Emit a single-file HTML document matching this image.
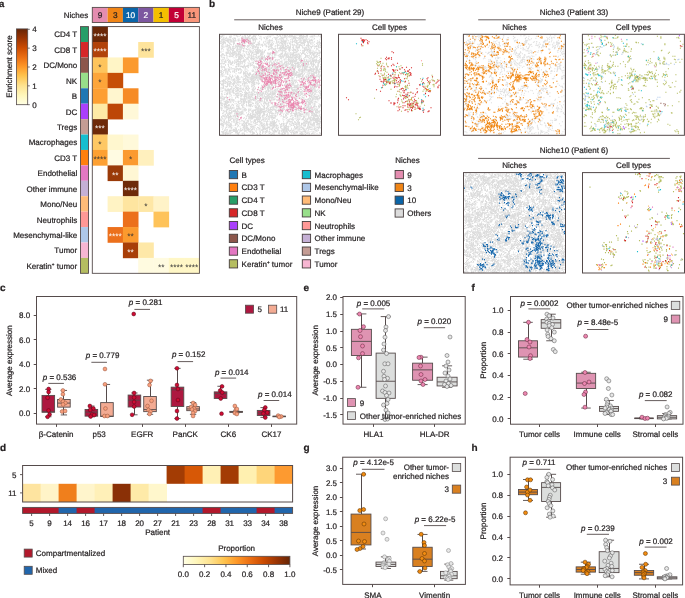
<!DOCTYPE html>
<html><head><meta charset="utf-8"><style>
html,body{margin:0;padding:0;background:#fff;}
svg{display:block;will-change:transform;}
text{font-family:"Liberation Sans", sans-serif;stroke-width:0.22px;text-rendering:geometricPrecision;}
</style></head><body>
<svg width="685" height="598" viewBox="0 0 685 598" font-size="8" fill="#231f20">
<rect width="685" height="598" fill="#fff"/>
<text x="-1" y="6.9" font-size="9.6" stroke="#231f20" font-weight="bold">a</text>
<defs><linearGradient id="gA" x1="0" y1="1" x2="0" y2="0"><stop offset="0" stop-color="#ffffe5"/><stop offset="0.12" stop-color="#fff7bc"/><stop offset="0.25" stop-color="#fee391"/><stop offset="0.38" stop-color="#fec44f"/><stop offset="0.5" stop-color="#fe9929"/><stop offset="0.62" stop-color="#ec7014"/><stop offset="0.75" stop-color="#cc4c02"/><stop offset="0.88" stop-color="#993404"/><stop offset="1" stop-color="#662506"/></linearGradient><linearGradient id="gD" x1="0" y1="0" x2="1" y2="0"><stop offset="0" stop-color="#ffffe5"/><stop offset="0.12" stop-color="#fff7bc"/><stop offset="0.25" stop-color="#fee391"/><stop offset="0.38" stop-color="#fec44f"/><stop offset="0.5" stop-color="#fe9929"/><stop offset="0.62" stop-color="#ec7014"/><stop offset="0.75" stop-color="#cc4c02"/><stop offset="0.88" stop-color="#993404"/><stop offset="1" stop-color="#662506"/></linearGradient></defs>
<rect x="16.4" y="28.9" width="11.3" height="75.8" fill="url(#gA)" stroke="#554b4b" stroke-width="0.8"/>
<line x1="27.8" y1="104.7" x2="29.8" y2="104.7" stroke="#554b4b" stroke-width="0.8"/>
<text x="32.2" y="107.6" stroke="#231f20">0</text>
<line x1="27.8" y1="85.85" x2="29.8" y2="85.85" stroke="#554b4b" stroke-width="0.8"/>
<text x="32.2" y="88.75" stroke="#231f20">1</text>
<line x1="27.8" y1="67" x2="29.8" y2="67" stroke="#554b4b" stroke-width="0.8"/>
<text x="32.2" y="69.9" stroke="#231f20">2</text>
<line x1="27.8" y1="48.15" x2="29.8" y2="48.15" stroke="#554b4b" stroke-width="0.8"/>
<text x="32.2" y="51.05" stroke="#231f20">3</text>
<line x1="27.8" y1="29.3" x2="29.8" y2="29.3" stroke="#554b4b" stroke-width="0.8"/>
<text x="32.2" y="32.2" stroke="#231f20">4</text>
<text stroke="#231f20" transform="translate(11.9,66.5) rotate(-90)" text-anchor="middle">Enrichment score</text>
<text x="88.2" y="17.9" text-anchor="end" stroke="#231f20">Niches</text>
<rect x="92.3" y="7.4" width="15.3" height="15.1" fill="#e48db0"/>
<text x="99.95" y="17.9" text-anchor="middle" stroke="#231f20" font-size="8.3">9</text>
<rect x="107.6" y="7.4" width="15.3" height="15.1" fill="#f08516"/>
<text x="115.25" y="17.9" text-anchor="middle" stroke="#231f20" font-size="8.3">3</text>
<rect x="122.9" y="7.4" width="15.3" height="15.1" fill="#0b65a8"/>
<text x="130.55" y="17.9" text-anchor="middle" fill="#fff" stroke="#fff" font-size="8.3">10</text>
<rect x="138.2" y="7.4" width="15.3" height="15.1" fill="#7d57a0"/>
<text x="145.85" y="17.9" text-anchor="middle" fill="#fff" stroke="#fff" font-size="8.3">2</text>
<rect x="153.5" y="7.4" width="15.3" height="15.1" fill="#f4c000"/>
<text x="161.15" y="17.9" text-anchor="middle" stroke="#231f20" font-size="8.3">1</text>
<rect x="168.8" y="7.4" width="15.3" height="15.1" fill="#c20036"/>
<text x="176.45" y="17.9" text-anchor="middle" fill="#fff" stroke="#fff" font-size="8.3">5</text>
<rect x="184.1" y="7.4" width="15.3" height="15.1" fill="#f9957a"/>
<text x="191.75" y="17.9" text-anchor="middle" stroke="#231f20" font-size="8.3">11</text>
<rect x="92.3" y="7.4" width="107.1" height="15.1" fill="none" stroke="#554b4b" stroke-width="0.9"/>
<text x="77.2" y="37.46" text-anchor="end" stroke="#231f20">CD4 T</text>
<rect x="80.5" y="26.6" width="8" height="15.42" fill="#279e68"/>
<text x="77.2" y="52.88" text-anchor="end" stroke="#231f20">CD8 T</text>
<rect x="80.5" y="42.02" width="8" height="15.42" fill="#d62728"/>
<text x="77.2" y="68.3" text-anchor="end" stroke="#231f20">DC/Mono</text>
<rect x="80.5" y="57.44" width="8" height="15.42" fill="#8c564b"/>
<text x="77.2" y="83.72" text-anchor="end" stroke="#231f20">NK</text>
<rect x="80.5" y="72.86" width="8" height="15.42" fill="#98df8a"/>
<text x="77.2" y="99.14" text-anchor="end" stroke="#231f20">B</text>
<rect x="80.5" y="88.28" width="8" height="15.42" fill="#1f77b4"/>
<text x="77.2" y="114.56" text-anchor="end" stroke="#231f20">DC</text>
<rect x="80.5" y="103.7" width="8" height="15.42" fill="#aa40fc"/>
<text x="77.2" y="129.98" text-anchor="end" stroke="#231f20">Tregs</text>
<rect x="80.5" y="119.12" width="8" height="15.42" fill="#c49c94"/>
<text x="77.2" y="145.4" text-anchor="end" stroke="#231f20">Macrophages</text>
<rect x="80.5" y="134.54" width="8" height="15.42" fill="#17becf"/>
<text x="77.2" y="160.82" text-anchor="end" stroke="#231f20">CD3 T</text>
<rect x="80.5" y="149.96" width="8" height="15.42" fill="#ff7f0e"/>
<text x="77.2" y="176.24" text-anchor="end" stroke="#231f20">Endothelial</text>
<rect x="80.5" y="165.38" width="8" height="15.42" fill="#e377c2"/>
<text x="77.2" y="191.66" text-anchor="end" stroke="#231f20">Other immune</text>
<rect x="80.5" y="180.8" width="8" height="15.42" fill="#c5b0d5"/>
<text x="77.2" y="207.08" text-anchor="end" stroke="#231f20">Mono/Neu</text>
<rect x="80.5" y="196.22" width="8" height="15.42" fill="#ffbb78"/>
<text x="77.2" y="222.5" text-anchor="end" stroke="#231f20">Neutrophils</text>
<rect x="80.5" y="211.64" width="8" height="15.42" fill="#ff9896"/>
<text x="77.2" y="237.92" text-anchor="end" stroke="#231f20">Mesenchymal-like</text>
<rect x="80.5" y="227.06" width="8" height="15.42" fill="#aec7e8"/>
<text x="77.2" y="253.34" text-anchor="end" stroke="#231f20">Tumor</text>
<rect x="80.5" y="242.48" width="8" height="15.42" fill="#f7b6d2"/>
<text x="77.2" y="268.76" text-anchor="end" stroke="#231f20">Keratin<tspan font-size="4.6" dy="-2.6">+</tspan><tspan dy="2.6"> tumor</tspan></text>
<rect x="80.5" y="257.9" width="8" height="15.42" fill="#b5bd61"/>
<rect x="80.5" y="26.6" width="8" height="246.72" fill="none" stroke="#554b4b" stroke-width="0.9"/>
<rect x="92.3" y="26.6" width="15.6" height="15.72" fill="#6a2808"/>
<rect x="92.3" y="42.02" width="15.6" height="15.72" fill="#b1420a"/>
<rect x="138.2" y="42.02" width="15.6" height="15.72" fill="#fee49c"/>
<rect x="92.3" y="57.44" width="15.6" height="15.72" fill="#fec45c"/>
<rect x="107.6" y="57.44" width="15.6" height="15.72" fill="#fff5c6"/>
<rect x="122.9" y="57.44" width="15.6" height="15.72" fill="#fb9a2e"/>
<rect x="92.3" y="72.86" width="15.6" height="15.72" fill="#fda53a"/>
<rect x="107.6" y="72.86" width="15.6" height="15.72" fill="#c64e06"/>
<rect x="92.3" y="88.28" width="15.6" height="15.72" fill="#fd9f33"/>
<rect x="107.6" y="88.28" width="15.6" height="15.72" fill="#fff6cf"/>
<rect x="122.9" y="88.28" width="15.6" height="15.72" fill="#f68b26"/>
<rect x="92.3" y="103.7" width="15.6" height="15.72" fill="#feeaa6"/>
<rect x="107.6" y="103.7" width="15.6" height="15.72" fill="#bd4607"/>
<rect x="122.9" y="103.7" width="15.6" height="15.72" fill="#fff8d8"/>
<rect x="92.3" y="119.12" width="15.6" height="15.72" fill="#6e2a0a"/>
<rect x="92.3" y="134.54" width="15.6" height="15.72" fill="#fec864"/>
<rect x="107.6" y="134.54" width="15.6" height="15.72" fill="#fff7cf"/>
<rect x="122.9" y="134.54" width="15.6" height="15.72" fill="#fff9da"/>
<rect x="92.3" y="149.96" width="15.6" height="15.72" fill="#fda033"/>
<rect x="107.6" y="149.96" width="15.6" height="15.72" fill="#fffbe2"/>
<rect x="122.9" y="149.96" width="15.6" height="15.72" fill="#fb9a30"/>
<rect x="138.2" y="149.96" width="15.6" height="15.72" fill="#fff0be"/>
<rect x="107.6" y="165.38" width="15.6" height="15.72" fill="#9a3a08"/>
<rect x="122.9" y="165.38" width="15.6" height="15.72" fill="#fff7d4"/>
<rect x="122.9" y="180.8" width="15.6" height="15.72" fill="#6e2a0a"/>
<rect x="107.6" y="196.22" width="15.6" height="15.72" fill="#fff3c4"/>
<rect x="122.9" y="196.22" width="15.6" height="15.72" fill="#fee5a0"/>
<rect x="138.2" y="196.22" width="15.6" height="15.72" fill="#fee7a6"/>
<rect x="153.5" y="196.22" width="15.6" height="15.72" fill="#fff3c8"/>
<rect x="122.9" y="211.64" width="15.6" height="15.72" fill="#ec701c"/>
<rect x="153.5" y="211.64" width="15.6" height="15.72" fill="#fec35a"/>
<rect x="107.6" y="227.06" width="15.6" height="15.72" fill="#ec701c"/>
<rect x="122.9" y="227.06" width="15.6" height="15.72" fill="#fb9a2e"/>
<rect x="122.9" y="242.48" width="15.6" height="15.72" fill="#a83e08"/>
<rect x="138.2" y="242.48" width="15.6" height="15.72" fill="#fee8a8"/>
<rect x="138.2" y="257.9" width="15.6" height="15.72" fill="#fffbe0"/>
<rect x="153.5" y="257.9" width="15.6" height="15.72" fill="#fffbe0"/>
<rect x="168.8" y="257.9" width="15.6" height="15.72" fill="#fff7c6"/>
<rect x="184.1" y="257.9" width="15.6" height="15.72" fill="#fff7c6"/>
<text x="99.95" y="38.91" text-anchor="middle" fill="#fff" stroke="#fff" font-size="8.4" style="stroke:none">****</text>
<text x="99.95" y="54.33" text-anchor="middle" fill="#fff" stroke="#fff" font-size="8.4" style="stroke:none">****</text>
<text x="145.85" y="54.33" text-anchor="middle" fill="#333" stroke="#333" font-size="8.4" style="stroke:none">***</text>
<text x="99.95" y="69.75" text-anchor="middle" fill="#333" stroke="#333" font-size="8.4" style="stroke:none">*</text>
<text x="99.95" y="85.17" text-anchor="middle" fill="#333" stroke="#333" font-size="8.4" style="stroke:none">*</text>
<text x="99.95" y="131.43" text-anchor="middle" fill="#fff" stroke="#fff" font-size="8.4" style="stroke:none">***</text>
<text x="99.95" y="146.85" text-anchor="middle" fill="#333" stroke="#333" font-size="8.4" style="stroke:none">*</text>
<text x="99.95" y="162.27" text-anchor="middle" fill="#333" stroke="#333" font-size="8.4" style="stroke:none">****</text>
<text x="130.55" y="162.27" text-anchor="middle" fill="#333" stroke="#333" font-size="8.4" style="stroke:none">*</text>
<text x="115.25" y="177.69" text-anchor="middle" fill="#fff" stroke="#fff" font-size="8.4" style="stroke:none">**</text>
<text x="130.55" y="193.11" text-anchor="middle" fill="#fff" stroke="#fff" font-size="8.4" style="stroke:none">****</text>
<text x="145.85" y="208.53" text-anchor="middle" fill="#333" stroke="#333" font-size="8.4" style="stroke:none">*</text>
<text x="115.25" y="239.37" text-anchor="middle" fill="#fff" stroke="#fff" font-size="8.4" style="stroke:none">****</text>
<text x="130.55" y="239.37" text-anchor="middle" fill="#333" stroke="#333" font-size="8.4" style="stroke:none">**</text>
<text x="130.55" y="254.79" text-anchor="middle" fill="#fff" stroke="#fff" font-size="8.4" style="stroke:none">**</text>
<text x="161.15" y="270.21" text-anchor="middle" fill="#333" stroke="#333" font-size="8.4" style="stroke:none">**</text>
<text x="176.45" y="270.21" text-anchor="middle" fill="#333" stroke="#333" font-size="8.4" style="stroke:none">****</text>
<text x="191.75" y="270.21" text-anchor="middle" fill="#333" stroke="#333" font-size="8.4" style="stroke:none">****</text>
<rect x="92.3" y="26.6" width="107.1" height="246.72" fill="none" stroke="#554b4b" stroke-width="0.9"/>
<text x="209" y="7.3" font-size="10" stroke="#231f20" font-weight="bold">b</text>
<text x="330" y="14.7" text-anchor="middle" stroke="#231f20">Niche9 (Patient 29)</text>
<line x1="234.2" y1="19.8" x2="425.7" y2="19.8" stroke="#554b4b" stroke-width="0.9"/>
<text x="574" y="14.7" text-anchor="middle" stroke="#231f20">Niche3 (Patient 33)</text>
<line x1="478.2" y1="19.8" x2="669.9" y2="19.8" stroke="#554b4b" stroke-width="0.9"/>
<text x="574" y="152.6" text-anchor="middle" stroke="#231f20">Niche10 (Patient 6)</text>
<line x1="478.1" y1="158.4" x2="669.9" y2="158.4" stroke="#554b4b" stroke-width="0.9"/>
<text x="270.5" y="29.8" text-anchor="middle" stroke="#231f20">Niches</text>
<text x="389.5" y="29.8" text-anchor="middle" stroke="#231f20">Cell types</text>
<text x="514.4" y="29.8" text-anchor="middle" stroke="#231f20">Niches</text>
<text x="633.4" y="29.8" text-anchor="middle" stroke="#231f20">Cell types</text>
<text x="514.5" y="168.1" text-anchor="middle" stroke="#231f20">Niches</text>
<text x="633.5" y="168.1" text-anchor="middle" stroke="#231f20">Cell types</text>
<g transform="translate(219.5,34.3) scale(0.5)">
<path stroke="#dbdbdb" stroke-width="2" stroke-linecap="square" d="M6 2h0M29 2h0M31 2h0M42 2h0M50 2h0M60 2h0M73 2h0M78 2h0M107 2h0M116 2h0M130 2h0M131 2h0M136 2h0M140 2h0M144 2h0M151 2h0M155 2h0M159 2h0M162 2h0M163 2h0M164 2h0M168 2h0M175 2h0M176 2h0M198 2h0M202 2h0M7 3h0M9 3h0M23 3h0M34 3h0M35 3h0M52 3h0M56 3h0M62 3h0M68 3h0M70 3h0M99 3h0M103 3h0M115 3h0M120 3h0M122 3h0M126 3h0M129 3h0M130 3h0M132 3h0M133 3h0M142 3h0M146 3h0M161 3h0M162 3h0M163 3h0M164 3h0M165 3h0M174 3h0M175 3h0M187 3h0M190 3h0M2 4h0M3 4h0M4 4h0M5 4h0M20 4h0M23 4h0M39 4h0M46 4h0M52 4h0M60 4h0M68 4h0M72 4h0M81 4h0M83 4h0M96 4h0M122 4h0M132 4h0M133 4h0M139 4h0M145 4h0M147 4h0M150 4h0M160 4h0M161 4h0M163 4h0M167 4h0M170 4h0M173 4h0M175 4h0M183 4h0M184 4h0M187 4h0M191 4h0M199 4h0M202 4h0M6 5h0M23 5h0M36 5h0M49 5h0M52 5h0M58 5h0M67 5h0M69 5h0M71 5h0M93 5h0M99 5h0M101 5h0M102 5h0M118 5h0M130 5h0M132 5h0M133 5h0M137 5h0M139 5h0M141 5h0M143 5h0M144 5h0M147 5h0M149 5h0M152 5h0M161 5h0M166 5h0M168 5h0M172 5h0M176 5h0M181 5h0M186 5h0M195 5h0M202 5h0M3 6h0M4 6h0M14 6h0M22 6h0M44 6h0M49 6h0M52 6h0M53 6h0M58 6h0M59 6h0M65 6h0M66 6h0M67 6h0M72 6h0M89 6h0M109 6h0M116 6h0M123 6h0M124 6h0M125 6h0M129 6h0M130 6h0M131 6h0M141 6h0M147 6h0M148 6h0M150 6h0M154 6h0M161 6h0M164 6h0M165 6h0M169 6h0M175 6h0M183 6h0M8 7h0M9 7h0M20 7h0M22 7h0M23 7h0M29 7h0M46 7h0M47 7h0M55 7h0M57 7h0M64 7h0M65 7h0M83 7h0M89 7h0M94 7h0M97 7h0M110 7h0M112 7h0M114 7h0M127 7h0M129 7h0M135 7h0M148 7h0M149 7h0M150 7h0M152 7h0M155 7h0M158 7h0M163 7h0M167 7h0M168 7h0M173 7h0M187 7h0M202 7h0M2 8h0M12 8h0M13 8h0M17 8h0M30 8h0M31 8h0M32 8h0M45 8h0M51 8h0M53 8h0M55 8h0M56 8h0M57 8h0M59 8h0M60 8h0M61 8h0M64 8h0M67 8h0M74 8h0M80 8h0M90 8h0M94 8h0M96 8h0M113 8h0M126 8h0M134 8h0M148 8h0M151 8h0M153 8h0M156 8h0M159 8h0M160 8h0M161 8h0M163 8h0M166 8h0M190 8h0M7 9h0M9 9h0M13 9h0M15 9h0M26 9h0M29 9h0M31 9h0M39 9h0M46 9h0M48 9h0M51 9h0M52 9h0M62 9h0M66 9h0M67 9h0M70 9h0M71 9h0M73 9h0M74 9h0M83 9h0M94 9h0M96 9h0M106 9h0M113 9h0M115 9h0M120 9h0M122 9h0M124 9h0M125 9h0M126 9h0M127 9h0M145 9h0M148 9h0M150 9h0M152 9h0M160 9h0M162 9h0M165 9h0M167 9h0M173 9h0M174 9h0M179 9h0M190 9h0M4 10h0M6 10h0M8 10h0M11 10h0M18 10h0M21 10h0M28 10h0M37 10h0M44 10h0M54 10h0M56 10h0M57 10h0M61 10h0M67 10h0M68 10h0M69 10h0M75 10h0M93 10h0M112 10h0M128 10h0M135 10h0M145 10h0M146 10h0M152 10h0M159 10h0M165 10h0M170 10h0M171 10h0M175 10h0M177 10h0M184 10h0M187 10h0M201 10h0M7 11h0M10 11h0M16 11h0M20 11h0M21 11h0M22 11h0M23 11h0M28 11h0M32 11h0M39 11h0M45 11h0M49 11h0M53 11h0M55 11h0M57 11h0M59 11h0M67 11h0M71 11h0M72 11h0M84 11h0M100 11h0M113 11h0M117 11h0M119 11h0M123 11h0M142 11h0M152 11h0M159 11h0M162 11h0M168 11h0M173 11h0M181 11h0M184 11h0M7 12h0M12 12h0M14 12h0M15 12h0M16 12h0M18 12h0M19 12h0M22 12h0M25 12h0M32 12h0M39 12h0M43 12h0M50 12h0M55 12h0M57 12h0M62 12h0M68 12h0M69 12h0M97 12h0M100 12h0M102 12h0M104 12h0M105 12h0M114 12h0M123 12h0M125 12h0M129 12h0M133 12h0M135 12h0M150 12h0M153 12h0M154 12h0M159 12h0M167 12h0M172 12h0M180 12h0M182 12h0M184 12h0M185 12h0M4 13h0M7 13h0M11 13h0M14 13h0M15 13h0M24 13h0M28 13h0M30 13h0M31 13h0M35 13h0M38 13h0M39 13h0M46 13h0M52 13h0M56 13h0M57 13h0M58 13h0M60 13h0M61 13h0M67 13h0M68 13h0M72 13h0M93 13h0M99 13h0M106 13h0M124 13h0M128 13h0M131 13h0M138 13h0M146 13h0M153 13h0M154 13h0M156 13h0M162 13h0M164 13h0M168 13h0M169 13h0M170 13h0M171 13h0M175 13h0M181 13h0M185 13h0M186 13h0M196 13h0M2 14h0M8 14h0M10 14h0M16 14h0M25 14h0M27 14h0M31 14h0M45 14h0M47 14h0M50 14h0M55 14h0M57 14h0M60 14h0M62 14h0M72 14h0M80 14h0M89 14h0M97 14h0M99 14h0M100 14h0M114 14h0M115 14h0M124 14h0M125 14h0M126 14h0M127 14h0M130 14h0M132 14h0M133 14h0M145 14h0M147 14h0M149 14h0M153 14h0M161 14h0M173 14h0M175 14h0M176 14h0M179 14h0M199 14h0M200 14h0M4 15h0M7 15h0M8 15h0M16 15h0M18 15h0M19 15h0M22 15h0M23 15h0M24 15h0M28 15h0M29 15h0M48 15h0M55 15h0M57 15h0M60 15h0M61 15h0M92 15h0M103 15h0M109 15h0M118 15h0M119 15h0M126 15h0M128 15h0M130 15h0M131 15h0M132 15h0M133 15h0M142 15h0M147 15h0M150 15h0M154 15h0M161 15h0M168 15h0M169 15h0M171 15h0M177 15h0M180 15h0M181 15h0M190 15h0M6 16h0M10 16h0M11 16h0M12 16h0M18 16h0M27 16h0M28 16h0M44 16h0M46 16h0M56 16h0M59 16h0M63 16h0M67 16h0M69 16h0M71 16h0M77 16h0M79 16h0M88 16h0M95 16h0M100 16h0M101 16h0M106 16h0M114 16h0M117 16h0M121 16h0M122 16h0M127 16h0M132 16h0M133 16h0M146 16h0M152 16h0M155 16h0M160 16h0M162 16h0M164 16h0M166 16h0M170 16h0M172 16h0M176 16h0M177 16h0M181 16h0M185 16h0M187 16h0M196 16h0M200 16h0M3 17h0M8 17h0M9 17h0M19 17h0M30 17h0M40 17h0M47 17h0M51 17h0M62 17h0M69 17h0M96 17h0M98 17h0M99 17h0M117 17h0M123 17h0M124 17h0M128 17h0M130 17h0M137 17h0M141 17h0M145 17h0M146 17h0M151 17h0M154 17h0M157 17h0M158 17h0M167 17h0M169 17h0M177 17h0M179 17h0M183 17h0M198 17h0M199 17h0M200 17h0M202 17h0M2 18h0M4 18h0M8 18h0M11 18h0M20 18h0M21 18h0M28 18h0M30 18h0M47 18h0M50 18h0M51 18h0M62 18h0M65 18h0M70 18h0M78 18h0M80 18h0M89 18h0M99 18h0M104 18h0M113 18h0M123 18h0M124 18h0M126 18h0M130 18h0M140 18h0M155 18h0M164 18h0M168 18h0M187 18h0M194 18h0M196 18h0M7 19h0M8 19h0M12 19h0M20 19h0M29 19h0M35 19h0M36 19h0M37 19h0M38 19h0M43 19h0M47 19h0M50 19h0M65 19h0M66 19h0M67 19h0M68 19h0M79 19h0M93 19h0M95 19h0M99 19h0M107 19h0M108 19h0M115 19h0M120 19h0M125 19h0M126 19h0M127 19h0M130 19h0M132 19h0M133 19h0M136 19h0M140 19h0M142 19h0M154 19h0M155 19h0M156 19h0M163 19h0M166 19h0M167 19h0M170 19h0M177 19h0M178 19h0M182 19h0M183 19h0M201 19h0M202 19h0M6 20h0M7 20h0M22 20h0M28 20h0M37 20h0M61 20h0M62 20h0M65 20h0M67 20h0M75 20h0M76 20h0M78 20h0M83 20h0M86 20h0M90 20h0M98 20h0M102 20h0M103 20h0M104 20h0M116 20h0M125 20h0M132 20h0M157 20h0M162 20h0M170 20h0M177 20h0M178 20h0M185 20h0M197 20h0M200 20h0M5 21h0M6 21h0M15 21h0M16 21h0M24 21h0M28 21h0M38 21h0M39 21h0M40 21h0M44 21h0M66 21h0M73 21h0M74 21h0M75 21h0M76 21h0M79 21h0M80 21h0M84 21h0M92 21h0M101 21h0M103 21h0M104 21h0M106 21h0M117 21h0M126 21h0M127 21h0M129 21h0M142 21h0M145 21h0M146 21h0M147 21h0M150 21h0M156 21h0M159 21h0M160 21h0M170 21h0M177 21h0M190 21h0M196 21h0M7 22h0M16 22h0M17 22h0M20 22h0M32 22h0M33 22h0M35 22h0M37 22h0M38 22h0M43 22h0M44 22h0M60 22h0M63 22h0M64 22h0M74 22h0M83 22h0M86 22h0M87 22h0M91 22h0M99 22h0M105 22h0M117 22h0M118 22h0M119 22h0M121 22h0M123 22h0M132 22h0M136 22h0M147 22h0M149 22h0M153 22h0M162 22h0M164 22h0M167 22h0M170 22h0M174 22h0M178 22h0M179 22h0M187 22h0M198 22h0M201 22h0M4 23h0M13 23h0M18 23h0M19 23h0M38 23h0M41 23h0M44 23h0M46 23h0M48 23h0M49 23h0M50 23h0M52 23h0M56 23h0M57 23h0M58 23h0M67 23h0M68 23h0M70 23h0M78 23h0M94 23h0M102 23h0M103 23h0M104 23h0M105 23h0M112 23h0M115 23h0M116 23h0M124 23h0M127 23h0M128 23h0M129 23h0M137 23h0M138 23h0M142 23h0M153 23h0M155 23h0M159 23h0M160 23h0M164 23h0M174 23h0M176 23h0M177 23h0M180 23h0M194 23h0M198 23h0M202 23h0M9 24h0M13 24h0M16 24h0M21 24h0M28 24h0M31 24h0M33 24h0M34 24h0M36 24h0M38 24h0M40 24h0M41 24h0M42 24h0M44 24h0M47 24h0M50 24h0M55 24h0M58 24h0M66 24h0M68 24h0M75 24h0M86 24h0M93 24h0M95 24h0M100 24h0M104 24h0M111 24h0M116 24h0M122 24h0M126 24h0M127 24h0M128 24h0M132 24h0M134 24h0M135 24h0M148 24h0M154 24h0M157 24h0M160 24h0M166 24h0M177 24h0M178 24h0M182 24h0M186 24h0M187 24h0M192 24h0M194 24h0M195 24h0M197 24h0M198 24h0M4 25h0M6 25h0M7 25h0M13 25h0M15 25h0M20 25h0M26 25h0M27 25h0M35 25h0M37 25h0M39 25h0M59 25h0M65 25h0M69 25h0M71 25h0M72 25h0M74 25h0M94 25h0M98 25h0M102 25h0M104 25h0M125 25h0M132 25h0M134 25h0M139 25h0M141 25h0M142 25h0M153 25h0M160 25h0M184 25h0M190 25h0M192 25h0M194 25h0M199 25h0M9 26h0M19 26h0M21 26h0M22 26h0M32 26h0M35 26h0M36 26h0M42 26h0M44 26h0M56 26h0M62 26h0M71 26h0M72 26h0M76 26h0M78 26h0M82 26h0M98 26h0M99 26h0M104 26h0M120 26h0M123 26h0M126 26h0M127 26h0M129 26h0M138 26h0M141 26h0M142 26h0M146 26h0M147 26h0M153 26h0M157 26h0M158 26h0M159 26h0M169 26h0M172 26h0M174 26h0M179 26h0M183 26h0M184 26h0M198 26h0M199 26h0M202 26h0M7 27h0M17 27h0M19 27h0M27 27h0M40 27h0M42 27h0M46 27h0M50 27h0M66 27h0M68 27h0M72 27h0M75 27h0M77 27h0M78 27h0M105 27h0M106 27h0M116 27h0M122 27h0M124 27h0M126 27h0M127 27h0M128 27h0M129 27h0M131 27h0M135 27h0M136 27h0M140 27h0M148 27h0M154 27h0M156 27h0M157 27h0M160 27h0M166 27h0M167 27h0M177 27h0M178 27h0M184 27h0M199 27h0M4 28h0M5 28h0M6 28h0M22 28h0M23 28h0M26 28h0M28 28h0M30 28h0M31 28h0M36 28h0M41 28h0M44 28h0M47 28h0M48 28h0M59 28h0M67 28h0M103 28h0M105 28h0M111 28h0M112 28h0M117 28h0M119 28h0M121 28h0M122 28h0M124 28h0M125 28h0M129 28h0M130 28h0M132 28h0M133 28h0M137 28h0M139 28h0M140 28h0M142 28h0M155 28h0M169 28h0M171 28h0M190 28h0M195 28h0M5 29h0M15 29h0M18 29h0M21 29h0M27 29h0M29 29h0M35 29h0M37 29h0M48 29h0M51 29h0M54 29h0M65 29h0M67 29h0M76 29h0M77 29h0M101 29h0M103 29h0M108 29h0M111 29h0M115 29h0M120 29h0M124 29h0M128 29h0M134 29h0M147 29h0M148 29h0M157 29h0M170 29h0M171 29h0M174 29h0M180 29h0M183 29h0M194 29h0M195 29h0M16 30h0M17 30h0M40 30h0M42 30h0M44 30h0M54 30h0M57 30h0M61 30h0M70 30h0M73 30h0M76 30h0M98 30h0M100 30h0M105 30h0M108 30h0M121 30h0M122 30h0M126 30h0M131 30h0M132 30h0M133 30h0M139 30h0M140 30h0M149 30h0M150 30h0M152 30h0M155 30h0M171 30h0M173 30h0M175 30h0M176 30h0M177 30h0M178 30h0M179 30h0M195 30h0M197 30h0M4 31h0M8 31h0M15 31h0M22 31h0M23 31h0M24 31h0M27 31h0M28 31h0M34 31h0M36 31h0M38 31h0M56 31h0M59 31h0M73 31h0M74 31h0M77 31h0M79 31h0M80 31h0M86 31h0M98 31h0M110 31h0M111 31h0M112 31h0M122 31h0M131 31h0M138 31h0M140 31h0M143 31h0M148 31h0M151 31h0M156 31h0M170 31h0M173 31h0M177 31h0M182 31h0M16 32h0M18 32h0M20 32h0M26 32h0M27 32h0M28 32h0M35 32h0M41 32h0M42 32h0M48 32h0M68 32h0M72 32h0M76 32h0M79 32h0M81 32h0M82 32h0M83 32h0M91 32h0M92 32h0M118 32h0M123 32h0M126 32h0M128 32h0M140 32h0M141 32h0M146 32h0M147 32h0M149 32h0M152 32h0M158 32h0M162 32h0M167 32h0M169 32h0M172 32h0M175 32h0M180 32h0M182 32h0M187 32h0M26 33h0M34 33h0M36 33h0M45 33h0M48 33h0M60 33h0M62 33h0M65 33h0M76 33h0M77 33h0M78 33h0M81 33h0M85 33h0M106 33h0M111 33h0M113 33h0M119 33h0M121 33h0M124 33h0M130 33h0M131 33h0M139 33h0M149 33h0M152 33h0M155 33h0M157 33h0M166 33h0M169 33h0M170 33h0M175 33h0M176 33h0M177 33h0M180 33h0M183 33h0M193 33h0M198 33h0M200 33h0M7 34h0M17 34h0M30 34h0M37 34h0M39 34h0M40 34h0M49 34h0M51 34h0M62 34h0M73 34h0M76 34h0M81 34h0M82 34h0M89 34h0M90 34h0M107 34h0M114 34h0M126 34h0M133 34h0M154 34h0M169 34h0M170 34h0M179 34h0M3 35h0M17 35h0M19 35h0M22 35h0M26 35h0M29 35h0M32 35h0M33 35h0M37 35h0M40 35h0M42 35h0M48 35h0M54 35h0M55 35h0M59 35h0M64 35h0M67 35h0M71 35h0M72 35h0M74 35h0M75 35h0M77 35h0M78 35h0M79 35h0M81 35h0M83 35h0M85 35h0M86 35h0M90 35h0M107 35h0M108 35h0M115 35h0M117 35h0M129 35h0M133 35h0M140 35h0M148 35h0M156 35h0M167 35h0M179 35h0M182 35h0M187 35h0M189 35h0M201 35h0M3 36h0M13 36h0M14 36h0M17 36h0M22 36h0M28 36h0M29 36h0M30 36h0M41 36h0M53 36h0M58 36h0M62 36h0M66 36h0M69 36h0M74 36h0M76 36h0M79 36h0M83 36h0M84 36h0M85 36h0M86 36h0M89 36h0M112 36h0M113 36h0M132 36h0M150 36h0M152 36h0M154 36h0M166 36h0M169 36h0M174 36h0M180 36h0M181 36h0M184 36h0M186 36h0M190 36h0M192 36h0M194 36h0M199 36h0M200 36h0M15 37h0M17 37h0M19 37h0M25 37h0M26 37h0M28 37h0M30 37h0M33 37h0M38 37h0M39 37h0M42 37h0M65 37h0M66 37h0M67 37h0M73 37h0M74 37h0M76 37h0M77 37h0M79 37h0M85 37h0M89 37h0M97 37h0M102 37h0M105 37h0M115 37h0M126 37h0M137 37h0M142 37h0M145 37h0M148 37h0M150 37h0M162 37h0M168 37h0M179 37h0M182 37h0M185 37h0M196 37h0M200 37h0M202 37h0M13 38h0M14 38h0M15 38h0M16 38h0M17 38h0M19 38h0M23 38h0M25 38h0M29 38h0M32 38h0M34 38h0M35 38h0M38 38h0M59 38h0M60 38h0M64 38h0M74 38h0M75 38h0M76 38h0M78 38h0M83 38h0M84 38h0M85 38h0M87 38h0M96 38h0M100 38h0M106 38h0M110 38h0M113 38h0M123 38h0M124 38h0M126 38h0M131 38h0M132 38h0M135 38h0M143 38h0M147 38h0M148 38h0M159 38h0M166 38h0M168 38h0M169 38h0M176 38h0M181 38h0M182 38h0M183 38h0M186 38h0M188 38h0M189 38h0M193 38h0M196 38h0M198 38h0M200 38h0M6 39h0M7 39h0M20 39h0M23 39h0M24 39h0M26 39h0M29 39h0M38 39h0M40 39h0M47 39h0M54 39h0M67 39h0M77 39h0M82 39h0M85 39h0M98 39h0M99 39h0M100 39h0M102 39h0M105 39h0M108 39h0M112 39h0M124 39h0M125 39h0M132 39h0M135 39h0M139 39h0M147 39h0M148 39h0M153 39h0M157 39h0M164 39h0M165 39h0M171 39h0M183 39h0M190 39h0M191 39h0M196 39h0M200 39h0M4 40h0M7 40h0M8 40h0M22 40h0M26 40h0M29 40h0M38 40h0M39 40h0M42 40h0M43 40h0M50 40h0M56 40h0M58 40h0M60 40h0M64 40h0M70 40h0M71 40h0M72 40h0M74 40h0M83 40h0M84 40h0M87 40h0M97 40h0M101 40h0M111 40h0M113 40h0M122 40h0M130 40h0M139 40h0M142 40h0M144 40h0M146 40h0M148 40h0M153 40h0M158 40h0M170 40h0M172 40h0M181 40h0M182 40h0M187 40h0M188 40h0M196 40h0M6 41h0M14 41h0M20 41h0M27 41h0M29 41h0M31 41h0M33 41h0M34 41h0M36 41h0M37 41h0M39 41h0M41 41h0M42 41h0M60 41h0M68 41h0M82 41h0M84 41h0M86 41h0M101 41h0M106 41h0M110 41h0M111 41h0M120 41h0M124 41h0M127 41h0M131 41h0M133 41h0M134 41h0M135 41h0M136 41h0M145 41h0M146 41h0M151 41h0M153 41h0M154 41h0M156 41h0M160 41h0M164 41h0M186 41h0M189 41h0M194 41h0M10 42h0M11 42h0M14 42h0M15 42h0M27 42h0M28 42h0M34 42h0M37 42h0M42 42h0M43 42h0M44 42h0M45 42h0M47 42h0M51 42h0M61 42h0M63 42h0M64 42h0M74 42h0M82 42h0M100 42h0M111 42h0M115 42h0M118 42h0M121 42h0M126 42h0M130 42h0M133 42h0M135 42h0M142 42h0M143 42h0M147 42h0M149 42h0M150 42h0M159 42h0M161 42h0M174 42h0M176 42h0M184 42h0M188 42h0M198 42h0M200 42h0M2 43h0M4 43h0M5 43h0M9 43h0M22 43h0M25 43h0M33 43h0M39 43h0M42 43h0M43 43h0M44 43h0M50 43h0M57 43h0M67 43h0M81 43h0M85 43h0M90 43h0M97 43h0M105 43h0M111 43h0M122 43h0M129 43h0M133 43h0M138 43h0M142 43h0M147 43h0M149 43h0M152 43h0M153 43h0M156 43h0M160 43h0M162 43h0M172 43h0M173 43h0M178 43h0M180 43h0M189 43h0M191 43h0M194 43h0M17 44h0M20 44h0M21 44h0M24 44h0M26 44h0M35 44h0M40 44h0M43 44h0M45 44h0M46 44h0M50 44h0M58 44h0M61 44h0M65 44h0M68 44h0M71 44h0M73 44h0M77 44h0M78 44h0M80 44h0M84 44h0M85 44h0M86 44h0M89 44h0M90 44h0M94 44h0M123 44h0M126 44h0M128 44h0M129 44h0M135 44h0M137 44h0M138 44h0M139 44h0M141 44h0M146 44h0M151 44h0M154 44h0M160 44h0M173 44h0M175 44h0M191 44h0M192 44h0M193 44h0M196 44h0M4 45h0M15 45h0M21 45h0M27 45h0M32 45h0M38 45h0M40 45h0M46 45h0M64 45h0M67 45h0M78 45h0M83 45h0M84 45h0M85 45h0M96 45h0M97 45h0M100 45h0M106 45h0M119 45h0M120 45h0M122 45h0M123 45h0M124 45h0M133 45h0M134 45h0M143 45h0M148 45h0M154 45h0M155 45h0M158 45h0M161 45h0M163 45h0M172 45h0M176 45h0M181 45h0M184 45h0M189 45h0M191 45h0M194 45h0M5 46h0M9 46h0M34 46h0M38 46h0M40 46h0M42 46h0M43 46h0M45 46h0M48 46h0M52 46h0M57 46h0M60 46h0M64 46h0M69 46h0M74 46h0M75 46h0M78 46h0M83 46h0M85 46h0M86 46h0M87 46h0M89 46h0M97 46h0M101 46h0M105 46h0M108 46h0M109 46h0M110 46h0M111 46h0M127 46h0M135 46h0M136 46h0M140 46h0M142 46h0M143 46h0M145 46h0M151 46h0M152 46h0M155 46h0M156 46h0M159 46h0M160 46h0M161 46h0M172 46h0M177 46h0M184 46h0M190 46h0M191 46h0M200 46h0M7 47h0M9 47h0M10 47h0M15 47h0M29 47h0M40 47h0M55 47h0M58 47h0M63 47h0M64 47h0M65 47h0M72 47h0M74 47h0M79 47h0M83 47h0M84 47h0M86 47h0M89 47h0M91 47h0M92 47h0M96 47h0M98 47h0M101 47h0M103 47h0M123 47h0M125 47h0M128 47h0M133 47h0M138 47h0M139 47h0M142 47h0M144 47h0M145 47h0M146 47h0M149 47h0M150 47h0M152 47h0M153 47h0M160 47h0M170 47h0M173 47h0M178 47h0M182 47h0M187 47h0M190 47h0M195 47h0M10 48h0M38 48h0M39 48h0M40 48h0M41 48h0M44 48h0M47 48h0M56 48h0M57 48h0M64 48h0M67 48h0M76 48h0M80 48h0M81 48h0M92 48h0M106 48h0M122 48h0M133 48h0M139 48h0M153 48h0M158 48h0M159 48h0M164 48h0M180 48h0M187 48h0M188 48h0M202 48h0M15 49h0M43 49h0M47 49h0M54 49h0M56 49h0M62 49h0M63 49h0M65 49h0M66 49h0M68 49h0M69 49h0M70 49h0M75 49h0M79 49h0M80 49h0M82 49h0M84 49h0M86 49h0M89 49h0M95 49h0M101 49h0M104 49h0M124 49h0M131 49h0M138 49h0M143 49h0M147 49h0M151 49h0M152 49h0M159 49h0M160 49h0M161 49h0M164 49h0M168 49h0M183 49h0M186 49h0M202 49h0M3 50h0M6 50h0M18 50h0M33 50h0M38 50h0M40 50h0M42 50h0M43 50h0M50 50h0M55 50h0M64 50h0M68 50h0M81 50h0M83 50h0M84 50h0M86 50h0M93 50h0M106 50h0M138 50h0M141 50h0M148 50h0M153 50h0M154 50h0M155 50h0M161 50h0M170 50h0M183 50h0M187 50h0M193 50h0M194 50h0M201 50h0M8 51h0M11 51h0M35 51h0M36 51h0M38 51h0M42 51h0M52 51h0M58 51h0M68 51h0M73 51h0M81 51h0M83 51h0M89 51h0M99 51h0M103 51h0M112 51h0M113 51h0M115 51h0M118 51h0M120 51h0M129 51h0M130 51h0M133 51h0M137 51h0M138 51h0M139 51h0M140 51h0M144 51h0M147 51h0M148 51h0M154 51h0M157 51h0M162 51h0M163 51h0M164 51h0M173 51h0M175 51h0M179 51h0M186 51h0M189 51h0M191 51h0M200 51h0M5 52h0M12 52h0M15 52h0M16 52h0M19 52h0M21 52h0M30 52h0M33 52h0M35 52h0M37 52h0M48 52h0M49 52h0M51 52h0M53 52h0M65 52h0M70 52h0M77 52h0M81 52h0M82 52h0M84 52h0M88 52h0M92 52h0M105 52h0M111 52h0M112 52h0M116 52h0M125 52h0M138 52h0M142 52h0M146 52h0M151 52h0M153 52h0M154 52h0M160 52h0M161 52h0M166 52h0M169 52h0M174 52h0M182 52h0M189 52h0M191 52h0M194 52h0M201 52h0M4 53h0M20 53h0M42 53h0M49 53h0M50 53h0M59 53h0M74 53h0M91 53h0M96 53h0M102 53h0M138 53h0M141 53h0M143 53h0M144 53h0M146 53h0M147 53h0M149 53h0M150 53h0M153 53h0M170 53h0M174 53h0M179 53h0M185 53h0M186 53h0M187 53h0M188 53h0M189 53h0M191 53h0M192 53h0M195 53h0M197 53h0M198 53h0M7 54h0M11 54h0M19 54h0M21 54h0M26 54h0M36 54h0M37 54h0M38 54h0M45 54h0M47 54h0M49 54h0M51 54h0M72 54h0M90 54h0M101 54h0M103 54h0M108 54h0M111 54h0M121 54h0M131 54h0M134 54h0M140 54h0M143 54h0M144 54h0M145 54h0M146 54h0M149 54h0M151 54h0M152 54h0M163 54h0M170 54h0M174 54h0M176 54h0M177 54h0M180 54h0M186 54h0M187 54h0M188 54h0M191 54h0M194 54h0M200 54h0M201 54h0M5 55h0M10 55h0M12 55h0M13 55h0M18 55h0M22 55h0M29 55h0M31 55h0M33 55h0M35 55h0M37 55h0M39 55h0M40 55h0M42 55h0M44 55h0M45 55h0M48 55h0M51 55h0M60 55h0M69 55h0M75 55h0M85 55h0M94 55h0M115 55h0M122 55h0M124 55h0M125 55h0M133 55h0M136 55h0M139 55h0M142 55h0M143 55h0M148 55h0M150 55h0M152 55h0M154 55h0M164 55h0M168 55h0M172 55h0M177 55h0M178 55h0M182 55h0M184 55h0M188 55h0M189 55h0M199 55h0M200 55h0M201 55h0M11 56h0M13 56h0M18 56h0M21 56h0M23 56h0M26 56h0M33 56h0M34 56h0M39 56h0M42 56h0M46 56h0M50 56h0M65 56h0M67 56h0M68 56h0M81 56h0M82 56h0M86 56h0M95 56h0M99 56h0M100 56h0M101 56h0M104 56h0M107 56h0M109 56h0M110 56h0M119 56h0M125 56h0M131 56h0M132 56h0M133 56h0M134 56h0M142 56h0M143 56h0M146 56h0M147 56h0M156 56h0M157 56h0M158 56h0M161 56h0M163 56h0M164 56h0M167 56h0M171 56h0M175 56h0M177 56h0M184 56h0M188 56h0M192 56h0M193 56h0M195 56h0M197 56h0M199 56h0M200 56h0M5 57h0M19 57h0M22 57h0M25 57h0M26 57h0M29 57h0M33 57h0M57 57h0M67 57h0M114 57h0M116 57h0M130 57h0M138 57h0M143 57h0M146 57h0M151 57h0M157 57h0M161 57h0M162 57h0M163 57h0M165 57h0M169 57h0M177 57h0M178 57h0M182 57h0M185 57h0M192 57h0M198 57h0M200 57h0M7 58h0M10 58h0M21 58h0M25 58h0M26 58h0M30 58h0M35 58h0M38 58h0M43 58h0M51 58h0M59 58h0M62 58h0M63 58h0M68 58h0M72 58h0M74 58h0M85 58h0M94 58h0M100 58h0M105 58h0M106 58h0M107 58h0M111 58h0M115 58h0M116 58h0M125 58h0M130 58h0M135 58h0M137 58h0M141 58h0M142 58h0M150 58h0M152 58h0M154 58h0M156 58h0M161 58h0M166 58h0M169 58h0M171 58h0M172 58h0M183 58h0M184 58h0M187 58h0M188 58h0M198 58h0M2 59h0M4 59h0M5 59h0M8 59h0M9 59h0M24 59h0M37 59h0M38 59h0M39 59h0M41 59h0M43 59h0M46 59h0M59 59h0M75 59h0M78 59h0M84 59h0M100 59h0M104 59h0M111 59h0M113 59h0M121 59h0M129 59h0M131 59h0M134 59h0M138 59h0M142 59h0M143 59h0M146 59h0M151 59h0M154 59h0M155 59h0M156 59h0M157 59h0M158 59h0M171 59h0M177 59h0M178 59h0M182 59h0M183 59h0M187 59h0M197 59h0M198 59h0M17 60h0M18 60h0M22 60h0M24 60h0M34 60h0M38 60h0M62 60h0M66 60h0M75 60h0M76 60h0M82 60h0M85 60h0M95 60h0M104 60h0M105 60h0M106 60h0M111 60h0M116 60h0M121 60h0M125 60h0M126 60h0M128 60h0M129 60h0M133 60h0M134 60h0M137 60h0M140 60h0M145 60h0M152 60h0M159 60h0M166 60h0M167 60h0M169 60h0M171 60h0M173 60h0M178 60h0M184 60h0M188 60h0M190 60h0M197 60h0M202 60h0M12 61h0M23 61h0M34 61h0M36 61h0M39 61h0M41 61h0M50 61h0M59 61h0M63 61h0M79 61h0M80 61h0M81 61h0M96 61h0M97 61h0M102 61h0M103 61h0M104 61h0M108 61h0M109 61h0M117 61h0M120 61h0M133 61h0M135 61h0M144 61h0M145 61h0M146 61h0M148 61h0M158 61h0M160 61h0M164 61h0M168 61h0M169 61h0M171 61h0M174 61h0M176 61h0M179 61h0M186 61h0M188 61h0M189 61h0M197 61h0M12 62h0M18 62h0M27 62h0M49 62h0M50 62h0M56 62h0M58 62h0M64 62h0M67 62h0M79 62h0M81 62h0M83 62h0M100 62h0M105 62h0M120 62h0M124 62h0M129 62h0M132 62h0M134 62h0M137 62h0M144 62h0M146 62h0M148 62h0M152 62h0M156 62h0M157 62h0M158 62h0M163 62h0M166 62h0M167 62h0M169 62h0M172 62h0M184 62h0M188 62h0M191 62h0M198 62h0M4 63h0M38 63h0M39 63h0M55 63h0M58 63h0M61 63h0M62 63h0M67 63h0M69 63h0M78 63h0M80 63h0M81 63h0M82 63h0M84 63h0M85 63h0M86 63h0M87 63h0M97 63h0M99 63h0M102 63h0M105 63h0M108 63h0M120 63h0M122 63h0M127 63h0M134 63h0M135 63h0M143 63h0M147 63h0M150 63h0M153 63h0M161 63h0M166 63h0M169 63h0M171 63h0M172 63h0M177 63h0M188 63h0M196 63h0M5 64h0M18 64h0M34 64h0M37 64h0M38 64h0M39 64h0M42 64h0M43 64h0M44 64h0M45 64h0M48 64h0M50 64h0M52 64h0M54 64h0M55 64h0M56 64h0M57 64h0M70 64h0M79 64h0M81 64h0M82 64h0M84 64h0M86 64h0M99 64h0M106 64h0M109 64h0M111 64h0M113 64h0M132 64h0M134 64h0M146 64h0M148 64h0M149 64h0M152 64h0M156 64h0M158 64h0M160 64h0M168 64h0M170 64h0M172 64h0M173 64h0M175 64h0M176 64h0M185 64h0M192 64h0M202 64h0M3 65h0M5 65h0M8 65h0M10 65h0M32 65h0M34 65h0M45 65h0M46 65h0M47 65h0M69 65h0M73 65h0M74 65h0M78 65h0M79 65h0M80 65h0M81 65h0M83 65h0M86 65h0M98 65h0M110 65h0M112 65h0M113 65h0M118 65h0M120 65h0M127 65h0M132 65h0M133 65h0M143 65h0M148 65h0M155 65h0M158 65h0M161 65h0M162 65h0M165 65h0M166 65h0M167 65h0M174 65h0M175 65h0M176 65h0M181 65h0M186 65h0M188 65h0M194 65h0M196 65h0M198 65h0M7 66h0M10 66h0M20 66h0M21 66h0M46 66h0M49 66h0M52 66h0M58 66h0M68 66h0M71 66h0M73 66h0M75 66h0M79 66h0M80 66h0M81 66h0M82 66h0M87 66h0M88 66h0M96 66h0M105 66h0M113 66h0M119 66h0M123 66h0M124 66h0M125 66h0M126 66h0M129 66h0M130 66h0M138 66h0M139 66h0M140 66h0M143 66h0M152 66h0M156 66h0M157 66h0M169 66h0M170 66h0M179 66h0M182 66h0M192 66h0M193 66h0M195 66h0M4 67h0M5 67h0M10 67h0M24 67h0M33 67h0M48 67h0M52 67h0M57 67h0M69 67h0M70 67h0M74 67h0M76 67h0M80 67h0M82 67h0M83 67h0M84 67h0M86 67h0M94 67h0M100 67h0M103 67h0M105 67h0M109 67h0M111 67h0M117 67h0M118 67h0M126 67h0M127 67h0M129 67h0M139 67h0M140 67h0M141 67h0M143 67h0M149 67h0M151 67h0M158 67h0M161 67h0M166 67h0M171 67h0M172 67h0M174 67h0M175 67h0M180 67h0M187 67h0M193 67h0M195 67h0M202 67h0M11 68h0M19 68h0M35 68h0M41 68h0M42 68h0M77 68h0M78 68h0M80 68h0M84 68h0M85 68h0M87 68h0M90 68h0M92 68h0M94 68h0M95 68h0M103 68h0M104 68h0M109 68h0M112 68h0M115 68h0M116 68h0M128 68h0M140 68h0M141 68h0M143 68h0M145 68h0M150 68h0M151 68h0M170 68h0M171 68h0M172 68h0M193 68h0M194 68h0M195 68h0M15 69h0M23 69h0M26 69h0M28 69h0M30 69h0M33 69h0M36 69h0M37 69h0M40 69h0M51 69h0M53 69h0M71 69h0M80 69h0M82 69h0M85 69h0M86 69h0M87 69h0M91 69h0M95 69h0M98 69h0M100 69h0M101 69h0M112 69h0M114 69h0M116 69h0M128 69h0M135 69h0M147 69h0M148 69h0M150 69h0M151 69h0M160 69h0M166 69h0M169 69h0M170 69h0M173 69h0M182 69h0M183 69h0M184 69h0M185 69h0M188 69h0M190 69h0M195 69h0M196 69h0M201 69h0M6 70h0M11 70h0M12 70h0M13 70h0M18 70h0M20 70h0M23 70h0M34 70h0M38 70h0M39 70h0M67 70h0M80 70h0M82 70h0M85 70h0M89 70h0M95 70h0M106 70h0M111 70h0M118 70h0M121 70h0M128 70h0M129 70h0M131 70h0M136 70h0M138 70h0M140 70h0M145 70h0M158 70h0M161 70h0M164 70h0M166 70h0M172 70h0M173 70h0M175 70h0M182 70h0M185 70h0M187 70h0M188 70h0M191 70h0M194 70h0M196 70h0M200 70h0M202 70h0M11 71h0M13 71h0M18 71h0M19 71h0M20 71h0M30 71h0M32 71h0M37 71h0M38 71h0M41 71h0M42 71h0M44 71h0M51 71h0M55 71h0M72 71h0M82 71h0M87 71h0M88 71h0M101 71h0M114 71h0M116 71h0M121 71h0M127 71h0M130 71h0M150 71h0M163 71h0M167 71h0M169 71h0M170 71h0M173 71h0M174 71h0M177 71h0M179 71h0M180 71h0M181 71h0M183 71h0M185 71h0M190 71h0M193 71h0M197 71h0M4 72h0M10 72h0M15 72h0M18 72h0M30 72h0M34 72h0M38 72h0M45 72h0M78 72h0M81 72h0M87 72h0M88 72h0M89 72h0M90 72h0M91 72h0M97 72h0M98 72h0M101 72h0M103 72h0M106 72h0M107 72h0M110 72h0M112 72h0M116 72h0M118 72h0M119 72h0M124 72h0M133 72h0M144 72h0M149 72h0M150 72h0M159 72h0M160 72h0M163 72h0M166 72h0M167 72h0M169 72h0M170 72h0M171 72h0M175 72h0M178 72h0M179 72h0M181 72h0M188 72h0M194 72h0M195 72h0M196 72h0M199 72h0M2 73h0M4 73h0M8 73h0M11 73h0M13 73h0M19 73h0M27 73h0M51 73h0M57 73h0M65 73h0M67 73h0M68 73h0M81 73h0M84 73h0M91 73h0M93 73h0M94 73h0M104 73h0M105 73h0M106 73h0M107 73h0M113 73h0M115 73h0M117 73h0M123 73h0M128 73h0M130 73h0M131 73h0M140 73h0M147 73h0M149 73h0M151 73h0M158 73h0M163 73h0M166 73h0M175 73h0M179 73h0M180 73h0M181 73h0M182 73h0M184 73h0M185 73h0M193 73h0M198 73h0M5 74h0M13 74h0M19 74h0M21 74h0M29 74h0M34 74h0M66 74h0M69 74h0M74 74h0M86 74h0M87 74h0M89 74h0M90 74h0M96 74h0M103 74h0M108 74h0M109 74h0M112 74h0M115 74h0M118 74h0M122 74h0M136 74h0M138 74h0M139 74h0M148 74h0M149 74h0M150 74h0M166 74h0M169 74h0M178 74h0M179 74h0M186 74h0M188 74h0M193 74h0M194 74h0M198 74h0M4 75h0M5 75h0M13 75h0M16 75h0M26 75h0M29 75h0M31 75h0M43 75h0M44 75h0M48 75h0M52 75h0M53 75h0M54 75h0M73 75h0M75 75h0M76 75h0M79 75h0M81 75h0M86 75h0M87 75h0M95 75h0M97 75h0M98 75h0M99 75h0M103 75h0M104 75h0M108 75h0M111 75h0M113 75h0M115 75h0M118 75h0M121 75h0M122 75h0M130 75h0M134 75h0M144 75h0M146 75h0M149 75h0M150 75h0M154 75h0M155 75h0M160 75h0M163 75h0M164 75h0M166 75h0M167 75h0M171 75h0M177 75h0M184 75h0M187 75h0M193 75h0M195 75h0M198 75h0M199 75h0M200 75h0M201 75h0M2 76h0M3 76h0M4 76h0M8 76h0M15 76h0M22 76h0M30 76h0M51 76h0M56 76h0M71 76h0M72 76h0M73 76h0M75 76h0M77 76h0M80 76h0M84 76h0M97 76h0M98 76h0M100 76h0M101 76h0M105 76h0M113 76h0M116 76h0M121 76h0M124 76h0M132 76h0M134 76h0M141 76h0M143 76h0M144 76h0M147 76h0M148 76h0M150 76h0M156 76h0M167 76h0M173 76h0M177 76h0M189 76h0M190 76h0M193 76h0M194 76h0M195 76h0M12 77h0M17 77h0M38 77h0M41 77h0M42 77h0M43 77h0M48 77h0M50 77h0M61 77h0M73 77h0M74 77h0M76 77h0M80 77h0M82 77h0M83 77h0M84 77h0M86 77h0M87 77h0M89 77h0M91 77h0M101 77h0M102 77h0M112 77h0M114 77h0M115 77h0M123 77h0M126 77h0M132 77h0M133 77h0M137 77h0M143 77h0M148 77h0M150 77h0M153 77h0M154 77h0M157 77h0M159 77h0M166 77h0M180 77h0M183 77h0M189 77h0M190 77h0M192 77h0M193 77h0M194 77h0M198 77h0M200 77h0M7 78h0M16 78h0M41 78h0M48 78h0M49 78h0M50 78h0M52 78h0M60 78h0M62 78h0M78 78h0M81 78h0M85 78h0M86 78h0M87 78h0M97 78h0M102 78h0M104 78h0M106 78h0M113 78h0M121 78h0M133 78h0M136 78h0M139 78h0M141 78h0M142 78h0M146 78h0M148 78h0M151 78h0M152 78h0M161 78h0M164 78h0M165 78h0M170 78h0M177 78h0M183 78h0M186 78h0M191 78h0M194 78h0M4 79h0M5 79h0M6 79h0M13 79h0M33 79h0M49 79h0M53 79h0M55 79h0M56 79h0M57 79h0M60 79h0M61 79h0M69 79h0M80 79h0M84 79h0M109 79h0M113 79h0M117 79h0M131 79h0M136 79h0M143 79h0M146 79h0M148 79h0M149 79h0M152 79h0M153 79h0M154 79h0M163 79h0M164 79h0M166 79h0M179 79h0M180 79h0M184 79h0M187 79h0M188 79h0M189 79h0M198 79h0M3 80h0M4 80h0M5 80h0M16 80h0M17 80h0M21 80h0M57 80h0M58 80h0M62 80h0M68 80h0M69 80h0M72 80h0M74 80h0M75 80h0M78 80h0M80 80h0M83 80h0M87 80h0M88 80h0M91 80h0M95 80h0M96 80h0M108 80h0M110 80h0M111 80h0M115 80h0M119 80h0M138 80h0M148 80h0M150 80h0M151 80h0M155 80h0M158 80h0M159 80h0M160 80h0M162 80h0M163 80h0M169 80h0M175 80h0M177 80h0M184 80h0M185 80h0M188 80h0M195 80h0M198 80h0M201 80h0M9 81h0M48 81h0M51 81h0M52 81h0M58 81h0M59 81h0M61 81h0M65 81h0M66 81h0M73 81h0M75 81h0M82 81h0M83 81h0M85 81h0M87 81h0M88 81h0M97 81h0M100 81h0M113 81h0M124 81h0M128 81h0M134 81h0M139 81h0M144 81h0M146 81h0M148 81h0M151 81h0M152 81h0M153 81h0M157 81h0M158 81h0M160 81h0M161 81h0M162 81h0M163 81h0M167 81h0M185 81h0M187 81h0M190 81h0M3 82h0M5 82h0M7 82h0M26 82h0M53 82h0M54 82h0M60 82h0M65 82h0M71 82h0M73 82h0M74 82h0M75 82h0M76 82h0M79 82h0M80 82h0M81 82h0M83 82h0M85 82h0M91 82h0M93 82h0M97 82h0M98 82h0M99 82h0M102 82h0M103 82h0M115 82h0M116 82h0M123 82h0M129 82h0M137 82h0M140 82h0M142 82h0M146 82h0M147 82h0M149 82h0M151 82h0M152 82h0M155 82h0M161 82h0M166 82h0M167 82h0M178 82h0M179 82h0M182 82h0M186 82h0M195 82h0M199 82h0M20 83h0M31 83h0M36 83h0M51 83h0M52 83h0M53 83h0M54 83h0M58 83h0M60 83h0M66 83h0M67 83h0M69 83h0M73 83h0M75 83h0M78 83h0M79 83h0M82 83h0M83 83h0M87 83h0M94 83h0M96 83h0M98 83h0M104 83h0M106 83h0M111 83h0M123 83h0M130 83h0M131 83h0M138 83h0M139 83h0M141 83h0M142 83h0M154 83h0M156 83h0M157 83h0M158 83h0M160 83h0M161 83h0M166 83h0M167 83h0M173 83h0M177 83h0M178 83h0M182 83h0M186 83h0M187 83h0M190 83h0M193 83h0M195 83h0M201 83h0M202 83h0M6 84h0M9 84h0M21 84h0M22 84h0M26 84h0M36 84h0M38 84h0M49 84h0M51 84h0M54 84h0M55 84h0M56 84h0M64 84h0M65 84h0M67 84h0M70 84h0M73 84h0M74 84h0M77 84h0M80 84h0M103 84h0M104 84h0M107 84h0M108 84h0M109 84h0M111 84h0M112 84h0M116 84h0M118 84h0M137 84h0M142 84h0M144 84h0M157 84h0M158 84h0M161 84h0M162 84h0M166 84h0M173 84h0M183 84h0M184 84h0M186 84h0M197 84h0M198 84h0M200 84h0M3 85h0M12 85h0M14 85h0M27 85h0M33 85h0M36 85h0M44 85h0M64 85h0M65 85h0M66 85h0M67 85h0M68 85h0M73 85h0M75 85h0M80 85h0M82 85h0M83 85h0M92 85h0M98 85h0M100 85h0M104 85h0M106 85h0M107 85h0M112 85h0M113 85h0M114 85h0M116 85h0M121 85h0M124 85h0M128 85h0M150 85h0M160 85h0M164 85h0M166 85h0M167 85h0M173 85h0M175 85h0M178 85h0M180 85h0M181 85h0M182 85h0M187 85h0M194 85h0M197 85h0M15 86h0M18 86h0M24 86h0M25 86h0M34 86h0M36 86h0M38 86h0M45 86h0M52 86h0M55 86h0M56 86h0M59 86h0M61 86h0M63 86h0M65 86h0M70 86h0M71 86h0M72 86h0M74 86h0M75 86h0M77 86h0M78 86h0M80 86h0M85 86h0M89 86h0M94 86h0M96 86h0M97 86h0M104 86h0M106 86h0M113 86h0M115 86h0M121 86h0M123 86h0M126 86h0M127 86h0M137 86h0M145 86h0M147 86h0M154 86h0M157 86h0M159 86h0M166 86h0M170 86h0M174 86h0M175 86h0M178 86h0M181 86h0M182 86h0M190 86h0M200 86h0M19 87h0M23 87h0M24 87h0M33 87h0M36 87h0M41 87h0M47 87h0M57 87h0M58 87h0M63 87h0M67 87h0M68 87h0M70 87h0M73 87h0M74 87h0M75 87h0M81 87h0M82 87h0M88 87h0M102 87h0M111 87h0M113 87h0M114 87h0M123 87h0M125 87h0M137 87h0M138 87h0M145 87h0M154 87h0M174 87h0M183 87h0M184 87h0M186 87h0M199 87h0M200 87h0M15 88h0M19 88h0M20 88h0M34 88h0M37 88h0M38 88h0M52 88h0M53 88h0M55 88h0M61 88h0M64 88h0M65 88h0M66 88h0M67 88h0M69 88h0M71 88h0M73 88h0M74 88h0M77 88h0M79 88h0M80 88h0M81 88h0M82 88h0M84 88h0M92 88h0M126 88h0M146 88h0M147 88h0M163 88h0M168 88h0M170 88h0M182 88h0M188 88h0M192 88h0M13 89h0M17 89h0M19 89h0M24 89h0M30 89h0M35 89h0M49 89h0M51 89h0M61 89h0M63 89h0M67 89h0M68 89h0M75 89h0M80 89h0M82 89h0M89 89h0M111 89h0M113 89h0M135 89h0M137 89h0M143 89h0M145 89h0M146 89h0M161 89h0M167 89h0M169 89h0M170 89h0M188 89h0M189 89h0M190 89h0M200 89h0M12 90h0M15 90h0M19 90h0M23 90h0M27 90h0M28 90h0M29 90h0M35 90h0M36 90h0M38 90h0M39 90h0M40 90h0M41 90h0M47 90h0M48 90h0M50 90h0M51 90h0M57 90h0M63 90h0M64 90h0M65 90h0M66 90h0M67 90h0M71 90h0M72 90h0M79 90h0M81 90h0M85 90h0M87 90h0M100 90h0M110 90h0M133 90h0M149 90h0M163 90h0M167 90h0M171 90h0M172 90h0M173 90h0M175 90h0M177 90h0M178 90h0M179 90h0M187 90h0M188 90h0M192 90h0M195 90h0M8 91h0M9 91h0M19 91h0M27 91h0M30 91h0M31 91h0M48 91h0M54 91h0M55 91h0M56 91h0M57 91h0M61 91h0M63 91h0M71 91h0M76 91h0M86 91h0M90 91h0M114 91h0M117 91h0M118 91h0M131 91h0M153 91h0M171 91h0M175 91h0M176 91h0M181 91h0M186 91h0M188 91h0M193 91h0M9 92h0M25 92h0M28 92h0M48 92h0M52 92h0M64 92h0M67 92h0M68 92h0M70 92h0M76 92h0M78 92h0M83 92h0M86 92h0M92 92h0M109 92h0M119 92h0M123 92h0M131 92h0M144 92h0M145 92h0M146 92h0M149 92h0M155 92h0M165 92h0M168 92h0M175 92h0M180 92h0M187 92h0M188 92h0M192 92h0M5 93h0M6 93h0M7 93h0M8 93h0M10 93h0M11 93h0M16 93h0M31 93h0M34 93h0M36 93h0M38 93h0M56 93h0M58 93h0M64 93h0M67 93h0M73 93h0M132 93h0M133 93h0M135 93h0M141 93h0M150 93h0M151 93h0M152 93h0M165 93h0M171 93h0M178 93h0M181 93h0M193 93h0M3 94h0M7 94h0M12 94h0M18 94h0M22 94h0M27 94h0M30 94h0M31 94h0M38 94h0M40 94h0M45 94h0M48 94h0M55 94h0M57 94h0M58 94h0M59 94h0M62 94h0M66 94h0M67 94h0M68 94h0M78 94h0M102 94h0M105 94h0M106 94h0M108 94h0M113 94h0M118 94h0M124 94h0M136 94h0M143 94h0M147 94h0M154 94h0M163 94h0M164 94h0M179 94h0M191 94h0M193 94h0M197 94h0M198 94h0M199 94h0M2 95h0M6 95h0M8 95h0M11 95h0M13 95h0M18 95h0M19 95h0M20 95h0M31 95h0M36 95h0M42 95h0M50 95h0M58 95h0M59 95h0M60 95h0M63 95h0M68 95h0M69 95h0M86 95h0M97 95h0M104 95h0M109 95h0M110 95h0M113 95h0M146 95h0M149 95h0M163 95h0M188 95h0M8 96h0M14 96h0M16 96h0M22 96h0M35 96h0M39 96h0M41 96h0M49 96h0M52 96h0M54 96h0M58 96h0M64 96h0M66 96h0M69 96h0M70 96h0M77 96h0M90 96h0M100 96h0M104 96h0M105 96h0M121 96h0M123 96h0M132 96h0M134 96h0M145 96h0M148 96h0M152 96h0M153 96h0M177 96h0M194 96h0M196 96h0M11 97h0M23 97h0M24 97h0M28 97h0M30 97h0M32 97h0M35 97h0M37 97h0M38 97h0M41 97h0M43 97h0M49 97h0M60 97h0M61 97h0M65 97h0M67 97h0M70 97h0M73 97h0M74 97h0M105 97h0M107 97h0M108 97h0M118 97h0M122 97h0M124 97h0M134 97h0M144 97h0M148 97h0M156 97h0M162 97h0M180 97h0M185 97h0M191 97h0M192 97h0M2 98h0M5 98h0M8 98h0M9 98h0M11 98h0M12 98h0M17 98h0M20 98h0M22 98h0M28 98h0M29 98h0M30 98h0M46 98h0M49 98h0M50 98h0M51 98h0M55 98h0M65 98h0M67 98h0M77 98h0M78 98h0M80 98h0M90 98h0M103 98h0M119 98h0M132 98h0M135 98h0M136 98h0M137 98h0M139 98h0M140 98h0M146 98h0M148 98h0M200 98h0M7 99h0M15 99h0M16 99h0M19 99h0M20 99h0M26 99h0M29 99h0M34 99h0M49 99h0M52 99h0M55 99h0M67 99h0M68 99h0M70 99h0M75 99h0M106 99h0M109 99h0M111 99h0M115 99h0M146 99h0M147 99h0M148 99h0M151 99h0M177 99h0M182 99h0M183 99h0M188 99h0M190 99h0M193 99h0M4 100h0M6 100h0M7 100h0M16 100h0M19 100h0M21 100h0M23 100h0M27 100h0M29 100h0M36 100h0M46 100h0M50 100h0M67 100h0M69 100h0M70 100h0M71 100h0M78 100h0M88 100h0M90 100h0M99 100h0M101 100h0M102 100h0M112 100h0M119 100h0M124 100h0M131 100h0M135 100h0M139 100h0M141 100h0M143 100h0M144 100h0M157 100h0M165 100h0M167 100h0M184 100h0M185 100h0M191 100h0M195 100h0M200 100h0M4 101h0M5 101h0M8 101h0M16 101h0M19 101h0M27 101h0M39 101h0M64 101h0M70 101h0M97 101h0M103 101h0M123 101h0M130 101h0M133 101h0M134 101h0M137 101h0M143 101h0M145 101h0M147 101h0M149 101h0M157 101h0M166 101h0M167 101h0M169 101h0M173 101h0M186 101h0M187 101h0M189 101h0M196 101h0M197 101h0M7 102h0M17 102h0M28 102h0M32 102h0M38 102h0M47 102h0M55 102h0M65 102h0M68 102h0M84 102h0M93 102h0M96 102h0M97 102h0M98 102h0M100 102h0M104 102h0M106 102h0M111 102h0M112 102h0M119 102h0M120 102h0M121 102h0M122 102h0M136 102h0M137 102h0M139 102h0M141 102h0M147 102h0M155 102h0M156 102h0M159 102h0M165 102h0M182 102h0M186 102h0M187 102h0M188 102h0M191 102h0M195 102h0M197 102h0M199 102h0M202 102h0M7 103h0M9 103h0M16 103h0M20 103h0M21 103h0M28 103h0M33 103h0M35 103h0M42 103h0M43 103h0M50 103h0M51 103h0M57 103h0M66 103h0M91 103h0M94 103h0M97 103h0M105 103h0M127 103h0M134 103h0M136 103h0M139 103h0M142 103h0M143 103h0M150 103h0M151 103h0M152 103h0M154 103h0M161 103h0M166 103h0M168 103h0M170 103h0M184 103h0M186 103h0M187 103h0M189 103h0M193 103h0M8 104h0M12 104h0M15 104h0M16 104h0M20 104h0M23 104h0M31 104h0M41 104h0M53 104h0M57 104h0M65 104h0M69 104h0M70 104h0M85 104h0M90 104h0M92 104h0M97 104h0M100 104h0M107 104h0M108 104h0M117 104h0M150 104h0M154 104h0M167 104h0M168 104h0M171 104h0M173 104h0M186 104h0M187 104h0M190 104h0M193 104h0M196 104h0M8 105h0M13 105h0M14 105h0M15 105h0M24 105h0M25 105h0M33 105h0M49 105h0M57 105h0M64 105h0M89 105h0M92 105h0M98 105h0M100 105h0M103 105h0M132 105h0M136 105h0M139 105h0M144 105h0M152 105h0M156 105h0M157 105h0M172 105h0M182 105h0M190 105h0M194 105h0M5 106h0M8 106h0M32 106h0M33 106h0M53 106h0M54 106h0M58 106h0M71 106h0M87 106h0M93 106h0M97 106h0M99 106h0M100 106h0M102 106h0M105 106h0M108 106h0M135 106h0M136 106h0M138 106h0M141 106h0M142 106h0M144 106h0M148 106h0M150 106h0M153 106h0M154 106h0M156 106h0M158 106h0M162 106h0M163 106h0M164 106h0M169 106h0M182 106h0M184 106h0M186 106h0M191 106h0M194 106h0M3 107h0M7 107h0M8 107h0M25 107h0M33 107h0M35 107h0M36 107h0M38 107h0M43 107h0M54 107h0M67 107h0M68 107h0M78 107h0M83 107h0M84 107h0M90 107h0M91 107h0M96 107h0M98 107h0M99 107h0M105 107h0M106 107h0M108 107h0M111 107h0M123 107h0M132 107h0M136 107h0M137 107h0M139 107h0M146 107h0M150 107h0M152 107h0M155 107h0M157 107h0M166 107h0M172 107h0M173 107h0M178 107h0M183 107h0M188 107h0M190 107h0M199 107h0M3 108h0M6 108h0M8 108h0M24 108h0M28 108h0M30 108h0M34 108h0M35 108h0M36 108h0M39 108h0M41 108h0M42 108h0M45 108h0M48 108h0M52 108h0M55 108h0M60 108h0M72 108h0M83 108h0M96 108h0M99 108h0M102 108h0M117 108h0M133 108h0M134 108h0M143 108h0M144 108h0M156 108h0M158 108h0M172 108h0M187 108h0M11 109h0M17 109h0M22 109h0M29 109h0M41 109h0M55 109h0M57 109h0M59 109h0M67 109h0M69 109h0M72 109h0M82 109h0M83 109h0M86 109h0M91 109h0M92 109h0M99 109h0M102 109h0M115 109h0M119 109h0M122 109h0M125 109h0M145 109h0M168 109h0M188 109h0M189 109h0M191 109h0M11 110h0M13 110h0M17 110h0M18 110h0M19 110h0M22 110h0M23 110h0M25 110h0M35 110h0M43 110h0M46 110h0M51 110h0M54 110h0M65 110h0M66 110h0M69 110h0M77 110h0M78 110h0M85 110h0M86 110h0M88 110h0M97 110h0M98 110h0M102 110h0M113 110h0M116 110h0M124 110h0M135 110h0M139 110h0M147 110h0M149 110h0M153 110h0M154 110h0M158 110h0M161 110h0M162 110h0M163 110h0M164 110h0M169 110h0M170 110h0M171 110h0M173 110h0M182 110h0M186 110h0M191 110h0M3 111h0M12 111h0M16 111h0M18 111h0M20 111h0M21 111h0M28 111h0M32 111h0M36 111h0M37 111h0M38 111h0M41 111h0M47 111h0M48 111h0M58 111h0M67 111h0M70 111h0M79 111h0M84 111h0M86 111h0M96 111h0M111 111h0M112 111h0M120 111h0M127 111h0M135 111h0M144 111h0M146 111h0M149 111h0M150 111h0M151 111h0M154 111h0M155 111h0M156 111h0M170 111h0M171 111h0M178 111h0M183 111h0M184 111h0M186 111h0M189 111h0M197 111h0M7 112h0M11 112h0M14 112h0M16 112h0M18 112h0M20 112h0M23 112h0M26 112h0M28 112h0M29 112h0M36 112h0M38 112h0M49 112h0M56 112h0M58 112h0M66 112h0M68 112h0M97 112h0M107 112h0M110 112h0M115 112h0M123 112h0M125 112h0M130 112h0M136 112h0M139 112h0M146 112h0M147 112h0M149 112h0M152 112h0M173 112h0M182 112h0M191 112h0M195 112h0M201 112h0M12 113h0M14 113h0M18 113h0M20 113h0M34 113h0M36 113h0M43 113h0M52 113h0M68 113h0M81 113h0M94 113h0M98 113h0M99 113h0M101 113h0M103 113h0M111 113h0M113 113h0M117 113h0M124 113h0M137 113h0M139 113h0M146 113h0M149 113h0M155 113h0M160 113h0M166 113h0M173 113h0M179 113h0M182 113h0M186 113h0M187 113h0M191 113h0M193 113h0M200 113h0M3 114h0M5 114h0M15 114h0M21 114h0M26 114h0M28 114h0M32 114h0M34 114h0M40 114h0M42 114h0M43 114h0M44 114h0M59 114h0M65 114h0M69 114h0M92 114h0M97 114h0M105 114h0M107 114h0M121 114h0M131 114h0M141 114h0M148 114h0M151 114h0M152 114h0M153 114h0M154 114h0M158 114h0M160 114h0M163 114h0M164 114h0M190 114h0M192 114h0M202 114h0M6 115h0M17 115h0M21 115h0M25 115h0M37 115h0M40 115h0M52 115h0M67 115h0M71 115h0M76 115h0M89 115h0M94 115h0M98 115h0M101 115h0M106 115h0M109 115h0M111 115h0M112 115h0M115 115h0M119 115h0M121 115h0M123 115h0M124 115h0M126 115h0M127 115h0M132 115h0M155 115h0M157 115h0M162 115h0M167 115h0M180 115h0M184 115h0M186 115h0M193 115h0M198 115h0M11 116h0M17 116h0M20 116h0M21 116h0M23 116h0M27 116h0M37 116h0M46 116h0M50 116h0M51 116h0M54 116h0M60 116h0M61 116h0M64 116h0M70 116h0M71 116h0M74 116h0M83 116h0M85 116h0M92 116h0M95 116h0M102 116h0M105 116h0M107 116h0M113 116h0M120 116h0M121 116h0M122 116h0M130 116h0M135 116h0M138 116h0M141 116h0M142 116h0M144 116h0M150 116h0M156 116h0M157 116h0M162 116h0M163 116h0M177 116h0M178 116h0M182 116h0M188 116h0M193 116h0M195 116h0M201 116h0M16 117h0M27 117h0M28 117h0M29 117h0M53 117h0M54 117h0M55 117h0M58 117h0M65 117h0M74 117h0M76 117h0M79 117h0M81 117h0M82 117h0M85 117h0M88 117h0M95 117h0M103 117h0M107 117h0M110 117h0M118 117h0M120 117h0M122 117h0M124 117h0M134 117h0M147 117h0M148 117h0M153 117h0M154 117h0M156 117h0M163 117h0M165 117h0M178 117h0M186 117h0M189 117h0M200 117h0M4 118h0M14 118h0M16 118h0M20 118h0M21 118h0M29 118h0M31 118h0M33 118h0M34 118h0M35 118h0M36 118h0M39 118h0M43 118h0M52 118h0M54 118h0M55 118h0M56 118h0M61 118h0M65 118h0M67 118h0M75 118h0M77 118h0M79 118h0M85 118h0M86 118h0M88 118h0M92 118h0M97 118h0M105 118h0M106 118h0M107 118h0M108 118h0M109 118h0M110 118h0M112 118h0M121 118h0M123 118h0M124 118h0M125 118h0M126 118h0M131 118h0M145 118h0M147 118h0M148 118h0M149 118h0M150 118h0M159 118h0M161 118h0M163 118h0M166 118h0M167 118h0M181 118h0M182 118h0M183 118h0M186 118h0M202 118h0M5 119h0M15 119h0M16 119h0M19 119h0M21 119h0M38 119h0M42 119h0M43 119h0M51 119h0M52 119h0M57 119h0M67 119h0M76 119h0M81 119h0M82 119h0M89 119h0M92 119h0M96 119h0M100 119h0M102 119h0M103 119h0M106 119h0M108 119h0M110 119h0M111 119h0M119 119h0M122 119h0M130 119h0M144 119h0M148 119h0M149 119h0M151 119h0M152 119h0M153 119h0M157 119h0M158 119h0M164 119h0M181 119h0M189 119h0M192 119h0M201 119h0M5 120h0M10 120h0M11 120h0M16 120h0M23 120h0M32 120h0M33 120h0M51 120h0M53 120h0M54 120h0M59 120h0M63 120h0M64 120h0M65 120h0M66 120h0M69 120h0M70 120h0M73 120h0M76 120h0M77 120h0M80 120h0M83 120h0M84 120h0M86 120h0M91 120h0M94 120h0M98 120h0M102 120h0M103 120h0M105 120h0M106 120h0M108 120h0M109 120h0M111 120h0M116 120h0M118 120h0M120 120h0M126 120h0M131 120h0M141 120h0M142 120h0M143 120h0M145 120h0M146 120h0M153 120h0M154 120h0M163 120h0M164 120h0M176 120h0M179 120h0M184 120h0M186 120h0M190 120h0M191 120h0M202 120h0M5 121h0M14 121h0M21 121h0M35 121h0M39 121h0M43 121h0M45 121h0M46 121h0M49 121h0M51 121h0M52 121h0M53 121h0M57 121h0M59 121h0M62 121h0M66 121h0M72 121h0M76 121h0M77 121h0M84 121h0M85 121h0M87 121h0M97 121h0M99 121h0M100 121h0M101 121h0M107 121h0M110 121h0M117 121h0M118 121h0M120 121h0M121 121h0M126 121h0M132 121h0M147 121h0M149 121h0M154 121h0M155 121h0M158 121h0M161 121h0M166 121h0M170 121h0M183 121h0M195 121h0M29 122h0M33 122h0M35 122h0M36 122h0M38 122h0M39 122h0M43 122h0M44 122h0M50 122h0M53 122h0M58 122h0M61 122h0M67 122h0M71 122h0M76 122h0M81 122h0M82 122h0M85 122h0M90 122h0M97 122h0M119 122h0M124 122h0M130 122h0M133 122h0M158 122h0M159 122h0M161 122h0M162 122h0M168 122h0M173 122h0M178 122h0M185 122h0M189 122h0M198 122h0M202 122h0M5 123h0M24 123h0M34 123h0M38 123h0M43 123h0M45 123h0M50 123h0M55 123h0M64 123h0M66 123h0M77 123h0M83 123h0M86 123h0M95 123h0M96 123h0M98 123h0M104 123h0M105 123h0M107 123h0M112 123h0M126 123h0M130 123h0M146 123h0M154 123h0M171 123h0M182 123h0M184 123h0M188 123h0M199 123h0M3 124h0M14 124h0M21 124h0M36 124h0M49 124h0M51 124h0M52 124h0M53 124h0M54 124h0M60 124h0M64 124h0M75 124h0M80 124h0M85 124h0M89 124h0M95 124h0M101 124h0M105 124h0M113 124h0M121 124h0M122 124h0M123 124h0M125 124h0M130 124h0M144 124h0M146 124h0M147 124h0M156 124h0M157 124h0M159 124h0M165 124h0M182 124h0M184 124h0M185 124h0M190 124h0M192 124h0M194 124h0M197 124h0M6 125h0M7 125h0M35 125h0M36 125h0M42 125h0M44 125h0M49 125h0M50 125h0M53 125h0M57 125h0M58 125h0M60 125h0M62 125h0M64 125h0M72 125h0M73 125h0M76 125h0M79 125h0M90 125h0M92 125h0M93 125h0M95 125h0M97 125h0M99 125h0M100 125h0M101 125h0M105 125h0M110 125h0M111 125h0M114 125h0M116 125h0M119 125h0M120 125h0M123 125h0M128 125h0M140 125h0M142 125h0M181 125h0M185 125h0M189 125h0M190 125h0M196 125h0M197 125h0M201 125h0M2 126h0M4 126h0M9 126h0M11 126h0M12 126h0M14 126h0M19 126h0M32 126h0M35 126h0M36 126h0M59 126h0M61 126h0M65 126h0M69 126h0M72 126h0M73 126h0M76 126h0M82 126h0M86 126h0M95 126h0M98 126h0M101 126h0M102 126h0M107 126h0M117 126h0M119 126h0M120 126h0M125 126h0M129 126h0M130 126h0M132 126h0M140 126h0M144 126h0M151 126h0M157 126h0M161 126h0M166 126h0M169 126h0M184 126h0M185 126h0M189 126h0M192 126h0M193 126h0M194 126h0M195 126h0M201 126h0M10 127h0M25 127h0M38 127h0M50 127h0M54 127h0M55 127h0M57 127h0M58 127h0M62 127h0M66 127h0M71 127h0M75 127h0M87 127h0M88 127h0M92 127h0M93 127h0M97 127h0M99 127h0M104 127h0M105 127h0M106 127h0M108 127h0M120 127h0M123 127h0M125 127h0M128 127h0M131 127h0M139 127h0M144 127h0M151 127h0M166 127h0M168 127h0M180 127h0M187 127h0M195 127h0M200 127h0M201 127h0M2 128h0M4 128h0M7 128h0M9 128h0M10 128h0M15 128h0M32 128h0M49 128h0M50 128h0M51 128h0M53 128h0M59 128h0M61 128h0M73 128h0M76 128h0M78 128h0M81 128h0M91 128h0M94 128h0M96 128h0M98 128h0M111 128h0M129 128h0M130 128h0M131 128h0M146 128h0M163 128h0M164 128h0M182 128h0M185 128h0M186 128h0M188 128h0M193 128h0M196 128h0M197 128h0M201 128h0M5 129h0M6 129h0M9 129h0M10 129h0M21 129h0M42 129h0M43 129h0M45 129h0M49 129h0M55 129h0M59 129h0M61 129h0M68 129h0M70 129h0M81 129h0M82 129h0M84 129h0M86 129h0M90 129h0M91 129h0M96 129h0M99 129h0M101 129h0M104 129h0M107 129h0M121 129h0M124 129h0M131 129h0M132 129h0M136 129h0M144 129h0M147 129h0M154 129h0M157 129h0M169 129h0M178 129h0M180 129h0M182 129h0M190 129h0M193 129h0M194 129h0M196 129h0M198 129h0M200 129h0M9 130h0M21 130h0M24 130h0M26 130h0M44 130h0M45 130h0M46 130h0M49 130h0M52 130h0M55 130h0M62 130h0M64 130h0M66 130h0M68 130h0M74 130h0M80 130h0M81 130h0M90 130h0M93 130h0M95 130h0M100 130h0M105 130h0M109 130h0M110 130h0M111 130h0M117 130h0M120 130h0M121 130h0M122 130h0M123 130h0M124 130h0M127 130h0M130 130h0M131 130h0M138 130h0M153 130h0M154 130h0M163 130h0M172 130h0M176 130h0M178 130h0M187 130h0M192 130h0M195 130h0M196 130h0M197 130h0M5 131h0M8 131h0M9 131h0M16 131h0M18 131h0M20 131h0M25 131h0M28 131h0M29 131h0M43 131h0M44 131h0M48 131h0M50 131h0M61 131h0M66 131h0M69 131h0M71 131h0M72 131h0M83 131h0M84 131h0M90 131h0M94 131h0M95 131h0M100 131h0M103 131h0M107 131h0M108 131h0M110 131h0M114 131h0M120 131h0M128 131h0M137 131h0M146 131h0M153 131h0M166 131h0M169 131h0M171 131h0M174 131h0M177 131h0M181 131h0M182 131h0M185 131h0M186 131h0M187 131h0M189 131h0M3 132h0M5 132h0M14 132h0M23 132h0M27 132h0M29 132h0M42 132h0M48 132h0M52 132h0M58 132h0M61 132h0M68 132h0M69 132h0M77 132h0M82 132h0M90 132h0M94 132h0M96 132h0M116 132h0M122 132h0M125 132h0M128 132h0M133 132h0M135 132h0M138 132h0M144 132h0M184 132h0M186 132h0M3 133h0M15 133h0M21 133h0M25 133h0M27 133h0M47 133h0M49 133h0M51 133h0M57 133h0M60 133h0M61 133h0M64 133h0M71 133h0M77 133h0M79 133h0M82 133h0M84 133h0M86 133h0M94 133h0M96 133h0M103 133h0M105 133h0M115 133h0M123 133h0M127 133h0M130 133h0M143 133h0M165 133h0M170 133h0M175 133h0M179 133h0M180 133h0M181 133h0M197 133h0M11 134h0M12 134h0M13 134h0M16 134h0M23 134h0M27 134h0M31 134h0M37 134h0M38 134h0M39 134h0M41 134h0M44 134h0M47 134h0M49 134h0M53 134h0M73 134h0M75 134h0M77 134h0M81 134h0M83 134h0M90 134h0M102 134h0M122 134h0M123 134h0M127 134h0M158 134h0M173 134h0M175 134h0M176 134h0M177 134h0M179 134h0M183 134h0M184 134h0M185 134h0M192 134h0M193 134h0M3 135h0M9 135h0M11 135h0M13 135h0M15 135h0M16 135h0M18 135h0M19 135h0M22 135h0M33 135h0M43 135h0M48 135h0M49 135h0M50 135h0M53 135h0M54 135h0M57 135h0M58 135h0M59 135h0M60 135h0M62 135h0M85 135h0M89 135h0M95 135h0M120 135h0M127 135h0M128 135h0M131 135h0M133 135h0M150 135h0M159 135h0M166 135h0M172 135h0M182 135h0M183 135h0M189 135h0M191 135h0M3 136h0M12 136h0M15 136h0M16 136h0M17 136h0M18 136h0M21 136h0M28 136h0M37 136h0M38 136h0M44 136h0M47 136h0M49 136h0M53 136h0M54 136h0M57 136h0M61 136h0M65 136h0M73 136h0M75 136h0M77 136h0M80 136h0M81 136h0M90 136h0M91 136h0M92 136h0M98 136h0M99 136h0M102 136h0M109 136h0M129 136h0M158 136h0M160 136h0M164 136h0M166 136h0M174 136h0M178 136h0M179 136h0M186 136h0M193 136h0M195 136h0M2 137h0M3 137h0M12 137h0M13 137h0M14 137h0M23 137h0M38 137h0M49 137h0M54 137h0M58 137h0M60 137h0M63 137h0M73 137h0M89 137h0M99 137h0M111 137h0M120 137h0M125 137h0M144 137h0M154 137h0M162 137h0M175 137h0M178 137h0M179 137h0M180 137h0M182 137h0M184 137h0M185 137h0M4 138h0M6 138h0M11 138h0M13 138h0M16 138h0M39 138h0M42 138h0M48 138h0M50 138h0M58 138h0M66 138h0M68 138h0M72 138h0M92 138h0M94 138h0M97 138h0M98 138h0M105 138h0M122 138h0M125 138h0M133 138h0M156 138h0M161 138h0M171 138h0M179 138h0M180 138h0M181 138h0M187 138h0M190 138h0M191 138h0M2 139h0M3 139h0M9 139h0M12 139h0M13 139h0M31 139h0M34 139h0M40 139h0M45 139h0M58 139h0M67 139h0M75 139h0M76 139h0M78 139h0M83 139h0M88 139h0M89 139h0M91 139h0M93 139h0M97 139h0M103 139h0M112 139h0M113 139h0M116 139h0M124 139h0M126 139h0M134 139h0M157 139h0M158 139h0M174 139h0M179 139h0M182 139h0M199 139h0M4 140h0M7 140h0M10 140h0M11 140h0M12 140h0M13 140h0M19 140h0M26 140h0M37 140h0M45 140h0M48 140h0M54 140h0M59 140h0M62 140h0M63 140h0M75 140h0M97 140h0M116 140h0M122 140h0M123 140h0M124 140h0M129 140h0M155 140h0M175 140h0M179 140h0M180 140h0M182 140h0M191 140h0M11 141h0M14 141h0M19 141h0M25 141h0M27 141h0M36 141h0M47 141h0M54 141h0M59 141h0M61 141h0M62 141h0M63 141h0M64 141h0M77 141h0M84 141h0M94 141h0M98 141h0M106 141h0M112 141h0M119 141h0M123 141h0M126 141h0M158 141h0M169 141h0M170 141h0M175 141h0M178 141h0M181 141h0M187 141h0M190 141h0M200 141h0M202 141h0M4 142h0M6 142h0M10 142h0M15 142h0M17 142h0M18 142h0M19 142h0M28 142h0M39 142h0M44 142h0M45 142h0M49 142h0M60 142h0M61 142h0M63 142h0M69 142h0M72 142h0M75 142h0M80 142h0M90 142h0M97 142h0M99 142h0M110 142h0M116 142h0M124 142h0M129 142h0M135 142h0M137 142h0M152 142h0M155 142h0M177 142h0M190 142h0M191 142h0M202 142h0M3 143h0M5 143h0M6 143h0M10 143h0M14 143h0M16 143h0M18 143h0M19 143h0M24 143h0M28 143h0M34 143h0M35 143h0M46 143h0M54 143h0M55 143h0M58 143h0M59 143h0M60 143h0M62 143h0M77 143h0M79 143h0M86 143h0M90 143h0M109 143h0M113 143h0M114 143h0M122 143h0M124 143h0M146 143h0M173 143h0M178 143h0M179 143h0M183 143h0M198 143h0M201 143h0M11 144h0M12 144h0M14 144h0M22 144h0M37 144h0M38 144h0M39 144h0M47 144h0M61 144h0M65 144h0M66 144h0M88 144h0M89 144h0M96 144h0M97 144h0M107 144h0M110 144h0M114 144h0M118 144h0M120 144h0M123 144h0M128 144h0M130 144h0M133 144h0M139 144h0M142 144h0M144 144h0M150 144h0M160 144h0M171 144h0M175 144h0M177 144h0M183 144h0M184 144h0M188 144h0M190 144h0M191 144h0M198 144h0M199 144h0M201 144h0M9 145h0M13 145h0M15 145h0M35 145h0M37 145h0M46 145h0M62 145h0M71 145h0M73 145h0M74 145h0M78 145h0M79 145h0M80 145h0M81 145h0M97 145h0M105 145h0M107 145h0M108 145h0M110 145h0M111 145h0M112 145h0M119 145h0M120 145h0M152 145h0M156 145h0M171 145h0M178 145h0M179 145h0M188 145h0M189 145h0M190 145h0M193 145h0M194 145h0M198 145h0M200 145h0M3 146h0M5 146h0M12 146h0M14 146h0M15 146h0M17 146h0M21 146h0M22 146h0M26 146h0M29 146h0M38 146h0M49 146h0M72 146h0M78 146h0M89 146h0M90 146h0M101 146h0M104 146h0M122 146h0M140 146h0M142 146h0M144 146h0M147 146h0M148 146h0M150 146h0M152 146h0M153 146h0M163 146h0M171 146h0M175 146h0M176 146h0M181 146h0M182 146h0M188 146h0M200 146h0M3 147h0M10 147h0M15 147h0M17 147h0M22 147h0M25 147h0M27 147h0M40 147h0M46 147h0M48 147h0M72 147h0M73 147h0M74 147h0M76 147h0M82 147h0M89 147h0M94 147h0M96 147h0M102 147h0M106 147h0M108 147h0M113 147h0M114 147h0M115 147h0M124 147h0M135 147h0M142 147h0M146 147h0M147 147h0M152 147h0M159 147h0M163 147h0M174 147h0M176 147h0M178 147h0M182 147h0M199 147h0M4 148h0M13 148h0M18 148h0M21 148h0M22 148h0M23 148h0M25 148h0M29 148h0M34 148h0M35 148h0M37 148h0M38 148h0M39 148h0M43 148h0M51 148h0M59 148h0M75 148h0M78 148h0M93 148h0M94 148h0M97 148h0M102 148h0M123 148h0M140 148h0M141 148h0M144 148h0M145 148h0M157 148h0M160 148h0M163 148h0M165 148h0M166 148h0M168 148h0M169 148h0M174 148h0M179 148h0M180 148h0M182 148h0M185 148h0M191 148h0M197 148h0M3 149h0M6 149h0M17 149h0M19 149h0M20 149h0M24 149h0M27 149h0M35 149h0M36 149h0M40 149h0M41 149h0M51 149h0M52 149h0M63 149h0M75 149h0M77 149h0M80 149h0M82 149h0M84 149h0M85 149h0M89 149h0M90 149h0M98 149h0M102 149h0M107 149h0M109 149h0M121 149h0M126 149h0M127 149h0M128 149h0M137 149h0M143 149h0M148 149h0M157 149h0M163 149h0M166 149h0M168 149h0M178 149h0M180 149h0M182 149h0M189 149h0M193 149h0M14 150h0M16 150h0M33 150h0M37 150h0M42 150h0M43 150h0M49 150h0M50 150h0M53 150h0M76 150h0M78 150h0M81 150h0M82 150h0M83 150h0M84 150h0M86 150h0M87 150h0M88 150h0M99 150h0M101 150h0M102 150h0M103 150h0M105 150h0M118 150h0M126 150h0M127 150h0M130 150h0M135 150h0M136 150h0M141 150h0M145 150h0M150 150h0M158 150h0M162 150h0M169 150h0M170 150h0M175 150h0M177 150h0M180 150h0M184 150h0M186 150h0M195 150h0M4 151h0M16 151h0M17 151h0M24 151h0M31 151h0M35 151h0M39 151h0M47 151h0M51 151h0M54 151h0M58 151h0M59 151h0M61 151h0M62 151h0M69 151h0M72 151h0M73 151h0M74 151h0M81 151h0M87 151h0M90 151h0M95 151h0M97 151h0M101 151h0M104 151h0M105 151h0M108 151h0M110 151h0M111 151h0M113 151h0M119 151h0M121 151h0M124 151h0M126 151h0M142 151h0M146 151h0M148 151h0M151 151h0M152 151h0M153 151h0M158 151h0M162 151h0M170 151h0M176 151h0M177 151h0M178 151h0M179 151h0M180 151h0M185 151h0M187 151h0M190 151h0M191 151h0M194 151h0M195 151h0M196 151h0M4 152h0M9 152h0M20 152h0M21 152h0M22 152h0M31 152h0M32 152h0M36 152h0M47 152h0M53 152h0M59 152h0M63 152h0M66 152h0M69 152h0M70 152h0M71 152h0M77 152h0M81 152h0M82 152h0M83 152h0M84 152h0M85 152h0M93 152h0M94 152h0M98 152h0M101 152h0M106 152h0M112 152h0M116 152h0M120 152h0M121 152h0M123 152h0M128 152h0M136 152h0M154 152h0M155 152h0M158 152h0M160 152h0M175 152h0M178 152h0M179 152h0M180 152h0M182 152h0M183 152h0M187 152h0M193 152h0M195 152h0M7 153h0M8 153h0M13 153h0M14 153h0M25 153h0M28 153h0M30 153h0M31 153h0M36 153h0M50 153h0M52 153h0M59 153h0M68 153h0M72 153h0M76 153h0M78 153h0M81 153h0M82 153h0M83 153h0M99 153h0M101 153h0M114 153h0M118 153h0M119 153h0M122 153h0M136 153h0M142 153h0M143 153h0M146 153h0M154 153h0M162 153h0M163 153h0M173 153h0M180 153h0M184 153h0M187 153h0M192 153h0M196 153h0M201 153h0M11 154h0M14 154h0M19 154h0M27 154h0M28 154h0M29 154h0M30 154h0M32 154h0M33 154h0M37 154h0M44 154h0M46 154h0M58 154h0M65 154h0M67 154h0M73 154h0M76 154h0M78 154h0M79 154h0M80 154h0M82 154h0M86 154h0M87 154h0M88 154h0M90 154h0M92 154h0M95 154h0M97 154h0M103 154h0M112 154h0M113 154h0M119 154h0M123 154h0M132 154h0M136 154h0M137 154h0M139 154h0M140 154h0M142 154h0M145 154h0M153 154h0M162 154h0M180 154h0M184 154h0M185 154h0M192 154h0M193 154h0M197 154h0M198 154h0M200 154h0M10 155h0M13 155h0M14 155h0M24 155h0M25 155h0M32 155h0M34 155h0M35 155h0M37 155h0M39 155h0M43 155h0M47 155h0M65 155h0M68 155h0M73 155h0M76 155h0M77 155h0M80 155h0M82 155h0M84 155h0M87 155h0M88 155h0M90 155h0M91 155h0M97 155h0M102 155h0M104 155h0M112 155h0M114 155h0M118 155h0M119 155h0M121 155h0M123 155h0M124 155h0M125 155h0M135 155h0M137 155h0M140 155h0M144 155h0M152 155h0M161 155h0M164 155h0M165 155h0M181 155h0M182 155h0M187 155h0M193 155h0M198 155h0M14 156h0M17 156h0M20 156h0M41 156h0M42 156h0M44 156h0M45 156h0M47 156h0M59 156h0M66 156h0M72 156h0M79 156h0M80 156h0M81 156h0M84 156h0M87 156h0M93 156h0M98 156h0M100 156h0M113 156h0M115 156h0M122 156h0M123 156h0M124 156h0M133 156h0M138 156h0M140 156h0M145 156h0M153 156h0M155 156h0M158 156h0M168 156h0M172 156h0M182 156h0M184 156h0M186 156h0M187 156h0M192 156h0M194 156h0M195 156h0M196 156h0M200 156h0M8 157h0M20 157h0M21 157h0M22 157h0M24 157h0M25 157h0M31 157h0M33 157h0M34 157h0M35 157h0M37 157h0M40 157h0M42 157h0M45 157h0M54 157h0M67 157h0M72 157h0M73 157h0M74 157h0M76 157h0M78 157h0M79 157h0M81 157h0M83 157h0M84 157h0M87 157h0M89 157h0M102 157h0M105 157h0M116 157h0M117 157h0M124 157h0M126 157h0M137 157h0M139 157h0M144 157h0M154 157h0M160 157h0M170 157h0M171 157h0M174 157h0M176 157h0M177 157h0M187 157h0M193 157h0M196 157h0M197 157h0M6 158h0M14 158h0M17 158h0M30 158h0M33 158h0M37 158h0M40 158h0M43 158h0M44 158h0M45 158h0M46 158h0M63 158h0M69 158h0M74 158h0M75 158h0M76 158h0M78 158h0M80 158h0M82 158h0M88 158h0M89 158h0M90 158h0M96 158h0M100 158h0M103 158h0M104 158h0M106 158h0M109 158h0M112 158h0M115 158h0M117 158h0M122 158h0M123 158h0M129 158h0M134 158h0M135 158h0M148 158h0M150 158h0M153 158h0M159 158h0M171 158h0M174 158h0M175 158h0M179 158h0M184 158h0M186 158h0M188 158h0M189 158h0M7 159h0M18 159h0M20 159h0M22 159h0M23 159h0M38 159h0M39 159h0M44 159h0M46 159h0M47 159h0M58 159h0M62 159h0M66 159h0M79 159h0M81 159h0M105 159h0M108 159h0M137 159h0M142 159h0M144 159h0M145 159h0M151 159h0M152 159h0M153 159h0M154 159h0M155 159h0M157 159h0M161 159h0M162 159h0M163 159h0M167 159h0M170 159h0M174 159h0M175 159h0M184 159h0M190 159h0M191 159h0M194 159h0M199 159h0M11 160h0M12 160h0M16 160h0M17 160h0M20 160h0M31 160h0M35 160h0M36 160h0M37 160h0M38 160h0M41 160h0M42 160h0M43 160h0M44 160h0M49 160h0M58 160h0M59 160h0M62 160h0M67 160h0M68 160h0M72 160h0M75 160h0M76 160h0M82 160h0M88 160h0M90 160h0M95 160h0M100 160h0M105 160h0M116 160h0M132 160h0M135 160h0M137 160h0M150 160h0M153 160h0M154 160h0M160 160h0M162 160h0M164 160h0M166 160h0M173 160h0M177 160h0M179 160h0M185 160h0M187 160h0M190 160h0M34 161h0M35 161h0M37 161h0M39 161h0M43 161h0M56 161h0M61 161h0M62 161h0M67 161h0M69 161h0M70 161h0M75 161h0M77 161h0M80 161h0M90 161h0M91 161h0M94 161h0M96 161h0M111 161h0M121 161h0M128 161h0M152 161h0M153 161h0M157 161h0M164 161h0M167 161h0M175 161h0M187 161h0M190 161h0M192 161h0M193 161h0M194 161h0M201 161h0M9 162h0M17 162h0M18 162h0M22 162h0M27 162h0M30 162h0M31 162h0M34 162h0M35 162h0M41 162h0M56 162h0M57 162h0M61 162h0M62 162h0M63 162h0M65 162h0M66 162h0M72 162h0M81 162h0M86 162h0M87 162h0M95 162h0M106 162h0M109 162h0M115 162h0M124 162h0M132 162h0M134 162h0M144 162h0M152 162h0M155 162h0M157 162h0M162 162h0M173 162h0M177 162h0M179 162h0M186 162h0M189 162h0M192 162h0M193 162h0M196 162h0M200 162h0M6 163h0M8 163h0M12 163h0M15 163h0M16 163h0M22 163h0M29 163h0M33 163h0M36 163h0M39 163h0M53 163h0M63 163h0M64 163h0M71 163h0M73 163h0M77 163h0M78 163h0M80 163h0M81 163h0M86 163h0M88 163h0M89 163h0M96 163h0M100 163h0M102 163h0M103 163h0M104 163h0M109 163h0M111 163h0M112 163h0M133 163h0M146 163h0M149 163h0M151 163h0M156 163h0M159 163h0M160 163h0M162 163h0M169 163h0M184 163h0M185 163h0M188 163h0M190 163h0M192 163h0M194 163h0M196 163h0M197 163h0M8 164h0M10 164h0M14 164h0M18 164h0M20 164h0M22 164h0M24 164h0M28 164h0M31 164h0M32 164h0M38 164h0M57 164h0M60 164h0M62 164h0M64 164h0M66 164h0M67 164h0M68 164h0M70 164h0M71 164h0M76 164h0M80 164h0M94 164h0M98 164h0M99 164h0M113 164h0M123 164h0M127 164h0M128 164h0M133 164h0M142 164h0M143 164h0M151 164h0M152 164h0M155 164h0M157 164h0M163 164h0M164 164h0M167 164h0M170 164h0M178 164h0M189 164h0M192 164h0M194 164h0M196 164h0M199 164h0M201 164h0M4 165h0M5 165h0M11 165h0M14 165h0M19 165h0M21 165h0M22 165h0M23 165h0M25 165h0M33 165h0M54 165h0M58 165h0M64 165h0M65 165h0M67 165h0M71 165h0M73 165h0M79 165h0M80 165h0M85 165h0M86 165h0M94 165h0M98 165h0M101 165h0M104 165h0M106 165h0M112 165h0M131 165h0M152 165h0M156 165h0M168 165h0M173 165h0M181 165h0M188 165h0M191 165h0M4 166h0M5 166h0M11 166h0M17 166h0M19 166h0M20 166h0M21 166h0M23 166h0M29 166h0M37 166h0M59 166h0M60 166h0M61 166h0M64 166h0M65 166h0M66 166h0M69 166h0M71 166h0M73 166h0M74 166h0M76 166h0M77 166h0M81 166h0M82 166h0M87 166h0M89 166h0M97 166h0M103 166h0M105 166h0M106 166h0M107 166h0M109 166h0M110 166h0M128 166h0M130 166h0M133 166h0M136 166h0M161 166h0M168 166h0M170 166h0M182 166h0M188 166h0M197 166h0M198 166h0M202 166h0M14 167h0M17 167h0M18 167h0M32 167h0M38 167h0M50 167h0M62 167h0M63 167h0M64 167h0M68 167h0M71 167h0M78 167h0M81 167h0M82 167h0M92 167h0M100 167h0M103 167h0M104 167h0M108 167h0M111 167h0M146 167h0M148 167h0M155 167h0M157 167h0M169 167h0M178 167h0M180 167h0M184 167h0M185 167h0M187 167h0M190 167h0M197 167h0M26 168h0M35 168h0M48 168h0M54 168h0M58 168h0M60 168h0M65 168h0M66 168h0M74 168h0M75 168h0M77 168h0M81 168h0M87 168h0M91 168h0M99 168h0M105 168h0M108 168h0M109 168h0M111 168h0M127 168h0M134 168h0M143 168h0M157 168h0M168 168h0M172 168h0M177 168h0M179 168h0M181 168h0M189 168h0M190 168h0M193 168h0M194 168h0M196 168h0M197 168h0M198 168h0M201 168h0M3 169h0M6 169h0M7 169h0M11 169h0M12 169h0M18 169h0M19 169h0M21 169h0M24 169h0M27 169h0M31 169h0M34 169h0M36 169h0M53 169h0M62 169h0M64 169h0M66 169h0M77 169h0M81 169h0M89 169h0M94 169h0M95 169h0M99 169h0M133 169h0M141 169h0M146 169h0M151 169h0M153 169h0M161 169h0M166 169h0M168 169h0M175 169h0M181 169h0M182 169h0M186 169h0M188 169h0M189 169h0M191 169h0M193 169h0M195 169h0M197 169h0M201 169h0M3 170h0M18 170h0M22 170h0M23 170h0M28 170h0M29 170h0M36 170h0M37 170h0M63 170h0M74 170h0M75 170h0M76 170h0M78 170h0M79 170h0M80 170h0M81 170h0M86 170h0M88 170h0M95 170h0M98 170h0M106 170h0M116 170h0M137 170h0M140 170h0M143 170h0M144 170h0M147 170h0M159 170h0M160 170h0M165 170h0M166 170h0M176 170h0M177 170h0M182 170h0M186 170h0M188 170h0M191 170h0M192 170h0M193 170h0M195 170h0M196 170h0M197 170h0M199 170h0M201 170h0M2 171h0M9 171h0M31 171h0M33 171h0M38 171h0M52 171h0M59 171h0M70 171h0M72 171h0M74 171h0M78 171h0M85 171h0M88 171h0M91 171h0M92 171h0M100 171h0M105 171h0M114 171h0M127 171h0M129 171h0M137 171h0M146 171h0M148 171h0M156 171h0M157 171h0M165 171h0M168 171h0M172 171h0M175 171h0M176 171h0M181 171h0M182 171h0M183 171h0M185 171h0M188 171h0M189 171h0M192 171h0M193 171h0M195 171h0M196 171h0M201 171h0M3 172h0M4 172h0M9 172h0M10 172h0M18 172h0M20 172h0M22 172h0M28 172h0M29 172h0M56 172h0M69 172h0M70 172h0M72 172h0M76 172h0M85 172h0M109 172h0M138 172h0M139 172h0M147 172h0M154 172h0M158 172h0M170 172h0M171 172h0M174 172h0M182 172h0M184 172h0M185 172h0M190 172h0M192 172h0M194 172h0M196 172h0M197 172h0M199 172h0M3 173h0M10 173h0M19 173h0M29 173h0M34 173h0M36 173h0M44 173h0M46 173h0M49 173h0M55 173h0M58 173h0M62 173h0M71 173h0M80 173h0M84 173h0M89 173h0M96 173h0M110 173h0M117 173h0M119 173h0M135 173h0M138 173h0M187 173h0M189 173h0M193 173h0M195 173h0M198 173h0M199 173h0M5 174h0M7 174h0M10 174h0M14 174h0M15 174h0M31 174h0M34 174h0M41 174h0M70 174h0M77 174h0M78 174h0M80 174h0M82 174h0M91 174h0M93 174h0M97 174h0M105 174h0M106 174h0M107 174h0M109 174h0M139 174h0M140 174h0M143 174h0M145 174h0M174 174h0M176 174h0M177 174h0M180 174h0M183 174h0M192 174h0M197 174h0M199 174h0M200 174h0M202 174h0M18 175h0M24 175h0M27 175h0M29 175h0M48 175h0M49 175h0M50 175h0M56 175h0M58 175h0M63 175h0M65 175h0M69 175h0M71 175h0M72 175h0M76 175h0M79 175h0M81 175h0M89 175h0M94 175h0M96 175h0M101 175h0M103 175h0M109 175h0M110 175h0M114 175h0M119 175h0M128 175h0M136 175h0M138 175h0M140 175h0M142 175h0M145 175h0M150 175h0M151 175h0M156 175h0M158 175h0M169 175h0M171 175h0M172 175h0M173 175h0M174 175h0M181 175h0M193 175h0M194 175h0M196 175h0M197 175h0M201 175h0M202 175h0M8 176h0M13 176h0M20 176h0M29 176h0M34 176h0M35 176h0M36 176h0M39 176h0M50 176h0M51 176h0M54 176h0M55 176h0M68 176h0M76 176h0M81 176h0M85 176h0M102 176h0M106 176h0M108 176h0M109 176h0M111 176h0M135 176h0M151 176h0M155 176h0M157 176h0M160 176h0M173 176h0M178 176h0M183 176h0M188 176h0M191 176h0M193 176h0M194 176h0M196 176h0M9 177h0M10 177h0M14 177h0M16 177h0M18 177h0M31 177h0M36 177h0M37 177h0M55 177h0M63 177h0M72 177h0M74 177h0M81 177h0M84 177h0M94 177h0M104 177h0M109 177h0M111 177h0M112 177h0M113 177h0M135 177h0M136 177h0M143 177h0M146 177h0M152 177h0M158 177h0M160 177h0M168 177h0M169 177h0M170 177h0M176 177h0M178 177h0M179 177h0M180 177h0M181 177h0M190 177h0M194 177h0M196 177h0M201 177h0M3 178h0M4 178h0M5 178h0M7 178h0M12 178h0M23 178h0M34 178h0M43 178h0M47 178h0M48 178h0M52 178h0M53 178h0M55 178h0M58 178h0M71 178h0M82 178h0M84 178h0M85 178h0M94 178h0M95 178h0M103 178h0M104 178h0M105 178h0M107 178h0M108 178h0M109 178h0M110 178h0M128 178h0M131 178h0M135 178h0M145 178h0M147 178h0M149 178h0M160 178h0M164 178h0M167 178h0M171 178h0M173 178h0M174 178h0M178 178h0M188 178h0M196 178h0M198 178h0M200 178h0M5 179h0M6 179h0M14 179h0M19 179h0M22 179h0M32 179h0M34 179h0M40 179h0M49 179h0M51 179h0M54 179h0M60 179h0M69 179h0M72 179h0M87 179h0M90 179h0M95 179h0M101 179h0M102 179h0M105 179h0M107 179h0M108 179h0M109 179h0M111 179h0M120 179h0M124 179h0M125 179h0M127 179h0M129 179h0M134 179h0M140 179h0M147 179h0M148 179h0M154 179h0M155 179h0M157 179h0M158 179h0M164 179h0M165 179h0M166 179h0M169 179h0M177 179h0M182 179h0M185 179h0M189 179h0M190 179h0M197 179h0M198 179h0M199 179h0M201 179h0M2 180h0M4 180h0M8 180h0M11 180h0M16 180h0M21 180h0M22 180h0M24 180h0M36 180h0M46 180h0M53 180h0M54 180h0M59 180h0M61 180h0M62 180h0M65 180h0M74 180h0M76 180h0M85 180h0M88 180h0M96 180h0M99 180h0M101 180h0M105 180h0M107 180h0M108 180h0M111 180h0M124 180h0M128 180h0M129 180h0M134 180h0M141 180h0M143 180h0M151 180h0M152 180h0M153 180h0M155 180h0M159 180h0M164 180h0M172 180h0M178 180h0M182 180h0M183 180h0M184 180h0M186 180h0M188 180h0M194 180h0M196 180h0M200 180h0M3 181h0M4 181h0M6 181h0M14 181h0M17 181h0M32 181h0M33 181h0M45 181h0M47 181h0M50 181h0M54 181h0M58 181h0M64 181h0M81 181h0M83 181h0M89 181h0M93 181h0M94 181h0M95 181h0M101 181h0M107 181h0M108 181h0M109 181h0M110 181h0M114 181h0M122 181h0M123 181h0M149 181h0M157 181h0M160 181h0M164 181h0M165 181h0M169 181h0M177 181h0M178 181h0M179 181h0M190 181h0M197 181h0M6 182h0M7 182h0M8 182h0M17 182h0M18 182h0M20 182h0M24 182h0M31 182h0M32 182h0M38 182h0M45 182h0M46 182h0M48 182h0M50 182h0M53 182h0M54 182h0M61 182h0M72 182h0M79 182h0M84 182h0M85 182h0M86 182h0M102 182h0M104 182h0M105 182h0M111 182h0M114 182h0M116 182h0M128 182h0M131 182h0M133 182h0M134 182h0M143 182h0M144 182h0M147 182h0M148 182h0M161 182h0M168 182h0M169 182h0M170 182h0M172 182h0M183 182h0M185 182h0M186 182h0M199 182h0M5 183h0M8 183h0M14 183h0M22 183h0M23 183h0M27 183h0M37 183h0M38 183h0M50 183h0M51 183h0M55 183h0M56 183h0M65 183h0M69 183h0M71 183h0M84 183h0M86 183h0M89 183h0M90 183h0M91 183h0M95 183h0M96 183h0M101 183h0M103 183h0M105 183h0M107 183h0M108 183h0M109 183h0M110 183h0M111 183h0M112 183h0M117 183h0M123 183h0M127 183h0M132 183h0M134 183h0M154 183h0M155 183h0M159 183h0M163 183h0M172 183h0M177 183h0M178 183h0M188 183h0M190 183h0M195 183h0M201 183h0M7 184h0M20 184h0M21 184h0M22 184h0M53 184h0M65 184h0M69 184h0M81 184h0M87 184h0M88 184h0M105 184h0M110 184h0M123 184h0M124 184h0M125 184h0M130 184h0M134 184h0M138 184h0M141 184h0M150 184h0M161 184h0M171 184h0M180 184h0M187 184h0M191 184h0M199 184h0M200 184h0M8 185h0M17 185h0M22 185h0M23 185h0M36 185h0M41 185h0M48 185h0M49 185h0M50 185h0M51 185h0M54 185h0M62 185h0M63 185h0M65 185h0M66 185h0M68 185h0M85 185h0M88 185h0M91 185h0M97 185h0M101 185h0M107 185h0M109 185h0M114 185h0M115 185h0M122 185h0M129 185h0M131 185h0M133 185h0M135 185h0M136 185h0M150 185h0M151 185h0M156 185h0M157 185h0M159 185h0M164 185h0M169 185h0M176 185h0M179 185h0M183 185h0M200 185h0M5 186h0M13 186h0M14 186h0M19 186h0M23 186h0M24 186h0M47 186h0M49 186h0M53 186h0M54 186h0M56 186h0M64 186h0M67 186h0M76 186h0M87 186h0M89 186h0M98 186h0M99 186h0M100 186h0M108 186h0M109 186h0M113 186h0M118 186h0M122 186h0M123 186h0M129 186h0M130 186h0M131 186h0M132 186h0M138 186h0M150 186h0M153 186h0M154 186h0M155 186h0M156 186h0M164 186h0M166 186h0M176 186h0M180 186h0M182 186h0M183 186h0M185 186h0M193 186h0M195 186h0M196 186h0M197 186h0M199 186h0M200 186h0M19 187h0M25 187h0M31 187h0M33 187h0M48 187h0M49 187h0M53 187h0M56 187h0M69 187h0M71 187h0M77 187h0M78 187h0M81 187h0M86 187h0M90 187h0M91 187h0M95 187h0M96 187h0M97 187h0M99 187h0M100 187h0M106 187h0M107 187h0M113 187h0M122 187h0M132 187h0M133 187h0M134 187h0M154 187h0M159 187h0M162 187h0M167 187h0M178 187h0M180 187h0M190 187h0M197 187h0M198 187h0M202 187h0M7 188h0M12 188h0M42 188h0M49 188h0M51 188h0M54 188h0M58 188h0M69 188h0M88 188h0M91 188h0M94 188h0M103 188h0M105 188h0M106 188h0M107 188h0M114 188h0M116 188h0M117 188h0M129 188h0M131 188h0M136 188h0M144 188h0M152 188h0M154 188h0M155 188h0M160 188h0M166 188h0M168 188h0M174 188h0M176 188h0M177 188h0M187 188h0M193 188h0M198 188h0M199 188h0M23 189h0M24 189h0M32 189h0M34 189h0M43 189h0M50 189h0M53 189h0M54 189h0M56 189h0M58 189h0M62 189h0M66 189h0M67 189h0M74 189h0M79 189h0M80 189h0M81 189h0M87 189h0M89 189h0M90 189h0M91 189h0M93 189h0M95 189h0M96 189h0M101 189h0M106 189h0M113 189h0M124 189h0M125 189h0M127 189h0M130 189h0M131 189h0M132 189h0M133 189h0M134 189h0M135 189h0M138 189h0M149 189h0M152 189h0M157 189h0M168 189h0M171 189h0M179 189h0M190 189h0M192 189h0M6 190h0M15 190h0M28 190h0M29 190h0M33 190h0M34 190h0M46 190h0M49 190h0M51 190h0M56 190h0M58 190h0M59 190h0M60 190h0M64 190h0M66 190h0M85 190h0M88 190h0M92 190h0M101 190h0M105 190h0M110 190h0M116 190h0M128 190h0M130 190h0M131 190h0M133 190h0M134 190h0M136 190h0M138 190h0M149 190h0M157 190h0M159 190h0M161 190h0M164 190h0M170 190h0M181 190h0M182 190h0M184 190h0M185 190h0M189 190h0M190 190h0M195 190h0M11 191h0M13 191h0M16 191h0M27 191h0M28 191h0M29 191h0M30 191h0M31 191h0M34 191h0M38 191h0M39 191h0M42 191h0M46 191h0M50 191h0M55 191h0M56 191h0M58 191h0M64 191h0M67 191h0M70 191h0M75 191h0M79 191h0M83 191h0M86 191h0M88 191h0M91 191h0M100 191h0M104 191h0M118 191h0M126 191h0M127 191h0M129 191h0M130 191h0M134 191h0M138 191h0M144 191h0M153 191h0M161 191h0M167 191h0M168 191h0M171 191h0M174 191h0M178 191h0M185 191h0M189 191h0M190 191h0M197 191h0M10 192h0M11 192h0M15 192h0M20 192h0M21 192h0M22 192h0M25 192h0M31 192h0M44 192h0M47 192h0M55 192h0M59 192h0M63 192h0M84 192h0M86 192h0M94 192h0M95 192h0M96 192h0M106 192h0M109 192h0M110 192h0M112 192h0M116 192h0M125 192h0M128 192h0M134 192h0M138 192h0M141 192h0M143 192h0M146 192h0M149 192h0M157 192h0M159 192h0M170 192h0M177 192h0M192 192h0M193 192h0M198 192h0M11 193h0M20 193h0M21 193h0M22 193h0M23 193h0M25 193h0M28 193h0M29 193h0M31 193h0M32 193h0M33 193h0M34 193h0M36 193h0M41 193h0M42 193h0M44 193h0M50 193h0M52 193h0M53 193h0M58 193h0M63 193h0M73 193h0M81 193h0M112 193h0M113 193h0M119 193h0M120 193h0M123 193h0M125 193h0M128 193h0M130 193h0M132 193h0M133 193h0M134 193h0M135 193h0M137 193h0M141 193h0M142 193h0M148 193h0M172 193h0M194 193h0M195 193h0M7 194h0M8 194h0M14 194h0M17 194h0M21 194h0M28 194h0M30 194h0M31 194h0M32 194h0M34 194h0M36 194h0M41 194h0M53 194h0M59 194h0M61 194h0M62 194h0M65 194h0M66 194h0M73 194h0M81 194h0M88 194h0M91 194h0M94 194h0M100 194h0M107 194h0M108 194h0M112 194h0M113 194h0M114 194h0M127 194h0M129 194h0M131 194h0M133 194h0M134 194h0M140 194h0M153 194h0M157 194h0M161 194h0M165 194h0M169 194h0M170 194h0M185 194h0M195 194h0M4 195h0M5 195h0M7 195h0M9 195h0M20 195h0M34 195h0M36 195h0M50 195h0M60 195h0M62 195h0M82 195h0M86 195h0M92 195h0M93 195h0M96 195h0M99 195h0M109 195h0M110 195h0M112 195h0M113 195h0M114 195h0M117 195h0M120 195h0M124 195h0M128 195h0M133 195h0M136 195h0M145 195h0M146 195h0M150 195h0M153 195h0M154 195h0M155 195h0M161 195h0M167 195h0M169 195h0M172 195h0M173 195h0M177 195h0M181 195h0M188 195h0M191 195h0M7 196h0M9 196h0M12 196h0M15 196h0M21 196h0M23 196h0M26 196h0M33 196h0M34 196h0M39 196h0M47 196h0M55 196h0M65 196h0M68 196h0M69 196h0M74 196h0M81 196h0M87 196h0M94 196h0M99 196h0M102 196h0M109 196h0M120 196h0M128 196h0M131 196h0M135 196h0M142 196h0M144 196h0M148 196h0M149 196h0M154 196h0M156 196h0M164 196h0M165 196h0M172 196h0M175 196h0M187 196h0M6 197h0M7 197h0M8 197h0M12 197h0M14 197h0M17 197h0M24 197h0M32 197h0M33 197h0M36 197h0M37 197h0M40 197h0M62 197h0M66 197h0M67 197h0M69 197h0M82 197h0M87 197h0M91 197h0M105 197h0M109 197h0M118 197h0M126 197h0M130 197h0M131 197h0M137 197h0M147 197h0M148 197h0M152 197h0M153 197h0M154 197h0M155 197h0M156 197h0M163 197h0M165 197h0M171 197h0M177 197h0M179 197h0M191 197h0M200 197h0M7 198h0M8 198h0M11 198h0M15 198h0M18 198h0M21 198h0M37 198h0M45 198h0M49 198h0M68 198h0M70 198h0M76 198h0M86 198h0M92 198h0M100 198h0M101 198h0M107 198h0M118 198h0M120 198h0M130 198h0M131 198h0M137 198h0M150 198h0M161 198h0M163 198h0M166 198h0M174 198h0M176 198h0M185 198h0M186 198h0M187 198h0M195 198h0M201 198h0M202 198h0M9 199h0M12 199h0M13 199h0M15 199h0M16 199h0M19 199h0M22 199h0M35 199h0M36 199h0M38 199h0M46 199h0M49 199h0M66 199h0M68 199h0M80 199h0M99 199h0M106 199h0M109 199h0M120 199h0M123 199h0M125 199h0M126 199h0M130 199h0M132 199h0M144 199h0M148 199h0M149 199h0M151 199h0M161 199h0M162 199h0M165 199h0M169 199h0M179 199h0M180 199h0M184 199h0M189 199h0M3 200h0M7 200h0M12 200h0M38 200h0M50 200h0M65 200h0M75 200h0M76 200h0M82 200h0M103 200h0M104 200h0M109 200h0M125 200h0M127 200h0M129 200h0M137 200h0M164 200h0M165 200h0M167 200h0M172 200h0"/>
</g>
<g transform="translate(219.5,34.3) scale(0.5)">
<path stroke="#ea88b0" stroke-width="2.2" stroke-linecap="square" d="M45 8h0M45 9h0M55 10h0M47 11h0M49 11h0M51 11h0M55 11h0M45 13h0M46 13h0M47 13h0M49 13h0M52 13h0M58 13h0M51 14h0M47 15h0M48 15h0M50 15h0M54 15h0M61 15h0M44 16h0M50 16h0M50 17h0M58 17h0M63 18h0M36 19h0M39 19h0M59 19h0M41 20h0M46 20h0M47 23h0M49 23h0M107 35h0M108 35h0M107 36h0M108 37h0M110 37h0M106 38h0M98 44h0M96 46h0M101 47h0M106 47h0M85 48h0M94 49h0M99 49h0M101 49h0M107 49h0M92 50h0M96 50h0M106 50h0M96 51h0M81 52h0M164 52h0M166 53h0M73 54h0M77 54h0M82 54h0M163 54h0M82 55h0M84 55h0M78 56h0M81 56h0M78 57h0M79 57h0M84 58h0M89 58h0M92 58h0M96 58h0M118 58h0M119 58h0M76 59h0M83 59h0M111 59h0M168 59h0M174 59h0M93 60h0M95 60h0M109 60h0M78 61h0M82 61h0M95 61h0M96 61h0M114 61h0M81 62h0M87 62h0M100 62h0M111 62h0M168 62h0M79 63h0M81 63h0M106 63h0M119 63h0M125 63h0M86 64h0M87 64h0M98 64h0M122 64h0M85 65h0M91 65h0M99 65h0M116 65h0M121 65h0M80 66h0M88 66h0M115 66h0M136 66h0M85 67h0M127 67h0M128 67h0M146 67h0M78 68h0M85 68h0M93 68h0M91 69h0M122 69h0M123 69h0M123 70h0M134 70h0M149 70h0M76 71h0M86 71h0M89 71h0M91 71h0M94 71h0M99 71h0M108 71h0M110 71h0M115 71h0M132 71h0M142 71h0M90 72h0M91 72h0M113 72h0M118 72h0M137 72h0M78 73h0M85 73h0M109 73h0M110 73h0M114 73h0M139 73h0M77 74h0M94 74h0M133 74h0M134 74h0M138 74h0M140 74h0M79 75h0M111 75h0M97 76h0M113 76h0M132 76h0M133 76h0M100 77h0M108 77h0M114 77h0M122 77h0M126 77h0M127 77h0M129 77h0M131 77h0M142 77h0M144 77h0M74 78h0M80 78h0M91 78h0M92 78h0M108 78h0M109 78h0M115 78h0M129 78h0M136 78h0M140 78h0M85 79h0M125 79h0M138 79h0M141 79h0M145 79h0M73 80h0M100 80h0M108 80h0M109 80h0M130 80h0M133 80h0M137 80h0M139 80h0M92 81h0M99 81h0M113 81h0M120 81h0M122 81h0M129 81h0M134 81h0M137 81h0M139 81h0M144 81h0M87 82h0M89 82h0M104 82h0M122 82h0M139 82h0M142 82h0M145 82h0M187 82h0M81 83h0M88 83h0M96 83h0M103 83h0M105 83h0M120 83h0M133 83h0M139 83h0M142 83h0M183 83h0M85 84h0M105 84h0M106 84h0M111 84h0M125 84h0M83 85h0M100 85h0M138 85h0M188 85h0M85 86h0M92 86h0M93 86h0M95 86h0M111 86h0M113 86h0M117 86h0M120 86h0M124 86h0M190 86h0M192 86h0M89 87h0M95 87h0M99 87h0M100 87h0M109 87h0M115 87h0M116 87h0M117 87h0M122 87h0M139 87h0M179 87h0M188 87h0M87 88h0M90 88h0M94 88h0M102 88h0M105 88h0M122 88h0M135 88h0M169 88h0M90 89h0M91 89h0M99 89h0M103 89h0M111 89h0M117 89h0M130 89h0M132 89h0M137 89h0M164 89h0M177 89h0M190 89h0M83 90h0M93 90h0M94 90h0M95 90h0M96 90h0M97 90h0M100 90h0M101 90h0M112 90h0M114 90h0M119 90h0M121 90h0M91 91h0M94 91h0M102 91h0M106 91h0M124 91h0M168 91h0M187 91h0M192 91h0M198 91h0M85 92h0M91 92h0M99 92h0M102 92h0M111 92h0M112 92h0M123 92h0M124 92h0M140 92h0M159 92h0M178 92h0M185 92h0M187 92h0M190 92h0M201 92h0M96 93h0M97 93h0M102 93h0M109 93h0M110 93h0M112 93h0M113 93h0M116 93h0M126 93h0M139 93h0M140 93h0M183 93h0M187 93h0M189 93h0M192 93h0M195 93h0M85 94h0M91 94h0M93 94h0M94 94h0M98 94h0M99 94h0M100 94h0M107 94h0M109 94h0M129 94h0M134 94h0M166 94h0M176 94h0M192 94h0M199 94h0M87 95h0M88 95h0M96 95h0M101 95h0M104 95h0M112 95h0M120 95h0M124 95h0M133 95h0M161 95h0M165 95h0M172 95h0M180 95h0M90 96h0M97 96h0M98 96h0M101 96h0M102 96h0M128 96h0M133 96h0M167 96h0M182 96h0M183 96h0M192 96h0M197 96h0M200 96h0M91 97h0M94 97h0M97 97h0M99 97h0M104 97h0M107 97h0M108 97h0M111 97h0M112 97h0M117 97h0M123 97h0M165 97h0M170 97h0M179 97h0M90 98h0M96 98h0M102 98h0M104 98h0M109 98h0M113 98h0M123 98h0M141 98h0M168 98h0M182 98h0M195 98h0M93 99h0M94 99h0M96 99h0M103 99h0M112 99h0M113 99h0M169 99h0M172 99h0M96 100h0M118 100h0M121 100h0M164 100h0M181 100h0M182 100h0M191 100h0M92 101h0M93 101h0M105 101h0M122 101h0M136 101h0M140 101h0M162 101h0M168 101h0M184 101h0M189 101h0M89 102h0M94 102h0M126 102h0M138 102h0M139 102h0M142 102h0M163 102h0M179 102h0M187 102h0M191 102h0M201 102h0M120 103h0M122 103h0M131 103h0M134 103h0M138 103h0M179 103h0M86 104h0M90 104h0M113 104h0M119 104h0M121 104h0M135 104h0M143 104h0M169 104h0M173 104h0M177 104h0M178 104h0M117 105h0M133 105h0M174 105h0M178 105h0M191 105h0M199 105h0M78 106h0M88 106h0M108 106h0M112 106h0M132 106h0M134 106h0M137 106h0M161 106h0M171 106h0M176 106h0M178 106h0M86 107h0M87 107h0M108 107h0M140 107h0M174 107h0M199 107h0M106 108h0M128 108h0M135 108h0M139 108h0M172 108h0M173 108h0M174 108h0M125 109h0M126 109h0M130 109h0M157 109h0M175 109h0M183 109h0M86 110h0M105 110h0M125 110h0M136 110h0M180 110h0M76 111h0M122 111h0M132 111h0M134 111h0M136 111h0M171 111h0M176 111h0M177 111h0M178 111h0M179 111h0M177 112h0M81 113h0M129 113h0M132 113h0M177 113h0M182 113h0M183 113h0M184 113h0M84 114h0M118 114h0M120 114h0M169 114h0M171 114h0M175 114h0M180 114h0M183 114h0M122 115h0M124 115h0M158 115h0M179 115h0M183 115h0M131 116h0M134 116h0M144 116h0M145 116h0M78 117h0M121 117h0M125 117h0M131 117h0M138 117h0M139 117h0M143 117h0M157 117h0M149 118h0M171 118h0M174 118h0M143 119h0M174 119h0M116 120h0M135 120h0M138 120h0M154 120h0M121 121h0M123 121h0M171 121h0M121 122h0M128 122h0M134 122h0M137 122h0M139 122h0M152 122h0M124 123h0M130 123h0M132 123h0M142 123h0M180 123h0M125 124h0M134 124h0M136 124h0M139 124h0M153 124h0M72 125h0M115 125h0M139 125h0M154 125h0M174 125h0M132 126h0M138 126h0M144 126h0M149 126h0M16 127h0M133 127h0M136 127h0M146 127h0M72 128h0M83 128h0M120 128h0M130 128h0M134 128h0M160 128h0M82 129h0M146 129h0M151 129h0M119 130h0M130 130h0M133 130h0M140 130h0M152 130h0M20 131h0M126 131h0M139 131h0M141 131h0M144 131h0M146 131h0M165 131h0M166 131h0M81 132h0M143 132h0M167 132h0M101 133h0M119 133h0M139 133h0M148 133h0M153 133h0M155 133h0M156 133h0M170 133h0M127 134h0M137 134h0M142 134h0M167 134h0M126 135h0M134 135h0M140 135h0M151 135h0M165 135h0M170 135h0M139 136h0M142 136h0M148 136h0M156 136h0M157 136h0M166 136h0M167 136h0M105 137h0M111 137h0M118 137h0M128 137h0M131 137h0M140 137h0M141 137h0M153 137h0M156 137h0M164 137h0M168 137h0M105 138h0M113 138h0M136 138h0M138 138h0M147 138h0M148 138h0M150 138h0M151 138h0M158 138h0M159 138h0M172 138h0M111 139h0M135 139h0M138 139h0M139 139h0M143 139h0M144 139h0M145 139h0M148 139h0M153 139h0M157 139h0M158 139h0M166 139h0M122 140h0M138 140h0M146 140h0M148 140h0M154 140h0M157 140h0M111 141h0M117 141h0M138 141h0M141 141h0M144 141h0M145 141h0M151 141h0M156 141h0M113 142h0M139 142h0M142 142h0M143 142h0M147 142h0M149 142h0M155 142h0M172 142h0M129 143h0M133 143h0M142 143h0M144 143h0M146 143h0M149 143h0M158 143h0M120 144h0M138 144h0M139 144h0M143 144h0M148 144h0M159 144h0M163 144h0M164 144h0M117 145h0M123 145h0M124 145h0M125 145h0M127 145h0M150 145h0M123 146h0M139 146h0M143 146h0M146 146h0M148 146h0M149 146h0M153 146h0M121 147h0M122 147h0M129 147h0M143 147h0M144 147h0M158 147h0M161 147h0M185 147h0M146 148h0M148 148h0M159 148h0M161 148h0M162 148h0M163 148h0M164 148h0M168 148h0M169 148h0M155 149h0M141 150h0M153 150h0M162 150h0M164 150h0M173 150h0M122 151h0M135 151h0M138 151h0M142 151h0M145 151h0M146 151h0M171 151h0M125 152h0M133 152h0M169 152h0M119 153h0M123 153h0M136 153h0M146 153h0M148 153h0M169 153h0M181 153h0M126 154h0M181 154h0M139 155h0M179 155h0M185 155h0M170 156h0M35 159h0M121 160h0M36 164h0M44 166h0M42 167h0M43 169h0M40 171h0"/>
</g>
<g transform="translate(338.5,34.3) scale(0.5)">
<path stroke="#d62728" stroke-width="2.2" stroke-linecap="square" d="M45 8h0M47 11h0M49 11h0M51 11h0M55 11h0M47 13h0M49 13h0M52 13h0M58 13h0M51 14h0M48 15h0M50 15h0M61 15h0M50 17h0M58 17h0M59 19h0M46 20h0M47 23h0M107 35h0M110 37h0M96 46h0M101 47h0M106 47h0M94 49h0M99 49h0M101 49h0M106 50h0M96 51h0M84 55h0M118 58h0M109 60h0M111 62h0M79 63h0M106 63h0M86 64h0M91 65h0M99 65h0M136 66h0M127 67h0M128 67h0M146 67h0M85 68h0M123 70h0M108 71h0M110 71h0M132 71h0M142 71h0M113 72h0M118 72h0M78 73h0M85 73h0M110 73h0M139 73h0M134 74h0M138 74h0M140 74h0M79 75h0M111 75h0M142 77h0M144 77h0M74 78h0M80 78h0M129 78h0M125 79h0M145 79h0M73 80h0M100 80h0M108 80h0M134 81h0M144 81h0M89 82h0M104 82h0M145 82h0M105 83h0M120 83h0M142 83h0M105 84h0M83 85h0M138 85h0M188 85h0M113 86h0M120 86h0M99 87h0M109 87h0M115 87h0M116 87h0M117 87h0M122 87h0M179 87h0M90 88h0M90 89h0M111 89h0M117 89h0M132 89h0M177 89h0M83 90h0M93 90h0M94 90h0M91 91h0M94 91h0M124 91h0M168 91h0M91 92h0M123 92h0M178 92h0M201 92h0M112 93h0M116 93h0M189 93h0M85 94h0M91 94h0M99 94h0M134 94h0M199 94h0M87 95h0M96 95h0M120 95h0M124 95h0M133 95h0M180 95h0M90 96h0M97 96h0M101 96h0M183 96h0M197 96h0M104 97h0M111 97h0M117 97h0M123 97h0M170 97h0M96 98h0M102 98h0M113 98h0M141 98h0M168 98h0M182 98h0M195 98h0M103 99h0M112 99h0M121 100h0M162 101h0M89 102h0M138 102h0M163 102h0M201 102h0M113 104h0M169 104h0M117 105h0M199 105h0M88 106h0M112 106h0M171 106h0M199 107h0M128 108h0M174 108h0M126 109h0M130 109h0M157 109h0M175 109h0M125 110h0M76 111h0M134 111h0M176 111h0M129 113h0M132 113h0M182 113h0M184 113h0M84 114h0M180 114h0M158 115h0M183 115h0M131 116h0M145 116h0M131 117h0M139 117h0M157 117h0M149 118h0M174 118h0M174 119h0M135 120h0M138 120h0M154 120h0M128 122h0M130 123h0M132 123h0M142 123h0M180 123h0M134 124h0M136 124h0M153 124h0M138 126h0M149 126h0M16 127h0M133 127h0M120 128h0M130 128h0M119 130h0M152 130h0M20 131h0M141 131h0M167 132h0M101 133h0M119 133h0M153 133h0M155 133h0M137 134h0M142 134h0M167 134h0M134 135h0M151 135h0M170 135h0M166 136h0M105 137h0M111 137h0M118 137h0M131 137h0M156 137h0M105 138h0M113 138h0M147 138h0M150 138h0M111 139h0M139 139h0M143 139h0M144 139h0M148 139h0M157 139h0M158 139h0M154 140h0M157 140h0M111 141h0M138 141h0M141 141h0M145 141h0M142 142h0M143 142h0M155 142h0M129 143h0M133 143h0M149 143h0M158 143h0M143 144h0M159 144h0M150 145h0M139 146h0M146 146h0M148 146h0M153 146h0M121 147h0M129 147h0M144 147h0M161 147h0M185 147h0M148 148h0M159 148h0M161 148h0M162 148h0M163 148h0M153 150h0M162 150h0M164 150h0M122 151h0M135 151h0M146 151h0M171 151h0M133 152h0M119 153h0M146 153h0M169 153h0M181 153h0M181 154h0M139 155h0M179 155h0M170 156h0"/>
</g>
<g transform="translate(338.5,34.3) scale(0.5)">
<path stroke="#b5bd61" stroke-width="2.2" stroke-linecap="square" d="M49 23h0M85 48h0M77 54h0M82 55h0M78 56h0M81 56h0M79 57h0M84 58h0M89 58h0M96 58h0M76 59h0M168 59h0M78 61h0M82 61h0M96 61h0M81 62h0M87 62h0M168 62h0M81 63h0M125 63h0M98 64h0M85 65h0M116 65h0M121 65h0M78 68h0M93 68h0M91 69h0M122 69h0M123 69h0M86 71h0M91 71h0M94 71h0M115 71h0M90 72h0M91 72h0M77 74h0M94 74h0M97 76h0M113 76h0M133 76h0M114 77h0M122 77h0M127 77h0M131 77h0M92 78h0M140 78h0M85 79h0M138 79h0M109 80h0M130 80h0M137 80h0M139 80h0M92 81h0M113 81h0M120 81h0M137 81h0M87 82h0M142 82h0M187 82h0M81 83h0M88 83h0M96 83h0M139 83h0M111 84h0M100 85h0M138 85h0M92 86h0M93 86h0M89 87h0M95 87h0M188 87h0M90 88h0M94 88h0M105 88h0M135 88h0M91 89h0M103 89h0M137 89h0M164 89h0M96 90h0M100 90h0M112 90h0M114 90h0M187 91h0M198 91h0M111 92h0M112 92h0M190 92h0M96 93h0M109 93h0M113 93h0M140 93h0M183 93h0M192 93h0M94 94h0M100 94h0M107 94h0M166 94h0M192 94h0M101 95h0M104 95h0M112 95h0M98 96h0M133 96h0M182 96h0M99 97h0M108 97h0M179 97h0M104 98h0M109 98h0M123 98h0M93 99h0M96 99h0M172 99h0M96 100h0M118 100h0M182 100h0M191 100h0M93 101h0M122 101h0M189 101h0M94 102h0M142 102h0M179 102h0M191 102h0M122 103h0M134 103h0M138 103h0M179 103h0M121 104h0M135 104h0M173 104h0M177 104h0M133 105h0M178 105h0M191 105h0M134 106h0M137 106h0M178 106h0M87 107h0M135 108h0M139 108h0M173 108h0M130 109h0M105 110h0M180 110h0M122 111h0M171 111h0M178 111h0M177 112h0M177 113h0M184 113h0M118 114h0M169 114h0M175 114h0M122 115h0M144 116h0M125 117h0M143 117h0M116 120h0M123 121h0M139 122h0M124 123h0M125 124h0M115 125h0M139 125h0M132 126h0M136 127h0M146 127h0M72 128h0M134 128h0M160 128h0M146 129h0M140 130h0M126 131h0M144 131h0M139 133h0M148 133h0M156 133h0M170 133h0M127 134h0M137 134h0M142 136h0M156 136h0M157 136h0M128 137h0M153 137h0M168 137h0M138 138h0M147 138h0M159 138h0M138 139h0M166 139h0M122 140h0M148 140h0M151 141h0M172 142h0M144 143h0M146 143h0M138 144h0M148 144h0M163 144h0M117 145h0M123 145h0M125 145h0M149 146h0M143 147h0M158 147h0M155 149h0M141 150h0M138 151h0M142 151h0M148 153h0M126 154h0M35 159h0M44 166h0M42 167h0M40 171h0"/>
</g>
<g transform="translate(338.5,34.3) scale(0.5)">
<path stroke="#17becf" stroke-width="2.2" stroke-linecap="square" d="M48 15h0M36 19h0M116 65h0M132 76h0M129 77h0M108 78h0M136 78h0M103 83h0M169 88h0M101 90h0M102 91h0M99 92h0M126 93h0M129 94h0M90 98h0M113 99h0M169 99h0M164 100h0M92 101h0M168 101h0M86 107h0M183 109h0M136 111h0M171 121h0M137 122h0M174 125h0M166 131h0M167 136h0M169 148h0M169 152h0"/>
</g>
<g transform="translate(338.5,34.3) scale(0.5)">
<path stroke="#e377c2" stroke-width="2.2" stroke-linecap="square" d="M130 130h0"/>
</g>
<g transform="translate(338.5,34.3) scale(0.5)">
<path stroke="#ff7f0e" stroke-width="2.2" stroke-linecap="square" d="M177 111h0M179 111h0M183 113h0M146 131h0"/>
</g>
<g transform="translate(338.5,34.3) scale(0.5)">
<path stroke="#aec7e8" stroke-width="2.2" stroke-linecap="square" d="M108 78h0M109 78h0M96 99h0"/>
</g>
<g transform="translate(338.5,34.3) scale(0.5)">
<path stroke="#ff9896" stroke-width="2.2" stroke-linecap="square" d="M166 53h0M113 81h0M120 114h0M146 140h0M139 142h0M120 144h0M123 146h0M122 147h0"/>
</g>
<g transform="translate(463.4,34.3) scale(0.5)">
<path stroke="#dbdbdb" stroke-width="2" stroke-linecap="square" d="M9 2h0M123 2h0M7 3h0M22 3h0M31 3h0M34 3h0M35 3h0M80 3h0M81 3h0M115 3h0M121 3h0M155 3h0M174 3h0M183 3h0M18 4h0M28 4h0M29 4h0M33 4h0M65 4h0M67 4h0M100 4h0M131 4h0M146 4h0M149 4h0M37 5h0M67 5h0M18 6h0M20 6h0M31 6h0M36 6h0M103 6h0M126 6h0M154 6h0M158 6h0M167 6h0M172 6h0M177 6h0M180 6h0M69 7h0M80 7h0M89 7h0M90 7h0M102 7h0M176 7h0M182 7h0M21 8h0M46 8h0M72 8h0M74 8h0M124 8h0M130 8h0M145 8h0M169 8h0M176 8h0M25 9h0M35 9h0M100 9h0M124 9h0M136 9h0M169 9h0M177 9h0M23 10h0M30 10h0M38 10h0M86 10h0M172 10h0M22 11h0M34 11h0M108 11h0M131 11h0M133 11h0M168 11h0M9 12h0M11 12h0M87 12h0M104 12h0M125 12h0M128 12h0M163 12h0M165 12h0M177 12h0M190 12h0M23 13h0M67 13h0M102 13h0M107 13h0M125 13h0M126 13h0M168 13h0M61 14h0M162 14h0M165 14h0M187 14h0M6 15h0M11 15h0M13 15h0M14 15h0M18 15h0M22 15h0M34 15h0M64 15h0M103 15h0M123 15h0M125 15h0M127 15h0M142 15h0M146 15h0M147 15h0M160 15h0M162 15h0M172 15h0M176 15h0M5 16h0M35 16h0M71 16h0M72 16h0M86 16h0M125 16h0M140 16h0M171 16h0M181 16h0M186 16h0M188 16h0M191 16h0M6 17h0M12 17h0M14 17h0M84 17h0M126 17h0M152 17h0M160 17h0M163 17h0M187 17h0M191 17h0M8 18h0M13 18h0M21 18h0M36 18h0M63 18h0M72 18h0M87 18h0M113 18h0M116 18h0M119 18h0M123 18h0M190 18h0M192 18h0M6 19h0M16 19h0M17 19h0M58 19h0M66 19h0M81 19h0M85 19h0M110 19h0M118 19h0M130 19h0M146 19h0M167 19h0M181 19h0M187 19h0M189 19h0M191 19h0M29 20h0M32 20h0M124 20h0M131 20h0M136 20h0M151 20h0M154 20h0M178 20h0M186 20h0M12 21h0M18 21h0M69 21h0M72 21h0M79 21h0M120 21h0M134 21h0M159 21h0M169 21h0M173 21h0M189 21h0M202 21h0M36 22h0M57 22h0M118 22h0M122 22h0M133 22h0M145 22h0M147 22h0M149 22h0M159 22h0M160 22h0M196 22h0M31 23h0M52 23h0M73 23h0M74 23h0M110 23h0M114 23h0M149 23h0M159 23h0M179 23h0M183 23h0M184 23h0M189 23h0M197 23h0M19 24h0M58 24h0M69 24h0M82 24h0M89 24h0M108 24h0M137 24h0M152 24h0M159 24h0M162 24h0M180 24h0M193 24h0M15 25h0M19 25h0M126 25h0M132 25h0M152 25h0M160 25h0M165 25h0M188 25h0M200 25h0M50 26h0M60 26h0M61 26h0M104 26h0M110 26h0M131 26h0M157 26h0M178 26h0M182 26h0M184 26h0M192 26h0M200 26h0M56 27h0M83 27h0M95 27h0M109 27h0M119 27h0M151 27h0M156 27h0M28 28h0M115 28h0M120 28h0M130 28h0M183 28h0M193 28h0M199 28h0M19 29h0M29 29h0M35 29h0M59 29h0M98 29h0M106 29h0M128 29h0M130 29h0M171 29h0M182 29h0M29 30h0M34 30h0M123 30h0M171 30h0M173 30h0M26 31h0M29 31h0M56 31h0M87 31h0M104 31h0M119 31h0M121 31h0M158 31h0M172 31h0M195 31h0M196 31h0M200 31h0M25 32h0M101 32h0M103 32h0M135 32h0M190 32h0M56 33h0M87 33h0M95 33h0M104 33h0M125 33h0M127 33h0M128 33h0M131 33h0M150 33h0M154 33h0M188 33h0M24 34h0M34 34h0M61 34h0M137 34h0M194 34h0M55 35h0M56 35h0M59 35h0M60 35h0M62 35h0M83 35h0M102 35h0M114 35h0M131 35h0M145 35h0M198 35h0M200 35h0M45 36h0M50 36h0M52 36h0M58 36h0M85 36h0M103 36h0M106 36h0M114 36h0M135 36h0M137 36h0M149 36h0M189 36h0M35 37h0M38 37h0M51 37h0M115 37h0M156 37h0M196 37h0M7 38h0M11 38h0M50 38h0M57 38h0M61 38h0M91 38h0M106 38h0M130 38h0M132 38h0M137 38h0M48 39h0M65 39h0M101 39h0M105 39h0M109 39h0M112 39h0M113 39h0M118 39h0M197 39h0M200 39h0M202 39h0M5 40h0M6 40h0M31 40h0M39 40h0M57 40h0M61 40h0M95 40h0M112 40h0M198 40h0M8 41h0M32 41h0M53 41h0M59 41h0M64 41h0M104 41h0M111 41h0M122 41h0M123 41h0M145 41h0M10 42h0M21 42h0M33 42h0M60 42h0M62 42h0M194 42h0M17 43h0M59 43h0M68 43h0M107 43h0M109 43h0M110 43h0M114 43h0M123 43h0M137 43h0M8 44h0M58 44h0M113 44h0M121 44h0M130 44h0M133 44h0M141 44h0M190 44h0M200 44h0M4 45h0M12 45h0M57 45h0M112 45h0M127 45h0M129 45h0M138 45h0M24 46h0M31 46h0M42 46h0M69 46h0M108 46h0M122 46h0M189 46h0M7 47h0M65 47h0M70 47h0M73 47h0M111 47h0M114 47h0M118 47h0M119 47h0M121 47h0M127 47h0M132 47h0M134 47h0M20 48h0M25 48h0M43 48h0M69 48h0M70 48h0M152 48h0M8 49h0M21 49h0M40 49h0M64 49h0M82 49h0M98 49h0M134 49h0M139 49h0M156 49h0M12 50h0M97 50h0M118 50h0M119 50h0M120 50h0M133 50h0M141 50h0M154 50h0M24 51h0M51 51h0M54 51h0M94 51h0M100 51h0M108 51h0M117 51h0M122 51h0M123 51h0M130 51h0M66 52h0M68 52h0M103 52h0M115 52h0M117 52h0M127 52h0M151 52h0M153 52h0M12 53h0M14 53h0M54 53h0M67 53h0M75 53h0M118 53h0M128 53h0M129 53h0M26 54h0M51 54h0M59 54h0M94 54h0M96 54h0M119 54h0M51 55h0M66 55h0M101 55h0M104 55h0M114 55h0M122 55h0M132 55h0M152 55h0M154 55h0M24 56h0M56 56h0M61 56h0M67 56h0M69 56h0M78 56h0M85 56h0M93 56h0M94 56h0M97 56h0M116 56h0M117 56h0M128 56h0M141 56h0M66 57h0M72 57h0M74 57h0M83 57h0M91 57h0M106 57h0M112 57h0M117 57h0M55 58h0M68 58h0M81 58h0M92 58h0M95 58h0M102 58h0M103 58h0M109 58h0M113 58h0M141 58h0M25 59h0M69 59h0M83 59h0M87 59h0M96 59h0M108 59h0M124 59h0M130 59h0M141 59h0M191 59h0M192 59h0M194 59h0M24 60h0M64 60h0M66 60h0M74 60h0M86 60h0M97 60h0M111 60h0M187 60h0M191 60h0M86 61h0M87 61h0M88 61h0M103 61h0M105 61h0M126 61h0M144 61h0M23 62h0M26 62h0M59 62h0M61 62h0M62 62h0M63 62h0M65 62h0M69 62h0M78 62h0M95 62h0M112 62h0M127 62h0M128 62h0M138 62h0M150 62h0M183 62h0M193 62h0M194 62h0M195 62h0M24 63h0M30 63h0M66 63h0M71 63h0M75 63h0M76 63h0M107 63h0M115 63h0M185 63h0M30 64h0M65 64h0M77 64h0M83 64h0M121 64h0M174 64h0M188 64h0M192 64h0M193 64h0M42 65h0M44 65h0M54 65h0M65 65h0M77 65h0M190 65h0M23 66h0M38 66h0M41 66h0M43 66h0M47 66h0M74 66h0M78 66h0M87 66h0M91 66h0M94 66h0M95 66h0M100 66h0M109 66h0M118 66h0M132 66h0M135 66h0M136 66h0M174 66h0M193 66h0M200 66h0M36 67h0M76 67h0M78 67h0M112 67h0M129 67h0M149 67h0M152 67h0M175 67h0M188 67h0M44 68h0M57 68h0M80 68h0M82 68h0M95 68h0M96 68h0M98 68h0M133 68h0M139 68h0M188 68h0M193 68h0M42 69h0M98 69h0M99 69h0M130 69h0M183 69h0M191 69h0M194 69h0M46 70h0M47 70h0M70 70h0M98 70h0M134 70h0M136 70h0M188 70h0M195 70h0M57 71h0M76 71h0M82 71h0M98 71h0M151 71h0M156 71h0M188 71h0M165 72h0M201 72h0M63 73h0M82 73h0M165 73h0M176 73h0M177 73h0M188 73h0M197 73h0M199 73h0M67 74h0M77 74h0M89 74h0M93 74h0M94 74h0M152 74h0M175 74h0M177 74h0M182 74h0M187 74h0M62 75h0M65 75h0M87 75h0M160 75h0M161 75h0M164 75h0M49 76h0M75 76h0M148 76h0M36 77h0M56 77h0M74 77h0M99 77h0M152 77h0M159 77h0M162 77h0M199 77h0M43 78h0M162 78h0M175 78h0M56 80h0M73 80h0M78 80h0M83 80h0M100 80h0M105 80h0M107 80h0M158 80h0M105 81h0M54 82h0M200 82h0M54 83h0M55 83h0M148 83h0M202 83h0M53 84h0M55 84h0M158 84h0M182 84h0M197 84h0M199 84h0M85 85h0M107 85h0M52 86h0M149 86h0M197 86h0M40 87h0M57 87h0M59 87h0M201 87h0M154 88h0M181 88h0M198 88h0M59 89h0M178 89h0M180 89h0M196 89h0M197 89h0M198 89h0M15 90h0M82 90h0M157 90h0M158 90h0M56 91h0M84 91h0M142 91h0M147 91h0M156 91h0M8 92h0M83 92h0M142 92h0M155 92h0M158 92h0M15 93h0M58 93h0M67 93h0M6 94h0M59 94h0M109 94h0M146 94h0M151 94h0M153 94h0M155 94h0M156 94h0M57 95h0M27 96h0M86 96h0M151 96h0M153 96h0M51 97h0M88 97h0M149 97h0M155 97h0M22 98h0M31 98h0M51 98h0M149 98h0M88 99h0M122 99h0M189 99h0M201 99h0M85 100h0M87 100h0M22 101h0M27 101h0M49 101h0M52 101h0M64 101h0M88 101h0M123 101h0M125 101h0M127 101h0M146 101h0M13 102h0M85 102h0M121 102h0M124 102h0M192 102h0M27 103h0M6 104h0M88 104h0M116 104h0M118 104h0M121 104h0M151 104h0M166 104h0M186 104h0M195 104h0M197 104h0M198 104h0M21 105h0M130 105h0M152 105h0M153 105h0M160 105h0M172 105h0M120 106h0M123 106h0M198 106h0M10 107h0M24 107h0M128 107h0M199 107h0M18 108h0M35 108h0M38 108h0M45 108h0M115 108h0M118 108h0M119 108h0M128 108h0M156 108h0M158 108h0M162 108h0M164 108h0M167 108h0M26 109h0M46 109h0M58 109h0M80 109h0M86 109h0M110 109h0M160 109h0M166 109h0M3 110h0M25 110h0M67 110h0M74 110h0M83 110h0M115 110h0M146 110h0M155 110h0M157 110h0M164 110h0M3 111h0M8 111h0M23 111h0M27 111h0M67 111h0M78 111h0M86 111h0M160 111h0M202 111h0M19 112h0M40 112h0M57 112h0M68 112h0M70 112h0M82 112h0M84 112h0M92 112h0M110 112h0M123 112h0M135 112h0M158 112h0M61 113h0M138 113h0M167 113h0M168 113h0M71 114h0M74 114h0M76 114h0M78 114h0M82 114h0M118 114h0M125 114h0M151 114h0M153 114h0M161 114h0M196 114h0M198 114h0M20 115h0M42 115h0M50 115h0M55 115h0M75 115h0M83 115h0M87 115h0M91 115h0M130 115h0M197 115h0M24 116h0M58 116h0M66 116h0M80 116h0M92 116h0M41 117h0M47 117h0M52 117h0M58 117h0M81 117h0M82 117h0M87 117h0M108 117h0M110 117h0M117 117h0M150 117h0M153 117h0M156 117h0M167 117h0M173 117h0M44 118h0M45 118h0M56 118h0M60 118h0M74 118h0M90 118h0M94 118h0M105 118h0M122 118h0M140 118h0M156 118h0M168 118h0M169 118h0M55 119h0M62 119h0M106 119h0M149 119h0M76 120h0M88 120h0M152 120h0M168 120h0M170 120h0M11 121h0M52 121h0M84 121h0M88 121h0M97 121h0M103 121h0M116 121h0M8 122h0M72 122h0M80 122h0M85 122h0M91 122h0M94 122h0M121 122h0M72 123h0M84 123h0M149 123h0M201 123h0M53 124h0M55 124h0M173 124h0M59 125h0M84 125h0M92 125h0M104 125h0M106 125h0M112 125h0M155 125h0M156 125h0M197 125h0M56 126h0M155 126h0M191 126h0M8 127h0M79 127h0M114 127h0M152 127h0M154 127h0M161 127h0M54 128h0M146 128h0M115 129h0M6 130h0M55 130h0M78 130h0M154 130h0M155 130h0M184 130h0M9 131h0M53 131h0M84 131h0M115 131h0M117 131h0M125 131h0M151 131h0M42 132h0M52 132h0M112 132h0M114 132h0M128 132h0M183 132h0M5 133h0M48 133h0M149 133h0M153 133h0M202 133h0M42 134h0M95 134h0M128 134h0M4 135h0M7 135h0M83 135h0M107 135h0M201 135h0M5 136h0M130 136h0M17 137h0M39 137h0M56 137h0M86 137h0M94 137h0M188 137h0M30 138h0M79 138h0M89 138h0M112 138h0M124 138h0M126 138h0M177 138h0M5 139h0M7 139h0M29 139h0M86 139h0M87 139h0M106 139h0M107 139h0M180 139h0M182 139h0M5 140h0M86 140h0M91 140h0M94 140h0M95 140h0M162 140h0M174 140h0M176 140h0M178 140h0M180 140h0M193 140h0M3 141h0M89 141h0M200 141h0M28 142h0M86 143h0M180 143h0M188 143h0M196 143h0M75 144h0M142 144h0M161 144h0M163 144h0M180 144h0M70 145h0M197 145h0M86 146h0M142 146h0M162 146h0M187 146h0M84 147h0M165 147h0M178 147h0M190 147h0M198 147h0M23 148h0M31 148h0M142 148h0M186 148h0M189 148h0M29 149h0M138 149h0M190 149h0M193 149h0M188 150h0M196 150h0M88 151h0M167 151h0M27 152h0M152 152h0M140 153h0M188 153h0M135 154h0M187 154h0M197 154h0M27 155h0M99 155h0M151 155h0M153 155h0M189 155h0M195 155h0M15 156h0M148 156h0M11 157h0M43 157h0M136 157h0M171 157h0M200 157h0M26 158h0M45 158h0M200 158h0M11 159h0M27 159h0M102 159h0M13 160h0M19 160h0M37 160h0M38 160h0M99 160h0M106 160h0M202 160h0M10 161h0M25 161h0M33 161h0M144 161h0M47 162h0M86 162h0M92 162h0M161 162h0M10 163h0M11 163h0M13 163h0M19 163h0M33 163h0M39 163h0M85 163h0M91 163h0M100 163h0M103 163h0M104 163h0M128 163h0M188 163h0M17 164h0M36 164h0M95 164h0M104 164h0M18 165h0M28 165h0M37 165h0M38 165h0M42 165h0M84 165h0M88 165h0M90 165h0M101 165h0M104 165h0M148 165h0M193 165h0M29 166h0M35 166h0M37 166h0M85 166h0M87 166h0M157 166h0M37 167h0M105 167h0M44 168h0M79 168h0M88 168h0M95 168h0M141 168h0M142 168h0M149 168h0M151 168h0M17 169h0M62 169h0M65 169h0M86 169h0M90 169h0M92 169h0M159 169h0M183 169h0M89 170h0M186 170h0M82 171h0M89 171h0M92 171h0M100 171h0M136 171h0M150 171h0M185 171h0M186 171h0M20 172h0M135 172h0M138 172h0M141 172h0M152 172h0M175 172h0M182 172h0M184 172h0M185 172h0M16 173h0M27 173h0M103 173h0M133 173h0M157 173h0M178 173h0M36 174h0M37 174h0M106 174h0M109 174h0M134 174h0M138 174h0M154 174h0M142 175h0M198 175h0M56 176h0M109 176h0M129 176h0M133 176h0M24 177h0M31 177h0M34 177h0M43 177h0M106 177h0M144 177h0M153 177h0M162 177h0M169 177h0M178 177h0M29 178h0M31 178h0M163 178h0M174 178h0M28 179h0M30 179h0M54 179h0M55 179h0M134 179h0M136 179h0M192 179h0M24 180h0M25 180h0M59 180h0M136 180h0M154 180h0M28 181h0M30 181h0M56 181h0M103 181h0M129 181h0M157 181h0M25 182h0M96 182h0M134 182h0M148 182h0M164 182h0M165 182h0M4 183h0M133 183h0M173 183h0M176 183h0M177 183h0M195 183h0M5 184h0M105 184h0M128 184h0M129 184h0M29 185h0M37 185h0M104 185h0M128 185h0M129 185h0M132 185h0M137 185h0M138 185h0M148 185h0M165 185h0M178 185h0M37 186h0M129 186h0M131 186h0M149 186h0M172 186h0M134 187h0M135 187h0M137 187h0M140 187h0M169 187h0M123 188h0M129 188h0M133 188h0M178 188h0M14 189h0M123 189h0M128 189h0M132 189h0M133 189h0M139 189h0M149 189h0M171 189h0M21 190h0M29 190h0M150 190h0M174 190h0M202 190h0M19 191h0M132 191h0M135 191h0M136 191h0M171 191h0M13 192h0M18 192h0M20 192h0M35 192h0M155 192h0M177 192h0M115 193h0M134 193h0M157 193h0M169 193h0M181 193h0M83 194h0M109 194h0M124 194h0M127 194h0M134 194h0M171 194h0M3 195h0M5 195h0M16 195h0M21 195h0M29 195h0M115 195h0M132 195h0M155 195h0M156 195h0M157 195h0M161 195h0M199 195h0M123 196h0M150 196h0M158 196h0M165 196h0M167 196h0M7 197h0M72 197h0M76 197h0M80 197h0M129 197h0M145 197h0M155 197h0M167 197h0M189 197h0M76 198h0M131 198h0M136 198h0M139 198h0M142 198h0M163 198h0M76 199h0M150 199h0M154 199h0M170 199h0M197 199h0M67 200h0M72 200h0"/>
</g>
<g transform="translate(463.4,34.3) scale(0.5)">
<path stroke="#f0850f" stroke-width="2.2" stroke-linecap="square" d="M66 2h0M12 3h0M37 3h0M194 3h0M11 4h0M19 4h0M45 4h0M150 4h0M25 5h0M38 5h0M39 5h0M43 5h0M47 5h0M49 5h0M58 5h0M71 5h0M157 5h0M38 6h0M46 6h0M71 6h0M157 6h0M192 6h0M37 7h0M48 7h0M50 7h0M61 7h0M62 7h0M69 7h0M70 7h0M154 7h0M189 7h0M19 8h0M34 8h0M51 8h0M63 8h0M67 8h0M157 8h0M193 8h0M50 9h0M14 10h0M35 10h0M78 10h0M23 11h0M35 11h0M37 11h0M46 11h0M89 11h0M45 12h0M33 13h0M38 13h0M37 14h0M52 14h0M79 14h0M196 14h0M38 16h0M52 16h0M107 16h0M108 16h0M2 17h0M52 17h0M56 17h0M90 17h0M108 17h0M112 17h0M18 18h0M19 18h0M40 18h0M59 18h0M82 18h0M87 18h0M13 19h0M35 19h0M83 19h0M89 19h0M118 19h0M165 19h0M169 19h0M9 20h0M10 20h0M38 20h0M40 20h0M48 20h0M121 20h0M168 20h0M201 20h0M5 21h0M58 21h0M62 21h0M89 21h0M121 21h0M165 21h0M47 22h0M120 22h0M8 23h0M15 23h0M43 23h0M61 23h0M196 23h0M57 24h0M64 24h0M83 24h0M86 24h0M88 24h0M199 24h0M13 25h0M31 25h0M35 25h0M36 25h0M44 25h0M93 25h0M166 25h0M197 25h0M10 26h0M20 26h0M22 26h0M28 26h0M39 26h0M57 26h0M63 26h0M71 26h0M9 27h0M14 27h0M24 27h0M60 27h0M63 27h0M68 27h0M71 27h0M58 28h0M196 28h0M10 29h0M13 29h0M34 29h0M55 29h0M70 29h0M73 29h0M84 29h0M98 29h0M191 29h0M62 30h0M75 30h0M93 30h0M98 30h0M4 31h0M31 31h0M80 31h0M9 32h0M28 32h0M72 32h0M83 32h0M85 32h0M159 32h0M75 33h0M83 33h0M156 33h0M158 33h0M12 34h0M62 34h0M83 34h0M97 34h0M31 35h0M62 35h0M68 35h0M69 35h0M79 35h0M86 35h0M87 35h0M88 35h0M143 35h0M29 36h0M67 36h0M81 36h0M91 36h0M174 36h0M3 37h0M11 37h0M17 37h0M29 37h0M69 37h0M70 37h0M81 37h0M140 37h0M20 38h0M28 38h0M36 38h0M172 38h0M17 39h0M23 39h0M16 40h0M20 40h0M25 40h0M29 40h0M70 40h0M79 40h0M2 41h0M26 41h0M31 41h0M56 41h0M67 41h0M23 42h0M24 42h0M55 42h0M61 42h0M63 42h0M66 42h0M7 43h0M32 43h0M33 43h0M57 43h0M4 44h0M6 44h0M8 44h0M19 44h0M21 44h0M43 44h0M92 44h0M96 44h0M181 44h0M185 44h0M16 45h0M58 45h0M91 45h0M173 45h0M19 46h0M25 46h0M91 46h0M93 46h0M152 46h0M163 46h0M94 47h0M154 48h0M165 48h0M96 49h0M98 49h0M136 49h0M151 49h0M163 49h0M94 50h0M148 50h0M152 50h0M153 50h0M184 50h0M193 50h0M199 50h0M152 51h0M162 51h0M165 51h0M186 51h0M191 51h0M128 52h0M132 52h0M164 52h0M12 53h0M93 53h0M94 53h0M128 53h0M155 53h0M6 54h0M56 54h0M132 54h0M136 54h0M137 54h0M155 54h0M176 54h0M82 55h0M91 55h0M162 55h0M164 55h0M62 56h0M91 56h0M92 56h0M131 56h0M150 56h0M187 56h0M195 56h0M12 57h0M15 57h0M30 57h0M139 57h0M147 57h0M155 57h0M156 57h0M161 57h0M4 58h0M12 58h0M17 58h0M27 58h0M58 58h0M135 58h0M156 58h0M168 58h0M177 58h0M51 59h0M76 59h0M147 59h0M155 59h0M156 59h0M161 59h0M180 59h0M5 60h0M17 60h0M55 60h0M62 60h0M163 60h0M164 60h0M165 60h0M169 60h0M184 60h0M6 61h0M16 61h0M19 61h0M86 61h0M128 61h0M132 61h0M148 61h0M173 61h0M3 62h0M6 62h0M14 62h0M19 62h0M50 62h0M60 62h0M95 62h0M144 62h0M148 62h0M4 63h0M8 63h0M17 63h0M24 63h0M37 63h0M40 63h0M50 63h0M147 63h0M150 63h0M163 63h0M185 63h0M33 64h0M52 64h0M54 64h0M61 64h0M66 64h0M71 64h0M7 65h0M13 65h0M67 65h0M86 65h0M145 65h0M147 65h0M5 66h0M12 66h0M28 66h0M39 66h0M51 66h0M54 66h0M56 66h0M58 66h0M4 67h0M9 67h0M12 67h0M16 67h0M20 67h0M30 67h0M32 67h0M33 67h0M34 67h0M36 67h0M61 67h0M69 67h0M6 68h0M11 68h0M12 68h0M15 68h0M17 68h0M22 68h0M39 68h0M53 68h0M97 68h0M6 69h0M12 69h0M19 69h0M21 69h0M26 69h0M29 69h0M30 69h0M53 69h0M55 69h0M133 69h0M172 69h0M13 70h0M17 70h0M26 70h0M27 70h0M31 70h0M39 70h0M40 70h0M103 70h0M108 70h0M9 71h0M20 71h0M30 71h0M41 71h0M51 71h0M63 71h0M98 71h0M102 71h0M13 72h0M24 72h0M148 72h0M20 73h0M39 73h0M44 73h0M46 73h0M49 73h0M51 73h0M101 73h0M150 73h0M29 74h0M44 74h0M46 74h0M51 74h0M101 74h0M106 74h0M133 74h0M135 74h0M16 75h0M41 75h0M53 75h0M132 75h0M134 75h0M139 75h0M167 75h0M62 76h0M63 76h0M99 76h0M130 76h0M137 76h0M160 76h0M13 77h0M22 77h0M25 77h0M39 77h0M42 77h0M43 77h0M56 77h0M66 77h0M95 77h0M106 77h0M113 77h0M134 77h0M136 77h0M27 78h0M42 78h0M57 78h0M62 78h0M90 78h0M140 78h0M146 78h0M7 79h0M21 79h0M30 79h0M31 79h0M40 79h0M46 79h0M64 79h0M95 79h0M98 79h0M140 79h0M162 79h0M4 80h0M7 80h0M23 80h0M30 80h0M100 80h0M105 80h0M109 80h0M132 80h0M146 80h0M164 80h0M168 80h0M9 81h0M11 81h0M16 81h0M26 81h0M29 81h0M32 81h0M98 81h0M99 81h0M109 81h0M115 81h0M125 81h0M127 81h0M128 81h0M129 81h0M131 81h0M144 81h0M150 81h0M152 81h0M163 81h0M164 81h0M165 81h0M169 81h0M187 81h0M10 82h0M35 82h0M66 82h0M98 82h0M112 82h0M115 82h0M123 82h0M131 82h0M144 82h0M162 82h0M166 82h0M186 82h0M23 83h0M33 83h0M66 83h0M86 83h0M91 83h0M96 83h0M99 83h0M100 83h0M104 83h0M108 83h0M109 83h0M119 83h0M147 83h0M4 84h0M37 84h0M39 84h0M95 84h0M96 84h0M109 84h0M111 84h0M113 84h0M119 84h0M137 84h0M139 84h0M143 84h0M151 84h0M170 84h0M79 85h0M96 85h0M106 85h0M111 85h0M138 85h0M146 85h0M160 85h0M38 86h0M41 86h0M88 86h0M93 86h0M104 86h0M106 86h0M107 86h0M109 86h0M110 86h0M115 86h0M123 86h0M141 86h0M144 86h0M165 86h0M2 87h0M19 87h0M27 87h0M73 87h0M90 87h0M95 87h0M105 87h0M108 87h0M109 87h0M111 87h0M112 87h0M114 87h0M122 87h0M124 87h0M125 87h0M126 87h0M129 87h0M134 87h0M4 88h0M19 88h0M39 88h0M89 88h0M90 88h0M111 88h0M112 88h0M117 88h0M120 88h0M121 88h0M123 88h0M124 88h0M129 88h0M134 88h0M140 88h0M143 88h0M146 88h0M14 89h0M17 89h0M26 89h0M28 89h0M94 89h0M105 89h0M106 89h0M113 89h0M122 89h0M123 89h0M125 89h0M126 89h0M127 89h0M136 89h0M139 89h0M141 89h0M145 89h0M38 90h0M105 90h0M112 90h0M124 90h0M127 90h0M11 91h0M70 91h0M73 91h0M78 91h0M103 91h0M108 91h0M109 91h0M111 91h0M115 91h0M137 91h0M146 91h0M149 91h0M22 92h0M23 92h0M26 92h0M59 92h0M79 92h0M105 92h0M106 92h0M125 92h0M127 92h0M130 92h0M139 92h0M143 92h0M164 92h0M3 93h0M15 93h0M24 93h0M102 93h0M108 93h0M111 93h0M151 93h0M6 94h0M7 94h0M27 94h0M40 94h0M46 94h0M70 94h0M71 94h0M167 94h0M187 94h0M38 95h0M58 95h0M99 95h0M101 95h0M107 95h0M111 95h0M29 96h0M30 96h0M40 96h0M60 96h0M70 96h0M126 96h0M144 96h0M150 96h0M58 97h0M95 97h0M122 97h0M168 97h0M180 97h0M3 98h0M8 98h0M9 98h0M13 98h0M100 98h0M18 99h0M28 99h0M54 99h0M59 99h0M92 99h0M162 99h0M166 99h0M64 100h0M66 100h0M13 101h0M20 101h0M25 101h0M27 101h0M28 101h0M31 101h0M78 101h0M94 101h0M99 101h0M164 101h0M26 102h0M62 102h0M66 102h0M80 102h0M124 102h0M149 102h0M59 103h0M99 103h0M122 103h0M124 103h0M126 103h0M159 103h0M173 103h0M12 104h0M58 104h0M63 104h0M127 104h0M150 104h0M12 105h0M14 105h0M35 105h0M65 105h0M68 105h0M98 105h0M100 105h0M185 105h0M4 106h0M57 106h0M97 106h0M101 106h0M175 106h0M177 106h0M26 107h0M56 107h0M62 107h0M16 108h0M32 108h0M36 108h0M100 108h0M102 108h0M35 109h0M62 109h0M67 109h0M92 109h0M8 110h0M15 110h0M99 110h0M102 110h0M35 111h0M56 111h0M93 111h0M92 112h0M93 112h0M96 112h0M113 112h0M197 112h0M23 113h0M40 113h0M118 113h0M153 113h0M31 114h0M52 115h0M188 115h0M195 115h0M25 116h0M34 116h0M38 116h0M62 116h0M105 116h0M167 116h0M195 116h0M7 117h0M30 117h0M41 117h0M62 117h0M100 117h0M9 118h0M12 118h0M30 118h0M37 118h0M49 118h0M56 118h0M104 118h0M190 118h0M3 119h0M42 119h0M43 119h0M56 119h0M11 120h0M16 120h0M17 120h0M18 120h0M28 120h0M44 120h0M102 120h0M4 121h0M17 121h0M29 121h0M21 122h0M27 122h0M28 122h0M6 123h0M23 123h0M31 123h0M96 123h0M97 123h0M9 124h0M12 124h0M22 124h0M29 124h0M31 124h0M106 124h0M6 125h0M37 125h0M95 125h0M14 126h0M19 126h0M36 126h0M39 126h0M151 126h0M155 126h0M13 127h0M24 127h0M29 127h0M30 127h0M32 127h0M36 127h0M69 127h0M73 127h0M114 127h0M120 127h0M6 128h0M23 128h0M29 128h0M38 128h0M76 128h0M2 129h0M32 129h0M4 130h0M17 130h0M22 130h0M113 130h0M149 130h0M5 131h0M6 131h0M20 131h0M98 131h0M100 131h0M133 131h0M134 131h0M5 132h0M33 132h0M34 132h0M96 132h0M13 133h0M22 133h0M32 133h0M43 133h0M107 133h0M130 133h0M141 133h0M143 133h0M5 134h0M2 135h0M11 135h0M17 135h0M23 135h0M36 135h0M45 135h0M94 135h0M98 135h0M109 135h0M136 135h0M193 135h0M12 136h0M99 136h0M111 136h0M135 136h0M35 137h0M46 137h0M109 137h0M127 137h0M18 138h0M134 138h0M157 138h0M5 139h0M31 139h0M87 139h0M105 139h0M163 139h0M10 140h0M24 140h0M33 140h0M103 140h0M159 140h0M166 140h0M9 141h0M10 141h0M33 141h0M106 141h0M134 141h0M136 141h0M139 141h0M11 142h0M89 142h0M7 143h0M14 143h0M138 143h0M165 143h0M171 143h0M173 143h0M180 143h0M10 144h0M128 144h0M133 144h0M138 144h0M140 144h0M148 144h0M8 145h0M15 145h0M18 145h0M125 145h0M129 145h0M138 145h0M10 146h0M22 146h0M28 146h0M84 146h0M151 146h0M153 146h0M16 147h0M50 147h0M87 147h0M106 147h0M117 147h0M119 147h0M135 147h0M136 147h0M3 148h0M8 148h0M13 148h0M17 148h0M27 148h0M79 148h0M152 148h0M12 149h0M15 149h0M50 149h0M71 149h0M76 149h0M96 149h0M115 149h0M116 149h0M117 149h0M118 149h0M122 149h0M151 149h0M9 150h0M11 150h0M13 150h0M16 150h0M49 150h0M77 150h0M87 150h0M90 150h0M91 150h0M97 150h0M2 151h0M7 151h0M13 151h0M18 151h0M26 151h0M53 151h0M70 151h0M74 151h0M98 151h0M131 151h0M148 151h0M150 151h0M7 152h0M24 152h0M26 152h0M51 152h0M71 152h0M73 152h0M78 152h0M85 152h0M120 152h0M145 152h0M149 152h0M73 153h0M87 153h0M90 153h0M120 153h0M121 153h0M154 153h0M26 154h0M69 154h0M78 154h0M87 154h0M88 154h0M138 154h0M140 154h0M141 154h0M156 154h0M145 155h0M149 155h0M151 155h0M155 155h0M159 155h0M180 155h0M25 156h0M39 156h0M40 156h0M61 156h0M63 156h0M89 156h0M102 156h0M20 157h0M35 157h0M40 157h0M93 157h0M104 157h0M107 157h0M152 157h0M157 157h0M178 157h0M179 157h0M100 158h0M152 158h0M179 158h0M141 159h0M145 159h0M151 159h0M157 159h0M20 160h0M86 160h0M141 160h0M152 160h0M5 161h0M102 161h0M126 161h0M142 161h0M155 161h0M6 162h0M7 162h0M88 162h0M116 162h0M151 162h0M152 162h0M8 163h0M40 163h0M76 163h0M105 163h0M109 163h0M114 163h0M154 163h0M42 164h0M48 164h0M60 164h0M82 164h0M107 164h0M122 164h0M126 164h0M142 164h0M145 164h0M149 164h0M3 165h0M4 165h0M17 165h0M36 165h0M39 165h0M64 165h0M78 165h0M81 165h0M110 165h0M113 165h0M117 165h0M119 165h0M125 165h0M147 165h0M51 166h0M66 166h0M73 166h0M75 166h0M79 166h0M84 166h0M110 166h0M111 166h0M20 167h0M34 167h0M44 167h0M46 167h0M50 167h0M108 167h0M122 167h0M144 167h0M145 167h0M16 168h0M21 168h0M74 168h0M76 168h0M113 168h0M145 168h0M44 169h0M47 169h0M54 169h0M74 169h0M78 169h0M112 169h0M143 169h0M21 170h0M32 170h0M38 170h0M41 170h0M75 170h0M78 170h0M93 170h0M107 170h0M108 170h0M113 170h0M119 170h0M130 170h0M138 170h0M152 170h0M34 171h0M40 171h0M41 171h0M50 171h0M60 171h0M61 171h0M64 171h0M87 171h0M89 171h0M90 171h0M102 171h0M113 171h0M118 171h0M121 171h0M122 171h0M124 171h0M34 172h0M42 172h0M50 172h0M57 172h0M59 172h0M66 172h0M74 172h0M83 172h0M103 172h0M115 172h0M119 172h0M122 172h0M153 172h0M37 173h0M39 173h0M42 173h0M47 173h0M60 173h0M66 173h0M100 173h0M4 174h0M30 174h0M33 174h0M39 174h0M61 174h0M62 174h0M79 174h0M90 174h0M122 174h0M124 174h0M132 174h0M133 174h0M48 175h0M62 175h0M63 175h0M121 175h0M132 175h0M150 175h0M18 176h0M37 176h0M42 176h0M52 176h0M59 176h0M60 176h0M61 176h0M68 176h0M112 176h0M131 176h0M5 177h0M19 177h0M48 177h0M51 177h0M57 177h0M58 177h0M59 177h0M61 177h0M64 177h0M109 177h0M137 177h0M51 178h0M52 178h0M55 178h0M63 178h0M68 178h0M107 178h0M109 178h0M128 178h0M169 178h0M23 179h0M25 179h0M48 179h0M49 179h0M50 179h0M53 179h0M63 179h0M67 179h0M89 179h0M92 179h0M97 179h0M98 179h0M115 179h0M117 179h0M130 179h0M135 179h0M46 180h0M53 180h0M67 180h0M77 180h0M85 180h0M93 180h0M94 180h0M97 180h0M131 180h0M171 180h0M27 181h0M46 181h0M52 181h0M57 181h0M62 181h0M66 181h0M92 181h0M93 181h0M98 181h0M44 182h0M55 182h0M56 182h0M58 182h0M62 182h0M63 182h0M68 182h0M106 182h0M107 182h0M118 182h0M171 182h0M175 182h0M49 183h0M56 183h0M61 183h0M66 183h0M71 183h0M74 183h0M92 183h0M109 183h0M130 183h0M174 183h0M4 184h0M6 184h0M7 184h0M18 184h0M27 184h0M51 184h0M54 184h0M60 184h0M62 184h0M67 184h0M68 184h0M71 184h0M72 184h0M98 184h0M101 184h0M104 184h0M105 184h0M11 185h0M45 185h0M46 185h0M47 185h0M49 185h0M56 185h0M58 185h0M62 185h0M67 185h0M76 185h0M82 185h0M89 185h0M106 185h0M109 185h0M111 185h0M44 186h0M47 186h0M51 186h0M56 186h0M72 186h0M73 186h0M87 186h0M106 186h0M109 186h0M112 186h0M17 187h0M22 187h0M39 187h0M48 187h0M52 187h0M55 187h0M56 187h0M60 187h0M68 187h0M99 187h0M107 187h0M112 187h0M14 188h0M22 188h0M55 188h0M72 188h0M76 188h0M79 188h0M83 188h0M84 188h0M97 188h0M14 189h0M15 189h0M20 189h0M22 189h0M25 189h0M36 189h0M38 189h0M44 189h0M48 189h0M75 189h0M78 189h0M93 189h0M104 189h0M24 190h0M31 190h0M41 190h0M43 190h0M54 190h0M62 190h0M68 190h0M77 190h0M84 190h0M99 190h0M102 190h0M106 190h0M111 190h0M34 191h0M50 191h0M76 191h0M77 191h0M80 191h0M96 191h0M111 191h0M114 191h0M189 191h0M20 192h0M24 192h0M26 192h0M34 192h0M44 192h0M52 192h0M54 192h0M55 192h0M56 192h0M60 192h0M71 192h0M96 192h0M103 192h0M104 192h0M105 192h0M106 192h0M192 192h0M19 193h0M40 193h0M43 193h0M45 193h0M47 193h0M57 193h0M104 193h0M105 193h0M107 193h0M185 193h0M17 194h0M46 194h0M47 194h0M96 194h0M97 194h0M100 194h0M103 194h0M191 194h0M46 195h0M54 195h0M95 195h0M98 195h0M101 195h0M187 195h0M192 195h0M35 196h0M61 196h0M124 196h0M43 197h0M45 197h0M61 197h0M97 197h0M116 197h0M192 198h0M71 199h0M75 199h0M187 199h0"/>
</g>
<g transform="translate(582.4,34.3) scale(0.5)">
<path stroke="#b5bd61" stroke-width="2.2" stroke-linecap="square" d="M66 2h0M12 3h0M37 3h0M150 4h0M25 5h0M39 5h0M43 5h0M47 5h0M71 5h0M157 5h0M71 6h0M157 6h0M192 6h0M37 7h0M48 7h0M50 7h0M62 7h0M70 7h0M189 7h0M63 8h0M67 8h0M157 8h0M193 8h0M50 9h0M14 10h0M45 12h0M79 14h0M196 14h0M38 16h0M52 16h0M107 16h0M108 16h0M2 17h0M52 17h0M56 17h0M108 17h0M112 17h0M18 18h0M19 18h0M40 18h0M59 18h0M13 19h0M89 19h0M165 19h0M9 20h0M10 20h0M201 20h0M5 21h0M58 21h0M89 21h0M121 21h0M165 21h0M47 22h0M8 23h0M61 23h0M83 24h0M88 24h0M13 25h0M31 25h0M36 25h0M93 25h0M197 25h0M22 26h0M28 26h0M71 26h0M14 27h0M196 28h0M13 29h0M70 29h0M73 29h0M84 29h0M98 29h0M62 30h0M75 30h0M98 30h0M4 31h0M31 31h0M72 32h0M83 32h0M85 32h0M159 32h0M158 33h0M83 34h0M97 34h0M31 35h0M62 35h0M69 35h0M86 35h0M87 35h0M88 35h0M143 35h0M67 36h0M91 36h0M174 36h0M3 37h0M29 37h0M69 37h0M81 37h0M36 38h0M172 38h0M20 40h0M29 40h0M31 41h0M56 41h0M67 41h0M61 42h0M66 42h0M7 43h0M32 43h0M33 43h0M57 43h0M4 44h0M6 44h0M92 44h0M96 44h0M181 44h0M185 44h0M58 45h0M91 45h0M19 46h0M93 46h0M163 46h0M94 47h0M154 48h0M165 48h0M96 49h0M136 49h0M163 49h0M94 50h0M152 50h0M184 50h0M199 50h0M152 51h0M165 51h0M186 51h0M132 52h0M12 53h0M93 53h0M94 53h0M128 53h0M155 53h0M6 54h0M56 54h0M136 54h0M82 55h0M91 55h0M162 55h0M164 55h0M62 56h0M91 56h0M131 56h0M187 56h0M195 56h0M12 57h0M15 57h0M139 57h0M147 57h0M161 57h0M4 58h0M12 58h0M135 58h0M177 58h0M51 59h0M76 59h0M147 59h0M155 59h0M156 59h0M161 59h0M5 60h0M17 60h0M62 60h0M163 60h0M165 60h0M6 61h0M16 61h0M86 61h0M128 61h0M148 61h0M3 62h0M6 62h0M14 62h0M50 62h0M60 62h0M144 62h0M148 62h0M4 63h0M8 63h0M17 63h0M24 63h0M40 63h0M50 63h0M33 64h0M52 64h0M54 64h0M61 64h0M66 64h0M71 64h0M13 65h0M86 65h0M147 65h0M5 66h0M12 66h0M28 66h0M39 66h0M51 66h0M54 66h0M56 66h0M58 66h0M20 67h0M6 68h0M11 68h0M17 68h0M22 68h0M53 68h0M97 68h0M6 69h0M12 69h0M21 69h0M26 69h0M29 69h0M53 69h0M172 69h0M13 70h0M17 70h0M26 70h0M27 70h0M39 70h0M40 70h0M103 70h0M9 71h0M20 71h0M30 71h0M41 71h0M51 71h0M98 71h0M102 71h0M13 72h0M24 72h0M148 72h0M20 73h0M39 73h0M44 73h0M46 73h0M49 73h0M29 74h0M44 74h0M46 74h0M101 74h0M106 74h0M133 74h0M16 75h0M41 75h0M53 75h0M134 75h0M139 75h0M167 75h0M62 76h0M63 76h0M99 76h0M130 76h0M137 76h0M22 77h0M25 77h0M39 77h0M43 77h0M56 77h0M95 77h0M134 77h0M136 77h0M57 78h0M90 78h0M140 78h0M146 78h0M21 79h0M30 79h0M31 79h0M46 79h0M64 79h0M95 79h0M98 79h0M140 79h0M162 79h0M23 80h0M30 80h0M132 80h0M168 80h0M26 81h0M29 81h0M98 81h0M99 81h0M115 81h0M125 81h0M128 81h0M129 81h0M144 81h0M152 81h0M163 81h0M164 81h0M165 81h0M169 81h0M187 81h0M98 82h0M115 82h0M131 82h0M144 82h0M162 82h0M23 83h0M86 83h0M91 83h0M96 83h0M99 83h0M100 83h0M104 83h0M108 83h0M119 83h0M147 83h0M37 84h0M95 84h0M109 84h0M111 84h0M137 84h0M139 84h0M143 84h0M170 84h0M79 85h0M96 85h0M106 85h0M138 85h0M146 85h0M160 85h0M38 86h0M93 86h0M106 86h0M107 86h0M109 86h0M115 86h0M123 86h0M144 86h0M165 86h0M2 87h0M19 87h0M27 87h0M73 87h0M90 87h0M105 87h0M108 87h0M109 87h0M114 87h0M122 87h0M124 87h0M125 87h0M126 87h0M134 87h0M19 88h0M39 88h0M90 88h0M111 88h0M112 88h0M117 88h0M120 88h0M121 88h0M124 88h0M129 88h0M134 88h0M17 89h0M28 89h0M94 89h0M105 89h0M106 89h0M113 89h0M122 89h0M123 89h0M126 89h0M127 89h0M136 89h0M139 89h0M145 89h0M38 90h0M105 90h0M112 90h0M127 90h0M11 91h0M73 91h0M108 91h0M111 91h0M115 91h0M146 91h0M149 91h0M22 92h0M26 92h0M59 92h0M125 92h0M127 92h0M130 92h0M3 93h0M15 93h0M102 93h0M108 93h0M111 93h0M46 94h0M71 94h0M167 94h0M187 94h0M38 95h0M58 95h0M99 95h0M107 95h0M111 95h0M29 96h0M30 96h0M60 96h0M126 96h0M150 96h0M58 97h0M95 97h0M168 97h0M180 97h0M3 98h0M8 98h0M18 99h0M54 99h0M59 99h0M92 99h0M162 99h0M166 99h0M64 100h0M66 100h0M13 101h0M20 101h0M25 101h0M27 101h0M28 101h0M31 101h0M78 101h0M164 101h0M26 102h0M62 102h0M80 102h0M124 102h0M59 103h0M99 103h0M122 103h0M124 103h0M173 103h0M12 104h0M58 104h0M63 104h0M127 104h0M150 104h0M14 105h0M35 105h0M65 105h0M68 105h0M98 105h0M100 105h0M185 105h0M57 106h0M101 106h0M175 106h0M177 106h0M56 107h0M62 107h0M16 108h0M36 108h0M35 109h0M62 109h0M67 109h0M92 109h0M15 110h0M102 110h0M35 111h0M56 111h0M92 112h0M93 112h0M113 112h0M197 112h0M23 113h0M40 113h0M52 115h0M195 115h0M38 116h0M62 116h0M105 116h0M167 116h0M195 116h0M7 117h0M41 117h0M62 117h0M100 117h0M37 118h0M49 118h0M56 118h0M190 118h0M3 119h0M42 119h0M43 119h0M56 119h0M16 120h0M17 120h0M18 120h0M28 120h0M29 121h0M27 122h0M28 122h0M23 123h0M97 123h0M22 124h0M29 124h0M31 124h0M106 124h0M6 125h0M37 125h0M95 125h0M14 126h0M19 126h0M36 126h0M13 127h0M24 127h0M30 127h0M69 127h0M73 127h0M120 127h0M23 128h0M38 128h0M76 128h0M2 129h0M17 130h0M22 130h0M113 130h0M98 131h0M133 131h0M134 131h0M5 132h0M34 132h0M96 132h0M32 133h0M141 133h0M143 133h0M17 135h0M23 135h0M45 135h0M98 135h0M109 135h0M136 135h0M193 135h0M12 136h0M99 136h0M111 136h0M46 137h0M127 137h0M18 138h0M5 139h0M87 139h0M105 139h0M10 140h0M24 140h0M33 140h0M103 140h0M33 141h0M136 141h0M139 141h0M89 142h0M138 143h0M171 143h0M180 143h0M138 144h0M140 144h0M148 144h0M8 145h0M15 145h0M10 146h0M28 146h0M151 146h0M50 147h0M87 147h0M117 147h0M119 147h0M135 147h0M136 147h0M3 148h0M17 148h0M27 148h0M79 148h0M152 148h0M12 149h0M15 149h0M50 149h0M71 149h0M76 149h0M96 149h0M115 149h0M116 149h0M117 149h0M118 149h0M122 149h0M9 150h0M11 150h0M13 150h0M16 150h0M87 150h0M90 150h0M91 150h0M97 150h0M7 151h0M13 151h0M18 151h0M26 151h0M70 151h0M98 151h0M148 151h0M7 152h0M24 152h0M51 152h0M73 152h0M78 152h0M120 152h0M145 152h0M149 152h0M73 153h0M120 153h0M121 153h0M154 153h0M26 154h0M78 154h0M138 154h0M141 154h0M145 155h0M149 155h0M25 156h0M39 156h0M40 156h0M61 156h0M63 156h0M102 156h0M20 157h0M40 157h0M93 157h0M104 157h0M107 157h0M178 157h0M179 157h0M100 158h0M152 158h0M179 158h0M141 159h0M145 159h0M151 159h0M20 160h0M86 160h0M141 160h0M152 160h0M5 161h0M126 161h0M142 161h0M155 161h0M6 162h0M7 162h0M88 162h0M116 162h0M151 162h0M152 162h0M8 163h0M40 163h0M76 163h0M105 163h0M109 163h0M154 163h0M42 164h0M48 164h0M82 164h0M107 164h0M122 164h0M126 164h0M142 164h0M145 164h0M149 164h0M3 165h0M4 165h0M17 165h0M36 165h0M39 165h0M78 165h0M110 165h0M113 165h0M117 165h0M125 165h0M51 166h0M73 166h0M79 166h0M110 166h0M111 166h0M20 167h0M44 167h0M46 167h0M50 167h0M108 167h0M122 167h0M144 167h0M145 167h0M74 168h0M54 169h0M74 169h0M78 169h0M112 169h0M32 170h0M38 170h0M41 170h0M75 170h0M78 170h0M93 170h0M107 170h0M108 170h0M119 170h0M130 170h0M138 170h0M152 170h0M34 171h0M40 171h0M41 171h0M64 171h0M87 171h0M89 171h0M90 171h0M102 171h0M113 171h0M122 171h0M124 171h0M50 172h0M57 172h0M66 172h0M74 172h0M83 172h0M103 172h0M115 172h0M122 172h0M153 172h0M42 173h0M60 173h0M66 173h0M100 173h0M30 174h0M33 174h0M61 174h0M79 174h0M90 174h0M122 174h0M132 174h0M133 174h0M48 175h0M62 175h0M63 175h0M121 175h0M132 175h0M150 175h0M18 176h0M37 176h0M42 176h0M52 176h0M60 176h0M68 176h0M112 176h0M5 177h0M51 177h0M58 177h0M61 177h0M137 177h0M52 178h0M55 178h0M63 178h0M68 178h0M107 178h0M109 178h0M25 179h0M49 179h0M50 179h0M63 179h0M89 179h0M92 179h0M97 179h0M98 179h0M67 180h0M77 180h0M85 180h0M93 180h0M94 180h0M97 180h0M171 180h0M46 181h0M52 181h0M57 181h0M66 181h0M92 181h0M98 181h0M55 182h0M56 182h0M63 182h0M107 182h0M175 182h0M61 183h0M66 183h0M71 183h0M74 183h0M92 183h0M130 183h0M4 184h0M7 184h0M18 184h0M54 184h0M62 184h0M67 184h0M71 184h0M72 184h0M98 184h0M101 184h0M104 184h0M105 184h0M46 185h0M49 185h0M67 185h0M76 185h0M106 185h0M109 185h0M111 185h0M87 186h0M106 186h0M112 186h0M17 187h0M22 187h0M39 187h0M55 187h0M60 187h0M68 187h0M107 187h0M112 187h0M22 188h0M55 188h0M72 188h0M76 188h0M79 188h0M15 189h0M20 189h0M22 189h0M25 189h0M36 189h0M38 189h0M44 189h0M93 189h0M24 190h0M41 190h0M43 190h0M54 190h0M62 190h0M77 190h0M84 190h0M99 190h0M102 190h0M111 190h0M34 191h0M50 191h0M77 191h0M80 191h0M114 191h0M189 191h0M20 192h0M24 192h0M26 192h0M34 192h0M44 192h0M54 192h0M71 192h0M103 192h0M104 192h0M19 193h0M40 193h0M43 193h0M45 193h0M47 193h0M104 193h0M107 193h0M185 193h0M17 194h0M46 194h0M47 194h0M100 194h0M103 194h0M191 194h0M46 195h0M95 195h0M98 195h0M101 195h0M187 195h0M192 195h0M35 196h0M124 196h0M43 197h0M45 197h0M61 197h0M97 197h0M116 197h0M192 198h0M71 199h0M75 199h0"/>
</g>
<g transform="translate(582.4,34.3) scale(0.5)">
<path stroke="#aec7e8" stroke-width="2.2" stroke-linecap="square" d="M37 14h0M118 19h0M38 20h0M62 21h0M64 24h0M35 25h0M20 26h0M39 26h0M63 27h0M34 29h0M28 32h0M68 35h0M29 36h0M81 36h0M70 37h0M28 38h0M79 40h0M26 41h0M55 42h0M63 42h0M98 49h0M151 49h0M193 50h0M191 51h0M30 57h0M155 57h0M168 58h0M164 60h0M169 60h0M184 60h0M132 61h0M173 61h0M34 67h0M39 68h0M31 70h0M66 77h0M42 78h0M62 78h0M100 80h0M66 83h0M119 84h0M41 86h0M2 87h0M4 88h0M129 88h0M146 88h0M103 91h0M23 92h0M164 92h0M27 94h0M101 95h0M40 96h0M70 96h0M11 120h0M102 120h0M4 121h0M6 123h0M31 123h0M9 124h0M12 124h0M151 126h0M155 126h0M6 128h0M4 130h0M149 130h0M6 131h0M134 141h0M128 144h0M18 145h0M129 145h0M84 146h0M49 150h0M53 151h0M87 153h0M87 154h0M88 154h0M151 155h0M157 159h0M60 164h0M119 165h0M34 167h0M47 169h0M61 171h0M118 171h0M42 172h0M48 177h0M57 177h0M59 177h0M115 179h0M46 180h0M53 180h0M27 181h0M49 183h0M27 184h0M60 184h0M47 185h0M51 186h0M52 187h0M99 187h0M55 192h0M56 192h0M97 194h0M54 195h0"/>
</g>
<g transform="translate(582.4,34.3) scale(0.5)">
<path stroke="#17becf" stroke-width="2.2" stroke-linecap="square" d="M45 4h0M61 7h0M37 11h0M89 11h0M38 13h0M40 18h0M82 18h0M40 20h0M121 20h0M43 23h0M86 24h0M10 29h0M12 34h0M17 37h0M16 40h0M70 40h0M92 44h0M152 46h0M153 50h0M128 52h0M4 67h0M55 69h0M27 70h0M7 79h0M7 80h0M105 80h0M9 81h0M11 81h0M16 81h0M32 81h0M10 82h0M35 82h0M66 82h0M166 82h0M33 83h0M39 84h0M110 86h0M95 87h0M140 88h0M78 91h0M79 92h0M105 92h0M101 95h0M13 98h0M4 106h0M97 106h0M32 108h0M8 110h0M118 113h0M31 114h0M34 116h0M30 117h0M9 118h0M12 118h0M39 126h0M36 127h0M20 131h0M33 132h0M11 135h0M36 135h0M31 139h0M9 141h0M10 141h0M11 142h0M7 143h0M14 143h0M10 144h0M22 146h0M13 148h0M77 150h0M53 151h0M74 151h0M7 152h0M71 152h0M85 152h0M121 153h0M87 154h0M155 155h0M159 155h0M84 166h0M47 173h0M61 176h0M131 180h0M44 182h0M45 185h0M44 186h0M72 186h0M22 189h0M31 190h0M99 190h0M76 191h0M61 196h0"/>
</g>
<g transform="translate(582.4,34.3) scale(0.5)">
<path stroke="#d62728" stroke-width="2.2" stroke-linecap="square" d="M196 23h0M57 24h0M199 24h0M23 39h0M21 44h0M15 68h0M28 99h0M100 108h0M35 137h0M136 147h0M156 154h0M56 185h0M58 185h0M51 186h0M60 192h0"/>
</g>
<g transform="translate(582.4,34.3) scale(0.5)">
<path stroke="#e377c2" stroke-width="2.2" stroke-linecap="square" d="M19 4h0M49 5h0M19 8h0M34 8h0M78 10h0M35 11h0M9 32h0M11 37h0M27 58h0M145 65h0M13 77h0"/>
</g>
<g transform="translate(582.4,34.3) scale(0.5)">
<path stroke="#8c564b" stroke-width="2.2" stroke-linecap="square" d="M48 20h0M111 85h0M102 108h0M99 110h0M157 138h0M163 139h0M166 140h0M165 143h0"/>
</g>
<g transform="translate(582.4,34.3) scale(0.5)">
<path stroke="#aa40fc" stroke-width="2.2" stroke-linecap="square" d="M194 3h0M82 185h0M83 188h0M84 188h0"/>
</g>
<g transform="translate(463.5,172.6) scale(0.5)">
<path stroke="#dbdbdb" stroke-width="2" stroke-linecap="square" d="M13 2h0M42 2h0M51 2h0M86 2h0M89 2h0M104 2h0M114 2h0M120 2h0M125 2h0M126 2h0M137 2h0M138 2h0M140 2h0M141 2h0M152 2h0M154 2h0M183 2h0M188 2h0M4 3h0M6 3h0M14 3h0M23 3h0M25 3h0M26 3h0M45 3h0M57 3h0M58 3h0M67 3h0M69 3h0M71 3h0M74 3h0M77 3h0M81 3h0M86 3h0M92 3h0M97 3h0M102 3h0M118 3h0M137 3h0M141 3h0M146 3h0M149 3h0M151 3h0M164 3h0M165 3h0M167 3h0M173 3h0M174 3h0M200 3h0M202 3h0M11 4h0M13 4h0M14 4h0M15 4h0M17 4h0M19 4h0M25 4h0M28 4h0M32 4h0M41 4h0M53 4h0M62 4h0M64 4h0M85 4h0M86 4h0M103 4h0M115 4h0M123 4h0M126 4h0M127 4h0M132 4h0M133 4h0M137 4h0M138 4h0M140 4h0M143 4h0M144 4h0M147 4h0M151 4h0M163 4h0M167 4h0M169 4h0M173 4h0M179 4h0M181 4h0M185 4h0M186 4h0M195 4h0M199 4h0M2 5h0M11 5h0M12 5h0M15 5h0M20 5h0M30 5h0M32 5h0M57 5h0M65 5h0M69 5h0M70 5h0M71 5h0M78 5h0M81 5h0M84 5h0M96 5h0M104 5h0M106 5h0M124 5h0M153 5h0M166 5h0M168 5h0M170 5h0M173 5h0M174 5h0M175 5h0M176 5h0M188 5h0M190 5h0M194 5h0M195 5h0M3 6h0M10 6h0M11 6h0M16 6h0M17 6h0M18 6h0M21 6h0M24 6h0M33 6h0M38 6h0M41 6h0M55 6h0M56 6h0M63 6h0M64 6h0M71 6h0M73 6h0M75 6h0M84 6h0M86 6h0M89 6h0M90 6h0M98 6h0M101 6h0M116 6h0M119 6h0M121 6h0M124 6h0M133 6h0M140 6h0M141 6h0M145 6h0M151 6h0M153 6h0M160 6h0M161 6h0M164 6h0M166 6h0M173 6h0M184 6h0M192 6h0M193 6h0M197 6h0M202 6h0M3 7h0M4 7h0M5 7h0M7 7h0M18 7h0M19 7h0M31 7h0M32 7h0M36 7h0M39 7h0M41 7h0M58 7h0M59 7h0M65 7h0M73 7h0M75 7h0M85 7h0M88 7h0M89 7h0M90 7h0M92 7h0M104 7h0M115 7h0M120 7h0M140 7h0M142 7h0M146 7h0M166 7h0M174 7h0M176 7h0M182 7h0M188 7h0M198 7h0M6 8h0M8 8h0M14 8h0M17 8h0M27 8h0M30 8h0M34 8h0M37 8h0M40 8h0M41 8h0M45 8h0M56 8h0M60 8h0M62 8h0M70 8h0M77 8h0M83 8h0M85 8h0M88 8h0M93 8h0M96 8h0M97 8h0M110 8h0M115 8h0M117 8h0M127 8h0M131 8h0M133 8h0M135 8h0M138 8h0M151 8h0M157 8h0M159 8h0M176 8h0M179 8h0M182 8h0M183 8h0M185 8h0M192 8h0M7 9h0M10 9h0M11 9h0M12 9h0M13 9h0M14 9h0M28 9h0M29 9h0M30 9h0M31 9h0M34 9h0M41 9h0M42 9h0M43 9h0M46 9h0M53 9h0M54 9h0M61 9h0M65 9h0M68 9h0M77 9h0M78 9h0M86 9h0M93 9h0M98 9h0M104 9h0M106 9h0M109 9h0M128 9h0M130 9h0M134 9h0M140 9h0M151 9h0M155 9h0M173 9h0M183 9h0M186 9h0M200 9h0M15 10h0M16 10h0M20 10h0M35 10h0M38 10h0M39 10h0M42 10h0M43 10h0M47 10h0M50 10h0M52 10h0M53 10h0M55 10h0M58 10h0M61 10h0M63 10h0M65 10h0M69 10h0M80 10h0M91 10h0M93 10h0M102 10h0M110 10h0M116 10h0M124 10h0M130 10h0M134 10h0M135 10h0M136 10h0M146 10h0M148 10h0M149 10h0M150 10h0M151 10h0M153 10h0M156 10h0M161 10h0M167 10h0M170 10h0M174 10h0M178 10h0M181 10h0M196 10h0M198 10h0M7 11h0M11 11h0M12 11h0M13 11h0M16 11h0M18 11h0M19 11h0M23 11h0M26 11h0M27 11h0M28 11h0M34 11h0M38 11h0M39 11h0M40 11h0M44 11h0M55 11h0M56 11h0M57 11h0M85 11h0M86 11h0M99 11h0M101 11h0M103 11h0M114 11h0M122 11h0M128 11h0M136 11h0M137 11h0M140 11h0M142 11h0M146 11h0M156 11h0M162 11h0M163 11h0M164 11h0M165 11h0M171 11h0M172 11h0M174 11h0M175 11h0M180 11h0M184 11h0M191 11h0M192 11h0M196 11h0M8 12h0M10 12h0M11 12h0M13 12h0M21 12h0M24 12h0M27 12h0M28 12h0M33 12h0M36 12h0M39 12h0M40 12h0M41 12h0M47 12h0M48 12h0M50 12h0M52 12h0M69 12h0M70 12h0M78 12h0M85 12h0M93 12h0M95 12h0M102 12h0M104 12h0M106 12h0M120 12h0M122 12h0M129 12h0M137 12h0M139 12h0M140 12h0M141 12h0M142 12h0M143 12h0M148 12h0M149 12h0M152 12h0M160 12h0M162 12h0M167 12h0M172 12h0M175 12h0M177 12h0M180 12h0M181 12h0M182 12h0M184 12h0M197 12h0M4 13h0M8 13h0M11 13h0M12 13h0M15 13h0M22 13h0M23 13h0M24 13h0M39 13h0M40 13h0M45 13h0M49 13h0M51 13h0M53 13h0M78 13h0M81 13h0M89 13h0M91 13h0M92 13h0M94 13h0M96 13h0M103 13h0M106 13h0M107 13h0M108 13h0M114 13h0M128 13h0M130 13h0M137 13h0M150 13h0M152 13h0M154 13h0M159 13h0M162 13h0M165 13h0M166 13h0M170 13h0M182 13h0M191 13h0M197 13h0M4 14h0M14 14h0M21 14h0M35 14h0M40 14h0M41 14h0M42 14h0M43 14h0M45 14h0M48 14h0M49 14h0M50 14h0M60 14h0M63 14h0M79 14h0M83 14h0M86 14h0M87 14h0M89 14h0M103 14h0M107 14h0M108 14h0M120 14h0M140 14h0M148 14h0M157 14h0M163 14h0M186 14h0M188 14h0M199 14h0M4 15h0M8 15h0M9 15h0M10 15h0M12 15h0M13 15h0M15 15h0M22 15h0M23 15h0M24 15h0M28 15h0M30 15h0M35 15h0M36 15h0M37 15h0M40 15h0M42 15h0M44 15h0M47 15h0M58 15h0M62 15h0M63 15h0M66 15h0M67 15h0M76 15h0M81 15h0M84 15h0M85 15h0M86 15h0M90 15h0M91 15h0M95 15h0M97 15h0M100 15h0M103 15h0M105 15h0M107 15h0M110 15h0M111 15h0M129 15h0M138 15h0M140 15h0M141 15h0M142 15h0M153 15h0M155 15h0M163 15h0M173 15h0M176 15h0M183 15h0M188 15h0M191 15h0M192 15h0M197 15h0M198 15h0M5 16h0M8 16h0M9 16h0M12 16h0M13 16h0M14 16h0M15 16h0M22 16h0M23 16h0M24 16h0M26 16h0M27 16h0M29 16h0M40 16h0M43 16h0M44 16h0M46 16h0M47 16h0M48 16h0M49 16h0M51 16h0M53 16h0M60 16h0M66 16h0M74 16h0M75 16h0M78 16h0M80 16h0M82 16h0M84 16h0M89 16h0M91 16h0M93 16h0M103 16h0M105 16h0M106 16h0M107 16h0M112 16h0M113 16h0M114 16h0M116 16h0M124 16h0M133 16h0M139 16h0M141 16h0M152 16h0M155 16h0M158 16h0M160 16h0M162 16h0M170 16h0M175 16h0M179 16h0M182 16h0M187 16h0M189 16h0M191 16h0M3 17h0M4 17h0M6 17h0M7 17h0M11 17h0M15 17h0M19 17h0M23 17h0M26 17h0M39 17h0M40 17h0M42 17h0M43 17h0M45 17h0M57 17h0M58 17h0M68 17h0M71 17h0M72 17h0M73 17h0M74 17h0M75 17h0M80 17h0M84 17h0M85 17h0M88 17h0M89 17h0M95 17h0M97 17h0M103 17h0M105 17h0M107 17h0M108 17h0M116 17h0M140 17h0M143 17h0M151 17h0M160 17h0M167 17h0M172 17h0M174 17h0M177 17h0M178 17h0M187 17h0M193 17h0M195 17h0M200 17h0M202 17h0M4 18h0M6 18h0M7 18h0M10 18h0M11 18h0M27 18h0M28 18h0M30 18h0M31 18h0M43 18h0M47 18h0M51 18h0M58 18h0M59 18h0M61 18h0M62 18h0M65 18h0M70 18h0M76 18h0M77 18h0M83 18h0M86 18h0M87 18h0M93 18h0M94 18h0M98 18h0M100 18h0M104 18h0M105 18h0M109 18h0M113 18h0M128 18h0M132 18h0M133 18h0M134 18h0M136 18h0M137 18h0M138 18h0M161 18h0M168 18h0M171 18h0M172 18h0M173 18h0M178 18h0M180 18h0M181 18h0M182 18h0M192 18h0M5 19h0M6 19h0M16 19h0M17 19h0M20 19h0M29 19h0M31 19h0M32 19h0M38 19h0M47 19h0M49 19h0M50 19h0M55 19h0M56 19h0M57 19h0M60 19h0M67 19h0M73 19h0M77 19h0M80 19h0M85 19h0M86 19h0M87 19h0M92 19h0M95 19h0M103 19h0M108 19h0M109 19h0M133 19h0M135 19h0M141 19h0M146 19h0M149 19h0M150 19h0M151 19h0M157 19h0M176 19h0M179 19h0M180 19h0M181 19h0M183 19h0M192 19h0M196 19h0M4 20h0M11 20h0M40 20h0M44 20h0M46 20h0M47 20h0M57 20h0M58 20h0M60 20h0M68 20h0M69 20h0M70 20h0M71 20h0M77 20h0M82 20h0M88 20h0M90 20h0M93 20h0M94 20h0M95 20h0M96 20h0M99 20h0M100 20h0M106 20h0M110 20h0M114 20h0M130 20h0M137 20h0M143 20h0M146 20h0M168 20h0M170 20h0M173 20h0M176 20h0M181 20h0M182 20h0M183 20h0M189 20h0M190 20h0M191 20h0M192 20h0M193 20h0M194 20h0M3 21h0M6 21h0M17 21h0M24 21h0M29 21h0M31 21h0M35 21h0M37 21h0M39 21h0M43 21h0M52 21h0M54 21h0M69 21h0M70 21h0M72 21h0M74 21h0M75 21h0M76 21h0M79 21h0M82 21h0M87 21h0M90 21h0M97 21h0M99 21h0M103 21h0M109 21h0M114 21h0M125 21h0M130 21h0M132 21h0M145 21h0M149 21h0M154 21h0M155 21h0M174 21h0M179 21h0M182 21h0M183 21h0M187 21h0M194 21h0M197 21h0M200 21h0M202 21h0M10 22h0M14 22h0M15 22h0M24 22h0M30 22h0M41 22h0M42 22h0M44 22h0M47 22h0M48 22h0M50 22h0M53 22h0M58 22h0M69 22h0M78 22h0M80 22h0M87 22h0M90 22h0M95 22h0M96 22h0M97 22h0M101 22h0M104 22h0M110 22h0M113 22h0M121 22h0M123 22h0M125 22h0M133 22h0M135 22h0M138 22h0M144 22h0M153 22h0M154 22h0M167 22h0M168 22h0M171 22h0M174 22h0M178 22h0M182 22h0M184 22h0M191 22h0M196 22h0M198 22h0M199 22h0M200 22h0M3 23h0M10 23h0M12 23h0M16 23h0M18 23h0M26 23h0M30 23h0M31 23h0M36 23h0M37 23h0M39 23h0M50 23h0M52 23h0M55 23h0M63 23h0M66 23h0M70 23h0M72 23h0M75 23h0M77 23h0M80 23h0M92 23h0M100 23h0M101 23h0M102 23h0M108 23h0M139 23h0M142 23h0M149 23h0M151 23h0M154 23h0M155 23h0M156 23h0M164 23h0M170 23h0M177 23h0M180 23h0M181 23h0M184 23h0M185 23h0M197 23h0M201 23h0M4 24h0M7 24h0M14 24h0M15 24h0M22 24h0M24 24h0M29 24h0M34 24h0M37 24h0M39 24h0M42 24h0M49 24h0M52 24h0M56 24h0M57 24h0M62 24h0M63 24h0M66 24h0M70 24h0M75 24h0M78 24h0M81 24h0M83 24h0M89 24h0M99 24h0M100 24h0M101 24h0M107 24h0M110 24h0M117 24h0M121 24h0M128 24h0M129 24h0M132 24h0M139 24h0M147 24h0M149 24h0M151 24h0M159 24h0M167 24h0M173 24h0M175 24h0M178 24h0M180 24h0M181 24h0M182 24h0M185 24h0M192 24h0M195 24h0M11 25h0M35 25h0M55 25h0M59 25h0M65 25h0M83 25h0M89 25h0M95 25h0M100 25h0M102 25h0M104 25h0M114 25h0M124 25h0M127 25h0M128 25h0M136 25h0M138 25h0M139 25h0M144 25h0M148 25h0M154 25h0M155 25h0M156 25h0M158 25h0M163 25h0M165 25h0M173 25h0M179 25h0M187 25h0M195 25h0M201 25h0M2 26h0M4 26h0M5 26h0M9 26h0M14 26h0M21 26h0M24 26h0M27 26h0M28 26h0M32 26h0M35 26h0M40 26h0M46 26h0M51 26h0M58 26h0M63 26h0M65 26h0M68 26h0M70 26h0M73 26h0M82 26h0M83 26h0M86 26h0M95 26h0M98 26h0M102 26h0M105 26h0M107 26h0M113 26h0M114 26h0M115 26h0M116 26h0M121 26h0M123 26h0M129 26h0M132 26h0M135 26h0M138 26h0M146 26h0M148 26h0M149 26h0M153 26h0M160 26h0M173 26h0M176 26h0M181 26h0M190 26h0M195 26h0M197 26h0M200 26h0M23 27h0M24 27h0M29 27h0M32 27h0M34 27h0M52 27h0M53 27h0M59 27h0M62 27h0M63 27h0M64 27h0M72 27h0M83 27h0M84 27h0M92 27h0M93 27h0M95 27h0M101 27h0M103 27h0M104 27h0M106 27h0M108 27h0M109 27h0M110 27h0M113 27h0M116 27h0M119 27h0M124 27h0M125 27h0M128 27h0M130 27h0M134 27h0M136 27h0M137 27h0M140 27h0M141 27h0M147 27h0M150 27h0M154 27h0M158 27h0M159 27h0M172 27h0M198 27h0M201 27h0M2 28h0M3 28h0M4 28h0M5 28h0M14 28h0M19 28h0M20 28h0M23 28h0M27 28h0M39 28h0M41 28h0M62 28h0M63 28h0M68 28h0M69 28h0M72 28h0M81 28h0M86 28h0M96 28h0M99 28h0M100 28h0M104 28h0M110 28h0M112 28h0M114 28h0M127 28h0M129 28h0M130 28h0M131 28h0M132 28h0M133 28h0M134 28h0M139 28h0M142 28h0M149 28h0M155 28h0M158 28h0M160 28h0M167 28h0M171 28h0M175 28h0M185 28h0M188 28h0M4 29h0M7 29h0M8 29h0M9 29h0M10 29h0M11 29h0M20 29h0M26 29h0M36 29h0M41 29h0M44 29h0M57 29h0M58 29h0M59 29h0M65 29h0M68 29h0M70 29h0M74 29h0M81 29h0M90 29h0M95 29h0M103 29h0M110 29h0M126 29h0M133 29h0M138 29h0M142 29h0M146 29h0M148 29h0M154 29h0M166 29h0M174 29h0M177 29h0M180 29h0M186 29h0M192 29h0M193 29h0M200 29h0M6 30h0M21 30h0M23 30h0M26 30h0M30 30h0M52 30h0M55 30h0M59 30h0M64 30h0M67 30h0M68 30h0M70 30h0M75 30h0M79 30h0M90 30h0M92 30h0M94 30h0M101 30h0M113 30h0M123 30h0M125 30h0M128 30h0M132 30h0M134 30h0M136 30h0M137 30h0M138 30h0M140 30h0M146 30h0M151 30h0M152 30h0M153 30h0M157 30h0M158 30h0M159 30h0M176 30h0M3 31h0M11 31h0M12 31h0M26 31h0M29 31h0M36 31h0M41 31h0M58 31h0M61 31h0M67 31h0M68 31h0M69 31h0M73 31h0M76 31h0M78 31h0M93 31h0M104 31h0M113 31h0M122 31h0M126 31h0M128 31h0M131 31h0M132 31h0M145 31h0M152 31h0M159 31h0M169 31h0M177 31h0M180 31h0M183 31h0M199 31h0M201 31h0M20 32h0M33 32h0M36 32h0M41 32h0M53 32h0M62 32h0M69 32h0M83 32h0M94 32h0M97 32h0M99 32h0M101 32h0M105 32h0M113 32h0M115 32h0M118 32h0M124 32h0M126 32h0M131 32h0M132 32h0M134 32h0M139 32h0M142 32h0M145 32h0M146 32h0M148 32h0M150 32h0M155 32h0M157 32h0M158 32h0M160 32h0M167 32h0M177 32h0M187 32h0M7 33h0M10 33h0M23 33h0M24 33h0M30 33h0M44 33h0M52 33h0M55 33h0M65 33h0M66 33h0M77 33h0M88 33h0M89 33h0M91 33h0M92 33h0M95 33h0M100 33h0M104 33h0M106 33h0M108 33h0M112 33h0M131 33h0M134 33h0M145 33h0M148 33h0M150 33h0M156 33h0M158 33h0M160 33h0M161 33h0M165 33h0M166 33h0M169 33h0M178 33h0M179 33h0M193 33h0M12 34h0M16 34h0M19 34h0M22 34h0M29 34h0M30 34h0M36 34h0M37 34h0M43 34h0M48 34h0M66 34h0M72 34h0M73 34h0M75 34h0M85 34h0M86 34h0M87 34h0M95 34h0M96 34h0M98 34h0M99 34h0M100 34h0M102 34h0M106 34h0M107 34h0M109 34h0M120 34h0M125 34h0M126 34h0M128 34h0M129 34h0M136 34h0M138 34h0M139 34h0M149 34h0M150 34h0M153 34h0M154 34h0M155 34h0M157 34h0M158 34h0M162 34h0M164 34h0M169 34h0M181 34h0M182 34h0M188 34h0M2 35h0M4 35h0M5 35h0M21 35h0M22 35h0M38 35h0M42 35h0M57 35h0M64 35h0M65 35h0M68 35h0M74 35h0M75 35h0M76 35h0M77 35h0M80 35h0M81 35h0M82 35h0M84 35h0M85 35h0M86 35h0M87 35h0M108 35h0M111 35h0M112 35h0M113 35h0M117 35h0M118 35h0M124 35h0M135 35h0M136 35h0M139 35h0M141 35h0M146 35h0M157 35h0M174 35h0M180 35h0M18 36h0M27 36h0M35 36h0M36 36h0M44 36h0M48 36h0M65 36h0M75 36h0M79 36h0M80 36h0M82 36h0M83 36h0M86 36h0M90 36h0M92 36h0M105 36h0M106 36h0M113 36h0M115 36h0M124 36h0M127 36h0M129 36h0M141 36h0M142 36h0M146 36h0M147 36h0M149 36h0M154 36h0M159 36h0M164 36h0M165 36h0M168 36h0M175 36h0M180 36h0M181 36h0M187 36h0M190 36h0M21 37h0M26 37h0M27 37h0M28 37h0M46 37h0M60 37h0M65 37h0M69 37h0M72 37h0M73 37h0M89 37h0M95 37h0M100 37h0M104 37h0M110 37h0M112 37h0M113 37h0M115 37h0M116 37h0M127 37h0M128 37h0M131 37h0M133 37h0M134 37h0M136 37h0M138 37h0M143 37h0M147 37h0M148 37h0M155 37h0M158 37h0M160 37h0M162 37h0M164 37h0M166 37h0M168 37h0M170 37h0M171 37h0M181 37h0M200 37h0M4 38h0M6 38h0M7 38h0M9 38h0M26 38h0M28 38h0M30 38h0M31 38h0M34 38h0M47 38h0M54 38h0M55 38h0M66 38h0M67 38h0M78 38h0M81 38h0M84 38h0M89 38h0M92 38h0M94 38h0M95 38h0M98 38h0M102 38h0M103 38h0M104 38h0M105 38h0M108 38h0M120 38h0M121 38h0M122 38h0M123 38h0M124 38h0M127 38h0M143 38h0M152 38h0M169 38h0M171 38h0M177 38h0M180 38h0M188 38h0M190 38h0M192 38h0M193 38h0M199 38h0M3 39h0M19 39h0M26 39h0M27 39h0M28 39h0M31 39h0M32 39h0M34 39h0M37 39h0M51 39h0M52 39h0M54 39h0M56 39h0M66 39h0M69 39h0M72 39h0M73 39h0M78 39h0M82 39h0M84 39h0M93 39h0M101 39h0M106 39h0M107 39h0M108 39h0M119 39h0M120 39h0M121 39h0M124 39h0M126 39h0M135 39h0M137 39h0M138 39h0M140 39h0M144 39h0M159 39h0M164 39h0M176 39h0M178 39h0M179 39h0M194 39h0M198 39h0M200 39h0M201 39h0M202 39h0M15 40h0M20 40h0M24 40h0M60 40h0M65 40h0M71 40h0M108 40h0M110 40h0M112 40h0M118 40h0M119 40h0M120 40h0M123 40h0M124 40h0M125 40h0M137 40h0M153 40h0M156 40h0M158 40h0M160 40h0M162 40h0M164 40h0M167 40h0M168 40h0M169 40h0M184 40h0M186 40h0M189 40h0M190 40h0M192 40h0M193 40h0M195 40h0M14 41h0M21 41h0M31 41h0M32 41h0M34 41h0M57 41h0M60 41h0M64 41h0M68 41h0M71 41h0M73 41h0M75 41h0M84 41h0M86 41h0M90 41h0M93 41h0M96 41h0M99 41h0M100 41h0M103 41h0M107 41h0M108 41h0M113 41h0M114 41h0M117 41h0M122 41h0M135 41h0M137 41h0M141 41h0M147 41h0M152 41h0M158 41h0M165 41h0M166 41h0M174 41h0M177 41h0M184 41h0M185 41h0M187 41h0M190 41h0M198 41h0M201 41h0M10 42h0M16 42h0M21 42h0M22 42h0M24 42h0M27 42h0M28 42h0M31 42h0M44 42h0M53 42h0M54 42h0M66 42h0M67 42h0M70 42h0M73 42h0M75 42h0M77 42h0M89 42h0M95 42h0M99 42h0M101 42h0M104 42h0M106 42h0M111 42h0M113 42h0M114 42h0M116 42h0M123 42h0M124 42h0M138 42h0M140 42h0M146 42h0M158 42h0M162 42h0M169 42h0M172 42h0M180 42h0M182 42h0M186 42h0M187 42h0M193 42h0M14 43h0M17 43h0M18 43h0M21 43h0M23 43h0M27 43h0M29 43h0M31 43h0M32 43h0M33 43h0M49 43h0M57 43h0M70 43h0M77 43h0M79 43h0M84 43h0M89 43h0M94 43h0M95 43h0M103 43h0M104 43h0M105 43h0M106 43h0M107 43h0M109 43h0M119 43h0M120 43h0M122 43h0M125 43h0M132 43h0M133 43h0M134 43h0M137 43h0M138 43h0M139 43h0M147 43h0M154 43h0M155 43h0M162 43h0M168 43h0M187 43h0M190 43h0M195 43h0M196 43h0M10 44h0M16 44h0M21 44h0M22 44h0M28 44h0M29 44h0M30 44h0M32 44h0M38 44h0M54 44h0M55 44h0M56 44h0M57 44h0M58 44h0M67 44h0M70 44h0M73 44h0M87 44h0M96 44h0M100 44h0M107 44h0M108 44h0M109 44h0M110 44h0M111 44h0M114 44h0M120 44h0M123 44h0M124 44h0M139 44h0M148 44h0M152 44h0M155 44h0M156 44h0M157 44h0M158 44h0M162 44h0M166 44h0M172 44h0M178 44h0M187 44h0M189 44h0M192 44h0M194 44h0M16 45h0M19 45h0M21 45h0M22 45h0M25 45h0M30 45h0M31 45h0M32 45h0M45 45h0M46 45h0M55 45h0M63 45h0M68 45h0M69 45h0M73 45h0M77 45h0M78 45h0M97 45h0M98 45h0M99 45h0M103 45h0M104 45h0M107 45h0M108 45h0M113 45h0M116 45h0M119 45h0M124 45h0M128 45h0M130 45h0M153 45h0M157 45h0M159 45h0M163 45h0M166 45h0M177 45h0M178 45h0M181 45h0M194 45h0M6 46h0M15 46h0M20 46h0M21 46h0M24 46h0M25 46h0M28 46h0M33 46h0M35 46h0M36 46h0M38 46h0M44 46h0M46 46h0M56 46h0M58 46h0M59 46h0M61 46h0M64 46h0M67 46h0M69 46h0M70 46h0M72 46h0M76 46h0M77 46h0M80 46h0M85 46h0M92 46h0M97 46h0M98 46h0M100 46h0M102 46h0M104 46h0M106 46h0M107 46h0M108 46h0M109 46h0M110 46h0M111 46h0M114 46h0M128 46h0M160 46h0M170 46h0M172 46h0M173 46h0M191 46h0M193 46h0M194 46h0M196 46h0M3 47h0M11 47h0M15 47h0M16 47h0M17 47h0M18 47h0M19 47h0M27 47h0M28 47h0M29 47h0M32 47h0M39 47h0M42 47h0M48 47h0M50 47h0M59 47h0M64 47h0M70 47h0M72 47h0M74 47h0M91 47h0M98 47h0M99 47h0M100 47h0M102 47h0M105 47h0M106 47h0M108 47h0M110 47h0M130 47h0M139 47h0M146 47h0M152 47h0M153 47h0M160 47h0M170 47h0M178 47h0M182 47h0M193 47h0M195 47h0M7 48h0M12 48h0M18 48h0M19 48h0M27 48h0M32 48h0M34 48h0M37 48h0M39 48h0M40 48h0M43 48h0M44 48h0M45 48h0M48 48h0M54 48h0M57 48h0M59 48h0M66 48h0M67 48h0M68 48h0M69 48h0M72 48h0M73 48h0M75 48h0M76 48h0M79 48h0M89 48h0M95 48h0M101 48h0M106 48h0M109 48h0M110 48h0M111 48h0M112 48h0M113 48h0M118 48h0M127 48h0M131 48h0M133 48h0M150 48h0M153 48h0M174 48h0M175 48h0M179 48h0M193 48h0M196 48h0M20 49h0M22 49h0M23 49h0M32 49h0M36 49h0M46 49h0M48 49h0M57 49h0M63 49h0M64 49h0M69 49h0M72 49h0M73 49h0M76 49h0M80 49h0M81 49h0M85 49h0M95 49h0M96 49h0M100 49h0M101 49h0M103 49h0M104 49h0M105 49h0M106 49h0M107 49h0M108 49h0M110 49h0M111 49h0M112 49h0M129 49h0M131 49h0M132 49h0M138 49h0M143 49h0M152 49h0M162 49h0M171 49h0M173 49h0M174 49h0M175 49h0M179 49h0M182 49h0M183 49h0M184 49h0M187 49h0M190 49h0M192 49h0M18 50h0M26 50h0M39 50h0M42 50h0M47 50h0M48 50h0M49 50h0M50 50h0M55 50h0M57 50h0M60 50h0M61 50h0M62 50h0M63 50h0M65 50h0M66 50h0M71 50h0M74 50h0M76 50h0M79 50h0M81 50h0M89 50h0M90 50h0M94 50h0M98 50h0M113 50h0M114 50h0M125 50h0M126 50h0M133 50h0M142 50h0M148 50h0M149 50h0M159 50h0M161 50h0M162 50h0M163 50h0M169 50h0M175 50h0M176 50h0M178 50h0M182 50h0M188 50h0M191 50h0M193 50h0M3 51h0M12 51h0M24 51h0M33 51h0M50 51h0M55 51h0M57 51h0M61 51h0M64 51h0M67 51h0M72 51h0M73 51h0M74 51h0M76 51h0M77 51h0M78 51h0M88 51h0M92 51h0M94 51h0M104 51h0M105 51h0M107 51h0M115 51h0M116 51h0M140 51h0M148 51h0M152 51h0M174 51h0M178 51h0M179 51h0M184 51h0M185 51h0M189 51h0M190 51h0M193 51h0M195 51h0M11 52h0M15 52h0M16 52h0M18 52h0M28 52h0M47 52h0M50 52h0M51 52h0M56 52h0M57 52h0M60 52h0M62 52h0M64 52h0M65 52h0M67 52h0M68 52h0M69 52h0M70 52h0M74 52h0M75 52h0M77 52h0M79 52h0M81 52h0M92 52h0M93 52h0M96 52h0M99 52h0M106 52h0M107 52h0M109 52h0M125 52h0M128 52h0M136 52h0M151 52h0M152 52h0M160 52h0M195 52h0M196 52h0M198 52h0M2 53h0M3 53h0M8 53h0M9 53h0M39 53h0M40 53h0M46 53h0M49 53h0M50 53h0M52 53h0M61 53h0M62 53h0M63 53h0M64 53h0M65 53h0M66 53h0M67 53h0M68 53h0M77 53h0M78 53h0M85 53h0M87 53h0M89 53h0M95 53h0M102 53h0M105 53h0M138 53h0M146 53h0M147 53h0M148 53h0M149 53h0M151 53h0M153 53h0M154 53h0M158 53h0M184 53h0M188 53h0M192 53h0M198 53h0M13 54h0M21 54h0M30 54h0M32 54h0M50 54h0M51 54h0M56 54h0M59 54h0M60 54h0M61 54h0M64 54h0M65 54h0M66 54h0M68 54h0M75 54h0M78 54h0M87 54h0M89 54h0M90 54h0M92 54h0M95 54h0M108 54h0M127 54h0M136 54h0M140 54h0M143 54h0M148 54h0M151 54h0M157 54h0M160 54h0M163 54h0M164 54h0M172 54h0M176 54h0M185 54h0M186 54h0M187 54h0M191 54h0M194 54h0M201 54h0M54 55h0M59 55h0M65 55h0M67 55h0M68 55h0M71 55h0M83 55h0M84 55h0M92 55h0M96 55h0M100 55h0M107 55h0M109 55h0M123 55h0M127 55h0M129 55h0M131 55h0M135 55h0M138 55h0M140 55h0M152 55h0M157 55h0M160 55h0M164 55h0M165 55h0M168 55h0M173 55h0M180 55h0M185 55h0M194 55h0M199 55h0M3 56h0M4 56h0M6 56h0M16 56h0M29 56h0M32 56h0M39 56h0M44 56h0M50 56h0M53 56h0M56 56h0M60 56h0M63 56h0M66 56h0M78 56h0M79 56h0M81 56h0M82 56h0M87 56h0M88 56h0M91 56h0M98 56h0M99 56h0M105 56h0M106 56h0M109 56h0M113 56h0M129 56h0M141 56h0M146 56h0M155 56h0M157 56h0M162 56h0M164 56h0M166 56h0M169 56h0M172 56h0M193 56h0M198 56h0M199 56h0M201 56h0M8 57h0M24 57h0M25 57h0M35 57h0M40 57h0M53 57h0M55 57h0M59 57h0M60 57h0M61 57h0M72 57h0M75 57h0M81 57h0M93 57h0M96 57h0M102 57h0M104 57h0M107 57h0M109 57h0M110 57h0M111 57h0M114 57h0M138 57h0M142 57h0M153 57h0M154 57h0M159 57h0M169 57h0M177 57h0M184 57h0M185 57h0M189 57h0M192 57h0M194 57h0M196 57h0M4 58h0M8 58h0M12 58h0M22 58h0M36 58h0M38 58h0M44 58h0M46 58h0M56 58h0M59 58h0M67 58h0M78 58h0M89 58h0M95 58h0M98 58h0M106 58h0M109 58h0M110 58h0M113 58h0M118 58h0M119 58h0M129 58h0M137 58h0M139 58h0M151 58h0M152 58h0M155 58h0M156 58h0M161 58h0M164 58h0M171 58h0M176 58h0M181 58h0M183 58h0M185 58h0M196 58h0M7 59h0M9 59h0M12 59h0M21 59h0M22 59h0M23 59h0M37 59h0M38 59h0M56 59h0M67 59h0M77 59h0M79 59h0M90 59h0M95 59h0M97 59h0M99 59h0M107 59h0M112 59h0M117 59h0M118 59h0M122 59h0M129 59h0M133 59h0M140 59h0M152 59h0M158 59h0M159 59h0M160 59h0M161 59h0M164 59h0M192 59h0M193 59h0M198 59h0M199 59h0M202 59h0M13 60h0M27 60h0M35 60h0M38 60h0M46 60h0M49 60h0M52 60h0M54 60h0M55 60h0M57 60h0M62 60h0M64 60h0M68 60h0M77 60h0M90 60h0M93 60h0M105 60h0M107 60h0M108 60h0M109 60h0M110 60h0M111 60h0M114 60h0M116 60h0M117 60h0M125 60h0M127 60h0M130 60h0M141 60h0M142 60h0M152 60h0M160 60h0M163 60h0M165 60h0M166 60h0M171 60h0M172 60h0M184 60h0M189 60h0M190 60h0M195 60h0M196 60h0M197 60h0M200 60h0M5 61h0M19 61h0M35 61h0M52 61h0M53 61h0M56 61h0M65 61h0M69 61h0M70 61h0M77 61h0M78 61h0M82 61h0M96 61h0M107 61h0M109 61h0M115 61h0M116 61h0M120 61h0M122 61h0M125 61h0M128 61h0M138 61h0M143 61h0M151 61h0M158 61h0M164 61h0M165 61h0M169 61h0M170 61h0M173 61h0M195 61h0M197 61h0M6 62h0M9 62h0M10 62h0M18 62h0M24 62h0M43 62h0M44 62h0M46 62h0M55 62h0M56 62h0M58 62h0M74 62h0M80 62h0M86 62h0M97 62h0M98 62h0M103 62h0M105 62h0M106 62h0M108 62h0M111 62h0M121 62h0M129 62h0M130 62h0M143 62h0M144 62h0M148 62h0M161 62h0M176 62h0M181 62h0M184 62h0M185 62h0M191 62h0M199 62h0M4 63h0M5 63h0M6 63h0M8 63h0M9 63h0M11 63h0M12 63h0M15 63h0M17 63h0M18 63h0M20 63h0M22 63h0M25 63h0M35 63h0M39 63h0M49 63h0M68 63h0M71 63h0M95 63h0M99 63h0M105 63h0M113 63h0M114 63h0M116 63h0M121 63h0M123 63h0M124 63h0M127 63h0M145 63h0M148 63h0M158 63h0M159 63h0M160 63h0M164 63h0M171 63h0M174 63h0M185 63h0M187 63h0M190 63h0M12 64h0M14 64h0M15 64h0M16 64h0M21 64h0M23 64h0M43 64h0M44 64h0M45 64h0M50 64h0M55 64h0M57 64h0M84 64h0M94 64h0M96 64h0M98 64h0M101 64h0M102 64h0M114 64h0M115 64h0M117 64h0M120 64h0M126 64h0M137 64h0M141 64h0M145 64h0M153 64h0M157 64h0M159 64h0M163 64h0M169 64h0M196 64h0M200 64h0M6 65h0M7 65h0M15 65h0M35 65h0M44 65h0M45 65h0M56 65h0M62 65h0M64 65h0M65 65h0M68 65h0M78 65h0M104 65h0M112 65h0M113 65h0M114 65h0M122 65h0M127 65h0M128 65h0M131 65h0M156 65h0M162 65h0M173 65h0M175 65h0M199 65h0M5 66h0M17 66h0M18 66h0M23 66h0M43 66h0M52 66h0M57 66h0M70 66h0M72 66h0M81 66h0M90 66h0M95 66h0M97 66h0M104 66h0M105 66h0M110 66h0M123 66h0M126 66h0M127 66h0M130 66h0M132 66h0M140 66h0M144 66h0M150 66h0M161 66h0M173 66h0M176 66h0M193 66h0M195 66h0M4 67h0M9 67h0M10 67h0M12 67h0M16 67h0M43 67h0M44 67h0M47 67h0M50 67h0M55 67h0M59 67h0M67 67h0M69 67h0M72 67h0M73 67h0M91 67h0M104 67h0M110 67h0M115 67h0M116 67h0M121 67h0M123 67h0M128 67h0M129 67h0M131 67h0M136 67h0M142 67h0M143 67h0M149 67h0M151 67h0M155 67h0M158 67h0M169 67h0M176 67h0M178 67h0M191 67h0M194 67h0M200 67h0M6 68h0M8 68h0M9 68h0M12 68h0M21 68h0M36 68h0M38 68h0M39 68h0M43 68h0M48 68h0M49 68h0M51 68h0M57 68h0M61 68h0M63 68h0M64 68h0M65 68h0M68 68h0M91 68h0M94 68h0M98 68h0M112 68h0M114 68h0M116 68h0M119 68h0M129 68h0M136 68h0M156 68h0M162 68h0M164 68h0M173 68h0M177 68h0M181 68h0M200 68h0M4 69h0M7 69h0M13 69h0M25 69h0M28 69h0M35 69h0M40 69h0M41 69h0M44 69h0M45 69h0M51 69h0M54 69h0M59 69h0M62 69h0M67 69h0M79 69h0M109 69h0M112 69h0M120 69h0M132 69h0M138 69h0M146 69h0M148 69h0M149 69h0M156 69h0M166 69h0M168 69h0M173 69h0M174 69h0M176 69h0M179 69h0M196 69h0M3 70h0M6 70h0M7 70h0M17 70h0M21 70h0M35 70h0M36 70h0M40 70h0M44 70h0M45 70h0M47 70h0M50 70h0M51 70h0M54 70h0M57 70h0M62 70h0M67 70h0M83 70h0M93 70h0M100 70h0M106 70h0M107 70h0M108 70h0M136 70h0M146 70h0M147 70h0M149 70h0M155 70h0M163 70h0M164 70h0M167 70h0M173 70h0M175 70h0M185 70h0M188 70h0M197 70h0M10 71h0M12 71h0M15 71h0M18 71h0M23 71h0M35 71h0M36 71h0M43 71h0M44 71h0M45 71h0M46 71h0M52 71h0M53 71h0M54 71h0M57 71h0M66 71h0M72 71h0M79 71h0M94 71h0M98 71h0M106 71h0M113 71h0M115 71h0M129 71h0M131 71h0M142 71h0M149 71h0M150 71h0M153 71h0M155 71h0M164 71h0M165 71h0M169 71h0M170 71h0M171 71h0M172 71h0M173 71h0M176 71h0M183 71h0M189 71h0M3 72h0M15 72h0M18 72h0M19 72h0M20 72h0M23 72h0M31 72h0M39 72h0M47 72h0M49 72h0M51 72h0M52 72h0M53 72h0M54 72h0M55 72h0M61 72h0M71 72h0M78 72h0M93 72h0M110 72h0M111 72h0M120 72h0M133 72h0M134 72h0M140 72h0M150 72h0M151 72h0M153 72h0M154 72h0M155 72h0M160 72h0M167 72h0M173 72h0M183 72h0M184 72h0M187 72h0M191 72h0M195 72h0M10 73h0M17 73h0M30 73h0M33 73h0M35 73h0M37 73h0M39 73h0M41 73h0M42 73h0M52 73h0M53 73h0M55 73h0M56 73h0M60 73h0M63 73h0M66 73h0M68 73h0M69 73h0M79 73h0M84 73h0M94 73h0M95 73h0M98 73h0M103 73h0M107 73h0M132 73h0M136 73h0M146 73h0M149 73h0M151 73h0M152 73h0M162 73h0M163 73h0M166 73h0M167 73h0M168 73h0M169 73h0M170 73h0M171 73h0M173 73h0M175 73h0M178 73h0M190 73h0M192 73h0M200 73h0M2 74h0M5 74h0M12 74h0M17 74h0M18 74h0M27 74h0M28 74h0M30 74h0M39 74h0M41 74h0M42 74h0M43 74h0M49 74h0M55 74h0M58 74h0M60 74h0M70 74h0M74 74h0M76 74h0M77 74h0M80 74h0M81 74h0M84 74h0M86 74h0M93 74h0M100 74h0M103 74h0M106 74h0M108 74h0M109 74h0M110 74h0M141 74h0M143 74h0M151 74h0M161 74h0M163 74h0M164 74h0M165 74h0M166 74h0M168 74h0M169 74h0M170 74h0M171 74h0M176 74h0M183 74h0M191 74h0M202 74h0M2 75h0M8 75h0M24 75h0M29 75h0M36 75h0M39 75h0M56 75h0M58 75h0M59 75h0M60 75h0M61 75h0M62 75h0M66 75h0M69 75h0M82 75h0M87 75h0M94 75h0M105 75h0M112 75h0M113 75h0M116 75h0M120 75h0M122 75h0M130 75h0M141 75h0M150 75h0M159 75h0M161 75h0M167 75h0M170 75h0M176 75h0M191 75h0M198 75h0M10 76h0M17 76h0M23 76h0M33 76h0M38 76h0M40 76h0M41 76h0M42 76h0M47 76h0M48 76h0M49 76h0M55 76h0M57 76h0M60 76h0M64 76h0M65 76h0M70 76h0M79 76h0M81 76h0M87 76h0M88 76h0M90 76h0M139 76h0M141 76h0M152 76h0M153 76h0M156 76h0M160 76h0M164 76h0M167 76h0M170 76h0M180 76h0M195 76h0M196 76h0M12 77h0M19 77h0M22 77h0M23 77h0M24 77h0M38 77h0M48 77h0M64 77h0M69 77h0M70 77h0M89 77h0M94 77h0M107 77h0M110 77h0M115 77h0M117 77h0M123 77h0M127 77h0M136 77h0M151 77h0M159 77h0M160 77h0M165 77h0M169 77h0M171 77h0M182 77h0M186 77h0M189 77h0M191 77h0M193 77h0M4 78h0M13 78h0M23 78h0M32 78h0M53 78h0M55 78h0M57 78h0M60 78h0M62 78h0M63 78h0M64 78h0M78 78h0M80 78h0M81 78h0M88 78h0M89 78h0M90 78h0M99 78h0M100 78h0M101 78h0M103 78h0M116 78h0M119 78h0M120 78h0M125 78h0M129 78h0M132 78h0M145 78h0M152 78h0M156 78h0M166 78h0M168 78h0M169 78h0M178 78h0M179 78h0M193 78h0M194 78h0M12 79h0M19 79h0M28 79h0M29 79h0M31 79h0M34 79h0M43 79h0M48 79h0M54 79h0M58 79h0M62 79h0M65 79h0M66 79h0M71 79h0M73 79h0M75 79h0M76 79h0M77 79h0M84 79h0M88 79h0M89 79h0M95 79h0M96 79h0M111 79h0M131 79h0M149 79h0M152 79h0M163 79h0M167 79h0M175 79h0M181 79h0M186 79h0M192 79h0M193 79h0M196 79h0M18 80h0M19 80h0M23 80h0M26 80h0M29 80h0M30 80h0M33 80h0M38 80h0M39 80h0M40 80h0M46 80h0M49 80h0M54 80h0M56 80h0M65 80h0M66 80h0M77 80h0M79 80h0M83 80h0M87 80h0M90 80h0M92 80h0M107 80h0M111 80h0M112 80h0M113 80h0M116 80h0M122 80h0M128 80h0M142 80h0M144 80h0M146 80h0M147 80h0M166 80h0M170 80h0M177 80h0M180 80h0M181 80h0M184 80h0M185 80h0M187 80h0M188 80h0M193 80h0M200 80h0M6 81h0M9 81h0M25 81h0M34 81h0M36 81h0M38 81h0M42 81h0M43 81h0M44 81h0M53 81h0M56 81h0M63 81h0M64 81h0M73 81h0M75 81h0M80 81h0M83 81h0M88 81h0M90 81h0M93 81h0M104 81h0M108 81h0M110 81h0M111 81h0M112 81h0M114 81h0M127 81h0M129 81h0M130 81h0M136 81h0M141 81h0M147 81h0M149 81h0M153 81h0M164 81h0M169 81h0M172 81h0M173 81h0M177 81h0M178 81h0M188 81h0M193 81h0M195 81h0M197 81h0M11 82h0M23 82h0M26 82h0M27 82h0M28 82h0M30 82h0M33 82h0M36 82h0M38 82h0M39 82h0M43 82h0M45 82h0M55 82h0M56 82h0M58 82h0M59 82h0M60 82h0M63 82h0M68 82h0M82 82h0M84 82h0M92 82h0M102 82h0M105 82h0M108 82h0M114 82h0M125 82h0M126 82h0M167 82h0M172 82h0M173 82h0M179 82h0M182 82h0M188 82h0M197 82h0M202 82h0M8 83h0M10 83h0M15 83h0M17 83h0M18 83h0M19 83h0M26 83h0M29 83h0M37 83h0M38 83h0M42 83h0M50 83h0M57 83h0M66 83h0M68 83h0M69 83h0M70 83h0M79 83h0M81 83h0M83 83h0M85 83h0M86 83h0M87 83h0M89 83h0M90 83h0M91 83h0M93 83h0M98 83h0M101 83h0M105 83h0M108 83h0M109 83h0M112 83h0M116 83h0M129 83h0M130 83h0M133 83h0M143 83h0M152 83h0M153 83h0M158 83h0M166 83h0M171 83h0M173 83h0M174 83h0M178 83h0M181 83h0M186 83h0M189 83h0M190 83h0M193 83h0M5 84h0M7 84h0M12 84h0M15 84h0M17 84h0M21 84h0M25 84h0M28 84h0M30 84h0M32 84h0M33 84h0M35 84h0M36 84h0M47 84h0M53 84h0M77 84h0M78 84h0M82 84h0M83 84h0M85 84h0M88 84h0M89 84h0M90 84h0M98 84h0M99 84h0M103 84h0M104 84h0M107 84h0M109 84h0M110 84h0M111 84h0M112 84h0M114 84h0M121 84h0M130 84h0M131 84h0M136 84h0M138 84h0M144 84h0M152 84h0M153 84h0M155 84h0M160 84h0M175 84h0M178 84h0M188 84h0M190 84h0M194 84h0M196 84h0M6 85h0M10 85h0M17 85h0M28 85h0M30 85h0M34 85h0M35 85h0M36 85h0M42 85h0M45 85h0M49 85h0M50 85h0M52 85h0M57 85h0M61 85h0M62 85h0M69 85h0M77 85h0M87 85h0M95 85h0M97 85h0M98 85h0M99 85h0M101 85h0M102 85h0M108 85h0M118 85h0M119 85h0M129 85h0M130 85h0M147 85h0M152 85h0M155 85h0M160 85h0M171 85h0M174 85h0M176 85h0M177 85h0M178 85h0M180 85h0M197 85h0M13 86h0M19 86h0M20 86h0M23 86h0M28 86h0M30 86h0M32 86h0M35 86h0M37 86h0M55 86h0M63 86h0M66 86h0M67 86h0M68 86h0M72 86h0M74 86h0M76 86h0M78 86h0M82 86h0M84 86h0M85 86h0M93 86h0M94 86h0M95 86h0M97 86h0M99 86h0M100 86h0M101 86h0M103 86h0M104 86h0M107 86h0M108 86h0M110 86h0M125 86h0M132 86h0M142 86h0M143 86h0M146 86h0M147 86h0M154 86h0M173 86h0M183 86h0M189 86h0M190 86h0M193 86h0M194 86h0M199 86h0M201 86h0M2 87h0M4 87h0M5 87h0M7 87h0M8 87h0M9 87h0M12 87h0M13 87h0M17 87h0M28 87h0M29 87h0M31 87h0M36 87h0M48 87h0M49 87h0M63 87h0M68 87h0M71 87h0M73 87h0M82 87h0M83 87h0M84 87h0M87 87h0M93 87h0M97 87h0M103 87h0M108 87h0M109 87h0M124 87h0M129 87h0M130 87h0M131 87h0M132 87h0M138 87h0M143 87h0M146 87h0M147 87h0M149 87h0M158 87h0M165 87h0M173 87h0M177 87h0M179 87h0M184 87h0M190 87h0M198 87h0M202 87h0M3 88h0M9 88h0M11 88h0M12 88h0M24 88h0M25 88h0M27 88h0M34 88h0M37 88h0M42 88h0M49 88h0M50 88h0M63 88h0M67 88h0M72 88h0M74 88h0M75 88h0M79 88h0M81 88h0M82 88h0M84 88h0M87 88h0M93 88h0M97 88h0M98 88h0M100 88h0M101 88h0M102 88h0M103 88h0M107 88h0M115 88h0M124 88h0M126 88h0M132 88h0M134 88h0M136 88h0M140 88h0M141 88h0M144 88h0M150 88h0M158 88h0M162 88h0M163 88h0M170 88h0M171 88h0M179 88h0M184 88h0M192 88h0M193 88h0M197 88h0M2 89h0M5 89h0M6 89h0M8 89h0M10 89h0M11 89h0M14 89h0M22 89h0M24 89h0M30 89h0M55 89h0M56 89h0M63 89h0M67 89h0M68 89h0M75 89h0M78 89h0M79 89h0M80 89h0M82 89h0M83 89h0M85 89h0M87 89h0M92 89h0M95 89h0M96 89h0M97 89h0M98 89h0M99 89h0M100 89h0M101 89h0M110 89h0M111 89h0M114 89h0M124 89h0M128 89h0M131 89h0M132 89h0M141 89h0M147 89h0M148 89h0M153 89h0M160 89h0M164 89h0M165 89h0M170 89h0M179 89h0M189 89h0M195 89h0M198 89h0M6 90h0M11 90h0M16 90h0M18 90h0M19 90h0M24 90h0M27 90h0M28 90h0M29 90h0M32 90h0M37 90h0M43 90h0M45 90h0M46 90h0M48 90h0M52 90h0M54 90h0M55 90h0M65 90h0M68 90h0M72 90h0M75 90h0M81 90h0M82 90h0M84 90h0M86 90h0M88 90h0M89 90h0M101 90h0M110 90h0M111 90h0M117 90h0M120 90h0M122 90h0M126 90h0M129 90h0M130 90h0M131 90h0M132 90h0M136 90h0M140 90h0M145 90h0M148 90h0M149 90h0M151 90h0M153 90h0M158 90h0M162 90h0M163 90h0M166 90h0M173 90h0M179 90h0M180 90h0M185 90h0M191 90h0M199 90h0M3 91h0M4 91h0M6 91h0M13 91h0M14 91h0M15 91h0M27 91h0M42 91h0M45 91h0M50 91h0M53 91h0M61 91h0M62 91h0M63 91h0M71 91h0M72 91h0M73 91h0M79 91h0M81 91h0M83 91h0M94 91h0M95 91h0M101 91h0M102 91h0M103 91h0M104 91h0M106 91h0M110 91h0M117 91h0M118 91h0M119 91h0M121 91h0M123 91h0M124 91h0M126 91h0M127 91h0M128 91h0M131 91h0M135 91h0M136 91h0M139 91h0M148 91h0M149 91h0M150 91h0M153 91h0M156 91h0M163 91h0M168 91h0M172 91h0M178 91h0M179 91h0M182 91h0M184 91h0M193 91h0M198 91h0M201 91h0M202 91h0M11 92h0M22 92h0M24 92h0M26 92h0M28 92h0M34 92h0M41 92h0M45 92h0M53 92h0M69 92h0M71 92h0M74 92h0M76 92h0M77 92h0M78 92h0M81 92h0M86 92h0M87 92h0M94 92h0M96 92h0M99 92h0M103 92h0M110 92h0M116 92h0M124 92h0M126 92h0M127 92h0M131 92h0M132 92h0M143 92h0M144 92h0M145 92h0M146 92h0M151 92h0M158 92h0M159 92h0M160 92h0M163 92h0M165 92h0M166 92h0M170 92h0M171 92h0M174 92h0M184 92h0M201 92h0M6 93h0M7 93h0M10 93h0M11 93h0M16 93h0M22 93h0M27 93h0M32 93h0M59 93h0M74 93h0M75 93h0M76 93h0M77 93h0M80 93h0M81 93h0M87 93h0M100 93h0M109 93h0M120 93h0M123 93h0M130 93h0M131 93h0M133 93h0M134 93h0M138 93h0M142 93h0M149 93h0M165 93h0M170 93h0M172 93h0M191 93h0M194 93h0M196 93h0M3 94h0M13 94h0M14 94h0M15 94h0M16 94h0M23 94h0M25 94h0M30 94h0M33 94h0M35 94h0M38 94h0M40 94h0M41 94h0M42 94h0M47 94h0M50 94h0M55 94h0M57 94h0M61 94h0M73 94h0M74 94h0M79 94h0M80 94h0M85 94h0M103 94h0M104 94h0M109 94h0M111 94h0M112 94h0M114 94h0M122 94h0M124 94h0M127 94h0M132 94h0M137 94h0M141 94h0M146 94h0M150 94h0M163 94h0M164 94h0M166 94h0M168 94h0M169 94h0M172 94h0M173 94h0M177 94h0M178 94h0M184 94h0M187 94h0M189 94h0M190 94h0M192 94h0M193 94h0M196 94h0M198 94h0M199 94h0M5 95h0M7 95h0M13 95h0M20 95h0M23 95h0M25 95h0M27 95h0M33 95h0M45 95h0M56 95h0M58 95h0M65 95h0M75 95h0M84 95h0M89 95h0M90 95h0M93 95h0M96 95h0M105 95h0M108 95h0M113 95h0M118 95h0M125 95h0M128 95h0M130 95h0M131 95h0M137 95h0M138 95h0M141 95h0M144 95h0M145 95h0M150 95h0M151 95h0M158 95h0M160 95h0M164 95h0M195 95h0M196 95h0M201 95h0M3 96h0M5 96h0M9 96h0M10 96h0M11 96h0M13 96h0M15 96h0M17 96h0M25 96h0M27 96h0M31 96h0M32 96h0M40 96h0M45 96h0M53 96h0M55 96h0M67 96h0M72 96h0M73 96h0M78 96h0M79 96h0M80 96h0M82 96h0M93 96h0M94 96h0M99 96h0M108 96h0M109 96h0M110 96h0M118 96h0M121 96h0M122 96h0M125 96h0M130 96h0M135 96h0M136 96h0M154 96h0M155 96h0M156 96h0M169 96h0M174 96h0M175 96h0M182 96h0M183 96h0M188 96h0M191 96h0M192 96h0M4 97h0M9 97h0M10 97h0M12 97h0M15 97h0M21 97h0M23 97h0M24 97h0M31 97h0M39 97h0M46 97h0M53 97h0M57 97h0M67 97h0M68 97h0M73 97h0M74 97h0M75 97h0M77 97h0M78 97h0M80 97h0M88 97h0M103 97h0M105 97h0M117 97h0M124 97h0M128 97h0M130 97h0M134 97h0M135 97h0M137 97h0M143 97h0M145 97h0M147 97h0M148 97h0M150 97h0M156 97h0M175 97h0M180 97h0M182 97h0M186 97h0M188 97h0M190 97h0M191 97h0M192 97h0M193 97h0M194 97h0M195 97h0M196 97h0M5 98h0M7 98h0M11 98h0M13 98h0M16 98h0M18 98h0M23 98h0M29 98h0M31 98h0M42 98h0M45 98h0M49 98h0M54 98h0M56 98h0M64 98h0M70 98h0M73 98h0M75 98h0M76 98h0M79 98h0M82 98h0M95 98h0M96 98h0M98 98h0M103 98h0M109 98h0M110 98h0M115 98h0M118 98h0M122 98h0M126 98h0M127 98h0M128 98h0M131 98h0M137 98h0M144 98h0M153 98h0M164 98h0M166 98h0M170 98h0M178 98h0M181 98h0M184 98h0M186 98h0M187 98h0M189 98h0M190 98h0M194 98h0M197 98h0M11 99h0M13 99h0M17 99h0M24 99h0M26 99h0M36 99h0M45 99h0M53 99h0M64 99h0M65 99h0M67 99h0M69 99h0M72 99h0M75 99h0M86 99h0M88 99h0M89 99h0M90 99h0M93 99h0M100 99h0M101 99h0M103 99h0M104 99h0M108 99h0M116 99h0M128 99h0M133 99h0M134 99h0M136 99h0M150 99h0M171 99h0M176 99h0M180 99h0M184 99h0M186 99h0M189 99h0M198 99h0M201 99h0M3 100h0M6 100h0M11 100h0M22 100h0M48 100h0M50 100h0M51 100h0M55 100h0M64 100h0M65 100h0M75 100h0M85 100h0M102 100h0M104 100h0M105 100h0M108 100h0M110 100h0M116 100h0M118 100h0M128 100h0M132 100h0M137 100h0M138 100h0M149 100h0M165 100h0M168 100h0M178 100h0M184 100h0M192 100h0M194 100h0M198 100h0M12 101h0M13 101h0M28 101h0M31 101h0M36 101h0M47 101h0M50 101h0M63 101h0M65 101h0M66 101h0M68 101h0M72 101h0M97 101h0M104 101h0M117 101h0M119 101h0M122 101h0M152 101h0M154 101h0M155 101h0M160 101h0M162 101h0M167 101h0M170 101h0M178 101h0M181 101h0M182 101h0M183 101h0M188 101h0M193 101h0M195 101h0M197 101h0M4 102h0M15 102h0M18 102h0M19 102h0M33 102h0M37 102h0M67 102h0M69 102h0M74 102h0M79 102h0M80 102h0M81 102h0M82 102h0M83 102h0M85 102h0M89 102h0M92 102h0M94 102h0M99 102h0M104 102h0M105 102h0M108 102h0M109 102h0M114 102h0M120 102h0M123 102h0M125 102h0M126 102h0M147 102h0M151 102h0M152 102h0M156 102h0M157 102h0M162 102h0M163 102h0M164 102h0M171 102h0M178 102h0M179 102h0M187 102h0M188 102h0M189 102h0M193 102h0M195 102h0M10 103h0M13 103h0M14 103h0M34 103h0M36 103h0M40 103h0M47 103h0M52 103h0M65 103h0M66 103h0M73 103h0M76 103h0M83 103h0M85 103h0M86 103h0M88 103h0M92 103h0M99 103h0M102 103h0M104 103h0M111 103h0M113 103h0M119 103h0M145 103h0M150 103h0M156 103h0M161 103h0M171 103h0M174 103h0M175 103h0M176 103h0M178 103h0M185 103h0M187 103h0M188 103h0M199 103h0M200 103h0M7 104h0M10 104h0M12 104h0M13 104h0M14 104h0M15 104h0M28 104h0M32 104h0M33 104h0M34 104h0M36 104h0M37 104h0M40 104h0M44 104h0M48 104h0M51 104h0M59 104h0M65 104h0M68 104h0M69 104h0M77 104h0M78 104h0M82 104h0M89 104h0M91 104h0M97 104h0M99 104h0M101 104h0M105 104h0M108 104h0M109 104h0M111 104h0M112 104h0M113 104h0M117 104h0M118 104h0M119 104h0M120 104h0M122 104h0M124 104h0M133 104h0M135 104h0M140 104h0M149 104h0M150 104h0M167 104h0M172 104h0M180 104h0M187 104h0M189 104h0M195 104h0M196 104h0M198 104h0M199 104h0M200 104h0M201 104h0M8 105h0M9 105h0M13 105h0M29 105h0M33 105h0M35 105h0M37 105h0M42 105h0M43 105h0M47 105h0M48 105h0M49 105h0M64 105h0M65 105h0M71 105h0M83 105h0M91 105h0M92 105h0M97 105h0M98 105h0M99 105h0M100 105h0M101 105h0M118 105h0M119 105h0M120 105h0M121 105h0M136 105h0M158 105h0M164 105h0M167 105h0M168 105h0M171 105h0M172 105h0M179 105h0M186 105h0M187 105h0M189 105h0M190 105h0M194 105h0M197 105h0M198 105h0M199 105h0M200 105h0M4 106h0M9 106h0M14 106h0M17 106h0M23 106h0M24 106h0M27 106h0M28 106h0M30 106h0M34 106h0M42 106h0M44 106h0M48 106h0M54 106h0M63 106h0M69 106h0M71 106h0M75 106h0M77 106h0M95 106h0M97 106h0M99 106h0M100 106h0M101 106h0M108 106h0M111 106h0M117 106h0M121 106h0M122 106h0M132 106h0M133 106h0M134 106h0M142 106h0M144 106h0M145 106h0M151 106h0M157 106h0M159 106h0M160 106h0M161 106h0M165 106h0M168 106h0M171 106h0M173 106h0M175 106h0M176 106h0M178 106h0M182 106h0M189 106h0M198 106h0M200 106h0M2 107h0M12 107h0M15 107h0M16 107h0M18 107h0M19 107h0M27 107h0M32 107h0M35 107h0M38 107h0M42 107h0M44 107h0M48 107h0M50 107h0M66 107h0M67 107h0M72 107h0M82 107h0M84 107h0M91 107h0M96 107h0M98 107h0M102 107h0M103 107h0M105 107h0M110 107h0M111 107h0M113 107h0M119 107h0M120 107h0M124 107h0M131 107h0M148 107h0M155 107h0M157 107h0M163 107h0M167 107h0M172 107h0M177 107h0M179 107h0M180 107h0M187 107h0M194 107h0M197 107h0M198 107h0M199 107h0M12 108h0M14 108h0M15 108h0M18 108h0M19 108h0M25 108h0M30 108h0M32 108h0M33 108h0M39 108h0M43 108h0M44 108h0M47 108h0M48 108h0M50 108h0M52 108h0M62 108h0M63 108h0M69 108h0M70 108h0M71 108h0M73 108h0M75 108h0M76 108h0M79 108h0M82 108h0M83 108h0M89 108h0M97 108h0M100 108h0M101 108h0M111 108h0M115 108h0M116 108h0M117 108h0M121 108h0M124 108h0M130 108h0M131 108h0M134 108h0M144 108h0M150 108h0M152 108h0M156 108h0M157 108h0M160 108h0M162 108h0M167 108h0M168 108h0M177 108h0M179 108h0M181 108h0M192 108h0M196 108h0M198 108h0M199 108h0M9 109h0M10 109h0M15 109h0M28 109h0M35 109h0M36 109h0M39 109h0M49 109h0M56 109h0M58 109h0M61 109h0M66 109h0M68 109h0M74 109h0M77 109h0M78 109h0M80 109h0M96 109h0M97 109h0M99 109h0M100 109h0M130 109h0M157 109h0M160 109h0M162 109h0M170 109h0M176 109h0M183 109h0M190 109h0M192 109h0M7 110h0M10 110h0M13 110h0M16 110h0M27 110h0M35 110h0M36 110h0M38 110h0M39 110h0M45 110h0M48 110h0M51 110h0M52 110h0M60 110h0M63 110h0M65 110h0M67 110h0M69 110h0M70 110h0M71 110h0M73 110h0M82 110h0M87 110h0M99 110h0M104 110h0M118 110h0M120 110h0M129 110h0M132 110h0M137 110h0M152 110h0M159 110h0M162 110h0M170 110h0M175 110h0M179 110h0M182 110h0M3 111h0M5 111h0M19 111h0M22 111h0M24 111h0M43 111h0M45 111h0M52 111h0M54 111h0M56 111h0M61 111h0M63 111h0M72 111h0M80 111h0M93 111h0M94 111h0M96 111h0M102 111h0M109 111h0M113 111h0M117 111h0M119 111h0M157 111h0M161 111h0M163 111h0M166 111h0M171 111h0M174 111h0M181 111h0M182 111h0M184 111h0M2 112h0M21 112h0M25 112h0M29 112h0M30 112h0M32 112h0M36 112h0M37 112h0M49 112h0M60 112h0M66 112h0M68 112h0M91 112h0M97 112h0M98 112h0M101 112h0M106 112h0M107 112h0M109 112h0M118 112h0M120 112h0M123 112h0M126 112h0M135 112h0M137 112h0M153 112h0M157 112h0M168 112h0M173 112h0M176 112h0M180 112h0M182 112h0M183 112h0M196 112h0M22 113h0M37 113h0M49 113h0M53 113h0M62 113h0M64 113h0M74 113h0M90 113h0M96 113h0M98 113h0M99 113h0M100 113h0M115 113h0M121 113h0M123 113h0M125 113h0M126 113h0M136 113h0M137 113h0M166 113h0M170 113h0M175 113h0M187 113h0M190 113h0M197 113h0M201 113h0M20 114h0M23 114h0M25 114h0M28 114h0M33 114h0M47 114h0M49 114h0M50 114h0M52 114h0M56 114h0M58 114h0M75 114h0M91 114h0M93 114h0M99 114h0M102 114h0M117 114h0M126 114h0M127 114h0M128 114h0M140 114h0M145 114h0M152 114h0M156 114h0M166 114h0M177 114h0M178 114h0M181 114h0M182 114h0M187 114h0M191 114h0M192 114h0M16 115h0M17 115h0M24 115h0M28 115h0M29 115h0M35 115h0M38 115h0M39 115h0M42 115h0M47 115h0M54 115h0M59 115h0M66 115h0M70 115h0M78 115h0M89 115h0M101 115h0M104 115h0M118 115h0M123 115h0M126 115h0M128 115h0M138 115h0M155 115h0M157 115h0M161 115h0M166 115h0M170 115h0M171 115h0M181 115h0M183 115h0M188 115h0M189 115h0M196 115h0M9 116h0M31 116h0M33 116h0M46 116h0M50 116h0M56 116h0M58 116h0M59 116h0M63 116h0M65 116h0M75 116h0M85 116h0M96 116h0M98 116h0M101 116h0M127 116h0M128 116h0M132 116h0M139 116h0M142 116h0M160 116h0M177 116h0M180 116h0M183 116h0M186 116h0M190 116h0M192 116h0M202 116h0M16 117h0M19 117h0M29 117h0M42 117h0M43 117h0M57 117h0M62 117h0M63 117h0M97 117h0M98 117h0M100 117h0M101 117h0M104 117h0M116 117h0M119 117h0M133 117h0M140 117h0M141 117h0M144 117h0M165 117h0M174 117h0M176 117h0M179 117h0M181 117h0M184 117h0M186 117h0M196 117h0M198 117h0M7 118h0M8 118h0M11 118h0M12 118h0M15 118h0M21 118h0M23 118h0M25 118h0M27 118h0M29 118h0M31 118h0M44 118h0M46 118h0M48 118h0M49 118h0M52 118h0M54 118h0M59 118h0M60 118h0M62 118h0M64 118h0M68 118h0M70 118h0M88 118h0M96 118h0M113 118h0M126 118h0M128 118h0M131 118h0M136 118h0M137 118h0M140 118h0M144 118h0M151 118h0M152 118h0M157 118h0M159 118h0M168 118h0M169 118h0M191 118h0M8 119h0M9 119h0M14 119h0M18 119h0M20 119h0M28 119h0M34 119h0M39 119h0M40 119h0M45 119h0M47 119h0M49 119h0M55 119h0M61 119h0M69 119h0M77 119h0M79 119h0M82 119h0M99 119h0M108 119h0M114 119h0M115 119h0M124 119h0M130 119h0M133 119h0M138 119h0M139 119h0M140 119h0M144 119h0M154 119h0M160 119h0M169 119h0M172 119h0M176 119h0M177 119h0M178 119h0M189 119h0M192 119h0M198 119h0M201 119h0M18 120h0M21 120h0M23 120h0M24 120h0M27 120h0M30 120h0M32 120h0M33 120h0M40 120h0M42 120h0M45 120h0M49 120h0M51 120h0M53 120h0M56 120h0M60 120h0M69 120h0M70 120h0M72 120h0M76 120h0M93 120h0M95 120h0M103 120h0M104 120h0M109 120h0M112 120h0M120 120h0M122 120h0M132 120h0M133 120h0M143 120h0M153 120h0M154 120h0M157 120h0M162 120h0M171 120h0M178 120h0M181 120h0M186 120h0M188 120h0M189 120h0M190 120h0M193 120h0M4 121h0M6 121h0M7 121h0M8 121h0M19 121h0M20 121h0M22 121h0M25 121h0M26 121h0M27 121h0M30 121h0M34 121h0M35 121h0M43 121h0M46 121h0M62 121h0M66 121h0M68 121h0M78 121h0M84 121h0M85 121h0M87 121h0M88 121h0M97 121h0M98 121h0M100 121h0M102 121h0M105 121h0M106 121h0M111 121h0M113 121h0M117 121h0M118 121h0M125 121h0M132 121h0M135 121h0M137 121h0M171 121h0M186 121h0M191 121h0M196 121h0M199 121h0M3 122h0M5 122h0M6 122h0M7 122h0M11 122h0M20 122h0M22 122h0M31 122h0M33 122h0M37 122h0M40 122h0M42 122h0M46 122h0M51 122h0M54 122h0M63 122h0M66 122h0M78 122h0M80 122h0M81 122h0M82 122h0M88 122h0M91 122h0M96 122h0M97 122h0M101 122h0M102 122h0M103 122h0M104 122h0M105 122h0M106 122h0M109 122h0M110 122h0M111 122h0M113 122h0M116 122h0M121 122h0M122 122h0M124 122h0M129 122h0M136 122h0M141 122h0M142 122h0M144 122h0M146 122h0M155 122h0M162 122h0M169 122h0M171 122h0M184 122h0M185 122h0M188 122h0M191 122h0M192 122h0M193 122h0M19 123h0M28 123h0M29 123h0M32 123h0M42 123h0M44 123h0M47 123h0M53 123h0M54 123h0M57 123h0M58 123h0M67 123h0M77 123h0M81 123h0M86 123h0M87 123h0M88 123h0M97 123h0M99 123h0M101 123h0M102 123h0M103 123h0M105 123h0M106 123h0M108 123h0M110 123h0M112 123h0M116 123h0M117 123h0M119 123h0M121 123h0M124 123h0M130 123h0M131 123h0M132 123h0M137 123h0M145 123h0M147 123h0M151 123h0M153 123h0M155 123h0M160 123h0M161 123h0M164 123h0M171 123h0M179 123h0M180 123h0M183 123h0M190 123h0M193 123h0M194 123h0M199 123h0M3 124h0M4 124h0M7 124h0M14 124h0M17 124h0M22 124h0M24 124h0M27 124h0M32 124h0M34 124h0M37 124h0M47 124h0M50 124h0M51 124h0M57 124h0M59 124h0M61 124h0M69 124h0M75 124h0M78 124h0M91 124h0M93 124h0M100 124h0M102 124h0M103 124h0M106 124h0M112 124h0M114 124h0M115 124h0M117 124h0M124 124h0M125 124h0M126 124h0M128 124h0M129 124h0M132 124h0M134 124h0M142 124h0M147 124h0M151 124h0M153 124h0M157 124h0M161 124h0M176 124h0M177 124h0M179 124h0M188 124h0M190 124h0M192 124h0M193 124h0M200 124h0M3 125h0M8 125h0M18 125h0M24 125h0M27 125h0M28 125h0M31 125h0M36 125h0M45 125h0M48 125h0M49 125h0M50 125h0M53 125h0M65 125h0M67 125h0M75 125h0M78 125h0M80 125h0M88 125h0M104 125h0M108 125h0M111 125h0M117 125h0M118 125h0M120 125h0M125 125h0M126 125h0M127 125h0M130 125h0M135 125h0M136 125h0M139 125h0M141 125h0M143 125h0M155 125h0M160 125h0M163 125h0M174 125h0M175 125h0M176 125h0M182 125h0M191 125h0M193 125h0M3 126h0M20 126h0M21 126h0M28 126h0M33 126h0M35 126h0M40 126h0M41 126h0M46 126h0M57 126h0M60 126h0M61 126h0M75 126h0M76 126h0M82 126h0M85 126h0M86 126h0M99 126h0M100 126h0M102 126h0M107 126h0M112 126h0M121 126h0M122 126h0M127 126h0M131 126h0M134 126h0M136 126h0M146 126h0M154 126h0M159 126h0M170 126h0M176 126h0M179 126h0M184 126h0M188 126h0M194 126h0M195 126h0M7 127h0M12 127h0M14 127h0M20 127h0M26 127h0M27 127h0M31 127h0M32 127h0M33 127h0M34 127h0M42 127h0M43 127h0M44 127h0M50 127h0M56 127h0M58 127h0M60 127h0M69 127h0M75 127h0M77 127h0M78 127h0M79 127h0M81 127h0M82 127h0M84 127h0M85 127h0M88 127h0M95 127h0M96 127h0M102 127h0M103 127h0M104 127h0M118 127h0M135 127h0M136 127h0M140 127h0M143 127h0M152 127h0M160 127h0M175 127h0M184 127h0M185 127h0M186 127h0M189 127h0M192 127h0M193 127h0M199 127h0M3 128h0M13 128h0M18 128h0M19 128h0M30 128h0M33 128h0M34 128h0M35 128h0M36 128h0M37 128h0M38 128h0M43 128h0M49 128h0M52 128h0M54 128h0M68 128h0M74 128h0M77 128h0M81 128h0M90 128h0M105 128h0M109 128h0M110 128h0M118 128h0M119 128h0M120 128h0M123 128h0M132 128h0M133 128h0M135 128h0M142 128h0M149 128h0M167 128h0M176 128h0M179 128h0M183 128h0M185 128h0M187 128h0M190 128h0M193 128h0M196 128h0M6 129h0M8 129h0M14 129h0M16 129h0M17 129h0M23 129h0M26 129h0M37 129h0M41 129h0M42 129h0M43 129h0M44 129h0M47 129h0M50 129h0M56 129h0M58 129h0M61 129h0M75 129h0M76 129h0M79 129h0M83 129h0M91 129h0M99 129h0M101 129h0M103 129h0M109 129h0M122 129h0M128 129h0M136 129h0M139 129h0M142 129h0M166 129h0M170 129h0M171 129h0M173 129h0M177 129h0M178 129h0M181 129h0M182 129h0M188 129h0M193 129h0M199 129h0M6 130h0M12 130h0M14 130h0M15 130h0M18 130h0M20 130h0M21 130h0M23 130h0M30 130h0M31 130h0M32 130h0M33 130h0M35 130h0M49 130h0M67 130h0M77 130h0M80 130h0M85 130h0M88 130h0M91 130h0M95 130h0M97 130h0M102 130h0M104 130h0M105 130h0M107 130h0M108 130h0M118 130h0M122 130h0M123 130h0M126 130h0M134 130h0M138 130h0M149 130h0M151 130h0M163 130h0M166 130h0M167 130h0M168 130h0M177 130h0M180 130h0M182 130h0M187 130h0M191 130h0M196 130h0M2 131h0M9 131h0M19 131h0M24 131h0M28 131h0M29 131h0M32 131h0M33 131h0M47 131h0M48 131h0M67 131h0M77 131h0M88 131h0M94 131h0M97 131h0M98 131h0M100 131h0M121 131h0M123 131h0M128 131h0M137 131h0M138 131h0M139 131h0M142 131h0M146 131h0M152 131h0M159 131h0M164 131h0M172 131h0M174 131h0M177 131h0M180 131h0M183 131h0M186 131h0M190 131h0M191 131h0M192 131h0M194 131h0M195 131h0M199 131h0M11 132h0M21 132h0M23 132h0M25 132h0M29 132h0M32 132h0M39 132h0M46 132h0M53 132h0M56 132h0M63 132h0M69 132h0M74 132h0M75 132h0M91 132h0M99 132h0M100 132h0M101 132h0M106 132h0M114 132h0M121 132h0M122 132h0M124 132h0M128 132h0M141 132h0M153 132h0M158 132h0M163 132h0M184 132h0M188 132h0M190 132h0M191 132h0M192 132h0M199 132h0M2 133h0M9 133h0M11 133h0M12 133h0M16 133h0M19 133h0M20 133h0M28 133h0M29 133h0M34 133h0M36 133h0M52 133h0M53 133h0M56 133h0M63 133h0M64 133h0M80 133h0M82 133h0M84 133h0M92 133h0M93 133h0M103 133h0M122 133h0M132 133h0M137 133h0M141 133h0M149 133h0M154 133h0M159 133h0M163 133h0M167 133h0M174 133h0M180 133h0M181 133h0M183 133h0M185 133h0M186 133h0M192 133h0M194 133h0M195 133h0M198 133h0M5 134h0M6 134h0M9 134h0M15 134h0M16 134h0M17 134h0M22 134h0M29 134h0M34 134h0M43 134h0M49 134h0M53 134h0M56 134h0M59 134h0M61 134h0M64 134h0M65 134h0M66 134h0M72 134h0M73 134h0M76 134h0M79 134h0M81 134h0M93 134h0M95 134h0M96 134h0M99 134h0M100 134h0M105 134h0M106 134h0M120 134h0M126 134h0M128 134h0M130 134h0M131 134h0M133 134h0M148 134h0M163 134h0M165 134h0M168 134h0M177 134h0M178 134h0M182 134h0M184 134h0M185 134h0M190 134h0M191 134h0M193 134h0M194 134h0M195 134h0M200 134h0M6 135h0M7 135h0M17 135h0M29 135h0M49 135h0M50 135h0M56 135h0M62 135h0M67 135h0M71 135h0M79 135h0M81 135h0M87 135h0M92 135h0M94 135h0M105 135h0M108 135h0M112 135h0M116 135h0M125 135h0M129 135h0M130 135h0M136 135h0M145 135h0M153 135h0M157 135h0M160 135h0M161 135h0M171 135h0M173 135h0M174 135h0M181 135h0M186 135h0M191 135h0M194 135h0M196 135h0M198 135h0M201 135h0M2 136h0M6 136h0M7 136h0M16 136h0M20 136h0M25 136h0M37 136h0M39 136h0M48 136h0M50 136h0M53 136h0M54 136h0M55 136h0M63 136h0M64 136h0M67 136h0M70 136h0M71 136h0M73 136h0M84 136h0M88 136h0M90 136h0M105 136h0M108 136h0M124 136h0M128 136h0M130 136h0M132 136h0M133 136h0M136 136h0M140 136h0M148 136h0M156 136h0M157 136h0M158 136h0M159 136h0M164 136h0M181 136h0M182 136h0M188 136h0M191 136h0M193 136h0M194 136h0M8 137h0M9 137h0M13 137h0M15 137h0M19 137h0M24 137h0M27 137h0M48 137h0M51 137h0M53 137h0M66 137h0M69 137h0M71 137h0M74 137h0M77 137h0M80 137h0M82 137h0M84 137h0M89 137h0M93 137h0M94 137h0M95 137h0M98 137h0M105 137h0M113 137h0M115 137h0M119 137h0M120 137h0M124 137h0M125 137h0M126 137h0M130 137h0M133 137h0M137 137h0M140 137h0M148 137h0M152 137h0M163 137h0M165 137h0M181 137h0M184 137h0M185 137h0M189 137h0M193 137h0M195 137h0M6 138h0M7 138h0M9 138h0M12 138h0M23 138h0M26 138h0M27 138h0M31 138h0M53 138h0M59 138h0M60 138h0M65 138h0M68 138h0M70 138h0M74 138h0M75 138h0M87 138h0M92 138h0M101 138h0M102 138h0M104 138h0M105 138h0M110 138h0M116 138h0M119 138h0M121 138h0M125 138h0M141 138h0M142 138h0M143 138h0M145 138h0M150 138h0M158 138h0M160 138h0M183 138h0M184 138h0M186 138h0M191 138h0M196 138h0M197 138h0M198 138h0M201 138h0M11 139h0M24 139h0M37 139h0M50 139h0M55 139h0M68 139h0M69 139h0M70 139h0M71 139h0M73 139h0M78 139h0M84 139h0M85 139h0M88 139h0M89 139h0M91 139h0M92 139h0M105 139h0M116 139h0M119 139h0M122 139h0M129 139h0M130 139h0M140 139h0M143 139h0M144 139h0M146 139h0M165 139h0M185 139h0M186 139h0M189 139h0M196 139h0M16 140h0M20 140h0M27 140h0M34 140h0M40 140h0M52 140h0M54 140h0M57 140h0M63 140h0M68 140h0M71 140h0M75 140h0M79 140h0M80 140h0M82 140h0M84 140h0M87 140h0M89 140h0M90 140h0M94 140h0M108 140h0M112 140h0M117 140h0M119 140h0M130 140h0M154 140h0M159 140h0M162 140h0M167 140h0M180 140h0M190 140h0M194 140h0M196 140h0M12 141h0M13 141h0M15 141h0M16 141h0M18 141h0M25 141h0M27 141h0M31 141h0M35 141h0M50 141h0M54 141h0M59 141h0M61 141h0M64 141h0M70 141h0M71 141h0M76 141h0M78 141h0M85 141h0M87 141h0M89 141h0M101 141h0M103 141h0M104 141h0M117 141h0M143 141h0M145 141h0M149 141h0M150 141h0M160 141h0M161 141h0M164 141h0M168 141h0M169 141h0M174 141h0M184 141h0M185 141h0M187 141h0M190 141h0M5 142h0M13 142h0M20 142h0M28 142h0M36 142h0M39 142h0M60 142h0M62 142h0M68 142h0M71 142h0M73 142h0M74 142h0M75 142h0M84 142h0M93 142h0M109 142h0M110 142h0M121 142h0M124 142h0M126 142h0M128 142h0M131 142h0M139 142h0M140 142h0M142 142h0M143 142h0M146 142h0M154 142h0M157 142h0M162 142h0M163 142h0M164 142h0M166 142h0M173 142h0M174 142h0M185 142h0M186 142h0M190 142h0M191 142h0M194 142h0M195 142h0M7 143h0M16 143h0M18 143h0M20 143h0M30 143h0M42 143h0M43 143h0M44 143h0M47 143h0M71 143h0M72 143h0M82 143h0M83 143h0M86 143h0M90 143h0M92 143h0M96 143h0M98 143h0M102 143h0M103 143h0M106 143h0M109 143h0M111 143h0M112 143h0M115 143h0M121 143h0M124 143h0M140 143h0M141 143h0M143 143h0M157 143h0M172 143h0M179 143h0M180 143h0M7 144h0M9 144h0M16 144h0M19 144h0M20 144h0M28 144h0M41 144h0M47 144h0M60 144h0M61 144h0M64 144h0M67 144h0M70 144h0M82 144h0M85 144h0M88 144h0M102 144h0M106 144h0M109 144h0M111 144h0M113 144h0M114 144h0M119 144h0M123 144h0M126 144h0M131 144h0M132 144h0M138 144h0M144 144h0M145 144h0M151 144h0M159 144h0M160 144h0M161 144h0M162 144h0M166 144h0M169 144h0M172 144h0M178 144h0M183 144h0M184 144h0M188 144h0M191 144h0M192 144h0M193 144h0M194 144h0M195 144h0M4 145h0M12 145h0M13 145h0M14 145h0M15 145h0M16 145h0M17 145h0M19 145h0M20 145h0M23 145h0M27 145h0M51 145h0M53 145h0M55 145h0M73 145h0M77 145h0M79 145h0M82 145h0M83 145h0M85 145h0M88 145h0M95 145h0M96 145h0M97 145h0M99 145h0M100 145h0M102 145h0M103 145h0M105 145h0M106 145h0M108 145h0M109 145h0M112 145h0M141 145h0M147 145h0M158 145h0M163 145h0M171 145h0M177 145h0M184 145h0M189 145h0M192 145h0M193 145h0M194 145h0M198 145h0M6 146h0M9 146h0M15 146h0M17 146h0M18 146h0M23 146h0M24 146h0M28 146h0M32 146h0M36 146h0M37 146h0M42 146h0M50 146h0M58 146h0M63 146h0M69 146h0M73 146h0M81 146h0M83 146h0M87 146h0M99 146h0M100 146h0M104 146h0M117 146h0M118 146h0M125 146h0M126 146h0M141 146h0M163 146h0M165 146h0M167 146h0M179 146h0M182 146h0M185 146h0M187 146h0M202 146h0M5 147h0M10 147h0M14 147h0M16 147h0M19 147h0M21 147h0M22 147h0M25 147h0M40 147h0M41 147h0M42 147h0M47 147h0M48 147h0M52 147h0M53 147h0M60 147h0M61 147h0M64 147h0M98 147h0M99 147h0M101 147h0M110 147h0M114 147h0M123 147h0M124 147h0M129 147h0M130 147h0M132 147h0M155 147h0M158 147h0M165 147h0M167 147h0M176 147h0M188 147h0M191 147h0M194 147h0M196 147h0M197 147h0M201 147h0M7 148h0M17 148h0M18 148h0M38 148h0M39 148h0M50 148h0M56 148h0M57 148h0M59 148h0M64 148h0M73 148h0M74 148h0M78 148h0M91 148h0M96 148h0M97 148h0M98 148h0M108 148h0M126 148h0M129 148h0M133 148h0M150 148h0M151 148h0M158 148h0M159 148h0M160 148h0M166 148h0M167 148h0M171 148h0M181 148h0M184 148h0M186 148h0M192 148h0M198 148h0M5 149h0M8 149h0M13 149h0M18 149h0M35 149h0M42 149h0M46 149h0M47 149h0M49 149h0M67 149h0M72 149h0M73 149h0M74 149h0M75 149h0M76 149h0M95 149h0M97 149h0M99 149h0M109 149h0M116 149h0M118 149h0M124 149h0M127 149h0M137 149h0M149 149h0M150 149h0M154 149h0M155 149h0M160 149h0M164 149h0M174 149h0M177 149h0M179 149h0M180 149h0M184 149h0M186 149h0M188 149h0M191 149h0M193 149h0M197 149h0M6 150h0M8 150h0M12 150h0M14 150h0M20 150h0M28 150h0M32 150h0M39 150h0M47 150h0M48 150h0M53 150h0M56 150h0M69 150h0M79 150h0M96 150h0M102 150h0M106 150h0M120 150h0M121 150h0M125 150h0M149 150h0M151 150h0M152 150h0M155 150h0M179 150h0M186 150h0M189 150h0M198 150h0M9 151h0M10 151h0M11 151h0M13 151h0M15 151h0M17 151h0M23 151h0M31 151h0M33 151h0M39 151h0M41 151h0M42 151h0M43 151h0M46 151h0M48 151h0M52 151h0M64 151h0M81 151h0M89 151h0M93 151h0M99 151h0M100 151h0M107 151h0M113 151h0M114 151h0M115 151h0M120 151h0M121 151h0M129 151h0M152 151h0M157 151h0M158 151h0M160 151h0M170 151h0M173 151h0M180 151h0M186 151h0M202 151h0M15 152h0M21 152h0M22 152h0M24 152h0M30 152h0M39 152h0M63 152h0M69 152h0M77 152h0M79 152h0M81 152h0M84 152h0M94 152h0M96 152h0M100 152h0M108 152h0M114 152h0M123 152h0M127 152h0M128 152h0M130 152h0M134 152h0M152 152h0M155 152h0M160 152h0M180 152h0M197 152h0M198 152h0M199 152h0M7 153h0M8 153h0M14 153h0M17 153h0M18 153h0M19 153h0M20 153h0M25 153h0M29 153h0M51 153h0M53 153h0M73 153h0M85 153h0M96 153h0M98 153h0M110 153h0M111 153h0M112 153h0M117 153h0M124 153h0M126 153h0M129 153h0M135 153h0M155 153h0M159 153h0M164 153h0M168 153h0M170 153h0M172 153h0M179 153h0M2 154h0M9 154h0M14 154h0M16 154h0M17 154h0M23 154h0M27 154h0M30 154h0M31 154h0M33 154h0M49 154h0M51 154h0M72 154h0M73 154h0M75 154h0M79 154h0M102 154h0M111 154h0M119 154h0M130 154h0M154 154h0M161 154h0M163 154h0M167 154h0M169 154h0M172 154h0M173 154h0M185 154h0M190 154h0M193 154h0M198 154h0M202 154h0M6 155h0M18 155h0M19 155h0M21 155h0M33 155h0M50 155h0M58 155h0M68 155h0M73 155h0M77 155h0M83 155h0M86 155h0M87 155h0M92 155h0M94 155h0M109 155h0M112 155h0M117 155h0M118 155h0M124 155h0M128 155h0M130 155h0M132 155h0M139 155h0M154 155h0M159 155h0M166 155h0M169 155h0M171 155h0M174 155h0M180 155h0M193 155h0M2 156h0M3 156h0M6 156h0M20 156h0M24 156h0M31 156h0M45 156h0M47 156h0M60 156h0M67 156h0M68 156h0M70 156h0M74 156h0M77 156h0M88 156h0M93 156h0M94 156h0M108 156h0M113 156h0M116 156h0M117 156h0M125 156h0M127 156h0M129 156h0M130 156h0M133 156h0M150 156h0M154 156h0M157 156h0M159 156h0M161 156h0M163 156h0M166 156h0M168 156h0M172 156h0M182 156h0M183 156h0M190 156h0M196 156h0M201 156h0M3 157h0M5 157h0M11 157h0M14 157h0M16 157h0M18 157h0M32 157h0M36 157h0M46 157h0M47 157h0M75 157h0M118 157h0M125 157h0M126 157h0M127 157h0M128 157h0M129 157h0M135 157h0M136 157h0M138 157h0M139 157h0M148 157h0M156 157h0M158 157h0M163 157h0M167 157h0M168 157h0M170 157h0M173 157h0M174 157h0M177 157h0M178 157h0M179 157h0M182 157h0M184 157h0M188 157h0M196 157h0M199 157h0M4 158h0M21 158h0M24 158h0M27 158h0M34 158h0M35 158h0M39 158h0M77 158h0M80 158h0M81 158h0M90 158h0M92 158h0M110 158h0M116 158h0M123 158h0M124 158h0M132 158h0M133 158h0M134 158h0M136 158h0M138 158h0M153 158h0M154 158h0M160 158h0M163 158h0M167 158h0M168 158h0M171 158h0M175 158h0M183 158h0M190 158h0M194 158h0M197 158h0M199 158h0M202 158h0M2 159h0M4 159h0M6 159h0M7 159h0M8 159h0M10 159h0M30 159h0M35 159h0M36 159h0M38 159h0M40 159h0M50 159h0M51 159h0M68 159h0M70 159h0M90 159h0M92 159h0M100 159h0M123 159h0M126 159h0M131 159h0M132 159h0M134 159h0M141 159h0M143 159h0M148 159h0M152 159h0M153 159h0M160 159h0M167 159h0M170 159h0M172 159h0M180 159h0M184 159h0M187 159h0M192 159h0M202 159h0M2 160h0M14 160h0M15 160h0M21 160h0M23 160h0M24 160h0M26 160h0M28 160h0M41 160h0M42 160h0M44 160h0M45 160h0M47 160h0M51 160h0M64 160h0M68 160h0M79 160h0M84 160h0M85 160h0M105 160h0M121 160h0M123 160h0M130 160h0M133 160h0M138 160h0M151 160h0M152 160h0M154 160h0M156 160h0M157 160h0M160 160h0M161 160h0M179 160h0M181 160h0M187 160h0M193 160h0M197 160h0M200 160h0M201 160h0M9 161h0M12 161h0M20 161h0M21 161h0M25 161h0M32 161h0M34 161h0M37 161h0M38 161h0M39 161h0M82 161h0M83 161h0M90 161h0M116 161h0M123 161h0M124 161h0M125 161h0M133 161h0M140 161h0M148 161h0M150 161h0M151 161h0M155 161h0M156 161h0M160 161h0M162 161h0M173 161h0M176 161h0M192 161h0M194 161h0M198 161h0M200 161h0M8 162h0M18 162h0M28 162h0M32 162h0M37 162h0M38 162h0M44 162h0M57 162h0M65 162h0M76 162h0M89 162h0M92 162h0M112 162h0M117 162h0M124 162h0M128 162h0M131 162h0M142 162h0M145 162h0M148 162h0M151 162h0M154 162h0M174 162h0M175 162h0M182 162h0M188 162h0M196 162h0M200 162h0M4 163h0M8 163h0M20 163h0M21 163h0M31 163h0M32 163h0M38 163h0M45 163h0M72 163h0M87 163h0M100 163h0M103 163h0M108 163h0M113 163h0M115 163h0M118 163h0M122 163h0M126 163h0M135 163h0M138 163h0M146 163h0M148 163h0M152 163h0M153 163h0M154 163h0M155 163h0M168 163h0M169 163h0M173 163h0M185 163h0M202 163h0M2 164h0M6 164h0M11 164h0M12 164h0M13 164h0M14 164h0M30 164h0M32 164h0M42 164h0M50 164h0M56 164h0M73 164h0M76 164h0M80 164h0M87 164h0M89 164h0M90 164h0M91 164h0M97 164h0M101 164h0M109 164h0M113 164h0M119 164h0M125 164h0M127 164h0M130 164h0M139 164h0M143 164h0M144 164h0M146 164h0M150 164h0M152 164h0M171 164h0M179 164h0M196 164h0M3 165h0M4 165h0M7 165h0M13 165h0M14 165h0M22 165h0M24 165h0M45 165h0M77 165h0M88 165h0M101 165h0M108 165h0M111 165h0M120 165h0M121 165h0M124 165h0M129 165h0M141 165h0M145 165h0M150 165h0M154 165h0M160 165h0M168 165h0M174 165h0M184 165h0M193 165h0M197 165h0M200 165h0M201 165h0M4 166h0M7 166h0M8 166h0M12 166h0M29 166h0M33 166h0M38 166h0M48 166h0M52 166h0M65 166h0M71 166h0M74 166h0M85 166h0M87 166h0M92 166h0M95 166h0M105 166h0M107 166h0M115 166h0M120 166h0M127 166h0M130 166h0M141 166h0M142 166h0M148 166h0M155 166h0M167 166h0M181 166h0M187 166h0M190 166h0M198 166h0M200 166h0M7 167h0M10 167h0M12 167h0M13 167h0M15 167h0M17 167h0M20 167h0M25 167h0M27 167h0M31 167h0M32 167h0M35 167h0M36 167h0M38 167h0M42 167h0M49 167h0M52 167h0M54 167h0M74 167h0M81 167h0M88 167h0M91 167h0M94 167h0M111 167h0M144 167h0M152 167h0M153 167h0M156 167h0M161 167h0M171 167h0M176 167h0M177 167h0M182 167h0M183 167h0M193 167h0M197 167h0M200 167h0M202 167h0M6 168h0M8 168h0M9 168h0M10 168h0M12 168h0M16 168h0M20 168h0M23 168h0M24 168h0M25 168h0M33 168h0M35 168h0M42 168h0M58 168h0M60 168h0M62 168h0M64 168h0M82 168h0M83 168h0M85 168h0M86 168h0M88 168h0M93 168h0M96 168h0M97 168h0M102 168h0M104 168h0M105 168h0M108 168h0M110 168h0M120 168h0M122 168h0M123 168h0M124 168h0M143 168h0M150 168h0M152 168h0M155 168h0M157 168h0M158 168h0M179 168h0M181 168h0M187 168h0M193 168h0M197 168h0M199 168h0M200 168h0M201 168h0M202 168h0M24 169h0M27 169h0M38 169h0M40 169h0M49 169h0M50 169h0M56 169h0M69 169h0M74 169h0M77 169h0M84 169h0M87 169h0M91 169h0M93 169h0M108 169h0M109 169h0M111 169h0M114 169h0M124 169h0M139 169h0M141 169h0M142 169h0M144 169h0M149 169h0M151 169h0M157 169h0M167 169h0M177 169h0M178 169h0M189 169h0M196 169h0M199 169h0M201 169h0M14 170h0M15 170h0M16 170h0M17 170h0M35 170h0M37 170h0M45 170h0M49 170h0M50 170h0M56 170h0M60 170h0M62 170h0M65 170h0M67 170h0M70 170h0M71 170h0M77 170h0M86 170h0M88 170h0M93 170h0M100 170h0M125 170h0M134 170h0M154 170h0M155 170h0M158 170h0M170 170h0M181 170h0M182 170h0M188 170h0M199 170h0M12 171h0M18 171h0M20 171h0M30 171h0M35 171h0M36 171h0M43 171h0M47 171h0M59 171h0M64 171h0M88 171h0M90 171h0M99 171h0M100 171h0M104 171h0M106 171h0M108 171h0M113 171h0M114 171h0M117 171h0M122 171h0M123 171h0M124 171h0M126 171h0M140 171h0M150 171h0M176 171h0M177 171h0M178 171h0M197 171h0M6 172h0M7 172h0M20 172h0M21 172h0M38 172h0M41 172h0M44 172h0M48 172h0M49 172h0M50 172h0M52 172h0M53 172h0M56 172h0M60 172h0M61 172h0M87 172h0M94 172h0M95 172h0M96 172h0M98 172h0M100 172h0M105 172h0M107 172h0M110 172h0M115 172h0M118 172h0M155 172h0M163 172h0M169 172h0M176 172h0M179 172h0M181 172h0M182 172h0M190 172h0M191 172h0M197 172h0M23 173h0M37 173h0M38 173h0M40 173h0M46 173h0M47 173h0M51 173h0M76 173h0M90 173h0M92 173h0M93 173h0M94 173h0M95 173h0M101 173h0M103 173h0M105 173h0M107 173h0M111 173h0M125 173h0M139 173h0M142 173h0M152 173h0M156 173h0M159 173h0M172 173h0M177 173h0M179 173h0M201 173h0M9 174h0M10 174h0M20 174h0M22 174h0M32 174h0M35 174h0M58 174h0M60 174h0M61 174h0M62 174h0M65 174h0M66 174h0M79 174h0M80 174h0M83 174h0M91 174h0M94 174h0M97 174h0M98 174h0M99 174h0M105 174h0M115 174h0M118 174h0M135 174h0M138 174h0M157 174h0M158 174h0M165 174h0M170 174h0M177 174h0M179 174h0M189 174h0M195 174h0M200 174h0M18 175h0M23 175h0M31 175h0M33 175h0M43 175h0M46 175h0M50 175h0M57 175h0M58 175h0M59 175h0M60 175h0M62 175h0M63 175h0M70 175h0M73 175h0M76 175h0M79 175h0M80 175h0M88 175h0M89 175h0M90 175h0M92 175h0M109 175h0M121 175h0M122 175h0M123 175h0M125 175h0M155 175h0M160 175h0M161 175h0M162 175h0M166 175h0M173 175h0M176 175h0M180 175h0M183 175h0M187 175h0M189 175h0M197 175h0M198 175h0M7 176h0M8 176h0M28 176h0M37 176h0M39 176h0M42 176h0M43 176h0M48 176h0M51 176h0M55 176h0M56 176h0M58 176h0M59 176h0M63 176h0M68 176h0M70 176h0M78 176h0M82 176h0M85 176h0M86 176h0M90 176h0M94 176h0M95 176h0M100 176h0M103 176h0M119 176h0M123 176h0M124 176h0M134 176h0M137 176h0M138 176h0M152 176h0M153 176h0M156 176h0M159 176h0M166 176h0M168 176h0M172 176h0M183 176h0M188 176h0M189 176h0M35 177h0M46 177h0M47 177h0M48 177h0M55 177h0M63 177h0M64 177h0M73 177h0M79 177h0M84 177h0M88 177h0M93 177h0M110 177h0M113 177h0M132 177h0M140 177h0M150 177h0M159 177h0M169 177h0M172 177h0M180 177h0M181 177h0M186 177h0M190 177h0M195 177h0M200 177h0M6 178h0M16 178h0M20 178h0M28 178h0M30 178h0M45 178h0M58 178h0M62 178h0M64 178h0M65 178h0M66 178h0M68 178h0M75 178h0M82 178h0M83 178h0M89 178h0M92 178h0M93 178h0M102 178h0M106 178h0M107 178h0M116 178h0M117 178h0M118 178h0M120 178h0M124 178h0M133 178h0M137 178h0M150 178h0M153 178h0M158 178h0M159 178h0M178 178h0M179 178h0M181 178h0M182 178h0M187 178h0M189 178h0M190 178h0M192 178h0M193 178h0M200 178h0M10 179h0M14 179h0M20 179h0M31 179h0M32 179h0M36 179h0M42 179h0M44 179h0M45 179h0M48 179h0M63 179h0M67 179h0M70 179h0M80 179h0M84 179h0M90 179h0M100 179h0M103 179h0M107 179h0M111 179h0M115 179h0M120 179h0M136 179h0M138 179h0M150 179h0M156 179h0M158 179h0M169 179h0M172 179h0M176 179h0M179 179h0M184 179h0M185 179h0M188 179h0M189 179h0M192 179h0M193 179h0M194 179h0M195 179h0M196 179h0M197 179h0M200 179h0M202 179h0M4 180h0M12 180h0M17 180h0M45 180h0M50 180h0M61 180h0M62 180h0M66 180h0M69 180h0M82 180h0M87 180h0M88 180h0M89 180h0M90 180h0M102 180h0M120 180h0M122 180h0M126 180h0M127 180h0M135 180h0M151 180h0M156 180h0M164 180h0M167 180h0M168 180h0M177 180h0M179 180h0M180 180h0M181 180h0M185 180h0M193 180h0M197 180h0M198 180h0M200 180h0M6 181h0M7 181h0M8 181h0M28 181h0M42 181h0M52 181h0M61 181h0M62 181h0M68 181h0M74 181h0M83 181h0M87 181h0M92 181h0M94 181h0M98 181h0M109 181h0M119 181h0M122 181h0M135 181h0M141 181h0M146 181h0M149 181h0M152 181h0M157 181h0M173 181h0M176 181h0M179 181h0M180 181h0M189 181h0M191 181h0M194 181h0M195 181h0M196 181h0M198 181h0M2 182h0M9 182h0M11 182h0M30 182h0M31 182h0M35 182h0M47 182h0M55 182h0M59 182h0M61 182h0M63 182h0M65 182h0M69 182h0M70 182h0M71 182h0M77 182h0M87 182h0M91 182h0M104 182h0M106 182h0M118 182h0M122 182h0M124 182h0M138 182h0M149 182h0M153 182h0M155 182h0M167 182h0M169 182h0M174 182h0M177 182h0M178 182h0M180 182h0M187 182h0M189 182h0M193 182h0M200 182h0M201 182h0M5 183h0M7 183h0M8 183h0M26 183h0M34 183h0M45 183h0M49 183h0M53 183h0M58 183h0M59 183h0M60 183h0M63 183h0M70 183h0M73 183h0M77 183h0M83 183h0M87 183h0M88 183h0M89 183h0M95 183h0M100 183h0M104 183h0M106 183h0M108 183h0M109 183h0M110 183h0M111 183h0M112 183h0M116 183h0M129 183h0M133 183h0M135 183h0M141 183h0M154 183h0M158 183h0M179 183h0M184 183h0M191 183h0M195 183h0M196 183h0M198 183h0M199 183h0M200 183h0M201 183h0M4 184h0M5 184h0M31 184h0M35 184h0M40 184h0M49 184h0M68 184h0M73 184h0M89 184h0M91 184h0M94 184h0M109 184h0M117 184h0M129 184h0M135 184h0M145 184h0M154 184h0M169 184h0M170 184h0M172 184h0M181 184h0M7 185h0M9 185h0M12 185h0M15 185h0M28 185h0M30 185h0M36 185h0M41 185h0M53 185h0M58 185h0M59 185h0M70 185h0M71 185h0M74 185h0M90 185h0M92 185h0M102 185h0M106 185h0M107 185h0M112 185h0M116 185h0M118 185h0M119 185h0M124 185h0M129 185h0M133 185h0M143 185h0M148 185h0M170 185h0M173 185h0M175 185h0M180 185h0M181 185h0M183 185h0M188 185h0M196 185h0M200 185h0M8 186h0M11 186h0M12 186h0M13 186h0M31 186h0M35 186h0M43 186h0M49 186h0M59 186h0M61 186h0M67 186h0M69 186h0M74 186h0M76 186h0M77 186h0M83 186h0M104 186h0M105 186h0M106 186h0M113 186h0M116 186h0M121 186h0M122 186h0M124 186h0M131 186h0M136 186h0M141 186h0M143 186h0M146 186h0M151 186h0M158 186h0M170 186h0M172 186h0M179 186h0M180 186h0M181 186h0M182 186h0M184 186h0M195 186h0M196 186h0M197 186h0M198 186h0M199 186h0M200 186h0M201 186h0M11 187h0M20 187h0M33 187h0M35 187h0M37 187h0M57 187h0M66 187h0M67 187h0M70 187h0M73 187h0M75 187h0M76 187h0M89 187h0M91 187h0M92 187h0M98 187h0M109 187h0M113 187h0M116 187h0M117 187h0M118 187h0M122 187h0M128 187h0M131 187h0M132 187h0M135 187h0M140 187h0M152 187h0M154 187h0M172 187h0M185 187h0M190 187h0M194 187h0M4 188h0M5 188h0M6 188h0M10 188h0M13 188h0M14 188h0M26 188h0M28 188h0M31 188h0M53 188h0M56 188h0M61 188h0M63 188h0M65 188h0M67 188h0M69 188h0M73 188h0M74 188h0M76 188h0M88 188h0M92 188h0M108 188h0M111 188h0M117 188h0M125 188h0M130 188h0M133 188h0M134 188h0M136 188h0M140 188h0M144 188h0M149 188h0M169 188h0M173 188h0M186 188h0M188 188h0M189 188h0M191 188h0M3 189h0M8 189h0M10 189h0M19 189h0M32 189h0M49 189h0M56 189h0M67 189h0M74 189h0M82 189h0M83 189h0M85 189h0M86 189h0M100 189h0M113 189h0M115 189h0M116 189h0M119 189h0M125 189h0M136 189h0M137 189h0M155 189h0M170 189h0M180 189h0M189 189h0M191 189h0M194 189h0M197 189h0M11 190h0M22 190h0M23 190h0M25 190h0M28 190h0M51 190h0M52 190h0M59 190h0M65 190h0M67 190h0M71 190h0M73 190h0M81 190h0M101 190h0M106 190h0M114 190h0M117 190h0M120 190h0M123 190h0M129 190h0M130 190h0M145 190h0M166 190h0M175 190h0M176 190h0M180 190h0M185 190h0M187 190h0M189 190h0M192 190h0M199 190h0M201 190h0M3 191h0M4 191h0M15 191h0M17 191h0M24 191h0M27 191h0M33 191h0M37 191h0M46 191h0M65 191h0M68 191h0M71 191h0M73 191h0M74 191h0M75 191h0M77 191h0M78 191h0M80 191h0M94 191h0M96 191h0M100 191h0M102 191h0M110 191h0M112 191h0M113 191h0M121 191h0M126 191h0M129 191h0M134 191h0M137 191h0M138 191h0M141 191h0M143 191h0M152 191h0M155 191h0M156 191h0M166 191h0M175 191h0M178 191h0M188 191h0M189 191h0M191 191h0M193 191h0M198 191h0M5 192h0M10 192h0M18 192h0M25 192h0M27 192h0M28 192h0M31 192h0M36 192h0M44 192h0M51 192h0M52 192h0M57 192h0M62 192h0M63 192h0M65 192h0M73 192h0M79 192h0M97 192h0M102 192h0M103 192h0M104 192h0M105 192h0M113 192h0M116 192h0M119 192h0M124 192h0M130 192h0M132 192h0M143 192h0M145 192h0M147 192h0M148 192h0M156 192h0M157 192h0M166 192h0M175 192h0M177 192h0M183 192h0M185 192h0M191 192h0M193 192h0M196 192h0M3 193h0M7 193h0M17 193h0M25 193h0M26 193h0M30 193h0M40 193h0M45 193h0M46 193h0M54 193h0M63 193h0M66 193h0M68 193h0M73 193h0M79 193h0M82 193h0M85 193h0M88 193h0M93 193h0M96 193h0M97 193h0M105 193h0M107 193h0M111 193h0M113 193h0M118 193h0M120 193h0M122 193h0M123 193h0M132 193h0M137 193h0M140 193h0M144 193h0M149 193h0M153 193h0M162 193h0M186 193h0M187 193h0M188 193h0M195 193h0M198 193h0M199 193h0M6 194h0M15 194h0M16 194h0M18 194h0M21 194h0M22 194h0M23 194h0M28 194h0M45 194h0M48 194h0M50 194h0M51 194h0M54 194h0M57 194h0M60 194h0M63 194h0M64 194h0M69 194h0M70 194h0M72 194h0M77 194h0M80 194h0M83 194h0M88 194h0M89 194h0M94 194h0M103 194h0M104 194h0M111 194h0M116 194h0M118 194h0M128 194h0M135 194h0M139 194h0M142 194h0M151 194h0M156 194h0M160 194h0M161 194h0M162 194h0M166 194h0M172 194h0M177 194h0M184 194h0M186 194h0M188 194h0M202 194h0M15 195h0M23 195h0M25 195h0M26 195h0M29 195h0M31 195h0M38 195h0M40 195h0M41 195h0M48 195h0M53 195h0M60 195h0M62 195h0M64 195h0M68 195h0M73 195h0M79 195h0M82 195h0M89 195h0M91 195h0M95 195h0M96 195h0M98 195h0M100 195h0M102 195h0M104 195h0M105 195h0M114 195h0M117 195h0M120 195h0M121 195h0M126 195h0M127 195h0M129 195h0M132 195h0M140 195h0M152 195h0M166 195h0M167 195h0M168 195h0M170 195h0M174 195h0M178 195h0M180 195h0M184 195h0M188 195h0M191 195h0M199 195h0M5 196h0M24 196h0M29 196h0M31 196h0M36 196h0M37 196h0M38 196h0M51 196h0M53 196h0M58 196h0M69 196h0M70 196h0M71 196h0M75 196h0M85 196h0M94 196h0M96 196h0M99 196h0M103 196h0M104 196h0M106 196h0M108 196h0M110 196h0M122 196h0M124 196h0M135 196h0M144 196h0M146 196h0M156 196h0M165 196h0M166 196h0M171 196h0M173 196h0M175 196h0M176 196h0M177 196h0M179 196h0M183 196h0M187 196h0M190 196h0M197 196h0M7 197h0M16 197h0M17 197h0M20 197h0M23 197h0M24 197h0M29 197h0M30 197h0M35 197h0M37 197h0M42 197h0M46 197h0M49 197h0M50 197h0M57 197h0M61 197h0M65 197h0M72 197h0M76 197h0M83 197h0M88 197h0M89 197h0M92 197h0M99 197h0M103 197h0M104 197h0M106 197h0M107 197h0M109 197h0M111 197h0M130 197h0M132 197h0M133 197h0M135 197h0M139 197h0M144 197h0M153 197h0M159 197h0M161 197h0M165 197h0M168 197h0M174 197h0M178 197h0M180 197h0M183 197h0M187 197h0M188 197h0M189 197h0M193 197h0M2 198h0M3 198h0M7 198h0M30 198h0M35 198h0M55 198h0M62 198h0M82 198h0M93 198h0M94 198h0M98 198h0M105 198h0M111 198h0M122 198h0M125 198h0M126 198h0M128 198h0M131 198h0M135 198h0M155 198h0M159 198h0M170 198h0M175 198h0M179 198h0M182 198h0M186 198h0M189 198h0M192 198h0M200 198h0M3 199h0M9 199h0M17 199h0M20 199h0M32 199h0M35 199h0M37 199h0M40 199h0M43 199h0M58 199h0M60 199h0M63 199h0M65 199h0M66 199h0M67 199h0M97 199h0M102 199h0M116 199h0M117 199h0M120 199h0M125 199h0M127 199h0M128 199h0M132 199h0M134 199h0M151 199h0M159 199h0M161 199h0M165 199h0M168 199h0M169 199h0M171 199h0M182 199h0M184 199h0M187 199h0M189 199h0M2 200h0M16 200h0M19 200h0M31 200h0M69 200h0M92 200h0M95 200h0M102 200h0M105 200h0M115 200h0M121 200h0M122 200h0M129 200h0M131 200h0M135 200h0M148 200h0M153 200h0M159 200h0M169 200h0M199 200h0"/>
</g>
<g transform="translate(463.5,172.6) scale(0.5)">
<path stroke="#1a6aae" stroke-width="2.2" stroke-linecap="square" d="M112 2h0M114 2h0M133 2h0M134 2h0M135 2h0M106 3h0M107 3h0M111 3h0M110 4h0M111 4h0M115 4h0M116 4h0M131 4h0M148 4h0M160 4h0M136 5h0M147 5h0M148 5h0M149 5h0M151 5h0M114 6h0M129 6h0M146 6h0M133 7h0M144 7h0M147 7h0M148 7h0M167 7h0M197 7h0M115 8h0M139 8h0M153 8h0M154 8h0M155 8h0M158 8h0M189 8h0M195 8h0M157 9h0M166 9h0M138 10h0M153 10h0M161 10h0M188 10h0M196 10h0M187 11h0M119 12h0M127 12h0M129 12h0M117 13h0M134 13h0M155 13h0M132 14h0M144 14h0M195 14h0M198 14h0M137 15h0M157 15h0M199 15h0M156 16h0M187 16h0M194 16h0M155 17h0M157 17h0M190 17h0M197 17h0M200 17h0M155 18h0M191 18h0M196 18h0M153 19h0M153 20h0M190 20h0M193 20h0M195 20h0M197 20h0M199 21h0M149 22h0M151 22h0M152 22h0M189 22h0M199 22h0M133 23h0M185 23h0M145 24h0M188 24h0M193 24h0M126 25h0M148 25h0M185 25h0M124 26h0M132 27h0M196 27h0M197 27h0M201 27h0M196 28h0M15 29h0M152 29h0M153 29h0M190 29h0M197 29h0M132 30h0M150 30h0M189 30h0M191 30h0M2 31h0M17 31h0M147 31h0M198 31h0M202 31h0M195 33h0M198 33h0M156 34h0M187 34h0M189 34h0M190 34h0M192 34h0M194 34h0M195 34h0M153 35h0M115 36h0M197 36h0M85 37h0M116 37h0M193 37h0M195 37h0M89 38h0M182 38h0M198 38h0M152 39h0M76 40h0M91 41h0M77 42h0M93 42h0M155 42h0M71 43h0M75 43h0M90 43h0M104 43h0M105 44h0M74 45h0M80 45h0M76 46h0M81 46h0M79 47h0M83 48h0M85 48h0M90 48h0M92 48h0M106 48h0M72 49h0M73 49h0M88 49h0M90 49h0M98 49h0M101 49h0M80 50h0M82 50h0M84 50h0M97 50h0M192 50h0M78 51h0M86 51h0M199 51h0M75 52h0M82 52h0M85 52h0M90 52h0M101 53h0M73 54h0M80 54h0M100 54h0M198 54h0M82 55h0M195 55h0M189 56h0M191 56h0M99 57h0M192 57h0M202 58h0M201 59h0M82 60h0M89 60h0M100 60h0M72 61h0M88 61h0M91 61h0M86 62h0M102 63h0M201 63h0M89 65h0M90 65h0M197 65h0M99 67h0M132 67h0M132 69h0M140 69h0M192 69h0M76 70h0M97 70h0M127 70h0M134 70h0M137 71h0M179 71h0M193 71h0M83 72h0M132 72h0M187 72h0M137 73h0M202 73h0M130 74h0M133 74h0M136 74h0M179 74h0M196 74h0M80 75h0M136 75h0M179 75h0M133 76h0M184 76h0M138 77h0M192 78h0M159 79h0M154 80h0M166 80h0M168 81h0M163 82h0M167 82h0M150 83h0M153 83h0M157 84h0M179 84h0M91 85h0M148 85h0M168 85h0M170 85h0M174 85h0M132 86h0M158 86h0M166 86h0M169 86h0M171 86h0M173 86h0M178 86h0M85 87h0M88 87h0M168 87h0M180 87h0M171 88h0M179 88h0M165 89h0M170 89h0M86 90h0M139 90h0M174 90h0M178 90h0M140 91h0M171 91h0M173 91h0M178 91h0M190 91h0M135 93h0M166 93h0M173 94h0M189 96h0M146 97h0M153 97h0M147 98h0M148 98h0M153 98h0M147 99h0M149 99h0M150 99h0M153 99h0M176 99h0M179 99h0M150 100h0M177 100h0M178 100h0M136 101h0M137 101h0M180 102h0M76 103h0M178 103h0M182 103h0M194 103h0M195 103h0M72 104h0M110 104h0M147 104h0M150 104h0M181 104h0M198 104h0M157 105h0M202 105h0M71 106h0M138 106h0M94 107h0M104 107h0M124 107h0M194 107h0M199 107h0M196 108h0M197 108h0M201 108h0M109 109h0M146 109h0M96 110h0M104 110h0M106 110h0M107 110h0M127 110h0M142 112h0M139 114h0M143 114h0M198 114h0M97 115h0M101 116h0M141 116h0M153 116h0M165 116h0M98 117h0M129 117h0M90 118h0M92 118h0M138 118h0M154 118h0M157 118h0M202 118h0M133 119h0M201 119h0M140 120h0M149 120h0M151 120h0M137 121h0M158 121h0M91 122h0M133 122h0M157 122h0M202 122h0M143 123h0M144 123h0M153 123h0M65 124h0M145 124h0M167 124h0M130 125h0M161 125h0M168 125h0M169 125h0M68 126h0M153 126h0M161 126h0M165 126h0M127 127h0M150 127h0M167 127h0M131 128h0M150 128h0M157 128h0M161 128h0M166 128h0M87 129h0M88 129h0M132 129h0M90 130h0M92 130h0M123 130h0M137 130h0M71 131h0M143 131h0M149 131h0M156 131h0M86 132h0M131 132h0M140 132h0M150 132h0M155 132h0M90 133h0M147 133h0M150 133h0M154 133h0M68 134h0M85 134h0M138 134h0M141 134h0M144 134h0M149 134h0M150 134h0M71 135h0M84 135h0M130 135h0M146 135h0M150 135h0M151 135h0M160 135h0M86 136h0M114 136h0M144 136h0M85 137h0M121 137h0M127 137h0M144 137h0M153 137h0M154 137h0M129 138h0M137 138h0M153 138h0M54 139h0M58 139h0M126 139h0M129 139h0M153 139h0M43 140h0M128 140h0M136 140h0M139 140h0M147 140h0M152 140h0M117 141h0M119 141h0M120 141h0M137 141h0M150 141h0M154 141h0M155 141h0M157 141h0M153 142h0M157 142h0M39 143h0M119 143h0M146 143h0M149 143h0M150 143h0M46 144h0M48 144h0M145 144h0M149 144h0M150 144h0M154 144h0M163 144h0M169 144h0M40 145h0M48 145h0M149 145h0M150 145h0M40 146h0M147 146h0M149 146h0M153 146h0M169 146h0M40 147h0M41 147h0M42 147h0M43 147h0M144 147h0M149 147h0M151 147h0M152 147h0M167 147h0M175 147h0M43 148h0M44 148h0M48 148h0M146 148h0M151 148h0M159 148h0M54 149h0M55 149h0M146 149h0M151 149h0M156 149h0M181 149h0M141 150h0M148 150h0M164 150h0M166 150h0M169 150h0M57 151h0M127 151h0M129 151h0M145 151h0M153 151h0M158 151h0M48 152h0M49 152h0M53 152h0M61 152h0M146 152h0M147 152h0M150 152h0M174 152h0M43 153h0M59 153h0M62 153h0M125 153h0M126 153h0M134 153h0M143 153h0M146 153h0M151 153h0M154 153h0M174 153h0M49 154h0M63 154h0M66 154h0M147 154h0M148 154h0M168 154h0M60 155h0M141 155h0M143 155h0M146 155h0M159 155h0M44 156h0M48 156h0M54 156h0M58 156h0M129 156h0M138 156h0M149 156h0M182 156h0M187 156h0M56 157h0M57 157h0M110 157h0M144 157h0M168 157h0M50 158h0M56 158h0M57 158h0M59 158h0M110 158h0M136 158h0M57 159h0M67 159h0M134 159h0M149 159h0M155 159h0M46 160h0M52 160h0M56 160h0M57 160h0M131 160h0M55 161h0M59 161h0M61 161h0M147 161h0M133 162h0M172 162h0M56 163h0M61 163h0M62 163h0M126 163h0M135 163h0M178 163h0M64 164h0M132 164h0M185 164h0M187 164h0M63 165h0M64 165h0M130 165h0M151 165h0M155 165h0M161 165h0M170 165h0M180 165h0M185 165h0M172 166h0M175 166h0M62 167h0M130 167h0M144 167h0M145 167h0M148 167h0M150 168h0M156 168h0M187 168h0M62 169h0M149 169h0M150 169h0M151 169h0M153 169h0M170 169h0M126 170h0M147 170h0M144 171h0M148 171h0M151 171h0M168 171h0M171 171h0M175 171h0M143 172h0M148 172h0M153 172h0M38 173h0M135 173h0M155 173h0M170 173h0M198 173h0M199 173h0M42 174h0M125 174h0M175 174h0M184 174h0M198 174h0M200 174h0M121 175h0M146 175h0M148 175h0M197 175h0M201 175h0M131 176h0M139 176h0M144 176h0M151 176h0M158 176h0M166 176h0M172 176h0M178 176h0M179 176h0M192 176h0M126 177h0M148 177h0M153 177h0M156 177h0M168 177h0M177 177h0M185 177h0M122 178h0M139 178h0M150 178h0M152 178h0M155 178h0M161 178h0M166 178h0M172 178h0M177 178h0M145 179h0M148 179h0M151 179h0M153 179h0M174 179h0M180 179h0M199 179h0M44 180h0M125 180h0M126 180h0M127 180h0M164 180h0M169 180h0M127 181h0M130 181h0M136 181h0M137 181h0M144 181h0M149 181h0M152 181h0M158 181h0M178 181h0M34 182h0M137 182h0M152 182h0M155 182h0M158 182h0M160 182h0M165 182h0M170 182h0M175 182h0M176 182h0M182 182h0M40 183h0M61 183h0M121 183h0M143 183h0M149 183h0M151 183h0M159 183h0M173 183h0M180 183h0M28 184h0M33 184h0M38 184h0M47 184h0M169 184h0M194 184h0M30 185h0M34 185h0M35 185h0M37 185h0M41 185h0M59 185h0M142 185h0M146 185h0M151 185h0M155 185h0M158 185h0M159 185h0M175 185h0M177 185h0M178 185h0M179 185h0M34 186h0M35 186h0M57 186h0M125 186h0M143 186h0M153 186h0M154 186h0M157 186h0M170 186h0M39 187h0M126 187h0M144 187h0M155 187h0M175 187h0M182 187h0M40 188h0M43 188h0M127 188h0M143 188h0M145 188h0M153 188h0M169 188h0M170 188h0M176 188h0M32 189h0M38 189h0M125 189h0M133 189h0M136 189h0M155 189h0M43 190h0M44 190h0M128 190h0M134 190h0M137 190h0M156 190h0M178 190h0M184 190h0M34 191h0M143 191h0M146 191h0M148 191h0M157 191h0M170 191h0M192 191h0M36 192h0M154 192h0M171 192h0M37 193h0M136 193h0M169 193h0M33 194h0M153 194h0M166 194h0M168 194h0M38 195h0M132 195h0M169 195h0M170 196h0M171 196h0M133 197h0"/>
</g>
<g transform="translate(582.5,172.6) scale(0.5)">
<path stroke="#b5bd61" stroke-width="2.2" stroke-linecap="square" d="M112 2h0M134 2h0M106 3h0M111 3h0M110 4h0M115 4h0M116 4h0M148 4h0M151 5h0M146 6h0M144 7h0M197 7h0M115 8h0M153 8h0M154 8h0M155 8h0M158 8h0M189 8h0M195 8h0M157 9h0M138 10h0M153 10h0M161 10h0M196 10h0M187 11h0M155 13h0M132 14h0M144 14h0M195 14h0M137 15h0M157 15h0M156 16h0M187 16h0M155 17h0M157 17h0M190 17h0M200 17h0M155 18h0M153 19h0M153 20h0M190 20h0M193 20h0M195 20h0M199 22h0M185 23h0M193 24h0M185 25h0M196 27h0M197 27h0M15 29h0M197 29h0M150 30h0M189 30h0M198 31h0M192 34h0M115 36h0M85 37h0M116 37h0M89 38h0M182 38h0M198 38h0M152 39h0M91 41h0M90 43h0M80 45h0M76 46h0M83 48h0M92 48h0M72 49h0M73 49h0M88 49h0M90 49h0M101 49h0M82 50h0M84 50h0M78 51h0M86 51h0M85 52h0M80 54h0M100 54h0M82 55h0M195 55h0M189 56h0M88 61h0M193 71h0M132 72h0M130 74h0M133 74h0M196 74h0M80 75h0M179 75h0M159 79h0M168 81h0M179 84h0M91 85h0M170 85h0M166 86h0M169 86h0M173 86h0M178 86h0M88 87h0M168 87h0M139 90h0M178 90h0M140 91h0M171 91h0M178 91h0M135 93h0M166 93h0M189 96h0M147 98h0M148 98h0M153 98h0M147 99h0M149 99h0M153 99h0M180 102h0M182 103h0M110 104h0M181 104h0M198 104h0M157 105h0M94 107h0M196 108h0M106 110h0M107 110h0M139 114h0M141 116h0M98 117h0M90 118h0M154 118h0M157 118h0M133 119h0M137 121h0M91 122h0M202 122h0M145 124h0M167 124h0M130 125h0M168 125h0M169 125h0M68 126h0M161 126h0M165 126h0M150 127h0M167 127h0M150 128h0M157 128h0M132 129h0M71 131h0M143 131h0M149 131h0M150 133h0M154 133h0M141 134h0M71 135h0M130 135h0M150 135h0M151 135h0M160 135h0M114 136h0M85 137h0M144 137h0M153 137h0M137 138h0M153 138h0M54 139h0M58 139h0M129 139h0M43 140h0M128 140h0M136 140h0M152 140h0M154 141h0M157 141h0M153 142h0M157 142h0M119 143h0M46 144h0M48 144h0M149 144h0M163 144h0M169 144h0M40 145h0M48 145h0M149 146h0M41 147h0M144 147h0M175 147h0M43 148h0M48 148h0M146 148h0M54 149h0M55 149h0M151 149h0M156 149h0M145 151h0M153 151h0M158 151h0M48 152h0M49 152h0M61 152h0M43 153h0M174 153h0M49 154h0M66 154h0M168 154h0M159 155h0M48 156h0M129 156h0M187 156h0M57 157h0M144 157h0M168 157h0M136 158h0M57 159h0M67 159h0M134 159h0M155 159h0M46 160h0M52 160h0M57 160h0M131 160h0M61 161h0M147 161h0M56 163h0M61 163h0M62 163h0M64 164h0M187 164h0M63 165h0M64 165h0M151 165h0M155 165h0M161 165h0M185 165h0M144 167h0M145 167h0M150 168h0M156 168h0M62 169h0M149 169h0M170 169h0M144 171h0M38 173h0M135 173h0M155 173h0M170 173h0M198 173h0M199 173h0M42 174h0M125 174h0M200 174h0M121 175h0M146 175h0M197 175h0M131 176h0M139 176h0M178 176h0M179 176h0M168 177h0M122 178h0M166 178h0M177 178h0M153 179h0M174 179h0M44 180h0M125 180h0M127 180h0M127 181h0M130 181h0M152 181h0M137 182h0M152 182h0M155 182h0M182 182h0M40 183h0M143 183h0M159 183h0M173 183h0M28 184h0M38 184h0M194 184h0M59 185h0M151 185h0M177 185h0M34 186h0M57 186h0M143 186h0M153 186h0M157 186h0M126 187h0M144 187h0M40 188h0M143 188h0M153 188h0M169 188h0M38 189h0M133 189h0M44 190h0M128 190h0M156 190h0M143 191h0M146 191h0M192 191h0M169 193h0M132 195h0M170 196h0M171 196h0M133 197h0"/>
</g>
<g transform="translate(582.5,172.6) scale(0.5)">
<path stroke="#d62728" stroke-width="2.2" stroke-linecap="square" d="M114 2h0M135 2h0M133 7h0M119 12h0M149 22h0M145 24h0M132 27h0M195 33h0M193 37h0M97 50h0M192 50h0M82 52h0M191 56h0M99 57h0M192 57h0M100 60h0M99 67h0M179 71h0M85 87h0M165 89h0M86 90h0M146 97h0M150 100h0M147 104h0M138 106h0M199 107h0M196 108h0M165 116h0M158 121h0M133 122h0M127 127h0M131 128h0M87 129h0M131 132h0M84 135h0M86 136h0M129 138h0M147 140h0M146 143h0M169 146h0M63 154h0M54 156h0M149 156h0M170 165h0M147 170h0M175 174h0M166 176h0M161 178h0M172 178h0M158 185h0M125 189h0M154 192h0"/>
</g>
<g transform="translate(582.5,172.6) scale(0.5)">
<path stroke="#ff7f0e" stroke-width="2.2" stroke-linecap="square" d="M139 8h0M198 14h0M194 16h0M197 20h0M189 22h0M133 23h0M126 25h0M132 30h0M195 37h0M104 43h0M72 61h0M133 76h0M179 99h0M76 103h0M194 103h0M71 106h0M197 108h0M129 117h0M161 128h0M156 131h0M137 141h0M151 148h0M146 152h0M174 152h0M146 153h0M154 153h0M143 155h0M130 165h0M145 179h0M126 180h0M169 180h0M158 181h0M170 182h0M121 183h0M47 184h0M30 185h0M146 185h0M159 185h0M179 185h0M136 189h0M155 189h0M43 190h0M34 191h0M37 193h0M33 194h0"/>
</g>
<g transform="translate(582.5,172.6) scale(0.5)">
<path stroke="#e377c2" stroke-width="2.2" stroke-linecap="square" d="M190 29h0M191 30h0M202 31h0M197 36h0M75 52h0M140 69h0M97 70h0M181 149h0M171 171h0M175 174h0M139 178h0M33 184h0M35 185h0M37 185h0M148 191h0"/>
</g>
<g transform="translate(582.5,172.6) scale(0.5)">
<path stroke="#c5b0d5" stroke-width="2.2" stroke-linecap="square" d="M196 18h0M76 40h0M134 70h0M137 73h0M150 83h0M177 100h0M178 100h0M150 104h0M104 107h0M109 109h0M92 130h0M150 132h0M147 133h0M138 134h0M149 134h0M126 139h0M139 140h0M150 144h0M154 144h0M147 152h0M57 158h0M132 164h0M172 166h0M62 167h0M148 177h0M153 177h0M156 177h0M155 178h0M151 179h0M180 179h0M180 183h0M176 188h0M178 190h0M153 194h0M38 195h0"/>
</g>
<g transform="translate(582.5,172.6) scale(0.5)">
<path stroke="#17becf" stroke-width="2.2" stroke-linecap="square" d="M156 34h0M153 35h0M77 42h0M106 48h0M101 53h0M201 63h0M136 74h0M192 78h0M171 86h0M170 89h0M173 91h0M88 129h0M155 132h0M53 152h0M110 158h0M150 169h0M153 172h0M149 183h0M178 185h0"/>
</g>
<g transform="translate(582.5,172.6) scale(0.5)">
<path stroke="#ffbb78" stroke-width="2.2" stroke-linecap="square" d="M133 2h0M129 6h0M127 12h0M148 25h0M124 26h0M153 29h0M187 34h0M202 58h0M201 59h0M89 60h0M132 67h0M184 76h0M150 99h0M146 109h0M142 112h0M151 120h0M157 122h0M153 123h0M140 132h0M153 139h0M149 145h0M152 147h0M141 150h0M129 151h0M147 154h0M56 157h0M59 158h0M178 163h0M155 165h0M180 165h0M175 171h0M177 177h0M165 182h0M41 185h0M142 185h0M155 187h0M32 189h0"/>
</g>
<g transform="translate(582.5,172.6) scale(0.5)">
<path stroke="#aa40fc" stroke-width="2.2" stroke-linecap="square" d="M98 49h0M178 103h0M121 137h0M175 166h0"/>
</g>
<g transform="translate(582.5,172.6) scale(0.5)">
<path stroke="#aec7e8" stroke-width="2.2" stroke-linecap="square" d="M199 15h0M150 134h0M149 145h0M150 145h0M40 146h0M159 148h0M150 152h0M185 164h0M168 171h0M198 174h0M151 176h0M152 178h0M148 179h0"/>
</g>
<rect x="219.5" y="34.3" width="102" height="101" fill="none" stroke="#554b4b" stroke-width="1"/>
<rect x="338.5" y="34.3" width="102" height="101" fill="none" stroke="#554b4b" stroke-width="1"/>
<rect x="463.4" y="34.3" width="102" height="101" fill="none" stroke="#554b4b" stroke-width="1"/>
<rect x="582.4" y="34.3" width="102" height="101" fill="none" stroke="#554b4b" stroke-width="1"/>
<rect x="463.5" y="172.6" width="102" height="100.4" fill="none" stroke="#554b4b" stroke-width="1"/>
<rect x="582.5" y="172.6" width="102" height="100.4" fill="none" stroke="#554b4b" stroke-width="1"/>
<text x="229.5" y="163.1" stroke="#231f20">Cell types</text>
<rect x="229.3" y="170.5" width="8.3" height="8.2" fill="#1f77b4" stroke="#463d3d" stroke-width="0.9"/>
<text x="241.6" y="177.7" stroke="#231f20">B</text>
<rect x="229.3" y="183.25" width="8.3" height="8.2" fill="#ff7f0e" stroke="#463d3d" stroke-width="0.9"/>
<text x="241.6" y="190.45" stroke="#231f20">CD3 T</text>
<rect x="229.3" y="196" width="8.3" height="8.2" fill="#279e68" stroke="#463d3d" stroke-width="0.9"/>
<text x="241.6" y="203.2" stroke="#231f20">CD4 T</text>
<rect x="229.3" y="208.75" width="8.3" height="8.2" fill="#d62728" stroke="#463d3d" stroke-width="0.9"/>
<text x="241.6" y="215.95" stroke="#231f20">CD8 T</text>
<rect x="229.3" y="221.5" width="8.3" height="8.2" fill="#aa40fc" stroke="#463d3d" stroke-width="0.9"/>
<text x="241.6" y="228.7" stroke="#231f20">DC</text>
<rect x="229.3" y="234.25" width="8.3" height="8.2" fill="#8c564b" stroke="#463d3d" stroke-width="0.9"/>
<text x="241.6" y="241.45" stroke="#231f20">DC/Mono</text>
<rect x="229.3" y="247" width="8.3" height="8.2" fill="#e377c2" stroke="#463d3d" stroke-width="0.9"/>
<text x="241.6" y="254.2" stroke="#231f20">Endothelial</text>
<rect x="229.3" y="259.75" width="8.3" height="8.2" fill="#b5bd61" stroke="#463d3d" stroke-width="0.9"/>
<text x="241.6" y="266.95" stroke="#231f20">Keratin<tspan font-size="4.6" dy="-2.6">+</tspan><tspan dy="2.6"> tumor</tspan></text>
<rect x="302.3" y="170.5" width="8.3" height="8.2" fill="#17becf" stroke="#463d3d" stroke-width="0.9"/>
<text x="314.6" y="177.7" stroke="#231f20">Macrophages</text>
<rect x="302.3" y="183.25" width="8.3" height="8.2" fill="#aec7e8" stroke="#463d3d" stroke-width="0.9"/>
<text x="314.6" y="190.45" stroke="#231f20">Mesenchymal-like</text>
<rect x="302.3" y="196" width="8.3" height="8.2" fill="#ffbb78" stroke="#463d3d" stroke-width="0.9"/>
<text x="314.6" y="203.2" stroke="#231f20">Mono/Neu</text>
<rect x="302.3" y="208.75" width="8.3" height="8.2" fill="#98df8a" stroke="#463d3d" stroke-width="0.9"/>
<text x="314.6" y="215.95" stroke="#231f20">NK</text>
<rect x="302.3" y="221.5" width="8.3" height="8.2" fill="#ff9896" stroke="#463d3d" stroke-width="0.9"/>
<text x="314.6" y="228.7" stroke="#231f20">Neutrophils</text>
<rect x="302.3" y="234.25" width="8.3" height="8.2" fill="#c5b0d5" stroke="#463d3d" stroke-width="0.9"/>
<text x="314.6" y="241.45" stroke="#231f20">Other immune</text>
<rect x="302.3" y="247" width="8.3" height="8.2" fill="#c49c94" stroke="#463d3d" stroke-width="0.9"/>
<text x="314.6" y="254.2" stroke="#231f20">Tregs</text>
<rect x="302.3" y="259.75" width="8.3" height="8.2" fill="#f7b6d2" stroke="#463d3d" stroke-width="0.9"/>
<text x="314.6" y="266.95" stroke="#231f20">Tumor</text>
<text x="395.2" y="163.1" stroke="#231f20">Niches</text>
<rect x="395.1" y="170.5" width="8.3" height="8.2" fill="#e48db0" stroke="#463d3d" stroke-width="0.9"/>
<text x="407.3" y="177.7" stroke="#231f20">9</text>
<rect x="395.1" y="183.3" width="8.3" height="8.2" fill="#f08516" stroke="#463d3d" stroke-width="0.9"/>
<text x="407.3" y="190.5" stroke="#231f20">3</text>
<rect x="395.1" y="196.1" width="8.3" height="8.2" fill="#0b65a8" stroke="#463d3d" stroke-width="0.9"/>
<text x="407.3" y="203.3" stroke="#231f20">10</text>
<rect x="395.1" y="208.9" width="8.3" height="8.2" fill="#dcdcdc" stroke="#463d3d" stroke-width="0.9"/>
<text x="407.3" y="216.1" stroke="#231f20">Others</text>
<text x="0" y="290.5" font-size="10" stroke="#231f20" font-weight="bold">c</text>
<line x1="48.5" y1="389.33" x2="48.5" y2="395.42" stroke="#554b4b" stroke-width="1"/>
<line x1="48.5" y1="416.76" x2="48.5" y2="412.25" stroke="#554b4b" stroke-width="1"/>
<line x1="45.15" y1="389.33" x2="51.45" y2="389.33" stroke="#554b4b" stroke-width="0.9"/>
<line x1="45.15" y1="416.76" x2="51.45" y2="416.76" stroke="#554b4b" stroke-width="0.9"/>
<rect x="42" y="395.42" width="12.6" height="16.82" fill="#ad1840" stroke="#554b4b" stroke-width="0.9"/>
<line x1="42" y1="411.76" x2="54.6" y2="411.76" stroke="#554b4b" stroke-width="0.9"/>
<line x1="63.5" y1="390.43" x2="63.5" y2="399.45" stroke="#554b4b" stroke-width="1"/>
<line x1="63.5" y1="414.93" x2="63.5" y2="407.13" stroke="#554b4b" stroke-width="1"/>
<line x1="60.75" y1="390.43" x2="67.05" y2="390.43" stroke="#554b4b" stroke-width="0.9"/>
<line x1="60.75" y1="414.93" x2="67.05" y2="414.93" stroke="#554b4b" stroke-width="0.9"/>
<rect x="57.6" y="399.45" width="12.6" height="7.68" fill="#f3ab93" stroke="#554b4b" stroke-width="0.9"/>
<line x1="57.6" y1="403.1" x2="70.2" y2="403.1" stroke="#554b4b" stroke-width="0.9"/>
<circle cx="48.6" cy="389" r="1.9" fill="#cf0b33" stroke="#5c0a1a" stroke-width="0.55"/>
<circle cx="48.6" cy="392" r="1.9" fill="#cf0b33" stroke="#5c0a1a" stroke-width="0.55"/>
<circle cx="47.6" cy="397.7" r="1.9" fill="#cf0b33" stroke="#5c0a1a" stroke-width="0.55"/>
<circle cx="48.6" cy="410.5" r="1.9" fill="#cf0b33" stroke="#5c0a1a" stroke-width="0.55"/>
<circle cx="49.6" cy="414.5" r="1.9" fill="#cf0b33" stroke="#5c0a1a" stroke-width="0.55"/>
<circle cx="47.6" cy="416.8" r="1.9" fill="#cf0b33" stroke="#5c0a1a" stroke-width="0.55"/>
<circle cx="62.9" cy="390.5" r="1.9" fill="#f9a07d" stroke="#9b5a44" stroke-width="0.55"/>
<circle cx="62.9" cy="394.2" r="1.9" fill="#f9a07d" stroke="#9b5a44" stroke-width="0.55"/>
<circle cx="60.9" cy="399.5" r="1.9" fill="#f9a07d" stroke="#9b5a44" stroke-width="0.55"/>
<circle cx="63.1" cy="401.5" r="1.9" fill="#f9a07d" stroke="#9b5a44" stroke-width="0.55"/>
<circle cx="65.4" cy="403" r="1.9" fill="#f9a07d" stroke="#9b5a44" stroke-width="0.55"/>
<circle cx="63.1" cy="404.5" r="1.9" fill="#f9a07d" stroke="#9b5a44" stroke-width="0.55"/>
<circle cx="62.1" cy="411.5" r="1.9" fill="#f9a07d" stroke="#9b5a44" stroke-width="0.55"/>
<circle cx="65.1" cy="411" r="1.9" fill="#f9a07d" stroke="#9b5a44" stroke-width="0.55"/>
<line x1="91.5" y1="406.03" x2="91.5" y2="409.44" stroke="#554b4b" stroke-width="1"/>
<line x1="91.5" y1="416.76" x2="91.5" y2="416.15" stroke="#554b4b" stroke-width="1"/>
<line x1="88.21" y1="406.03" x2="94.51" y2="406.03" stroke="#554b4b" stroke-width="0.9"/>
<line x1="88.21" y1="416.76" x2="94.51" y2="416.76" stroke="#554b4b" stroke-width="0.9"/>
<rect x="85.06" y="409.44" width="12.6" height="6.7" fill="#ad1840" stroke="#554b4b" stroke-width="0.9"/>
<line x1="85.06" y1="412.12" x2="97.66" y2="412.12" stroke="#554b4b" stroke-width="0.9"/>
<line x1="106.5" y1="384.45" x2="106.5" y2="402.62" stroke="#554b4b" stroke-width="1"/>
<line x1="106.5" y1="416.76" x2="106.5" y2="416.51" stroke="#554b4b" stroke-width="1"/>
<line x1="103.81" y1="384.45" x2="110.11" y2="384.45" stroke="#554b4b" stroke-width="0.9"/>
<line x1="103.81" y1="416.76" x2="110.11" y2="416.76" stroke="#554b4b" stroke-width="0.9"/>
<rect x="100.66" y="402.62" width="12.6" height="13.9" fill="#f3ab93" stroke="#554b4b" stroke-width="0.9"/>
<line x1="100.66" y1="416.15" x2="113.26" y2="416.15" stroke="#554b4b" stroke-width="0.9"/>
<circle cx="89.86" cy="406" r="1.9" fill="#cf0b33" stroke="#5c0a1a" stroke-width="0.55"/>
<circle cx="93.36" cy="408.5" r="1.9" fill="#cf0b33" stroke="#5c0a1a" stroke-width="0.55"/>
<circle cx="90.16" cy="410" r="1.9" fill="#cf0b33" stroke="#5c0a1a" stroke-width="0.55"/>
<circle cx="92.16" cy="414.5" r="1.9" fill="#cf0b33" stroke="#5c0a1a" stroke-width="0.55"/>
<circle cx="90.66" cy="416.5" r="1.9" fill="#cf0b33" stroke="#5c0a1a" stroke-width="0.55"/>
<circle cx="94.16" cy="415" r="1.9" fill="#cf0b33" stroke="#5c0a1a" stroke-width="0.55"/>
<circle cx="104.96" cy="369" r="1.9" fill="#f9a07d" stroke="#9b5a44" stroke-width="0.55"/>
<circle cx="104.96" cy="384.3" r="1.9" fill="#f9a07d" stroke="#9b5a44" stroke-width="0.55"/>
<circle cx="105.46" cy="408.5" r="1.9" fill="#f9a07d" stroke="#9b5a44" stroke-width="0.55"/>
<circle cx="104.46" cy="416" r="1.9" fill="#f9a07d" stroke="#9b5a44" stroke-width="0.55"/>
<circle cx="107.46" cy="416" r="1.9" fill="#f9a07d" stroke="#9b5a44" stroke-width="0.55"/>
<line x1="134.5" y1="392.99" x2="134.5" y2="395.06" stroke="#554b4b" stroke-width="1"/>
<line x1="134.5" y1="414.81" x2="134.5" y2="407" stroke="#554b4b" stroke-width="1"/>
<line x1="131.27" y1="392.99" x2="137.57" y2="392.99" stroke="#554b4b" stroke-width="0.9"/>
<line x1="131.27" y1="414.81" x2="137.57" y2="414.81" stroke="#554b4b" stroke-width="0.9"/>
<rect x="128.12" y="395.06" width="12.6" height="11.95" fill="#ad1840" stroke="#554b4b" stroke-width="0.9"/>
<line x1="128.12" y1="400.18" x2="140.72" y2="400.18" stroke="#554b4b" stroke-width="0.9"/>
<line x1="150.5" y1="380.19" x2="150.5" y2="396.52" stroke="#554b4b" stroke-width="1"/>
<line x1="150.5" y1="414.32" x2="150.5" y2="411.64" stroke="#554b4b" stroke-width="1"/>
<line x1="146.87" y1="380.19" x2="153.17" y2="380.19" stroke="#554b4b" stroke-width="0.9"/>
<line x1="146.87" y1="414.32" x2="153.17" y2="414.32" stroke="#554b4b" stroke-width="0.9"/>
<rect x="143.72" y="396.52" width="12.6" height="15.12" fill="#f3ab93" stroke="#554b4b" stroke-width="0.9"/>
<line x1="143.72" y1="409.56" x2="156.32" y2="409.56" stroke="#554b4b" stroke-width="0.9"/>
<circle cx="133.72" cy="314" r="1.9" fill="#cf0b33" stroke="#5c0a1a" stroke-width="0.55"/>
<circle cx="134.12" cy="393" r="1.9" fill="#cf0b33" stroke="#5c0a1a" stroke-width="0.55"/>
<circle cx="134.12" cy="397.5" r="1.9" fill="#cf0b33" stroke="#5c0a1a" stroke-width="0.55"/>
<circle cx="134.12" cy="402" r="1.9" fill="#cf0b33" stroke="#5c0a1a" stroke-width="0.55"/>
<circle cx="134.12" cy="406.5" r="1.9" fill="#cf0b33" stroke="#5c0a1a" stroke-width="0.55"/>
<circle cx="132.12" cy="414.8" r="1.9" fill="#cf0b33" stroke="#5c0a1a" stroke-width="0.55"/>
<circle cx="150.52" cy="380.9" r="1.9" fill="#f9a07d" stroke="#9b5a44" stroke-width="0.55"/>
<circle cx="149.52" cy="385" r="1.9" fill="#f9a07d" stroke="#9b5a44" stroke-width="0.55"/>
<circle cx="151.52" cy="400.8" r="1.9" fill="#f9a07d" stroke="#9b5a44" stroke-width="0.55"/>
<circle cx="147.52" cy="406" r="1.9" fill="#f9a07d" stroke="#9b5a44" stroke-width="0.55"/>
<circle cx="148.52" cy="410" r="1.9" fill="#f9a07d" stroke="#9b5a44" stroke-width="0.55"/>
<circle cx="150.52" cy="411.5" r="1.9" fill="#f9a07d" stroke="#9b5a44" stroke-width="0.55"/>
<circle cx="149.52" cy="414" r="1.9" fill="#f9a07d" stroke="#9b5a44" stroke-width="0.55"/>
<line x1="177.5" y1="368.36" x2="177.5" y2="387.14" stroke="#554b4b" stroke-width="1"/>
<line x1="177.5" y1="418.59" x2="177.5" y2="406.52" stroke="#554b4b" stroke-width="1"/>
<line x1="174.33" y1="368.36" x2="180.63" y2="368.36" stroke="#554b4b" stroke-width="0.9"/>
<line x1="174.33" y1="418.59" x2="180.63" y2="418.59" stroke="#554b4b" stroke-width="0.9"/>
<rect x="171.18" y="387.14" width="12.6" height="19.38" fill="#ad1840" stroke="#554b4b" stroke-width="0.9"/>
<line x1="171.18" y1="389.82" x2="183.78" y2="389.82" stroke="#554b4b" stroke-width="0.9"/>
<line x1="193.5" y1="402.62" x2="193.5" y2="406.64" stroke="#554b4b" stroke-width="1"/>
<line x1="193.5" y1="414.32" x2="193.5" y2="410.66" stroke="#554b4b" stroke-width="1"/>
<line x1="189.93" y1="402.62" x2="196.23" y2="402.62" stroke="#554b4b" stroke-width="0.9"/>
<line x1="189.93" y1="414.32" x2="196.23" y2="414.32" stroke="#554b4b" stroke-width="0.9"/>
<rect x="186.78" y="406.64" width="12.6" height="4.02" fill="#f3ab93" stroke="#554b4b" stroke-width="0.9"/>
<line x1="186.78" y1="408.96" x2="199.38" y2="408.96" stroke="#554b4b" stroke-width="0.9"/>
<circle cx="176.98" cy="368.3" r="1.9" fill="#cf0b33" stroke="#5c0a1a" stroke-width="0.55"/>
<circle cx="176.98" cy="385" r="1.9" fill="#cf0b33" stroke="#5c0a1a" stroke-width="0.55"/>
<circle cx="177.98" cy="389" r="1.9" fill="#cf0b33" stroke="#5c0a1a" stroke-width="0.55"/>
<circle cx="177.98" cy="400" r="1.9" fill="#cf0b33" stroke="#5c0a1a" stroke-width="0.55"/>
<circle cx="176.98" cy="411" r="1.9" fill="#cf0b33" stroke="#5c0a1a" stroke-width="0.55"/>
<circle cx="176.98" cy="418.5" r="1.9" fill="#cf0b33" stroke="#5c0a1a" stroke-width="0.55"/>
<circle cx="193.08" cy="403" r="1.9" fill="#f9a07d" stroke="#9b5a44" stroke-width="0.55"/>
<circle cx="195.08" cy="405" r="1.9" fill="#f9a07d" stroke="#9b5a44" stroke-width="0.55"/>
<circle cx="191.08" cy="407" r="1.9" fill="#f9a07d" stroke="#9b5a44" stroke-width="0.55"/>
<circle cx="194.08" cy="408.5" r="1.9" fill="#f9a07d" stroke="#9b5a44" stroke-width="0.55"/>
<circle cx="192.08" cy="409.5" r="1.9" fill="#f9a07d" stroke="#9b5a44" stroke-width="0.55"/>
<circle cx="195.08" cy="411" r="1.9" fill="#f9a07d" stroke="#9b5a44" stroke-width="0.55"/>
<circle cx="193.08" cy="413" r="1.9" fill="#f9a07d" stroke="#9b5a44" stroke-width="0.55"/>
<circle cx="193.08" cy="416" r="1.9" fill="#f9a07d" stroke="#9b5a44" stroke-width="0.55"/>
<line x1="220.5" y1="386.28" x2="220.5" y2="391.89" stroke="#554b4b" stroke-width="1"/>
<line x1="220.5" y1="398.47" x2="220.5" y2="398.47" stroke="#554b4b" stroke-width="1"/>
<line x1="217.39" y1="386.28" x2="223.69" y2="386.28" stroke="#554b4b" stroke-width="0.9"/>
<line x1="217.39" y1="398.47" x2="223.69" y2="398.47" stroke="#554b4b" stroke-width="0.9"/>
<rect x="214.24" y="391.89" width="12.6" height="6.58" fill="#ad1840" stroke="#554b4b" stroke-width="0.9"/>
<line x1="214.24" y1="393.6" x2="226.84" y2="393.6" stroke="#554b4b" stroke-width="0.9"/>
<line x1="236.5" y1="410.91" x2="236.5" y2="411.39" stroke="#554b4b" stroke-width="1"/>
<line x1="236.5" y1="413.1" x2="236.5" y2="412.37" stroke="#554b4b" stroke-width="1"/>
<line x1="232.99" y1="410.91" x2="239.29" y2="410.91" stroke="#554b4b" stroke-width="0.9"/>
<line x1="232.99" y1="413.1" x2="239.29" y2="413.1" stroke="#554b4b" stroke-width="0.9"/>
<rect x="229.84" y="411.39" width="12.6" height="0.98" fill="#f3ab93" stroke="#554b4b" stroke-width="0.9"/>
<line x1="229.84" y1="411.88" x2="242.44" y2="411.88" stroke="#554b4b" stroke-width="0.9"/>
<circle cx="222.04" cy="386.4" r="1.9" fill="#cf0b33" stroke="#5c0a1a" stroke-width="0.55"/>
<circle cx="220.24" cy="390.5" r="1.9" fill="#cf0b33" stroke="#5c0a1a" stroke-width="0.55"/>
<circle cx="222.24" cy="392.5" r="1.9" fill="#cf0b33" stroke="#5c0a1a" stroke-width="0.55"/>
<circle cx="220.74" cy="398.5" r="1.9" fill="#cf0b33" stroke="#5c0a1a" stroke-width="0.55"/>
<circle cx="221.54" cy="413.7" r="1.9" fill="#cf0b33" stroke="#5c0a1a" stroke-width="0.55"/>
<circle cx="234.84" cy="406" r="1.9" fill="#f9a07d" stroke="#9b5a44" stroke-width="0.55"/>
<circle cx="235.84" cy="410" r="1.9" fill="#f9a07d" stroke="#9b5a44" stroke-width="0.55"/>
<circle cx="234.84" cy="413" r="1.9" fill="#f9a07d" stroke="#9b5a44" stroke-width="0.55"/>
<circle cx="236.84" cy="414" r="1.9" fill="#f9a07d" stroke="#9b5a44" stroke-width="0.55"/>
<circle cx="236.84" cy="409" r="1.9" fill="#f9a07d" stroke="#9b5a44" stroke-width="0.55"/>
<line x1="263.5" y1="407.61" x2="263.5" y2="410.42" stroke="#554b4b" stroke-width="1"/>
<line x1="263.5" y1="417.37" x2="263.5" y2="415.54" stroke="#554b4b" stroke-width="1"/>
<line x1="260.45" y1="407.61" x2="266.75" y2="407.61" stroke="#554b4b" stroke-width="0.9"/>
<line x1="260.45" y1="417.37" x2="266.75" y2="417.37" stroke="#554b4b" stroke-width="0.9"/>
<rect x="257.3" y="410.42" width="12.6" height="5.12" fill="#ad1840" stroke="#554b4b" stroke-width="0.9"/>
<line x1="257.3" y1="412.98" x2="269.9" y2="412.98" stroke="#554b4b" stroke-width="0.9"/>
<line x1="279.5" y1="415.54" x2="279.5" y2="416.15" stroke="#554b4b" stroke-width="1"/>
<line x1="279.5" y1="416.76" x2="279.5" y2="416.76" stroke="#554b4b" stroke-width="1"/>
<line x1="276.05" y1="415.54" x2="282.35" y2="415.54" stroke="#554b4b" stroke-width="0.9"/>
<line x1="276.05" y1="416.76" x2="282.35" y2="416.76" stroke="#554b4b" stroke-width="0.9"/>
<rect x="272.9" y="416.15" width="12.6" height="0.61" fill="#f3ab93" stroke="#554b4b" stroke-width="0.9"/>
<line x1="272.9" y1="416.39" x2="285.5" y2="416.39" stroke="#554b4b" stroke-width="0.9"/>
<circle cx="265.3" cy="407.5" r="1.9" fill="#cf0b33" stroke="#5c0a1a" stroke-width="0.55"/>
<circle cx="264.3" cy="410" r="1.9" fill="#cf0b33" stroke="#5c0a1a" stroke-width="0.55"/>
<circle cx="267.3" cy="412.5" r="1.9" fill="#cf0b33" stroke="#5c0a1a" stroke-width="0.55"/>
<circle cx="263.3" cy="413.5" r="1.9" fill="#cf0b33" stroke="#5c0a1a" stroke-width="0.55"/>
<circle cx="265.3" cy="417.5" r="1.9" fill="#cf0b33" stroke="#5c0a1a" stroke-width="0.55"/>
<circle cx="278.2" cy="415.6" r="1.9" fill="#f9a07d" stroke="#9b5a44" stroke-width="0.55"/>
<circle cx="281.2" cy="416.5" r="1.9" fill="#f9a07d" stroke="#9b5a44" stroke-width="0.55"/>
<circle cx="279.2" cy="417" r="1.9" fill="#f9a07d" stroke="#9b5a44" stroke-width="0.55"/>
<rect x="36.5" y="296.5" width="260.2" height="127.6" fill="none" stroke="#554b4b" stroke-width="1"/>
<line x1="33.7" y1="413.5" x2="36.5" y2="413.5" stroke="#554b4b" stroke-width="1"/>
<text x="30.1" y="416" text-anchor="end" stroke="#231f20">0.0</text>
<line x1="33.7" y1="388.5" x2="36.5" y2="388.5" stroke="#554b4b" stroke-width="1"/>
<text x="30.1" y="391.62" text-anchor="end" stroke="#231f20">2.0</text>
<line x1="33.7" y1="364.5" x2="36.5" y2="364.5" stroke="#554b4b" stroke-width="1"/>
<text x="30.1" y="367.24" text-anchor="end" stroke="#231f20">4.0</text>
<line x1="33.7" y1="339.5" x2="36.5" y2="339.5" stroke="#554b4b" stroke-width="1"/>
<text x="30.1" y="342.86" text-anchor="end" stroke="#231f20">6.0</text>
<line x1="33.7" y1="315.5" x2="36.5" y2="315.5" stroke="#554b4b" stroke-width="1"/>
<text x="30.1" y="318.48" text-anchor="end" stroke="#231f20">8.0</text>
<line x1="56.5" y1="424.1" x2="56.5" y2="426.9" stroke="#554b4b" stroke-width="1"/>
<text x="56.1" y="436.9" text-anchor="middle" stroke="#231f20">β-Catenin</text>
<line x1="99.5" y1="424.1" x2="99.5" y2="426.9" stroke="#554b4b" stroke-width="1"/>
<text x="99.16" y="436.9" text-anchor="middle" stroke="#231f20">p53</text>
<line x1="142.5" y1="424.1" x2="142.5" y2="426.9" stroke="#554b4b" stroke-width="1"/>
<text x="142.22" y="436.9" text-anchor="middle" stroke="#231f20">EGFR</text>
<line x1="185.5" y1="424.1" x2="185.5" y2="426.9" stroke="#554b4b" stroke-width="1"/>
<text x="185.28" y="436.9" text-anchor="middle" stroke="#231f20">PanCK</text>
<line x1="228.5" y1="424.1" x2="228.5" y2="426.9" stroke="#554b4b" stroke-width="1"/>
<text x="228.34" y="436.9" text-anchor="middle" stroke="#231f20">CK6</text>
<line x1="271.5" y1="424.1" x2="271.5" y2="426.9" stroke="#554b4b" stroke-width="1"/>
<text x="271.4" y="436.9" text-anchor="middle" stroke="#231f20">CK17</text>
<text stroke="#231f20" transform="translate(12.0,360.6) rotate(-90)" text-anchor="middle">Average expression</text>
<text x="59.5" y="379.6" text-anchor="middle" stroke="#231f20"><tspan font-style="italic">p</tspan> = 0.536</text>
<line x1="48.3" y1="383.4" x2="63.9" y2="383.4" stroke="#554b4b" stroke-width="0.9"/>
<text x="102.56" y="358.3" text-anchor="middle" stroke="#231f20"><tspan font-style="italic">p</tspan> = 0.779</text>
<line x1="91.36" y1="362.3" x2="106.96" y2="362.3" stroke="#554b4b" stroke-width="0.9"/>
<text x="145.62" y="305.2" text-anchor="middle" stroke="#231f20"><tspan font-style="italic">p</tspan> = 0.281</text>
<line x1="134.42" y1="309.4" x2="150.02" y2="309.4" stroke="#554b4b" stroke-width="0.9"/>
<text x="188.68" y="357.4" text-anchor="middle" stroke="#231f20"><tspan font-style="italic">p</tspan> = 0.152</text>
<line x1="177.48" y1="361.6" x2="193.08" y2="361.6" stroke="#554b4b" stroke-width="0.9"/>
<text x="231.74" y="374.6" text-anchor="middle" stroke="#231f20"><tspan font-style="italic">p</tspan> = 0.014</text>
<line x1="220.54" y1="378.1" x2="236.14" y2="378.1" stroke="#554b4b" stroke-width="0.9"/>
<text x="274.8" y="396.9" text-anchor="middle" stroke="#231f20"><tspan font-style="italic">p</tspan> = 0.014</text>
<line x1="263.6" y1="400.5" x2="279.2" y2="400.5" stroke="#554b4b" stroke-width="0.9"/>
<rect x="245.4" y="305.2" width="8.2" height="8" fill="#ad1840" stroke="#554b4b" stroke-width="0.8"/>
<text x="257.4" y="312.3" stroke="#231f20">5</text>
<rect x="268.5" y="305.2" width="8.2" height="8" fill="#f3ab93" stroke="#554b4b" stroke-width="0.8"/>
<text x="280" y="312.3" stroke="#231f20">11</text>
<text x="0" y="451" font-size="10" stroke="#231f20" font-weight="bold">d</text>
<rect x="166.6" y="465.5" width="18.4" height="18.3" fill="#a33c04"/>
<rect x="184.6" y="465.5" width="18.4" height="18.3" fill="#d75806"/>
<rect x="202.6" y="465.5" width="18.4" height="18.3" fill="#fff0b5"/>
<rect x="220.6" y="465.5" width="18.4" height="18.3" fill="#a33c04"/>
<rect x="238.6" y="465.5" width="18.4" height="18.3" fill="#fff0b0"/>
<rect x="256.6" y="465.5" width="18.4" height="18.3" fill="#fed57a"/>
<rect x="274.6" y="465.5" width="18.4" height="18.3" fill="#fd9a30"/>
<rect x="22.6" y="483.8" width="18.4" height="18.2" fill="#fee4a0"/>
<rect x="40.6" y="483.8" width="18.4" height="18.2" fill="#fff4c8"/>
<rect x="58.6" y="483.8" width="18.4" height="18.2" fill="#f07f1c"/>
<rect x="76.6" y="483.8" width="18.4" height="18.2" fill="#fff5cc"/>
<rect x="94.6" y="483.8" width="18.4" height="18.2" fill="#fff0b8"/>
<rect x="112.6" y="483.8" width="18.4" height="18.2" fill="#8a3006"/>
<rect x="130.6" y="483.8" width="18.4" height="18.2" fill="#feeaa8"/>
<rect x="148.6" y="483.8" width="18.4" height="18.2" fill="#fff7cc"/>
<rect x="22.6" y="465.5" width="270" height="36.5" fill="none" stroke="#554b4b" stroke-width="1"/>
<line x1="20" y1="474.6" x2="22.6" y2="474.6" stroke="#554b4b" stroke-width="0.9"/>
<line x1="20" y1="492.9" x2="22.6" y2="492.9" stroke="#554b4b" stroke-width="0.9"/>
<text x="16.5" y="477.5" text-anchor="end" stroke="#231f20">5</text>
<text x="16.5" y="495.8" text-anchor="end" stroke="#231f20">11</text>
<rect x="22.6" y="507.4" width="18.4" height="6" fill="#b2182b"/>
<line x1="31.6" y1="513.4" x2="31.6" y2="516" stroke="#554b4b" stroke-width="0.9"/>
<text x="31.6" y="525.5" text-anchor="middle" stroke="#231f20">5</text>
<rect x="40.6" y="507.4" width="18.4" height="6" fill="#b2182b"/>
<line x1="49.6" y1="513.4" x2="49.6" y2="516" stroke="#554b4b" stroke-width="0.9"/>
<text x="49.6" y="525.5" text-anchor="middle" stroke="#231f20">9</text>
<rect x="58.6" y="507.4" width="18.4" height="6" fill="#2166ac"/>
<line x1="67.6" y1="513.4" x2="67.6" y2="516" stroke="#554b4b" stroke-width="0.9"/>
<text x="67.6" y="525.5" text-anchor="middle" stroke="#231f20">14</text>
<rect x="76.6" y="507.4" width="18.4" height="6" fill="#b2182b"/>
<line x1="85.6" y1="513.4" x2="85.6" y2="516" stroke="#554b4b" stroke-width="0.9"/>
<text x="85.6" y="525.5" text-anchor="middle" stroke="#231f20">16</text>
<rect x="94.6" y="507.4" width="18.4" height="6" fill="#2166ac"/>
<line x1="103.6" y1="513.4" x2="103.6" y2="516" stroke="#554b4b" stroke-width="0.9"/>
<text x="103.6" y="525.5" text-anchor="middle" stroke="#231f20">17</text>
<rect x="112.6" y="507.4" width="18.4" height="6" fill="#2166ac"/>
<line x1="121.6" y1="513.4" x2="121.6" y2="516" stroke="#554b4b" stroke-width="0.9"/>
<text x="121.6" y="525.5" text-anchor="middle" stroke="#231f20">18</text>
<rect x="130.6" y="507.4" width="18.4" height="6" fill="#2166ac"/>
<line x1="139.6" y1="513.4" x2="139.6" y2="516" stroke="#554b4b" stroke-width="0.9"/>
<text x="139.6" y="525.5" text-anchor="middle" stroke="#231f20">20</text>
<rect x="148.6" y="507.4" width="18.4" height="6" fill="#2166ac"/>
<line x1="157.6" y1="513.4" x2="157.6" y2="516" stroke="#554b4b" stroke-width="0.9"/>
<text x="157.6" y="525.5" text-anchor="middle" stroke="#231f20">27</text>
<rect x="166.6" y="507.4" width="18.4" height="6" fill="#2166ac"/>
<line x1="175.6" y1="513.4" x2="175.6" y2="516" stroke="#554b4b" stroke-width="0.9"/>
<text x="175.6" y="525.5" text-anchor="middle" stroke="#231f20">21</text>
<rect x="184.6" y="507.4" width="18.4" height="6" fill="#2166ac"/>
<line x1="193.6" y1="513.4" x2="193.6" y2="516" stroke="#554b4b" stroke-width="0.9"/>
<text x="193.6" y="525.5" text-anchor="middle" stroke="#231f20">23</text>
<rect x="202.6" y="507.4" width="18.4" height="6" fill="#b2182b"/>
<line x1="211.6" y1="513.4" x2="211.6" y2="516" stroke="#554b4b" stroke-width="0.9"/>
<text x="211.6" y="525.5" text-anchor="middle" stroke="#231f20">28</text>
<rect x="220.6" y="507.4" width="18.4" height="6" fill="#2166ac"/>
<line x1="229.6" y1="513.4" x2="229.6" y2="516" stroke="#554b4b" stroke-width="0.9"/>
<text x="229.6" y="525.5" text-anchor="middle" stroke="#231f20">31</text>
<rect x="238.6" y="507.4" width="18.4" height="6" fill="#2166ac"/>
<line x1="247.6" y1="513.4" x2="247.6" y2="516" stroke="#554b4b" stroke-width="0.9"/>
<text x="247.6" y="525.5" text-anchor="middle" stroke="#231f20">33</text>
<rect x="256.6" y="507.4" width="18.4" height="6" fill="#b2182b"/>
<line x1="265.6" y1="513.4" x2="265.6" y2="516" stroke="#554b4b" stroke-width="0.9"/>
<text x="265.6" y="525.5" text-anchor="middle" stroke="#231f20">34</text>
<rect x="274.6" y="507.4" width="18" height="6" fill="#2166ac"/>
<line x1="283.6" y1="513.4" x2="283.6" y2="516" stroke="#554b4b" stroke-width="0.9"/>
<text x="283.6" y="525.5" text-anchor="middle" stroke="#231f20">38</text>
<rect x="22.6" y="507.4" width="270" height="6" fill="none" stroke="#554b4b" stroke-width="0.9"/>
<text x="157.6" y="535.3" text-anchor="middle" stroke="#231f20">Patient</text>
<rect x="24.2" y="549.1" width="8" height="8" fill="#b2182b" stroke="#554b4b" stroke-width="0.8"/>
<text x="35.8" y="556" stroke="#231f20">Compartmentalized</text>
<rect x="24.2" y="566.3" width="8" height="8" fill="#2166ac" stroke="#554b4b" stroke-width="0.8"/>
<text x="35.8" y="573" stroke="#231f20">Mixed</text>
<text x="236.6" y="550.6" text-anchor="middle" stroke="#231f20">Proportion</text>
<rect x="183.3" y="556.3" width="106.6" height="8.2" fill="url(#gD)" stroke="#554b4b" stroke-width="0.8"/>
<line x1="183.3" y1="564.5" x2="183.3" y2="567.2" stroke="#554b4b" stroke-width="0.9"/>
<text x="183.3" y="577.2" text-anchor="middle" stroke="#231f20">0.0</text>
<line x1="204.62" y1="564.5" x2="204.62" y2="567.2" stroke="#554b4b" stroke-width="0.9"/>
<text x="204.62" y="577.2" text-anchor="middle" stroke="#231f20">0.2</text>
<line x1="225.94" y1="564.5" x2="225.94" y2="567.2" stroke="#554b4b" stroke-width="0.9"/>
<text x="225.94" y="577.2" text-anchor="middle" stroke="#231f20">0.4</text>
<line x1="247.26" y1="564.5" x2="247.26" y2="567.2" stroke="#554b4b" stroke-width="0.9"/>
<text x="247.26" y="577.2" text-anchor="middle" stroke="#231f20">0.6</text>
<line x1="268.58" y1="564.5" x2="268.58" y2="567.2" stroke="#554b4b" stroke-width="0.9"/>
<text x="268.58" y="577.2" text-anchor="middle" stroke="#231f20">0.8</text>
<line x1="289.9" y1="564.5" x2="289.9" y2="567.2" stroke="#554b4b" stroke-width="0.9"/>
<text x="289.9" y="577.2" text-anchor="middle" stroke="#231f20">1.0</text>
<text x="303.4" y="290.5" font-size="10" stroke="#231f20" font-weight="bold">e</text>
<line x1="361.5" y1="313.92" x2="361.5" y2="329.32" stroke="#554b4b" stroke-width="1"/>
<line x1="361.5" y1="387.28" x2="361.5" y2="355.45" stroke="#554b4b" stroke-width="1"/>
<line x1="356.4" y1="313.92" x2="366.4" y2="313.92" stroke="#554b4b" stroke-width="0.9"/>
<line x1="356.4" y1="387.28" x2="366.4" y2="387.28" stroke="#554b4b" stroke-width="0.9"/>
<rect x="351.4" y="329.32" width="20" height="26.13" fill="#df93b2" stroke="#554b4b" stroke-width="0.9"/>
<line x1="351.4" y1="341.38" x2="371.4" y2="341.38" stroke="#554b4b" stroke-width="0.9"/>
<line x1="385.5" y1="316.6" x2="385.5" y2="353.11" stroke="#554b4b" stroke-width="1"/>
<line x1="385.5" y1="419.44" x2="385.5" y2="398.33" stroke="#554b4b" stroke-width="1"/>
<line x1="380.7" y1="316.6" x2="390.7" y2="316.6" stroke="#554b4b" stroke-width="0.9"/>
<line x1="380.7" y1="419.44" x2="390.7" y2="419.44" stroke="#554b4b" stroke-width="0.9"/>
<rect x="376.1" y="353.11" width="19.2" height="45.22" fill="#dcdedd" stroke="#554b4b" stroke-width="0.9"/>
<line x1="376.1" y1="381.25" x2="395.3" y2="381.25" stroke="#554b4b" stroke-width="0.9"/>
<line x1="422.5" y1="357.13" x2="422.5" y2="363.16" stroke="#554b4b" stroke-width="1"/>
<line x1="422.5" y1="384.6" x2="422.5" y2="380.25" stroke="#554b4b" stroke-width="1"/>
<line x1="417.6" y1="357.13" x2="427.6" y2="357.13" stroke="#554b4b" stroke-width="0.9"/>
<line x1="417.6" y1="384.6" x2="427.6" y2="384.6" stroke="#554b4b" stroke-width="0.9"/>
<rect x="412.6" y="363.16" width="20" height="17.08" fill="#df93b2" stroke="#554b4b" stroke-width="0.9"/>
<line x1="412.6" y1="369.86" x2="432.6" y2="369.86" stroke="#554b4b" stroke-width="0.9"/>
<line x1="447.5" y1="365.84" x2="447.5" y2="377.23" stroke="#554b4b" stroke-width="1"/>
<line x1="447.5" y1="387.28" x2="447.5" y2="385.94" stroke="#554b4b" stroke-width="1"/>
<line x1="442.1" y1="365.84" x2="452.1" y2="365.84" stroke="#554b4b" stroke-width="0.9"/>
<line x1="442.1" y1="387.28" x2="452.1" y2="387.28" stroke="#554b4b" stroke-width="0.9"/>
<rect x="437.1" y="377.23" width="20" height="8.71" fill="#dcdedd" stroke="#554b4b" stroke-width="0.9"/>
<line x1="437.1" y1="381.92" x2="457.1" y2="381.92" stroke="#554b4b" stroke-width="0.9"/>
<circle cx="359.5" cy="314" r="2" fill="#ec86b0" stroke="#6a2c42" stroke-width="0.55"/>
<circle cx="363.5" cy="326.7" r="2" fill="#ec86b0" stroke="#6a2c42" stroke-width="0.55"/>
<circle cx="360" cy="330.5" r="2" fill="#ec86b0" stroke="#6a2c42" stroke-width="0.55"/>
<circle cx="360.5" cy="336.7" r="2" fill="#ec86b0" stroke="#6a2c42" stroke-width="0.55"/>
<circle cx="362.5" cy="346" r="2" fill="#ec86b0" stroke="#6a2c42" stroke-width="0.55"/>
<circle cx="362.5" cy="353.6" r="2" fill="#ec86b0" stroke="#6a2c42" stroke-width="0.55"/>
<circle cx="358.5" cy="357.8" r="2" fill="#ec86b0" stroke="#6a2c42" stroke-width="0.55"/>
<circle cx="358" cy="387.3" r="2" fill="#ec86b0" stroke="#6a2c42" stroke-width="0.55"/>
<circle cx="388.5" cy="316.6" r="2" fill="#e6e6e6" stroke="#5e5e5e" stroke-width="0.55"/>
<circle cx="386" cy="327" r="2" fill="#e6e6e6" stroke="#5e5e5e" stroke-width="0.55"/>
<circle cx="385.5" cy="330.5" r="2" fill="#e6e6e6" stroke="#5e5e5e" stroke-width="0.55"/>
<circle cx="385" cy="337.2" r="2" fill="#e6e6e6" stroke="#5e5e5e" stroke-width="0.55"/>
<circle cx="384" cy="344" r="2" fill="#e6e6e6" stroke="#5e5e5e" stroke-width="0.55"/>
<circle cx="383.5" cy="350" r="2" fill="#e6e6e6" stroke="#5e5e5e" stroke-width="0.55"/>
<circle cx="386.5" cy="353.5" r="2" fill="#e6e6e6" stroke="#5e5e5e" stroke-width="0.55"/>
<circle cx="384.8" cy="363.8" r="2" fill="#e6e6e6" stroke="#5e5e5e" stroke-width="0.55"/>
<circle cx="388" cy="363.8" r="2" fill="#e6e6e6" stroke="#5e5e5e" stroke-width="0.55"/>
<circle cx="383.5" cy="371.3" r="2" fill="#e6e6e6" stroke="#5e5e5e" stroke-width="0.55"/>
<circle cx="384" cy="376.3" r="2" fill="#e6e6e6" stroke="#5e5e5e" stroke-width="0.55"/>
<circle cx="387.5" cy="378.3" r="2" fill="#e6e6e6" stroke="#5e5e5e" stroke-width="0.55"/>
<circle cx="384.5" cy="379.5" r="2" fill="#e6e6e6" stroke="#5e5e5e" stroke-width="0.55"/>
<circle cx="385.5" cy="386" r="2" fill="#e6e6e6" stroke="#5e5e5e" stroke-width="0.55"/>
<circle cx="382.5" cy="391" r="2" fill="#e6e6e6" stroke="#5e5e5e" stroke-width="0.55"/>
<circle cx="385" cy="392.5" r="2" fill="#e6e6e6" stroke="#5e5e5e" stroke-width="0.55"/>
<circle cx="389" cy="393" r="2" fill="#e6e6e6" stroke="#5e5e5e" stroke-width="0.55"/>
<circle cx="386.5" cy="395.5" r="2" fill="#e6e6e6" stroke="#5e5e5e" stroke-width="0.55"/>
<circle cx="388" cy="399.5" r="2" fill="#e6e6e6" stroke="#5e5e5e" stroke-width="0.55"/>
<circle cx="387" cy="403.5" r="2" fill="#e6e6e6" stroke="#5e5e5e" stroke-width="0.55"/>
<circle cx="383.5" cy="405" r="2" fill="#e6e6e6" stroke="#5e5e5e" stroke-width="0.55"/>
<circle cx="386" cy="410" r="2" fill="#e6e6e6" stroke="#5e5e5e" stroke-width="0.55"/>
<circle cx="388" cy="413" r="2" fill="#e6e6e6" stroke="#5e5e5e" stroke-width="0.55"/>
<circle cx="385" cy="419.5" r="2" fill="#e6e6e6" stroke="#5e5e5e" stroke-width="0.55"/>
<circle cx="387.5" cy="419" r="2" fill="#e6e6e6" stroke="#5e5e5e" stroke-width="0.55"/>
<circle cx="421" cy="357.2" r="2" fill="#ec86b0" stroke="#6a2c42" stroke-width="0.55"/>
<circle cx="419" cy="357.5" r="2" fill="#ec86b0" stroke="#6a2c42" stroke-width="0.55"/>
<circle cx="420.5" cy="366" r="2" fill="#ec86b0" stroke="#6a2c42" stroke-width="0.55"/>
<circle cx="421" cy="374.5" r="2" fill="#ec86b0" stroke="#6a2c42" stroke-width="0.55"/>
<circle cx="425" cy="379.5" r="2" fill="#ec86b0" stroke="#6a2c42" stroke-width="0.55"/>
<circle cx="421" cy="381" r="2" fill="#ec86b0" stroke="#6a2c42" stroke-width="0.55"/>
<circle cx="423" cy="384.5" r="2" fill="#ec86b0" stroke="#6a2c42" stroke-width="0.55"/>
<circle cx="450" cy="337" r="2" fill="#e6e6e6" stroke="#5e5e5e" stroke-width="0.55"/>
<circle cx="447" cy="355.5" r="2" fill="#e6e6e6" stroke="#5e5e5e" stroke-width="0.55"/>
<circle cx="448" cy="362" r="2" fill="#e6e6e6" stroke="#5e5e5e" stroke-width="0.55"/>
<circle cx="446" cy="366" r="2" fill="#e6e6e6" stroke="#5e5e5e" stroke-width="0.55"/>
<circle cx="449" cy="370" r="2" fill="#e6e6e6" stroke="#5e5e5e" stroke-width="0.55"/>
<circle cx="445" cy="373" r="2" fill="#e6e6e6" stroke="#5e5e5e" stroke-width="0.55"/>
<circle cx="448" cy="376" r="2" fill="#e6e6e6" stroke="#5e5e5e" stroke-width="0.55"/>
<circle cx="450" cy="379" r="2" fill="#e6e6e6" stroke="#5e5e5e" stroke-width="0.55"/>
<circle cx="446" cy="381" r="2" fill="#e6e6e6" stroke="#5e5e5e" stroke-width="0.55"/>
<circle cx="448.5" cy="383.5" r="2" fill="#e6e6e6" stroke="#5e5e5e" stroke-width="0.55"/>
<circle cx="444.5" cy="384.5" r="2" fill="#e6e6e6" stroke="#5e5e5e" stroke-width="0.55"/>
<circle cx="451" cy="385.5" r="2" fill="#e6e6e6" stroke="#5e5e5e" stroke-width="0.55"/>
<circle cx="447" cy="386.5" r="2" fill="#e6e6e6" stroke="#5e5e5e" stroke-width="0.55"/>
<rect x="343" y="296.5" width="122.2" height="127.6" fill="none" stroke="#554b4b" stroke-width="1"/>
<line x1="340.2" y1="297.5" x2="343" y2="297.5" stroke="#554b4b" stroke-width="1"/>
<text x="337" y="300.4" text-anchor="end" stroke="#231f20">2.0</text>
<line x1="340.2" y1="314.5" x2="343" y2="314.5" stroke="#554b4b" stroke-width="1"/>
<text x="337" y="317.15" text-anchor="end" stroke="#231f20">1.5</text>
<line x1="340.2" y1="331.5" x2="343" y2="331.5" stroke="#554b4b" stroke-width="1"/>
<text x="337" y="333.9" text-anchor="end" stroke="#231f20">1.0</text>
<line x1="340.2" y1="347.5" x2="343" y2="347.5" stroke="#554b4b" stroke-width="1"/>
<text x="337" y="350.65" text-anchor="end" stroke="#231f20">0.5</text>
<line x1="340.2" y1="364.5" x2="343" y2="364.5" stroke="#554b4b" stroke-width="1"/>
<text x="337" y="367.4" text-anchor="end" stroke="#231f20">0.0</text>
<line x1="340.2" y1="381.5" x2="343" y2="381.5" stroke="#554b4b" stroke-width="1"/>
<text x="337" y="384.15" text-anchor="end" stroke="#231f20">-0.5</text>
<line x1="340.2" y1="398.5" x2="343" y2="398.5" stroke="#554b4b" stroke-width="1"/>
<text x="337" y="400.9" text-anchor="end" stroke="#231f20">-1.0</text>
<line x1="340.2" y1="414.5" x2="343" y2="414.5" stroke="#554b4b" stroke-width="1"/>
<text x="337" y="417.65" text-anchor="end" stroke="#231f20">-1.5</text>
<line x1="373.5" y1="424.1" x2="373.5" y2="426.9" stroke="#554b4b" stroke-width="1"/>
<text x="373.5" y="436.7" text-anchor="middle" stroke="#231f20">HLA1</text>
<line x1="434.5" y1="424.1" x2="434.5" y2="426.9" stroke="#554b4b" stroke-width="1"/>
<text x="434.6" y="436.7" text-anchor="middle" stroke="#231f20">HLA-DR</text>
<text stroke="#231f20" transform="translate(318.3,360.3) rotate(-90)" text-anchor="middle">Average expression</text>
<text x="373.5" y="305.6" text-anchor="middle" stroke="#231f20"><tspan font-style="italic">p</tspan> = 0.005</text>
<line x1="362.2" y1="308.9" x2="384.3" y2="308.9" stroke="#554b4b" stroke-width="0.9"/>
<text x="434.3" y="323.9" text-anchor="middle" stroke="#231f20"><tspan font-style="italic">p</tspan> = 0.020</text>
<line x1="423.8" y1="327.7" x2="445.1" y2="327.7" stroke="#554b4b" stroke-width="0.9"/>
<rect x="347.5" y="398.6" width="8" height="7.8" fill="#df93b2" stroke="#554b4b" stroke-width="0.8"/>
<text x="359.8" y="405.5" stroke="#231f20">9</text>
<rect x="347.5" y="411.8" width="8" height="7.8" fill="#dcdedd" stroke="#554b4b" stroke-width="0.8"/>
<text x="359.8" y="418.6" stroke="#231f20">Other tumor-enriched niches</text>
<text x="471.6" y="290.5" font-size="10" stroke="#231f20" font-weight="bold">f</text>
<line x1="528.5" y1="322.33" x2="528.5" y2="340.78" stroke="#554b4b" stroke-width="1"/>
<line x1="528.5" y1="359.22" x2="528.5" y2="357.06" stroke="#554b4b" stroke-width="1"/>
<line x1="523.25" y1="322.33" x2="532.75" y2="322.33" stroke="#554b4b" stroke-width="0.9"/>
<line x1="523.25" y1="359.22" x2="532.75" y2="359.22" stroke="#554b4b" stroke-width="0.9"/>
<rect x="518.5" y="340.78" width="19" height="16.28" fill="#df93b2" stroke="#554b4b" stroke-width="0.9"/>
<line x1="518.5" y1="347.83" x2="537.5" y2="347.83" stroke="#554b4b" stroke-width="0.9"/>
<line x1="551.5" y1="314.2" x2="551.5" y2="319.62" stroke="#554b4b" stroke-width="1"/>
<line x1="551.5" y1="340.78" x2="551.5" y2="328.3" stroke="#554b4b" stroke-width="1"/>
<line x1="546.25" y1="314.2" x2="555.75" y2="314.2" stroke="#554b4b" stroke-width="0.9"/>
<line x1="546.25" y1="340.78" x2="555.75" y2="340.78" stroke="#554b4b" stroke-width="0.9"/>
<rect x="541.2" y="319.62" width="19.6" height="8.68" fill="#dcdedd" stroke="#554b4b" stroke-width="0.9"/>
<line x1="541.2" y1="322.88" x2="560.8" y2="322.88" stroke="#554b4b" stroke-width="0.9"/>
<line x1="586.5" y1="372.25" x2="586.5" y2="373.33" stroke="#554b4b" stroke-width="1"/>
<line x1="586.5" y1="408.05" x2="586.5" y2="388.52" stroke="#554b4b" stroke-width="1"/>
<line x1="581.25" y1="372.25" x2="590.75" y2="372.25" stroke="#554b4b" stroke-width="0.9"/>
<line x1="581.25" y1="408.05" x2="590.75" y2="408.05" stroke="#554b4b" stroke-width="0.9"/>
<rect x="576.35" y="373.33" width="19.3" height="15.19" fill="#df93b2" stroke="#554b4b" stroke-width="0.9"/>
<line x1="576.35" y1="383.09" x2="595.65" y2="383.09" stroke="#554b4b" stroke-width="0.9"/>
<line x1="609.5" y1="400.45" x2="609.5" y2="406.42" stroke="#554b4b" stroke-width="1"/>
<line x1="609.5" y1="414.56" x2="609.5" y2="411.3" stroke="#554b4b" stroke-width="1"/>
<line x1="604.25" y1="400.45" x2="613.75" y2="400.45" stroke="#554b4b" stroke-width="0.9"/>
<line x1="604.25" y1="414.56" x2="613.75" y2="414.56" stroke="#554b4b" stroke-width="0.9"/>
<rect x="599.45" y="406.42" width="19.1" height="4.88" fill="#dcdedd" stroke="#554b4b" stroke-width="0.9"/>
<line x1="599.45" y1="408.59" x2="618.55" y2="408.59" stroke="#554b4b" stroke-width="0.9"/>
<line x1="644.5" y1="417.6" x2="644.5" y2="418.03" stroke="#554b4b" stroke-width="1"/>
<line x1="644.5" y1="418.9" x2="644.5" y2="418.47" stroke="#554b4b" stroke-width="1"/>
<line x1="639.25" y1="417.6" x2="648.75" y2="417.6" stroke="#554b4b" stroke-width="0.9"/>
<line x1="639.25" y1="418.9" x2="648.75" y2="418.9" stroke="#554b4b" stroke-width="0.9"/>
<rect x="634.7" y="418.03" width="18.6" height="0.6" fill="#df93b2" stroke="#554b4b" stroke-width="0.9"/>
<line x1="634.7" y1="418.25" x2="653.3" y2="418.25" stroke="#554b4b" stroke-width="0.9"/>
<line x1="667.5" y1="413.47" x2="667.5" y2="415.64" stroke="#554b4b" stroke-width="1"/>
<line x1="667.5" y1="418.9" x2="667.5" y2="418.9" stroke="#554b4b" stroke-width="1"/>
<line x1="662.25" y1="413.47" x2="671.75" y2="413.47" stroke="#554b4b" stroke-width="0.9"/>
<line x1="662.25" y1="418.9" x2="671.75" y2="418.9" stroke="#554b4b" stroke-width="0.9"/>
<rect x="657.35" y="415.64" width="19.3" height="3.25" fill="#dcdedd" stroke="#554b4b" stroke-width="0.9"/>
<line x1="657.35" y1="417.27" x2="676.65" y2="417.27" stroke="#554b4b" stroke-width="0.9"/>
<circle cx="528.5" cy="322.3" r="2" fill="#ec86b0" stroke="#6a2c42" stroke-width="0.55"/>
<circle cx="527" cy="339.5" r="2" fill="#ec86b0" stroke="#6a2c42" stroke-width="0.55"/>
<circle cx="530" cy="342" r="2" fill="#ec86b0" stroke="#6a2c42" stroke-width="0.55"/>
<circle cx="529" cy="347" r="2" fill="#ec86b0" stroke="#6a2c42" stroke-width="0.55"/>
<circle cx="530.5" cy="355.7" r="2" fill="#ec86b0" stroke="#6a2c42" stroke-width="0.55"/>
<circle cx="530" cy="358.5" r="2" fill="#ec86b0" stroke="#6a2c42" stroke-width="0.55"/>
<circle cx="525.2" cy="393.5" r="2" fill="#ec86b0" stroke="#6a2c42" stroke-width="0.55"/>
<circle cx="546.94" cy="314.2" r="2" fill="#e6e6e6" stroke="#5e5e5e" stroke-width="0.55"/>
<circle cx="549.1" cy="315.82" r="2" fill="#e6e6e6" stroke="#5e5e5e" stroke-width="0.55"/>
<circle cx="552.99" cy="318" r="2" fill="#e6e6e6" stroke="#5e5e5e" stroke-width="0.55"/>
<circle cx="546.69" cy="319.08" r="2" fill="#e6e6e6" stroke="#5e5e5e" stroke-width="0.55"/>
<circle cx="548.35" cy="321.25" r="2" fill="#e6e6e6" stroke="#5e5e5e" stroke-width="0.55"/>
<circle cx="546.96" cy="322.33" r="2" fill="#e6e6e6" stroke="#5e5e5e" stroke-width="0.55"/>
<circle cx="549.22" cy="323.42" r="2" fill="#e6e6e6" stroke="#5e5e5e" stroke-width="0.55"/>
<circle cx="552.48" cy="324.5" r="2" fill="#e6e6e6" stroke="#5e5e5e" stroke-width="0.55"/>
<circle cx="549.27" cy="325.59" r="2" fill="#e6e6e6" stroke="#5e5e5e" stroke-width="0.55"/>
<circle cx="551.75" cy="327.76" r="2" fill="#e6e6e6" stroke="#5e5e5e" stroke-width="0.55"/>
<circle cx="547.13" cy="329.93" r="2" fill="#e6e6e6" stroke="#5e5e5e" stroke-width="0.55"/>
<circle cx="554.31" cy="332.1" r="2" fill="#e6e6e6" stroke="#5e5e5e" stroke-width="0.55"/>
<circle cx="547.7" cy="334.27" r="2" fill="#e6e6e6" stroke="#5e5e5e" stroke-width="0.55"/>
<circle cx="548.1" cy="336.44" r="2" fill="#e6e6e6" stroke="#5e5e5e" stroke-width="0.55"/>
<circle cx="550.96" cy="338.61" r="2" fill="#e6e6e6" stroke="#5e5e5e" stroke-width="0.55"/>
<circle cx="554.27" cy="340.78" r="2" fill="#e6e6e6" stroke="#5e5e5e" stroke-width="0.55"/>
<circle cx="553.33" cy="349.46" r="2" fill="#e6e6e6" stroke="#5e5e5e" stroke-width="0.55"/>
<circle cx="555.23" cy="351.63" r="2" fill="#e6e6e6" stroke="#5e5e5e" stroke-width="0.55"/>
<circle cx="585" cy="372.5" r="2" fill="#ec86b0" stroke="#6a2c42" stroke-width="0.55"/>
<circle cx="589" cy="382" r="2" fill="#ec86b0" stroke="#6a2c42" stroke-width="0.55"/>
<circle cx="584.5" cy="383.5" r="2" fill="#ec86b0" stroke="#6a2c42" stroke-width="0.55"/>
<circle cx="585.5" cy="392" r="2" fill="#ec86b0" stroke="#6a2c42" stroke-width="0.55"/>
<circle cx="584" cy="394.5" r="2" fill="#ec86b0" stroke="#6a2c42" stroke-width="0.55"/>
<circle cx="585" cy="407.2" r="2" fill="#ec86b0" stroke="#6a2c42" stroke-width="0.55"/>
<circle cx="585.6" cy="336.2" r="2" fill="#ec86b0" stroke="#6a2c42" stroke-width="0.55"/>
<circle cx="606.67" cy="378.75" r="2" fill="#e6e6e6" stroke="#5e5e5e" stroke-width="0.55"/>
<circle cx="608.85" cy="380.92" r="2" fill="#e6e6e6" stroke="#5e5e5e" stroke-width="0.55"/>
<circle cx="608.36" cy="388.52" r="2" fill="#e6e6e6" stroke="#5e5e5e" stroke-width="0.55"/>
<circle cx="611.87" cy="395.03" r="2" fill="#e6e6e6" stroke="#5e5e5e" stroke-width="0.55"/>
<circle cx="606.37" cy="399.37" r="2" fill="#e6e6e6" stroke="#5e5e5e" stroke-width="0.55"/>
<circle cx="607.71" cy="402.62" r="2" fill="#e6e6e6" stroke="#5e5e5e" stroke-width="0.55"/>
<circle cx="607.16" cy="404.79" r="2" fill="#e6e6e6" stroke="#5e5e5e" stroke-width="0.55"/>
<circle cx="610.53" cy="405.88" r="2" fill="#e6e6e6" stroke="#5e5e5e" stroke-width="0.55"/>
<circle cx="606.76" cy="406.96" r="2" fill="#e6e6e6" stroke="#5e5e5e" stroke-width="0.55"/>
<circle cx="611.5" cy="408.05" r="2" fill="#e6e6e6" stroke="#5e5e5e" stroke-width="0.55"/>
<circle cx="605.08" cy="408.05" r="2" fill="#e6e6e6" stroke="#5e5e5e" stroke-width="0.55"/>
<circle cx="609.49" cy="409.13" r="2" fill="#e6e6e6" stroke="#5e5e5e" stroke-width="0.55"/>
<circle cx="611.51" cy="410.22" r="2" fill="#e6e6e6" stroke="#5e5e5e" stroke-width="0.55"/>
<circle cx="610.96" cy="411.3" r="2" fill="#e6e6e6" stroke="#5e5e5e" stroke-width="0.55"/>
<circle cx="606.51" cy="412.39" r="2" fill="#e6e6e6" stroke="#5e5e5e" stroke-width="0.55"/>
<circle cx="605.05" cy="413.47" r="2" fill="#e6e6e6" stroke="#5e5e5e" stroke-width="0.55"/>
<circle cx="611.18" cy="414.56" r="2" fill="#e6e6e6" stroke="#5e5e5e" stroke-width="0.55"/>
<circle cx="612.66" cy="414.56" r="2" fill="#e6e6e6" stroke="#5e5e5e" stroke-width="0.55"/>
<circle cx="642" cy="417.2" r="2" fill="#ec86b0" stroke="#6a2c42" stroke-width="0.55"/>
<circle cx="645" cy="418.5" r="2" fill="#ec86b0" stroke="#6a2c42" stroke-width="0.55"/>
<circle cx="647.5" cy="418.2" r="2" fill="#ec86b0" stroke="#6a2c42" stroke-width="0.55"/>
<circle cx="667.12" cy="406.96" r="2" fill="#e6e6e6" stroke="#5e5e5e" stroke-width="0.55"/>
<circle cx="670.13" cy="412.39" r="2" fill="#e6e6e6" stroke="#5e5e5e" stroke-width="0.55"/>
<circle cx="668.86" cy="413.47" r="2" fill="#e6e6e6" stroke="#5e5e5e" stroke-width="0.55"/>
<circle cx="665.48" cy="414.56" r="2" fill="#e6e6e6" stroke="#5e5e5e" stroke-width="0.55"/>
<circle cx="665.05" cy="415.64" r="2" fill="#e6e6e6" stroke="#5e5e5e" stroke-width="0.55"/>
<circle cx="668.3" cy="416.19" r="2" fill="#e6e6e6" stroke="#5e5e5e" stroke-width="0.55"/>
<circle cx="664.67" cy="416.73" r="2" fill="#e6e6e6" stroke="#5e5e5e" stroke-width="0.55"/>
<circle cx="666.25" cy="417.27" r="2" fill="#e6e6e6" stroke="#5e5e5e" stroke-width="0.55"/>
<circle cx="667.83" cy="417.81" r="2" fill="#e6e6e6" stroke="#5e5e5e" stroke-width="0.55"/>
<circle cx="666.38" cy="418.36" r="2" fill="#e6e6e6" stroke="#5e5e5e" stroke-width="0.55"/>
<circle cx="663.52" cy="418.9" r="2" fill="#e6e6e6" stroke="#5e5e5e" stroke-width="0.55"/>
<rect x="510.5" y="296.5" width="172.5" height="127.7" fill="none" stroke="#554b4b" stroke-width="1"/>
<line x1="507.7" y1="418.5" x2="510.5" y2="418.5" stroke="#554b4b" stroke-width="1"/>
<text x="503.4" y="421.8" text-anchor="end" stroke="#231f20">0.0</text>
<line x1="507.7" y1="397.5" x2="510.5" y2="397.5" stroke="#554b4b" stroke-width="1"/>
<text x="503.4" y="400.1" text-anchor="end" stroke="#231f20">0.2</text>
<line x1="507.7" y1="375.5" x2="510.5" y2="375.5" stroke="#554b4b" stroke-width="1"/>
<text x="503.4" y="378.4" text-anchor="end" stroke="#231f20">0.4</text>
<line x1="507.7" y1="353.5" x2="510.5" y2="353.5" stroke="#554b4b" stroke-width="1"/>
<text x="503.4" y="356.7" text-anchor="end" stroke="#231f20">0.6</text>
<line x1="507.7" y1="332.5" x2="510.5" y2="332.5" stroke="#554b4b" stroke-width="1"/>
<text x="503.4" y="335" text-anchor="end" stroke="#231f20">0.8</text>
<line x1="507.7" y1="310.5" x2="510.5" y2="310.5" stroke="#554b4b" stroke-width="1"/>
<text x="503.4" y="313.3" text-anchor="end" stroke="#231f20">1.0</text>
<line x1="539.5" y1="424.2" x2="539.5" y2="427" stroke="#554b4b" stroke-width="1"/>
<text x="539.4" y="437" text-anchor="middle" stroke="#231f20">Tumor cells</text>
<line x1="597.5" y1="424.2" x2="597.5" y2="427" stroke="#554b4b" stroke-width="1"/>
<text x="597.1" y="437" text-anchor="middle" stroke="#231f20">Immune cells</text>
<line x1="655.5" y1="424.2" x2="655.5" y2="427" stroke="#554b4b" stroke-width="1"/>
<text x="655.4" y="437" text-anchor="middle" stroke="#231f20">Stromal cells</text>
<text stroke="#231f20" transform="translate(486.2,360.3) rotate(-90)" text-anchor="middle">Proportion</text>
<text x="539.4" y="306.4" text-anchor="middle" stroke="#231f20"><tspan font-style="italic">p</tspan> = 0.0002</text>
<line x1="528.4" y1="308.9" x2="550.3" y2="308.9" stroke="#554b4b" stroke-width="0.9"/>
<text x="597.8" y="325.2" text-anchor="middle" stroke="#231f20"><tspan font-style="italic">p</tspan> = 8.48e-5</text>
<line x1="587.1" y1="329.5" x2="608.4" y2="329.5" stroke="#554b4b" stroke-width="0.9"/>
<text x="655.7" y="396.8" text-anchor="middle" stroke="#231f20"><tspan font-style="italic">p</tspan> = 0.082</text>
<line x1="644.8" y1="400.6" x2="666.7" y2="400.6" stroke="#554b4b" stroke-width="0.9"/>
<text x="668" y="308.2" text-anchor="end" stroke="#231f20">Other tumor-enriched niches</text>
<rect x="671.3" y="301.3" width="8.5" height="8.3" fill="#dcdedd" stroke="#554b4b" stroke-width="0.8"/>
<text x="668" y="322.1" text-anchor="end" stroke="#231f20">9</text>
<rect x="671.3" y="315.1" width="8.5" height="8" fill="#df93b2" stroke="#554b4b" stroke-width="0.8"/>
<text x="303.4" y="451.4" font-size="10" stroke="#231f20" font-weight="bold">g</text>
<line x1="361.5" y1="474.21" x2="361.5" y2="514.08" stroke="#554b4b" stroke-width="1"/>
<line x1="361.5" y1="549" x2="361.5" y2="544.92" stroke="#554b4b" stroke-width="1"/>
<line x1="356" y1="474.21" x2="366" y2="474.21" stroke="#554b4b" stroke-width="0.9"/>
<line x1="356" y1="549" x2="366" y2="549" stroke="#554b4b" stroke-width="0.9"/>
<rect x="351.05" y="514.08" width="19.9" height="30.85" fill="#d98020" stroke="#554b4b" stroke-width="0.9"/>
<line x1="351.05" y1="532.41" x2="370.95" y2="532.41" stroke="#554b4b" stroke-width="0.9"/>
<line x1="385.5" y1="556.86" x2="385.5" y2="562.09" stroke="#554b4b" stroke-width="1"/>
<line x1="385.5" y1="568.5" x2="385.5" y2="566.46" stroke="#554b4b" stroke-width="1"/>
<line x1="380.9" y1="556.86" x2="390.9" y2="556.86" stroke="#554b4b" stroke-width="0.9"/>
<line x1="380.9" y1="568.5" x2="390.9" y2="568.5" stroke="#554b4b" stroke-width="0.9"/>
<rect x="376" y="562.09" width="19.8" height="4.37" fill="#dcdedd" stroke="#554b4b" stroke-width="0.9"/>
<line x1="376" y1="564.42" x2="395.8" y2="564.42" stroke="#554b4b" stroke-width="0.9"/>
<line x1="422.5" y1="534.45" x2="422.5" y2="547.25" stroke="#554b4b" stroke-width="1"/>
<line x1="422.5" y1="571.4" x2="422.5" y2="566.46" stroke="#554b4b" stroke-width="1"/>
<line x1="417.5" y1="534.45" x2="427.5" y2="534.45" stroke="#554b4b" stroke-width="0.9"/>
<line x1="417.5" y1="571.4" x2="427.5" y2="571.4" stroke="#554b4b" stroke-width="0.9"/>
<rect x="412.8" y="547.25" width="19.4" height="19.21" fill="#d98020" stroke="#554b4b" stroke-width="0.9"/>
<line x1="412.8" y1="559.18" x2="432.2" y2="559.18" stroke="#554b4b" stroke-width="0.9"/>
<line x1="448.5" y1="564.13" x2="448.5" y2="571.4" stroke="#554b4b" stroke-width="1"/>
<line x1="448.5" y1="580.13" x2="448.5" y2="578.68" stroke="#554b4b" stroke-width="1"/>
<line x1="444.3" y1="564.13" x2="453.3" y2="564.13" stroke="#554b4b" stroke-width="0.9"/>
<line x1="444.3" y1="580.13" x2="453.3" y2="580.13" stroke="#554b4b" stroke-width="0.9"/>
<rect x="440.45" y="571.4" width="16.7" height="7.27" fill="#dcdedd" stroke="#554b4b" stroke-width="0.9"/>
<line x1="440.45" y1="575.77" x2="457.15" y2="575.77" stroke="#554b4b" stroke-width="0.9"/>
<circle cx="363.6" cy="474.3" r="2" fill="#f28c10" stroke="#5e3306" stroke-width="0.55"/>
<circle cx="359.8" cy="510.6" r="2" fill="#f28c10" stroke="#5e3306" stroke-width="0.55"/>
<circle cx="363.6" cy="509.5" r="2" fill="#f28c10" stroke="#5e3306" stroke-width="0.55"/>
<circle cx="364" cy="524" r="2" fill="#f28c10" stroke="#5e3306" stroke-width="0.55"/>
<circle cx="358.5" cy="541" r="2" fill="#f28c10" stroke="#5e3306" stroke-width="0.55"/>
<circle cx="364.5" cy="541.5" r="2" fill="#f28c10" stroke="#5e3306" stroke-width="0.55"/>
<circle cx="360" cy="548.5" r="2" fill="#f28c10" stroke="#5e3306" stroke-width="0.55"/>
<circle cx="357" cy="549.5" r="2" fill="#f28c10" stroke="#5e3306" stroke-width="0.55"/>
<circle cx="363" cy="546.5" r="2" fill="#f28c10" stroke="#5e3306" stroke-width="0.55"/>
<circle cx="385.6" cy="518.8" r="2" fill="#e6e6e6" stroke="#8a8a8a" stroke-width="0.55"/>
<circle cx="383" cy="533" r="2" fill="#e6e6e6" stroke="#8a8a8a" stroke-width="0.55"/>
<circle cx="387" cy="539.3" r="2" fill="#e6e6e6" stroke="#8a8a8a" stroke-width="0.55"/>
<circle cx="384.5" cy="556.86" r="2" fill="#e6e6e6" stroke="#8a8a8a" stroke-width="0.55"/>
<circle cx="389.21" cy="558.31" r="2" fill="#e6e6e6" stroke="#8a8a8a" stroke-width="0.55"/>
<circle cx="387.89" cy="559.76" r="2" fill="#e6e6e6" stroke="#8a8a8a" stroke-width="0.55"/>
<circle cx="389.41" cy="561.22" r="2" fill="#e6e6e6" stroke="#8a8a8a" stroke-width="0.55"/>
<circle cx="383.96" cy="562.67" r="2" fill="#e6e6e6" stroke="#8a8a8a" stroke-width="0.55"/>
<circle cx="383.46" cy="563.55" r="2" fill="#e6e6e6" stroke="#8a8a8a" stroke-width="0.55"/>
<circle cx="388.86" cy="564.13" r="2" fill="#e6e6e6" stroke="#8a8a8a" stroke-width="0.55"/>
<circle cx="382.98" cy="564.71" r="2" fill="#e6e6e6" stroke="#8a8a8a" stroke-width="0.55"/>
<circle cx="383.03" cy="565.58" r="2" fill="#e6e6e6" stroke="#8a8a8a" stroke-width="0.55"/>
<circle cx="386.3" cy="566.46" r="2" fill="#e6e6e6" stroke="#8a8a8a" stroke-width="0.55"/>
<circle cx="383.13" cy="567.04" r="2" fill="#e6e6e6" stroke="#8a8a8a" stroke-width="0.55"/>
<circle cx="385.18" cy="567.62" r="2" fill="#e6e6e6" stroke="#8a8a8a" stroke-width="0.55"/>
<circle cx="421.2" cy="534.3" r="2" fill="#f28c10" stroke="#5e3306" stroke-width="0.55"/>
<circle cx="424" cy="542.5" r="2" fill="#f28c10" stroke="#5e3306" stroke-width="0.55"/>
<circle cx="424.5" cy="545.5" r="2" fill="#f28c10" stroke="#5e3306" stroke-width="0.55"/>
<circle cx="424.5" cy="553.5" r="2" fill="#f28c10" stroke="#5e3306" stroke-width="0.55"/>
<circle cx="422" cy="558.5" r="2" fill="#f28c10" stroke="#5e3306" stroke-width="0.55"/>
<circle cx="424.5" cy="561" r="2" fill="#f28c10" stroke="#5e3306" stroke-width="0.55"/>
<circle cx="425" cy="568" r="2" fill="#f28c10" stroke="#5e3306" stroke-width="0.55"/>
<circle cx="419.8" cy="571.5" r="2" fill="#f28c10" stroke="#5e3306" stroke-width="0.55"/>
<circle cx="448.5" cy="550.5" r="2" fill="#e6e6e6" stroke="#8a8a8a" stroke-width="0.55"/>
<circle cx="451.01" cy="563.55" r="2" fill="#e6e6e6" stroke="#8a8a8a" stroke-width="0.55"/>
<circle cx="447.61" cy="564.71" r="2" fill="#e6e6e6" stroke="#8a8a8a" stroke-width="0.55"/>
<circle cx="448.89" cy="567.04" r="2" fill="#e6e6e6" stroke="#8a8a8a" stroke-width="0.55"/>
<circle cx="451.69" cy="568.5" r="2" fill="#e6e6e6" stroke="#8a8a8a" stroke-width="0.55"/>
<circle cx="450.16" cy="569.95" r="2" fill="#e6e6e6" stroke="#8a8a8a" stroke-width="0.55"/>
<circle cx="450.71" cy="571.4" r="2" fill="#e6e6e6" stroke="#8a8a8a" stroke-width="0.55"/>
<circle cx="445.71" cy="572.86" r="2" fill="#e6e6e6" stroke="#8a8a8a" stroke-width="0.55"/>
<circle cx="451.5" cy="574.31" r="2" fill="#e6e6e6" stroke="#8a8a8a" stroke-width="0.55"/>
<circle cx="449.26" cy="575.77" r="2" fill="#e6e6e6" stroke="#8a8a8a" stroke-width="0.55"/>
<circle cx="449.18" cy="576.35" r="2" fill="#e6e6e6" stroke="#8a8a8a" stroke-width="0.55"/>
<circle cx="445.64" cy="577.23" r="2" fill="#e6e6e6" stroke="#8a8a8a" stroke-width="0.55"/>
<circle cx="447.42" cy="578.1" r="2" fill="#e6e6e6" stroke="#8a8a8a" stroke-width="0.55"/>
<circle cx="449.64" cy="578.68" r="2" fill="#e6e6e6" stroke="#8a8a8a" stroke-width="0.55"/>
<circle cx="448.09" cy="579.55" r="2" fill="#e6e6e6" stroke="#8a8a8a" stroke-width="0.55"/>
<rect x="342.7" y="457.2" width="122.7" height="127.2" fill="none" stroke="#554b4b" stroke-width="1"/>
<line x1="339.9" y1="468.5" x2="342.7" y2="468.5" stroke="#554b4b" stroke-width="1"/>
<text x="337" y="471" text-anchor="end" stroke="#231f20">3.0</text>
<line x1="339.9" y1="482.5" x2="342.7" y2="482.5" stroke="#554b4b" stroke-width="1"/>
<text x="337" y="485.55" text-anchor="end" stroke="#231f20">2.5</text>
<line x1="339.9" y1="497.5" x2="342.7" y2="497.5" stroke="#554b4b" stroke-width="1"/>
<text x="337" y="500.1" text-anchor="end" stroke="#231f20">2.0</text>
<line x1="339.9" y1="511.5" x2="342.7" y2="511.5" stroke="#554b4b" stroke-width="1"/>
<text x="337" y="514.65" text-anchor="end" stroke="#231f20">1.5</text>
<line x1="339.9" y1="526.5" x2="342.7" y2="526.5" stroke="#554b4b" stroke-width="1"/>
<text x="337" y="529.2" text-anchor="end" stroke="#231f20">1.0</text>
<line x1="339.9" y1="540.5" x2="342.7" y2="540.5" stroke="#554b4b" stroke-width="1"/>
<text x="337" y="543.75" text-anchor="end" stroke="#231f20">0.5</text>
<line x1="339.9" y1="555.5" x2="342.7" y2="555.5" stroke="#554b4b" stroke-width="1"/>
<text x="337" y="558.3" text-anchor="end" stroke="#231f20">0.0</text>
<line x1="339.9" y1="569.5" x2="342.7" y2="569.5" stroke="#554b4b" stroke-width="1"/>
<text x="337" y="572.85" text-anchor="end" stroke="#231f20">-0.5</text>
<line x1="372.5" y1="584.4" x2="372.5" y2="587.2" stroke="#554b4b" stroke-width="1"/>
<text x="372.9" y="597.9" text-anchor="middle" stroke="#231f20">SMA</text>
<line x1="434.5" y1="584.4" x2="434.5" y2="587.2" stroke="#554b4b" stroke-width="1"/>
<text x="434.6" y="597.9" text-anchor="middle" stroke="#231f20">Vimentin</text>
<text stroke="#231f20" transform="translate(318.3,521) rotate(-90)" text-anchor="middle">Average expression</text>
<text x="373.6" y="465.2" text-anchor="middle" stroke="#231f20"><tspan font-style="italic">p</tspan> = 4.12e-5</text>
<line x1="361.9" y1="469.3" x2="384.5" y2="469.3" stroke="#554b4b" stroke-width="0.9"/>
<text x="435" y="522.2" text-anchor="middle" stroke="#231f20"><tspan font-style="italic">p</tspan> = 6.22e-5</text>
<line x1="424" y1="525.6" x2="446.1" y2="525.6" stroke="#554b4b" stroke-width="0.9"/>
<text x="449" y="470.2" text-anchor="end" stroke="#231f20">Other tumor-</text>
<text x="449" y="479.3" text-anchor="end" stroke="#231f20">enriched niches</text>
<rect x="452.3" y="463.4" width="8.4" height="8" fill="#dcdedd" stroke="#554b4b" stroke-width="0.8"/>
<text x="449" y="491.7" text-anchor="end" stroke="#231f20">3</text>
<rect x="452.3" y="485.1" width="8.4" height="8.1" fill="#d98020" stroke="#554b4b" stroke-width="0.8"/>
<text x="471.6" y="450.9" font-size="10" stroke="#231f20" font-weight="bold">h</text>
<line x1="528.5" y1="479.53" x2="528.5" y2="489.47" stroke="#554b4b" stroke-width="1"/>
<line x1="528.5" y1="500.45" x2="528.5" y2="494.7" stroke="#554b4b" stroke-width="1"/>
<line x1="523" y1="479.53" x2="533" y2="479.53" stroke="#554b4b" stroke-width="0.9"/>
<line x1="523" y1="500.45" x2="533" y2="500.45" stroke="#554b4b" stroke-width="0.9"/>
<rect x="518.55" y="489.47" width="18.9" height="5.23" fill="#d98020" stroke="#554b4b" stroke-width="0.9"/>
<line x1="518.55" y1="492.08" x2="537.45" y2="492.08" stroke="#554b4b" stroke-width="0.9"/>
<line x1="551.5" y1="474.3" x2="551.5" y2="482.67" stroke="#554b4b" stroke-width="1"/>
<line x1="551.5" y1="517.19" x2="551.5" y2="501.5" stroke="#554b4b" stroke-width="1"/>
<line x1="546.1" y1="474.3" x2="556.1" y2="474.3" stroke="#554b4b" stroke-width="0.9"/>
<line x1="546.1" y1="517.19" x2="556.1" y2="517.19" stroke="#554b4b" stroke-width="0.9"/>
<rect x="541.6" y="482.67" width="19" height="18.83" fill="#dcdedd" stroke="#554b4b" stroke-width="0.9"/>
<line x1="541.6" y1="487.38" x2="560.6" y2="487.38" stroke="#554b4b" stroke-width="0.9"/>
<line x1="585.5" y1="562.16" x2="585.5" y2="566.87" stroke="#554b4b" stroke-width="1"/>
<line x1="585.5" y1="574.19" x2="585.5" y2="572.1" stroke="#554b4b" stroke-width="1"/>
<line x1="580.8" y1="562.16" x2="590.8" y2="562.16" stroke="#554b4b" stroke-width="0.9"/>
<line x1="580.8" y1="574.19" x2="590.8" y2="574.19" stroke="#554b4b" stroke-width="0.9"/>
<rect x="576.15" y="566.87" width="19.3" height="5.23" fill="#d98020" stroke="#554b4b" stroke-width="0.9"/>
<line x1="576.15" y1="569.49" x2="595.45" y2="569.49" stroke="#554b4b" stroke-width="0.9"/>
<line x1="609.5" y1="540.2" x2="609.5" y2="551.7" stroke="#554b4b" stroke-width="1"/>
<line x1="609.5" y1="576.81" x2="609.5" y2="572.62" stroke="#554b4b" stroke-width="1"/>
<line x1="604.1" y1="540.2" x2="614.1" y2="540.2" stroke="#554b4b" stroke-width="0.9"/>
<line x1="604.1" y1="576.81" x2="614.1" y2="576.81" stroke="#554b4b" stroke-width="0.9"/>
<rect x="599.2" y="551.7" width="19.8" height="20.92" fill="#dcdedd" stroke="#554b4b" stroke-width="0.9"/>
<line x1="599.2" y1="568.44" x2="619" y2="568.44" stroke="#554b4b" stroke-width="0.9"/>
<line x1="644.5" y1="564.26" x2="644.5" y2="570.53" stroke="#554b4b" stroke-width="1"/>
<line x1="644.5" y1="578.9" x2="644.5" y2="575.24" stroke="#554b4b" stroke-width="1"/>
<line x1="639" y1="564.26" x2="649" y2="564.26" stroke="#554b4b" stroke-width="0.9"/>
<line x1="639" y1="578.9" x2="649" y2="578.9" stroke="#554b4b" stroke-width="0.9"/>
<rect x="634.35" y="570.53" width="19.3" height="4.71" fill="#d98020" stroke="#554b4b" stroke-width="0.9"/>
<line x1="634.35" y1="572.62" x2="653.65" y2="572.62" stroke="#554b4b" stroke-width="0.9"/>
<line x1="667.5" y1="575.76" x2="667.5" y2="576.81" stroke="#554b4b" stroke-width="1"/>
<line x1="667.5" y1="578.9" x2="667.5" y2="578.9" stroke="#554b4b" stroke-width="1"/>
<line x1="662.1" y1="575.76" x2="672.1" y2="575.76" stroke="#554b4b" stroke-width="0.9"/>
<line x1="662.1" y1="578.9" x2="672.1" y2="578.9" stroke="#554b4b" stroke-width="0.9"/>
<rect x="657.3" y="576.81" width="19.6" height="2.09" fill="#dcdedd" stroke="#554b4b" stroke-width="0.9"/>
<line x1="657.3" y1="577.85" x2="676.9" y2="577.85" stroke="#554b4b" stroke-width="0.9"/>
<circle cx="527.5" cy="479.8" r="2" fill="#f28c10" stroke="#5e3306" stroke-width="0.55"/>
<circle cx="530.5" cy="479.8" r="2" fill="#f28c10" stroke="#5e3306" stroke-width="0.55"/>
<circle cx="526.6" cy="487" r="2" fill="#f28c10" stroke="#5e3306" stroke-width="0.55"/>
<circle cx="527.5" cy="492" r="2" fill="#f28c10" stroke="#5e3306" stroke-width="0.55"/>
<circle cx="530" cy="490" r="2" fill="#f28c10" stroke="#5e3306" stroke-width="0.55"/>
<circle cx="527.5" cy="495" r="2" fill="#f28c10" stroke="#5e3306" stroke-width="0.55"/>
<circle cx="530" cy="500.3" r="2" fill="#f28c10" stroke="#5e3306" stroke-width="0.55"/>
<circle cx="525.5" cy="512.8" r="2" fill="#f28c10" stroke="#5e3306" stroke-width="0.55"/>
<circle cx="548.76" cy="474.3" r="2" fill="#e6e6e6" stroke="#5e5e5e" stroke-width="0.55"/>
<circle cx="546.91" cy="477.44" r="2" fill="#e6e6e6" stroke="#5e5e5e" stroke-width="0.55"/>
<circle cx="552.59" cy="479.53" r="2" fill="#e6e6e6" stroke="#5e5e5e" stroke-width="0.55"/>
<circle cx="546.89" cy="481.62" r="2" fill="#e6e6e6" stroke="#5e5e5e" stroke-width="0.55"/>
<circle cx="547.55" cy="482.67" r="2" fill="#e6e6e6" stroke="#5e5e5e" stroke-width="0.55"/>
<circle cx="551.93" cy="484.76" r="2" fill="#e6e6e6" stroke="#5e5e5e" stroke-width="0.55"/>
<circle cx="548.22" cy="485.81" r="2" fill="#e6e6e6" stroke="#5e5e5e" stroke-width="0.55"/>
<circle cx="552.52" cy="487.9" r="2" fill="#e6e6e6" stroke="#5e5e5e" stroke-width="0.55"/>
<circle cx="554.76" cy="489.99" r="2" fill="#e6e6e6" stroke="#5e5e5e" stroke-width="0.55"/>
<circle cx="550.27" cy="495.22" r="2" fill="#e6e6e6" stroke="#5e5e5e" stroke-width="0.55"/>
<circle cx="549.49" cy="497.31" r="2" fill="#e6e6e6" stroke="#5e5e5e" stroke-width="0.55"/>
<circle cx="549.05" cy="499.4" r="2" fill="#e6e6e6" stroke="#5e5e5e" stroke-width="0.55"/>
<circle cx="548.18" cy="501.5" r="2" fill="#e6e6e6" stroke="#5e5e5e" stroke-width="0.55"/>
<circle cx="549.35" cy="503.59" r="2" fill="#e6e6e6" stroke="#5e5e5e" stroke-width="0.55"/>
<circle cx="550.83" cy="505.68" r="2" fill="#e6e6e6" stroke="#5e5e5e" stroke-width="0.55"/>
<circle cx="547.13" cy="507.77" r="2" fill="#e6e6e6" stroke="#5e5e5e" stroke-width="0.55"/>
<circle cx="552.84" cy="510.91" r="2" fill="#e6e6e6" stroke="#5e5e5e" stroke-width="0.55"/>
<circle cx="549.33" cy="514.05" r="2" fill="#e6e6e6" stroke="#5e5e5e" stroke-width="0.55"/>
<circle cx="553.21" cy="516.14" r="2" fill="#e6e6e6" stroke="#5e5e5e" stroke-width="0.55"/>
<circle cx="550.08" cy="517.19" r="2" fill="#e6e6e6" stroke="#5e5e5e" stroke-width="0.55"/>
<circle cx="585.05" cy="562.16" r="2" fill="#f28c10" stroke="#5e3306" stroke-width="0.55"/>
<circle cx="588.5" cy="564.26" r="2" fill="#f28c10" stroke="#5e3306" stroke-width="0.55"/>
<circle cx="587.19" cy="566.35" r="2" fill="#f28c10" stroke="#5e3306" stroke-width="0.55"/>
<circle cx="586.39" cy="567.39" r="2" fill="#f28c10" stroke="#5e3306" stroke-width="0.55"/>
<circle cx="583.74" cy="568.44" r="2" fill="#f28c10" stroke="#5e3306" stroke-width="0.55"/>
<circle cx="583.74" cy="569.49" r="2" fill="#f28c10" stroke="#5e3306" stroke-width="0.55"/>
<circle cx="583.15" cy="570.53" r="2" fill="#f28c10" stroke="#5e3306" stroke-width="0.55"/>
<circle cx="588" cy="571.58" r="2" fill="#f28c10" stroke="#5e3306" stroke-width="0.55"/>
<circle cx="586.41" cy="572.62" r="2" fill="#f28c10" stroke="#5e3306" stroke-width="0.55"/>
<circle cx="587.05" cy="573.67" r="2" fill="#f28c10" stroke="#5e3306" stroke-width="0.55"/>
<circle cx="605.54" cy="540.2" r="2" fill="#e6e6e6" stroke="#5e5e5e" stroke-width="0.55"/>
<circle cx="609.98" cy="541.24" r="2" fill="#e6e6e6" stroke="#5e5e5e" stroke-width="0.55"/>
<circle cx="605.7" cy="544.38" r="2" fill="#e6e6e6" stroke="#5e5e5e" stroke-width="0.55"/>
<circle cx="606.67" cy="547.52" r="2" fill="#e6e6e6" stroke="#5e5e5e" stroke-width="0.55"/>
<circle cx="607.44" cy="550.66" r="2" fill="#e6e6e6" stroke="#5e5e5e" stroke-width="0.55"/>
<circle cx="612.23" cy="552.75" r="2" fill="#e6e6e6" stroke="#5e5e5e" stroke-width="0.55"/>
<circle cx="610.49" cy="555.89" r="2" fill="#e6e6e6" stroke="#5e5e5e" stroke-width="0.55"/>
<circle cx="609.37" cy="557.98" r="2" fill="#e6e6e6" stroke="#5e5e5e" stroke-width="0.55"/>
<circle cx="604.76" cy="561.12" r="2" fill="#e6e6e6" stroke="#5e5e5e" stroke-width="0.55"/>
<circle cx="611.1" cy="563.21" r="2" fill="#e6e6e6" stroke="#5e5e5e" stroke-width="0.55"/>
<circle cx="608.05" cy="565.3" r="2" fill="#e6e6e6" stroke="#5e5e5e" stroke-width="0.55"/>
<circle cx="611.72" cy="566.35" r="2" fill="#e6e6e6" stroke="#5e5e5e" stroke-width="0.55"/>
<circle cx="606.79" cy="568.44" r="2" fill="#e6e6e6" stroke="#5e5e5e" stroke-width="0.55"/>
<circle cx="605.01" cy="569.49" r="2" fill="#e6e6e6" stroke="#5e5e5e" stroke-width="0.55"/>
<circle cx="612.3" cy="570.53" r="2" fill="#e6e6e6" stroke="#5e5e5e" stroke-width="0.55"/>
<circle cx="606.49" cy="571.58" r="2" fill="#e6e6e6" stroke="#5e5e5e" stroke-width="0.55"/>
<circle cx="608.14" cy="572.62" r="2" fill="#e6e6e6" stroke="#5e5e5e" stroke-width="0.55"/>
<circle cx="607.34" cy="574.72" r="2" fill="#e6e6e6" stroke="#5e5e5e" stroke-width="0.55"/>
<circle cx="605.19" cy="575.76" r="2" fill="#e6e6e6" stroke="#5e5e5e" stroke-width="0.55"/>
<circle cx="612.09" cy="576.81" r="2" fill="#e6e6e6" stroke="#5e5e5e" stroke-width="0.55"/>
<circle cx="645.4" cy="553.5" r="2" fill="#f28c10" stroke="#5e3306" stroke-width="0.55"/>
<circle cx="645.67" cy="564.26" r="2" fill="#f28c10" stroke="#5e3306" stroke-width="0.55"/>
<circle cx="642.02" cy="567.39" r="2" fill="#f28c10" stroke="#5e3306" stroke-width="0.55"/>
<circle cx="645.22" cy="570.53" r="2" fill="#f28c10" stroke="#5e3306" stroke-width="0.55"/>
<circle cx="643.3" cy="571.58" r="2" fill="#f28c10" stroke="#5e3306" stroke-width="0.55"/>
<circle cx="643.3" cy="572.62" r="2" fill="#f28c10" stroke="#5e3306" stroke-width="0.55"/>
<circle cx="644.55" cy="573.67" r="2" fill="#f28c10" stroke="#5e3306" stroke-width="0.55"/>
<circle cx="643.47" cy="574.72" r="2" fill="#f28c10" stroke="#5e3306" stroke-width="0.55"/>
<circle cx="643.55" cy="576.81" r="2" fill="#f28c10" stroke="#5e3306" stroke-width="0.55"/>
<circle cx="644.05" cy="577.85" r="2" fill="#f28c10" stroke="#5e3306" stroke-width="0.55"/>
<circle cx="666.6" cy="568.5" r="2" fill="#e6e6e6" stroke="#5e5e5e" stroke-width="0.55"/>
<circle cx="669.93" cy="574.72" r="2" fill="#e6e6e6" stroke="#5e5e5e" stroke-width="0.55"/>
<circle cx="667.3" cy="575.76" r="2" fill="#e6e6e6" stroke="#5e5e5e" stroke-width="0.55"/>
<circle cx="665.69" cy="576.28" r="2" fill="#e6e6e6" stroke="#5e5e5e" stroke-width="0.55"/>
<circle cx="664.46" cy="576.81" r="2" fill="#e6e6e6" stroke="#5e5e5e" stroke-width="0.55"/>
<circle cx="666.67" cy="577.33" r="2" fill="#e6e6e6" stroke="#5e5e5e" stroke-width="0.55"/>
<circle cx="666.84" cy="577.85" r="2" fill="#e6e6e6" stroke="#5e5e5e" stroke-width="0.55"/>
<circle cx="664.29" cy="578.38" r="2" fill="#e6e6e6" stroke="#5e5e5e" stroke-width="0.55"/>
<circle cx="664.98" cy="578.9" r="2" fill="#e6e6e6" stroke="#5e5e5e" stroke-width="0.55"/>
<rect x="510.1" y="457.2" width="172.5" height="127.7" fill="none" stroke="#554b4b" stroke-width="1"/>
<line x1="507.3" y1="578.5" x2="510.1" y2="578.5" stroke="#554b4b" stroke-width="1"/>
<text x="503" y="581.8" text-anchor="end" stroke="#231f20">0.0</text>
<line x1="507.3" y1="557.5" x2="510.1" y2="557.5" stroke="#554b4b" stroke-width="1"/>
<text x="503" y="560.88" text-anchor="end" stroke="#231f20">0.2</text>
<line x1="507.3" y1="537.5" x2="510.1" y2="537.5" stroke="#554b4b" stroke-width="1"/>
<text x="503" y="539.96" text-anchor="end" stroke="#231f20">0.4</text>
<line x1="507.3" y1="516.5" x2="510.1" y2="516.5" stroke="#554b4b" stroke-width="1"/>
<text x="503" y="519.04" text-anchor="end" stroke="#231f20">0.6</text>
<line x1="507.3" y1="495.5" x2="510.1" y2="495.5" stroke="#554b4b" stroke-width="1"/>
<text x="503" y="498.12" text-anchor="end" stroke="#231f20">0.8</text>
<line x1="507.3" y1="474.5" x2="510.1" y2="474.5" stroke="#554b4b" stroke-width="1"/>
<text x="503" y="477.2" text-anchor="end" stroke="#231f20">1.0</text>
<line x1="539.5" y1="584.9" x2="539.5" y2="587.7" stroke="#554b4b" stroke-width="1"/>
<text x="539.4" y="597.9" text-anchor="middle" stroke="#231f20">Tumor cells</text>
<line x1="597.5" y1="584.9" x2="597.5" y2="587.7" stroke="#554b4b" stroke-width="1"/>
<text x="597.2" y="597.9" text-anchor="middle" stroke="#231f20">Immune cells</text>
<line x1="655.5" y1="584.9" x2="655.5" y2="587.7" stroke="#554b4b" stroke-width="1"/>
<text x="655.3" y="597.9" text-anchor="middle" stroke="#231f20">Stromal cells</text>
<text stroke="#231f20" transform="translate(485.8,521) rotate(-90)" text-anchor="middle">Proportion</text>
<text x="539" y="465.2" text-anchor="middle" stroke="#231f20"><tspan font-style="italic">p</tspan> = 0.711</text>
<line x1="528.2" y1="469.3" x2="550.3" y2="469.3" stroke="#554b4b" stroke-width="0.9"/>
<text x="597.8" y="530.5" text-anchor="middle" stroke="#231f20"><tspan font-style="italic">p</tspan> = 0.239</text>
<line x1="586.8" y1="534.3" x2="609" y2="534.3" stroke="#554b4b" stroke-width="0.9"/>
<text x="656" y="543.7" text-anchor="middle" stroke="#231f20"><tspan font-style="italic">p</tspan> = 0.002</text>
<line x1="644.7" y1="547.1" x2="666.5" y2="547.1" stroke="#554b4b" stroke-width="0.9"/>
<text x="667.3" y="469.9" text-anchor="end" stroke="#231f20">Other tumor-enriched niches</text>
<rect x="671.4" y="463.6" width="8" height="7.9" fill="#dcdedd" stroke="#554b4b" stroke-width="0.8"/>
<text x="667.3" y="483.5" text-anchor="end" stroke="#231f20">3</text>
<rect x="671.4" y="477.2" width="8" height="7.9" fill="#d98020" stroke="#554b4b" stroke-width="0.8"/>
</svg></body></html>
